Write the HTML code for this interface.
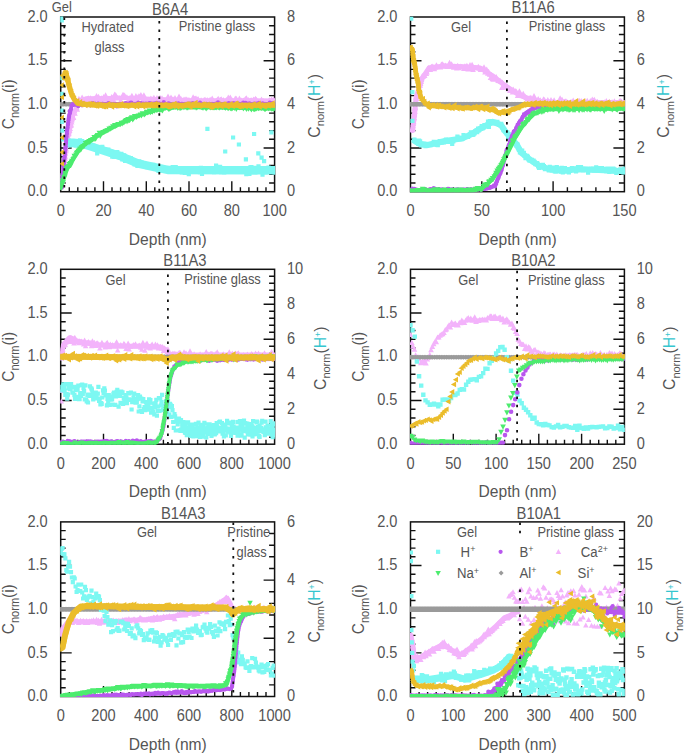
<!DOCTYPE html><html><head><meta charset="utf-8"><style>html,body{margin:0;padding:0;background:#fff;}svg{display:block;}</style></head><body>
<svg width="685" height="755" viewBox="0 0 685 755" font-family='"Liberation Sans", sans-serif'>
<rect width="685" height="755" fill="#fff"/>
<path d="M60.7 183h5M60.7 174.2h5M60.7 165.5h5M60.7 156.8h5M60.7 148h11M60.7 139.3h5M60.7 130.6h5M60.7 121.8h5M60.7 113.1h5M60.7 104.3h11M60.7 95.6h5M60.7 86.9h5M60.7 78.1h5M60.7 69.4h5M60.7 60.7h11M60.7 51.9h5M60.7 43.2h5M60.7 34.5h5M60.7 25.7h5M274.6 183h-5.5M274.6 174.2h-5.5M274.6 165.5h-5.5M274.6 156.8h-5.5M274.6 148h-11M274.6 139.3h-5.5M274.6 130.6h-5.5M274.6 121.8h-5.5M274.6 113.1h-5.5M274.6 104.3h-11M274.6 95.6h-5.5M274.6 86.9h-5.5M274.6 78.1h-5.5M274.6 69.4h-5.5M274.6 60.7h-11M274.6 51.9h-5.5M274.6 43.2h-5.5M274.6 34.5h-5.5M274.6 25.7h-5.5M69.3 191.7v-4.5M77.8 191.7v-4.5M86.4 191.7v-4.5M94.9 191.7v-4.5M103.5 191.7v-10.5M112 191.7v-4.5M120.6 191.7v-4.5M129.1 191.7v-4.5M137.7 191.7v-4.5M146.3 191.7v-10.5M154.8 191.7v-4.5M163.4 191.7v-4.5M171.9 191.7v-4.5M180.5 191.7v-4.5M189 191.7v-10.5M197.6 191.7v-4.5M206.2 191.7v-4.5M214.7 191.7v-4.5M223.3 191.7v-4.5M231.8 191.7v-10.5M240.4 191.7v-4.5M248.9 191.7v-4.5M257.5 191.7v-4.5M266 191.7v-4.5" stroke="#111" stroke-width="1.4" fill="none"/>
<rect x="60.7" y="17" width="213.9" height="174.7" fill="none" stroke="#111" stroke-width="1.5"/>
<clipPath id="c1"><rect x="60.2" y="16.5" width="214.9" height="175.7"/></clipPath><g clip-path="url(#c1)">
<polyline fill="none" stroke="#f3b3fb" stroke-width="4" stroke-linejoin="round" stroke-linecap="round" points="61.8,183 63.9,165.5 66,148 69.3,130.6 72.5,117.5 75.7,108.7 80,100.9 86.4,98.2 124.9,97.8 157,99.1 189,100 274.6,100.4"/>
<path fill="#f3b3fb" d="M61.8 179.8l2.8 5h-5.5zM61.9 178.8l2.8 5h-5.5zM62 176.7l2.8 5h-5.5zM62.1 178.9l2.8 5h-5.5zM62.3 177.7l2.8 5h-5.5zM62.4 175.7l2.8 5h-5.5zM62.5 171.4l2.8 5h-5.5zM62.7 173.8l2.8 5h-5.5zM62.8 169.3l2.8 5h-5.5zM62.9 169.6l2.8 5h-5.5zM63 170.4l2.8 5h-5.5zM63.2 169.7l2.8 5h-5.5zM63.3 168.4l2.8 5h-5.5zM63.4 165.8l2.8 5h-5.5zM63.5 166.7l2.8 5h-5.5zM63.7 163.8l2.8 5h-5.5zM63.8 163.2l2.8 5h-5.5zM63.9 163.7l2.8 5h-5.5zM64 161l2.8 5h-5.5zM64.2 159.9l2.8 5h-5.5zM64.3 158.4l2.8 5h-5.5zM64.4 159.3l2.8 5h-5.5zM64.5 157.7l2.8 5h-5.5zM64.7 153.4l2.8 5h-5.5zM64.8 155.4l2.8 5h-5.5zM64.9 155.3l2.8 5h-5.5zM65 151.2l2.8 5h-5.5zM65.2 153.5l2.8 5h-5.5zM65.3 153.7l2.8 5h-5.5zM65.4 150.6l2.8 5h-5.5zM65.5 150.4l2.8 5h-5.5zM65.7 147.6l2.8 5h-5.5zM65.8 145.8l2.8 5h-5.5zM65.9 148.3l2.8 5h-5.5zM66 143l2.8 5h-5.5zM66.2 146.5l2.8 5h-5.5zM66.4 140.2l2.8 5h-5.5zM66.6 142.8l2.8 5h-5.5zM66.8 139.4l2.8 5h-5.5zM67 141.9l2.8 5h-5.5zM67.2 139.5l2.8 5h-5.5zM67.4 140.6l2.8 5h-5.5zM67.6 137.9l2.8 5h-5.5zM67.7 133.6l2.8 5h-5.5zM67.9 136.5l2.8 5h-5.5zM68.1 130.9l2.8 5h-5.5zM68.3 134.3l2.8 5h-5.5zM68.5 131.6l2.8 5h-5.5zM68.7 128.8l2.8 5h-5.5zM68.9 130.7l2.8 5h-5.5zM69.1 129.3l2.8 5h-5.5zM69.3 128l2.8 5h-5.5zM69.5 125.8l2.8 5h-5.5zM69.7 127.4l2.8 5h-5.5zM70 123.4l2.8 5h-5.5zM70.2 126.1l2.8 5h-5.5zM70.5 120.6l2.8 5h-5.5zM70.7 121.5l2.8 5h-5.5zM71 123l2.8 5h-5.5zM71.2 121.7l2.8 5h-5.5zM71.5 117.5l2.8 5h-5.5zM71.7 119.5l2.8 5h-5.5zM72 117.3l2.8 5h-5.5zM72.2 116l2.8 5h-5.5zM72.5 114.4l2.8 5h-5.5zM72.8 114.6l2.8 5h-5.5zM73.2 114l2.8 5h-5.5zM73.5 115l2.8 5h-5.5zM73.9 110.1l2.8 5h-5.5zM74.2 109.8l2.8 5h-5.5zM74.6 108.3l2.8 5h-5.5zM75 110.8l2.8 5h-5.5zM75.3 105.2l2.8 5h-5.5zM75.7 106.6l2.8 5h-5.5zM76.2 104.3l2.8 5h-5.5zM76.7 104.4l2.8 5h-5.5zM77.3 106.8l2.8 5h-5.5zM77.8 101.2l2.8 5h-5.5zM78.3 100.7l2.8 5h-5.5zM78.9 95.8l2.8 5h-5.5zM79.4 100.7l2.8 5h-5.5zM80 98l2.8 5h-5.5zM81 99l2.8 5h-5.5zM82.1 94.6l2.8 5h-5.5zM83.2 96.3l2.8 5h-5.5zM84.2 98.1l2.8 5h-5.5zM85.3 97.6l2.8 5h-5.5zM86.4 96.6l2.8 5h-5.5zM87.4 95.8l2.8 5h-5.5zM88.4 95.2l2.8 5h-5.5zM89.4 96.7l2.8 5h-5.5zM90.4 95.3l2.8 5h-5.5zM91.4 97.1l2.8 5h-5.5zM92.4 99.7l2.8 5h-5.5zM93.5 96.8l2.8 5h-5.5zM94.5 95.6l2.8 5h-5.5zM95.5 95.7l2.8 5h-5.5zM96.5 93l2.8 5h-5.5zM97.5 96.3l2.8 5h-5.5zM98.5 93.7l2.8 5h-5.5zM99.5 97.3l2.8 5h-5.5zM100.6 97.6l2.8 5h-5.5zM101.6 95.3l2.8 5h-5.5zM102.6 96.5l2.8 5h-5.5zM103.6 93.9l2.8 5h-5.5zM104.6 96.8l2.8 5h-5.5zM105.6 92.2l2.8 5h-5.5zM106.6 95.1l2.8 5h-5.5zM107.6 95.9l2.8 5h-5.5zM108.7 97.6l2.8 5h-5.5zM109.7 97l2.8 5h-5.5zM110.7 97.5l2.8 5h-5.5zM111.7 94l2.8 5h-5.5zM112.7 95.4l2.8 5h-5.5zM113.7 97.4l2.8 5h-5.5zM114.7 91.6l2.8 5h-5.5zM115.8 92.2l2.8 5h-5.5zM116.8 95.6l2.8 5h-5.5zM117.8 95.1l2.8 5h-5.5zM118.8 95.2l2.8 5h-5.5zM119.8 95l2.8 5h-5.5zM120.8 97.4l2.8 5h-5.5zM121.8 94l2.8 5h-5.5zM122.8 92.1l2.8 5h-5.5zM123.9 92l2.8 5h-5.5zM124.9 93.1l2.8 5h-5.5zM125.9 94.8l2.8 5h-5.5zM126.9 94.2l2.8 5h-5.5zM127.9 98l2.8 5h-5.5zM128.9 96l2.8 5h-5.5zM129.9 94.9l2.8 5h-5.5zM130.9 94.4l2.8 5h-5.5zM131.9 92.7l2.8 5h-5.5zM132.9 97l2.8 5h-5.5zM133.9 95.4l2.8 5h-5.5zM134.9 95.7l2.8 5h-5.5zM135.9 93l2.8 5h-5.5zM136.9 97l2.8 5h-5.5zM137.9 94.2l2.8 5h-5.5zM138.9 93.2l2.8 5h-5.5zM139.9 93.8l2.8 5h-5.5zM140.9 92l2.8 5h-5.5zM141.9 94.7l2.8 5h-5.5zM142.9 96.9l2.8 5h-5.5zM143.9 92.3l2.8 5h-5.5zM144.9 96.3l2.8 5h-5.5zM145.9 97.1l2.8 5h-5.5zM146.9 97l2.8 5h-5.5zM147.9 98.1l2.8 5h-5.5zM148.9 96.7l2.8 5h-5.5zM149.9 97.5l2.8 5h-5.5zM150.9 95.6l2.8 5h-5.5zM151.9 99.2l2.8 5h-5.5zM152.9 96.9l2.8 5h-5.5zM153.9 94.8l2.8 5h-5.5zM154.9 99.2l2.8 5h-5.5zM156 97.2l2.8 5h-5.5zM157 94.9l2.8 5h-5.5zM158 96.8l2.8 5h-5.5zM159 96.4l2.8 5h-5.5zM160 94.8l2.8 5h-5.5zM161 97.9l2.8 5h-5.5zM162 95.2l2.8 5h-5.5zM163 100.7l2.8 5h-5.5zM164 97.6l2.8 5h-5.5zM165 97.6l2.8 5h-5.5zM166 99.3l2.8 5h-5.5zM167 96.5l2.8 5h-5.5zM168 93.6l2.8 5h-5.5zM169 97.2l2.8 5h-5.5zM170 98.8l2.8 5h-5.5zM171 94.5l2.8 5h-5.5zM172 97.2l2.8 5h-5.5zM173 96.2l2.8 5h-5.5zM174 100.2l2.8 5h-5.5zM175 95l2.8 5h-5.5zM176 99.6l2.8 5h-5.5zM177 99.8l2.8 5h-5.5zM178 95.6l2.8 5h-5.5zM179 93.6l2.8 5h-5.5zM180 96.9l2.8 5h-5.5zM181 95.9l2.8 5h-5.5zM182 97.8l2.8 5h-5.5zM183 98.1l2.8 5h-5.5zM184 96.6l2.8 5h-5.5zM185 97.2l2.8 5h-5.5zM186 96.2l2.8 5h-5.5zM187 97l2.8 5h-5.5zM188 97.2l2.8 5h-5.5zM189 97l2.8 5h-5.5zM190 97.9l2.8 5h-5.5zM191.1 97.9l2.8 5h-5.5zM192.1 97.9l2.8 5h-5.5zM193.1 94.3l2.8 5h-5.5zM194.1 95.8l2.8 5h-5.5zM195.1 95.6l2.8 5h-5.5zM196.1 95.6l2.8 5h-5.5zM197.1 96.7l2.8 5h-5.5zM198.1 96.1l2.8 5h-5.5zM199.1 98.1l2.8 5h-5.5zM200.1 99.6l2.8 5h-5.5zM201.1 97.3l2.8 5h-5.5zM202.1 99.9l2.8 5h-5.5zM203.1 98.9l2.8 5h-5.5zM204.1 97.1l2.8 5h-5.5zM205.1 96.8l2.8 5h-5.5zM206.2 98.3l2.8 5h-5.5zM207.2 97l2.8 5h-5.5zM208.2 99.3l2.8 5h-5.5zM209.2 97.5l2.8 5h-5.5zM210.2 96.8l2.8 5h-5.5zM211.2 98.9l2.8 5h-5.5zM212.2 95.5l2.8 5h-5.5zM213.2 97.9l2.8 5h-5.5zM214.2 98.6l2.8 5h-5.5zM215.2 98.7l2.8 5h-5.5zM216.2 97.7l2.8 5h-5.5zM217.2 97l2.8 5h-5.5zM218.2 95.7l2.8 5h-5.5zM219.2 97.4l2.8 5h-5.5zM220.2 96.7l2.8 5h-5.5zM221.3 96.3l2.8 5h-5.5zM222.3 98.3l2.8 5h-5.5zM223.3 97l2.8 5h-5.5zM224.3 100.3l2.8 5h-5.5zM225.3 99.1l2.8 5h-5.5zM226.3 97.1l2.8 5h-5.5zM227.3 98.7l2.8 5h-5.5zM228.3 94.4l2.8 5h-5.5zM229.3 98.4l2.8 5h-5.5zM230.3 94.6l2.8 5h-5.5zM231.3 96.5l2.8 5h-5.5zM232.3 97.5l2.8 5h-5.5zM233.3 98.5l2.8 5h-5.5zM234.3 99.8l2.8 5h-5.5zM235.3 95.4l2.8 5h-5.5zM236.3 95.8l2.8 5h-5.5zM237.4 97.4l2.8 5h-5.5zM238.4 98.3l2.8 5h-5.5zM239.4 95.5l2.8 5h-5.5zM240.4 97.2l2.8 5h-5.5zM241.4 97.4l2.8 5h-5.5zM242.4 98.6l2.8 5h-5.5zM243.4 97.4l2.8 5h-5.5zM244.4 97.2l2.8 5h-5.5zM245.4 96l2.8 5h-5.5zM246.4 95.2l2.8 5h-5.5zM247.4 97.8l2.8 5h-5.5zM248.4 97.1l2.8 5h-5.5zM249.4 98.3l2.8 5h-5.5zM250.4 97.5l2.8 5h-5.5zM251.4 97.3l2.8 5h-5.5zM252.5 98.7l2.8 5h-5.5zM253.5 96.4l2.8 5h-5.5zM254.5 97l2.8 5h-5.5zM255.5 95.8l2.8 5h-5.5zM256.5 96.8l2.8 5h-5.5zM257.5 98.4l2.8 5h-5.5zM258.5 101.2l2.8 5h-5.5zM259.5 99.3l2.8 5h-5.5zM260.5 99.4l2.8 5h-5.5zM261.5 96.4l2.8 5h-5.5zM262.5 98.6l2.8 5h-5.5zM263.5 98.1l2.8 5h-5.5zM264.5 98.8l2.8 5h-5.5zM265.5 98.4l2.8 5h-5.5zM266.5 98.4l2.8 5h-5.5zM267.6 99.5l2.8 5h-5.5zM268.6 98l2.8 5h-5.5zM269.6 97.3l2.8 5h-5.5zM270.6 99.5l2.8 5h-5.5zM271.6 96.4l2.8 5h-5.5zM272.6 98.6l2.8 5h-5.5zM273.6 96.4l2.8 5h-5.5zM274.6 100.3l2.8 5h-5.5z"/>
<polyline fill="none" stroke="#7cf8f2" stroke-width="8.5" stroke-linejoin="round" stroke-linecap="round" points="68.4,142.8 73.5,142.8 82.1,143.7 90.2,146.3 106.3,151.5 122.3,156.8 138.3,163.7 154.4,167.2 167.7,169.9 274.6,170.3"/>
<path fill="#7cf8f2" d="M66.3 141.2h4.2v4.2h-4.2zM67.3 143.2h4.2v4.2h-4.2zM68.4 141.9h4.2v4.2h-4.2zM69.4 139.5h4.2v4.2h-4.2zM70.4 143h4.2v4.2h-4.2zM71.4 139.5h4.2v4.2h-4.2zM72.5 140.7h4.2v4.2h-4.2zM73.6 143.6h4.2v4.2h-4.2zM74.6 140.1h4.2v4.2h-4.2zM75.7 141.1h4.2v4.2h-4.2zM76.8 140.1h4.2v4.2h-4.2zM77.9 138.3h4.2v4.2h-4.2zM78.9 143.8h4.2v4.2h-4.2zM80 138.9h4.2v4.2h-4.2zM81 143.9h4.2v4.2h-4.2zM82 142.1h4.2v4.2h-4.2zM83 142.3h4.2v4.2h-4.2zM84.1 142.9h4.2v4.2h-4.2zM85.1 143.1h4.2v4.2h-4.2zM86.1 144.3h4.2v4.2h-4.2zM87.1 142.3h4.2v4.2h-4.2zM88.1 143.3h4.2v4.2h-4.2zM89.1 145.8h4.2v4.2h-4.2zM90.1 144h4.2v4.2h-4.2zM91.1 143.5h4.2v4.2h-4.2zM92.1 146h4.2v4.2h-4.2zM93.1 146.8h4.2v4.2h-4.2zM94.1 144.9h4.2v4.2h-4.2zM95.1 151.4h4.2v4.2h-4.2zM96.1 145.9h4.2v4.2h-4.2zM97.1 147.4h4.2v4.2h-4.2zM98.1 147h4.2v4.2h-4.2zM99.1 147.9h4.2v4.2h-4.2zM100.2 144.8h4.2v4.2h-4.2zM101.2 148.4h4.2v4.2h-4.2zM102.2 146.9h4.2v4.2h-4.2zM103.2 148h4.2v4.2h-4.2zM104.2 150.7h4.2v4.2h-4.2zM105.2 150.6h4.2v4.2h-4.2zM106.2 147.6h4.2v4.2h-4.2zM107.2 151.2h4.2v4.2h-4.2zM108.2 150.6h4.2v4.2h-4.2zM109.2 149.5h4.2v4.2h-4.2zM110.2 154.6h4.2v4.2h-4.2zM111.2 152h4.2v4.2h-4.2zM112.2 154.7h4.2v4.2h-4.2zM113.2 153.9h4.2v4.2h-4.2zM114.2 152.7h4.2v4.2h-4.2zM115.2 149.9h4.2v4.2h-4.2zM116.2 154.9h4.2v4.2h-4.2zM117.2 155h4.2v4.2h-4.2zM118.2 154.8h4.2v4.2h-4.2zM119.2 151.7h4.2v4.2h-4.2zM120.2 157.3h4.2v4.2h-4.2zM121.1 153.3h4.2v4.2h-4.2zM122.1 153.3h4.2v4.2h-4.2zM123 158.9h4.2v4.2h-4.2zM124 156.7h4.2v4.2h-4.2zM124.9 155.8h4.2v4.2h-4.2zM125.9 158h4.2v4.2h-4.2zM126.8 155.8h4.2v4.2h-4.2zM127.8 158.5h4.2v4.2h-4.2zM128.7 156.1h4.2v4.2h-4.2zM129.6 157.8h4.2v4.2h-4.2zM130.6 159h4.2v4.2h-4.2zM131.5 159h4.2v4.2h-4.2zM132.5 162.4h4.2v4.2h-4.2zM133.4 161.9h4.2v4.2h-4.2zM134.4 161h4.2v4.2h-4.2zM135.3 163.9h4.2v4.2h-4.2zM136.2 161.5h4.2v4.2h-4.2zM137.2 159.2h4.2v4.2h-4.2zM138.3 160.9h4.2v4.2h-4.2zM139.3 160.3h4.2v4.2h-4.2zM140.3 162.6h4.2v4.2h-4.2zM141.3 161.8h4.2v4.2h-4.2zM142.3 162.5h4.2v4.2h-4.2zM143.3 164h4.2v4.2h-4.2zM144.3 162.2h4.2v4.2h-4.2zM145.3 165.1h4.2v4.2h-4.2zM146.3 164.4h4.2v4.2h-4.2zM147.3 164.6h4.2v4.2h-4.2zM148.3 163.1h4.2v4.2h-4.2zM149.3 163.4h4.2v4.2h-4.2zM150.3 165h4.2v4.2h-4.2zM151.3 162.8h4.2v4.2h-4.2zM152.3 166.2h4.2v4.2h-4.2zM153.3 166.4h4.2v4.2h-4.2zM154.3 165.9h4.2v4.2h-4.2zM155.3 167.4h4.2v4.2h-4.2zM156.4 168.9h4.2v4.2h-4.2zM157.4 165.5h4.2v4.2h-4.2zM158.4 167.8h4.2v4.2h-4.2zM159.4 168.2h4.2v4.2h-4.2zM160.4 166.7h4.2v4.2h-4.2zM161.5 166.1h4.2v4.2h-4.2zM162.5 166.1h4.2v4.2h-4.2zM163.5 167.4h4.2v4.2h-4.2zM164.5 167.3h4.2v4.2h-4.2zM165.6 168.6h4.2v4.2h-4.2zM166.6 168.9h4.2v4.2h-4.2zM167.6 165.8h4.2v4.2h-4.2zM168.6 168.6h4.2v4.2h-4.2zM169.6 169.7h4.2v4.2h-4.2zM170.6 165.1h4.2v4.2h-4.2zM171.6 168.4h4.2v4.2h-4.2zM172.6 168.1h4.2v4.2h-4.2zM173.6 165.1h4.2v4.2h-4.2zM174.6 167.9h4.2v4.2h-4.2zM175.6 168.4h4.2v4.2h-4.2zM176.6 169h4.2v4.2h-4.2zM177.7 167.7h4.2v4.2h-4.2zM178.7 167.1h4.2v4.2h-4.2zM179.7 170.2h4.2v4.2h-4.2zM180.7 167.6h4.2v4.2h-4.2zM181.7 167.3h4.2v4.2h-4.2zM182.7 170.8h4.2v4.2h-4.2zM183.7 170h4.2v4.2h-4.2zM184.7 168.2h4.2v4.2h-4.2zM185.7 168h4.2v4.2h-4.2zM186.7 172h4.2v4.2h-4.2zM187.7 166.8h4.2v4.2h-4.2zM188.8 166h4.2v4.2h-4.2zM189.8 168.9h4.2v4.2h-4.2zM190.8 168.8h4.2v4.2h-4.2zM191.8 169.2h4.2v4.2h-4.2zM192.8 166.7h4.2v4.2h-4.2zM193.8 167.2h4.2v4.2h-4.2zM194.8 168h4.2v4.2h-4.2zM195.8 168.8h4.2v4.2h-4.2zM196.8 167.9h4.2v4.2h-4.2zM197.8 170.1h4.2v4.2h-4.2zM198.8 165.7h4.2v4.2h-4.2zM199.9 171.8h4.2v4.2h-4.2zM200.9 167.8h4.2v4.2h-4.2zM201.9 169.6h4.2v4.2h-4.2zM202.9 167.4h4.2v4.2h-4.2zM203.9 168.1h4.2v4.2h-4.2zM204.9 166h4.2v4.2h-4.2zM205.9 167.9h4.2v4.2h-4.2zM206.9 167.5h4.2v4.2h-4.2zM207.9 168.7h4.2v4.2h-4.2zM208.9 166.4h4.2v4.2h-4.2zM209.9 167.9h4.2v4.2h-4.2zM211 168h4.2v4.2h-4.2zM212 170h4.2v4.2h-4.2zM213 166.6h4.2v4.2h-4.2zM214 163.6h4.2v4.2h-4.2zM215 166.7h4.2v4.2h-4.2zM216 168.9h4.2v4.2h-4.2zM217 168.8h4.2v4.2h-4.2zM218 164.8h4.2v4.2h-4.2zM219 170.1h4.2v4.2h-4.2zM220 169.4h4.2v4.2h-4.2zM221 168.8h4.2v4.2h-4.2zM222.1 170.3h4.2v4.2h-4.2zM223.1 169.5h4.2v4.2h-4.2zM224.1 169.3h4.2v4.2h-4.2zM225.1 167.8h4.2v4.2h-4.2zM226.1 168.8h4.2v4.2h-4.2zM227.1 166h4.2v4.2h-4.2zM228.1 168.4h4.2v4.2h-4.2zM229.1 168.8h4.2v4.2h-4.2zM230.1 168h4.2v4.2h-4.2zM231.1 167.3h4.2v4.2h-4.2zM232.1 169.6h4.2v4.2h-4.2zM233.2 167.6h4.2v4.2h-4.2zM234.2 167.6h4.2v4.2h-4.2zM235.2 168.7h4.2v4.2h-4.2zM236.2 168.8h4.2v4.2h-4.2zM237.2 166.3h4.2v4.2h-4.2zM238.2 167.6h4.2v4.2h-4.2zM239.2 169.5h4.2v4.2h-4.2zM240.2 166.9h4.2v4.2h-4.2zM241.2 166.5h4.2v4.2h-4.2zM242.2 167.2h4.2v4.2h-4.2zM243.2 166.9h4.2v4.2h-4.2zM244.2 172h4.2v4.2h-4.2zM245.3 167.3h4.2v4.2h-4.2zM246.3 167.9h4.2v4.2h-4.2zM247.3 171.9h4.2v4.2h-4.2zM248.3 165.2h4.2v4.2h-4.2zM249.3 165.1h4.2v4.2h-4.2zM250.3 167.1h4.2v4.2h-4.2zM251.3 170.3h4.2v4.2h-4.2zM252.3 165.7h4.2v4.2h-4.2zM253.3 170.2h4.2v4.2h-4.2zM254.3 166.7h4.2v4.2h-4.2zM255.3 169h4.2v4.2h-4.2zM256.4 164.2h4.2v4.2h-4.2zM257.4 169.7h4.2v4.2h-4.2zM258.4 169.7h4.2v4.2h-4.2zM259.4 168.4h4.2v4.2h-4.2zM260.4 172.6h4.2v4.2h-4.2zM261.4 167.6h4.2v4.2h-4.2zM262.4 169.7h4.2v4.2h-4.2zM263.4 170.2h4.2v4.2h-4.2zM264.4 168.6h4.2v4.2h-4.2zM265.4 168.4h4.2v4.2h-4.2zM266.4 165.4h4.2v4.2h-4.2zM267.5 168.7h4.2v4.2h-4.2zM268.5 168.5h4.2v4.2h-4.2zM269.5 166.5h4.2v4.2h-4.2zM270.5 169.1h4.2v4.2h-4.2zM271.5 167.6h4.2v4.2h-4.2zM272.5 170.4h4.2v4.2h-4.2zM59 15.8h4.2v4.2h-4.2zM59.7 18.4h4.2v4.2h-4.2zM59.5 76h4.2v4.2h-4.2zM59.7 91.8h4.2v4.2h-4.2zM59.9 108.4h4.2v4.2h-4.2zM59.7 119.7h4.2v4.2h-4.2zM60.1 128.5h4.2v4.2h-4.2zM61.2 137.2h4.2v4.2h-4.2zM205.3 126.7h4.2v4.2h-4.2zM231 135.4h4.2v4.2h-4.2zM236.8 142.4h4.2v4.2h-4.2zM223.1 149.4h4.2v4.2h-4.2zM252 131.9h4.2v4.2h-4.2zM269.3 130.2h4.2v4.2h-4.2zM243.8 157.3h4.2v4.2h-4.2zM256.2 151.2h4.2v4.2h-4.2zM259.5 155.5h4.2v4.2h-4.2zM262 159h4.2v4.2h-4.2z"/>
<polyline fill="none" stroke="#9a9a9a" stroke-width="3.5" stroke-linejoin="round" stroke-linecap="round" points="60.7,104.3 274.6,104.3"/>
<path fill="#9a9a9a" d="M60.7 101.8l2.5 2.5 -2.5 2.5 -2.5 -2.5zM62.2 101.8l2.5 2.5 -2.5 2.5 -2.5 -2.5zM63.7 101.8l2.5 2.5 -2.5 2.5 -2.5 -2.5zM65.2 101.8l2.5 2.5 -2.5 2.5 -2.5 -2.5zM66.7 101.8l2.5 2.5 -2.5 2.5 -2.5 -2.5zM68.2 101.8l2.5 2.5 -2.5 2.5 -2.5 -2.5zM69.7 101.8l2.5 2.5 -2.5 2.5 -2.5 -2.5zM71.2 101.8l2.5 2.5 -2.5 2.5 -2.5 -2.5zM72.8 101.8l2.5 2.5 -2.5 2.5 -2.5 -2.5zM74.3 101.8l2.5 2.5 -2.5 2.5 -2.5 -2.5zM75.8 101.8l2.5 2.5 -2.5 2.5 -2.5 -2.5zM77.3 101.8l2.5 2.5 -2.5 2.5 -2.5 -2.5zM78.8 101.8l2.5 2.5 -2.5 2.5 -2.5 -2.5zM80.3 101.8l2.5 2.5 -2.5 2.5 -2.5 -2.5zM81.8 101.8l2.5 2.5 -2.5 2.5 -2.5 -2.5zM83.3 101.8l2.5 2.5 -2.5 2.5 -2.5 -2.5zM84.8 101.8l2.5 2.5 -2.5 2.5 -2.5 -2.5zM86.3 101.8l2.5 2.5 -2.5 2.5 -2.5 -2.5zM87.8 101.8l2.5 2.5 -2.5 2.5 -2.5 -2.5zM89.3 101.8l2.5 2.5 -2.5 2.5 -2.5 -2.5zM90.8 101.8l2.5 2.5 -2.5 2.5 -2.5 -2.5zM92.3 101.8l2.5 2.5 -2.5 2.5 -2.5 -2.5zM93.8 101.8l2.5 2.5 -2.5 2.5 -2.5 -2.5zM95.3 101.8l2.5 2.5 -2.5 2.5 -2.5 -2.5zM96.9 101.8l2.5 2.5 -2.5 2.5 -2.5 -2.5zM98.4 101.8l2.5 2.5 -2.5 2.5 -2.5 -2.5zM99.9 101.8l2.5 2.5 -2.5 2.5 -2.5 -2.5zM101.4 101.8l2.5 2.5 -2.5 2.5 -2.5 -2.5zM102.9 101.8l2.5 2.5 -2.5 2.5 -2.5 -2.5zM104.4 101.8l2.5 2.5 -2.5 2.5 -2.5 -2.5zM105.9 101.8l2.5 2.5 -2.5 2.5 -2.5 -2.5zM107.4 101.8l2.5 2.5 -2.5 2.5 -2.5 -2.5zM108.9 101.8l2.5 2.5 -2.5 2.5 -2.5 -2.5zM110.4 101.8l2.5 2.5 -2.5 2.5 -2.5 -2.5zM111.9 101.8l2.5 2.5 -2.5 2.5 -2.5 -2.5zM113.4 101.8l2.5 2.5 -2.5 2.5 -2.5 -2.5zM114.9 101.8l2.5 2.5 -2.5 2.5 -2.5 -2.5zM116.4 101.8l2.5 2.5 -2.5 2.5 -2.5 -2.5zM117.9 101.8l2.5 2.5 -2.5 2.5 -2.5 -2.5zM119.4 101.8l2.5 2.5 -2.5 2.5 -2.5 -2.5zM121 101.8l2.5 2.5 -2.5 2.5 -2.5 -2.5zM122.5 101.8l2.5 2.5 -2.5 2.5 -2.5 -2.5zM124 101.8l2.5 2.5 -2.5 2.5 -2.5 -2.5zM125.5 101.8l2.5 2.5 -2.5 2.5 -2.5 -2.5zM127 101.8l2.5 2.5 -2.5 2.5 -2.5 -2.5zM128.5 101.8l2.5 2.5 -2.5 2.5 -2.5 -2.5zM130 101.8l2.5 2.5 -2.5 2.5 -2.5 -2.5zM131.5 101.8l2.5 2.5 -2.5 2.5 -2.5 -2.5zM133 101.8l2.5 2.5 -2.5 2.5 -2.5 -2.5zM134.5 101.8l2.5 2.5 -2.5 2.5 -2.5 -2.5zM136 101.8l2.5 2.5 -2.5 2.5 -2.5 -2.5zM137.5 101.8l2.5 2.5 -2.5 2.5 -2.5 -2.5zM139 101.8l2.5 2.5 -2.5 2.5 -2.5 -2.5zM140.5 101.8l2.5 2.5 -2.5 2.5 -2.5 -2.5zM142 101.8l2.5 2.5 -2.5 2.5 -2.5 -2.5zM143.5 101.8l2.5 2.5 -2.5 2.5 -2.5 -2.5zM145.1 101.8l2.5 2.5 -2.5 2.5 -2.5 -2.5zM146.6 101.8l2.5 2.5 -2.5 2.5 -2.5 -2.5zM148.1 101.8l2.5 2.5 -2.5 2.5 -2.5 -2.5zM149.6 101.8l2.5 2.5 -2.5 2.5 -2.5 -2.5zM151.1 101.8l2.5 2.5 -2.5 2.5 -2.5 -2.5zM152.6 101.8l2.5 2.5 -2.5 2.5 -2.5 -2.5zM154.1 101.8l2.5 2.5 -2.5 2.5 -2.5 -2.5zM155.6 101.8l2.5 2.5 -2.5 2.5 -2.5 -2.5zM157.1 101.8l2.5 2.5 -2.5 2.5 -2.5 -2.5zM158.6 101.8l2.5 2.5 -2.5 2.5 -2.5 -2.5zM160.1 101.8l2.5 2.5 -2.5 2.5 -2.5 -2.5zM161.6 101.8l2.5 2.5 -2.5 2.5 -2.5 -2.5zM163.1 101.8l2.5 2.5 -2.5 2.5 -2.5 -2.5zM164.6 101.8l2.5 2.5 -2.5 2.5 -2.5 -2.5zM166.1 101.8l2.5 2.5 -2.5 2.5 -2.5 -2.5zM167.7 101.8l2.5 2.5 -2.5 2.5 -2.5 -2.5zM169.2 101.8l2.5 2.5 -2.5 2.5 -2.5 -2.5zM170.7 101.8l2.5 2.5 -2.5 2.5 -2.5 -2.5zM172.2 101.8l2.5 2.5 -2.5 2.5 -2.5 -2.5zM173.7 101.8l2.5 2.5 -2.5 2.5 -2.5 -2.5zM175.2 101.8l2.5 2.5 -2.5 2.5 -2.5 -2.5zM176.7 101.8l2.5 2.5 -2.5 2.5 -2.5 -2.5zM178.2 101.8l2.5 2.5 -2.5 2.5 -2.5 -2.5zM179.7 101.8l2.5 2.5 -2.5 2.5 -2.5 -2.5zM181.2 101.8l2.5 2.5 -2.5 2.5 -2.5 -2.5zM182.7 101.8l2.5 2.5 -2.5 2.5 -2.5 -2.5zM184.2 101.8l2.5 2.5 -2.5 2.5 -2.5 -2.5zM185.7 101.8l2.5 2.5 -2.5 2.5 -2.5 -2.5zM187.2 101.8l2.5 2.5 -2.5 2.5 -2.5 -2.5zM188.7 101.8l2.5 2.5 -2.5 2.5 -2.5 -2.5zM190.2 101.8l2.5 2.5 -2.5 2.5 -2.5 -2.5zM191.8 101.8l2.5 2.5 -2.5 2.5 -2.5 -2.5zM193.3 101.8l2.5 2.5 -2.5 2.5 -2.5 -2.5zM194.8 101.8l2.5 2.5 -2.5 2.5 -2.5 -2.5zM196.3 101.8l2.5 2.5 -2.5 2.5 -2.5 -2.5zM197.8 101.8l2.5 2.5 -2.5 2.5 -2.5 -2.5zM199.3 101.8l2.5 2.5 -2.5 2.5 -2.5 -2.5zM200.8 101.8l2.5 2.5 -2.5 2.5 -2.5 -2.5zM202.3 101.8l2.5 2.5 -2.5 2.5 -2.5 -2.5zM203.8 101.8l2.5 2.5 -2.5 2.5 -2.5 -2.5zM205.3 101.8l2.5 2.5 -2.5 2.5 -2.5 -2.5zM206.8 101.8l2.5 2.5 -2.5 2.5 -2.5 -2.5zM208.3 101.8l2.5 2.5 -2.5 2.5 -2.5 -2.5zM209.8 101.8l2.5 2.5 -2.5 2.5 -2.5 -2.5zM211.3 101.8l2.5 2.5 -2.5 2.5 -2.5 -2.5zM212.8 101.8l2.5 2.5 -2.5 2.5 -2.5 -2.5zM214.3 101.8l2.5 2.5 -2.5 2.5 -2.5 -2.5zM215.9 101.8l2.5 2.5 -2.5 2.5 -2.5 -2.5zM217.4 101.8l2.5 2.5 -2.5 2.5 -2.5 -2.5zM218.9 101.8l2.5 2.5 -2.5 2.5 -2.5 -2.5zM220.4 101.8l2.5 2.5 -2.5 2.5 -2.5 -2.5zM221.9 101.8l2.5 2.5 -2.5 2.5 -2.5 -2.5zM223.4 101.8l2.5 2.5 -2.5 2.5 -2.5 -2.5zM224.9 101.8l2.5 2.5 -2.5 2.5 -2.5 -2.5zM226.4 101.8l2.5 2.5 -2.5 2.5 -2.5 -2.5zM227.9 101.8l2.5 2.5 -2.5 2.5 -2.5 -2.5zM229.4 101.8l2.5 2.5 -2.5 2.5 -2.5 -2.5zM230.9 101.8l2.5 2.5 -2.5 2.5 -2.5 -2.5zM232.4 101.8l2.5 2.5 -2.5 2.5 -2.5 -2.5zM233.9 101.8l2.5 2.5 -2.5 2.5 -2.5 -2.5zM235.4 101.8l2.5 2.5 -2.5 2.5 -2.5 -2.5zM236.9 101.8l2.5 2.5 -2.5 2.5 -2.5 -2.5zM238.4 101.8l2.5 2.5 -2.5 2.5 -2.5 -2.5zM240 101.8l2.5 2.5 -2.5 2.5 -2.5 -2.5zM241.5 101.8l2.5 2.5 -2.5 2.5 -2.5 -2.5zM243 101.8l2.5 2.5 -2.5 2.5 -2.5 -2.5zM244.5 101.8l2.5 2.5 -2.5 2.5 -2.5 -2.5zM246 101.8l2.5 2.5 -2.5 2.5 -2.5 -2.5zM247.5 101.8l2.5 2.5 -2.5 2.5 -2.5 -2.5zM249 101.8l2.5 2.5 -2.5 2.5 -2.5 -2.5zM250.5 101.8l2.5 2.5 -2.5 2.5 -2.5 -2.5zM252 101.8l2.5 2.5 -2.5 2.5 -2.5 -2.5zM253.5 101.8l2.5 2.5 -2.5 2.5 -2.5 -2.5zM255 101.8l2.5 2.5 -2.5 2.5 -2.5 -2.5zM256.5 101.8l2.5 2.5 -2.5 2.5 -2.5 -2.5zM258 101.8l2.5 2.5 -2.5 2.5 -2.5 -2.5zM259.5 101.8l2.5 2.5 -2.5 2.5 -2.5 -2.5zM261 101.8l2.5 2.5 -2.5 2.5 -2.5 -2.5zM262.5 101.8l2.5 2.5 -2.5 2.5 -2.5 -2.5zM264.1 101.8l2.5 2.5 -2.5 2.5 -2.5 -2.5zM265.6 101.8l2.5 2.5 -2.5 2.5 -2.5 -2.5zM267.1 101.8l2.5 2.5 -2.5 2.5 -2.5 -2.5zM268.6 101.8l2.5 2.5 -2.5 2.5 -2.5 -2.5zM270.1 101.8l2.5 2.5 -2.5 2.5 -2.5 -2.5zM271.6 101.8l2.5 2.5 -2.5 2.5 -2.5 -2.5zM273.1 101.8l2.5 2.5 -2.5 2.5 -2.5 -2.5zM274.6 101.8l2.5 2.5 -2.5 2.5 -2.5 -2.5z"/>
<polyline fill="none" stroke="#b857ee" stroke-width="3.5" stroke-linejoin="round" stroke-linecap="round" points="61.8,187.3 62.8,174.2 65,152.4 67.1,130.6 69.3,114.8 71.4,107 73.5,104.3 274.6,104.3"/>
<path fill="#b857ee" d="M59.7 187.7a2.1 2.1 0 1 0 4.2 0a2.1 2.1 0 1 0 -4.2 0zM59.8 185.1a2.1 2.1 0 1 0 4.2 0a2.1 2.1 0 1 0 -4.2 0zM59.9 184.6a2.1 2.1 0 1 0 4.2 0a2.1 2.1 0 1 0 -4.2 0zM60 183.3a2.1 2.1 0 1 0 4.2 0a2.1 2.1 0 1 0 -4.2 0zM60.1 181.8a2.1 2.1 0 1 0 4.2 0a2.1 2.1 0 1 0 -4.2 0zM60.2 181.7a2.1 2.1 0 1 0 4.2 0a2.1 2.1 0 1 0 -4.2 0zM60.3 180.8a2.1 2.1 0 1 0 4.2 0a2.1 2.1 0 1 0 -4.2 0zM60.4 177.7a2.1 2.1 0 1 0 4.2 0a2.1 2.1 0 1 0 -4.2 0zM60.5 176.3a2.1 2.1 0 1 0 4.2 0a2.1 2.1 0 1 0 -4.2 0zM60.6 174.8a2.1 2.1 0 1 0 4.2 0a2.1 2.1 0 1 0 -4.2 0zM60.7 174.5a2.1 2.1 0 1 0 4.2 0a2.1 2.1 0 1 0 -4.2 0zM60.9 173.2a2.1 2.1 0 1 0 4.2 0a2.1 2.1 0 1 0 -4.2 0zM61 172a2.1 2.1 0 1 0 4.2 0a2.1 2.1 0 1 0 -4.2 0zM61.1 171.4a2.1 2.1 0 1 0 4.2 0a2.1 2.1 0 1 0 -4.2 0zM61.2 168.1a2.1 2.1 0 1 0 4.2 0a2.1 2.1 0 1 0 -4.2 0zM61.3 168.3a2.1 2.1 0 1 0 4.2 0a2.1 2.1 0 1 0 -4.2 0zM61.5 165.5a2.1 2.1 0 1 0 4.2 0a2.1 2.1 0 1 0 -4.2 0zM61.6 165.8a2.1 2.1 0 1 0 4.2 0a2.1 2.1 0 1 0 -4.2 0zM61.7 164.1a2.1 2.1 0 1 0 4.2 0a2.1 2.1 0 1 0 -4.2 0zM61.8 164.3a2.1 2.1 0 1 0 4.2 0a2.1 2.1 0 1 0 -4.2 0zM61.9 161.3a2.1 2.1 0 1 0 4.2 0a2.1 2.1 0 1 0 -4.2 0zM62 161.3a2.1 2.1 0 1 0 4.2 0a2.1 2.1 0 1 0 -4.2 0zM62.2 159.8a2.1 2.1 0 1 0 4.2 0a2.1 2.1 0 1 0 -4.2 0zM62.3 159.1a2.1 2.1 0 1 0 4.2 0a2.1 2.1 0 1 0 -4.2 0zM62.4 157.7a2.1 2.1 0 1 0 4.2 0a2.1 2.1 0 1 0 -4.2 0zM62.5 156.3a2.1 2.1 0 1 0 4.2 0a2.1 2.1 0 1 0 -4.2 0zM62.6 154.3a2.1 2.1 0 1 0 4.2 0a2.1 2.1 0 1 0 -4.2 0zM62.8 153.9a2.1 2.1 0 1 0 4.2 0a2.1 2.1 0 1 0 -4.2 0zM62.9 152.4a2.1 2.1 0 1 0 4.2 0a2.1 2.1 0 1 0 -4.2 0zM63 150.7a2.1 2.1 0 1 0 4.2 0a2.1 2.1 0 1 0 -4.2 0zM63.1 149.7a2.1 2.1 0 1 0 4.2 0a2.1 2.1 0 1 0 -4.2 0zM63.2 150.1a2.1 2.1 0 1 0 4.2 0a2.1 2.1 0 1 0 -4.2 0zM63.4 149.3a2.1 2.1 0 1 0 4.2 0a2.1 2.1 0 1 0 -4.2 0zM63.5 147a2.1 2.1 0 1 0 4.2 0a2.1 2.1 0 1 0 -4.2 0zM63.6 146.7a2.1 2.1 0 1 0 4.2 0a2.1 2.1 0 1 0 -4.2 0zM63.7 143.8a2.1 2.1 0 1 0 4.2 0a2.1 2.1 0 1 0 -4.2 0zM63.8 143.1a2.1 2.1 0 1 0 4.2 0a2.1 2.1 0 1 0 -4.2 0zM63.9 141.9a2.1 2.1 0 1 0 4.2 0a2.1 2.1 0 1 0 -4.2 0zM64.1 140.1a2.1 2.1 0 1 0 4.2 0a2.1 2.1 0 1 0 -4.2 0zM64.2 137.8a2.1 2.1 0 1 0 4.2 0a2.1 2.1 0 1 0 -4.2 0zM64.3 137.5a2.1 2.1 0 1 0 4.2 0a2.1 2.1 0 1 0 -4.2 0zM64.4 136a2.1 2.1 0 1 0 4.2 0a2.1 2.1 0 1 0 -4.2 0zM64.5 136.2a2.1 2.1 0 1 0 4.2 0a2.1 2.1 0 1 0 -4.2 0zM64.7 133a2.1 2.1 0 1 0 4.2 0a2.1 2.1 0 1 0 -4.2 0zM64.8 133.8a2.1 2.1 0 1 0 4.2 0a2.1 2.1 0 1 0 -4.2 0zM64.9 130.5a2.1 2.1 0 1 0 4.2 0a2.1 2.1 0 1 0 -4.2 0zM65 130a2.1 2.1 0 1 0 4.2 0a2.1 2.1 0 1 0 -4.2 0zM65.2 129a2.1 2.1 0 1 0 4.2 0a2.1 2.1 0 1 0 -4.2 0zM65.3 128.3a2.1 2.1 0 1 0 4.2 0a2.1 2.1 0 1 0 -4.2 0zM65.5 127.7a2.1 2.1 0 1 0 4.2 0a2.1 2.1 0 1 0 -4.2 0zM65.7 125.1a2.1 2.1 0 1 0 4.2 0a2.1 2.1 0 1 0 -4.2 0zM65.8 124a2.1 2.1 0 1 0 4.2 0a2.1 2.1 0 1 0 -4.2 0zM66 124a2.1 2.1 0 1 0 4.2 0a2.1 2.1 0 1 0 -4.2 0zM66.2 122.4a2.1 2.1 0 1 0 4.2 0a2.1 2.1 0 1 0 -4.2 0zM66.3 120.4a2.1 2.1 0 1 0 4.2 0a2.1 2.1 0 1 0 -4.2 0zM66.5 118.8a2.1 2.1 0 1 0 4.2 0a2.1 2.1 0 1 0 -4.2 0zM66.7 117.8a2.1 2.1 0 1 0 4.2 0a2.1 2.1 0 1 0 -4.2 0zM66.8 116.3a2.1 2.1 0 1 0 4.2 0a2.1 2.1 0 1 0 -4.2 0zM67 116.6a2.1 2.1 0 1 0 4.2 0a2.1 2.1 0 1 0 -4.2 0zM67.2 115a2.1 2.1 0 1 0 4.2 0a2.1 2.1 0 1 0 -4.2 0zM67.5 111.2a2.1 2.1 0 1 0 4.2 0a2.1 2.1 0 1 0 -4.2 0zM67.9 113.3a2.1 2.1 0 1 0 4.2 0a2.1 2.1 0 1 0 -4.2 0zM68.2 111.7a2.1 2.1 0 1 0 4.2 0a2.1 2.1 0 1 0 -4.2 0zM68.6 110.6a2.1 2.1 0 1 0 4.2 0a2.1 2.1 0 1 0 -4.2 0zM68.9 109.2a2.1 2.1 0 1 0 4.2 0a2.1 2.1 0 1 0 -4.2 0zM69.3 105.6a2.1 2.1 0 1 0 4.2 0a2.1 2.1 0 1 0 -4.2 0zM70.4 104.4a2.1 2.1 0 1 0 4.2 0a2.1 2.1 0 1 0 -4.2 0zM71.4 104.9a2.1 2.1 0 1 0 4.2 0a2.1 2.1 0 1 0 -4.2 0zM72.6 102.6a2.1 2.1 0 1 0 4.2 0a2.1 2.1 0 1 0 -4.2 0zM73.8 104.7a2.1 2.1 0 1 0 4.2 0a2.1 2.1 0 1 0 -4.2 0zM75 103.2a2.1 2.1 0 1 0 4.2 0a2.1 2.1 0 1 0 -4.2 0zM76.2 106.2a2.1 2.1 0 1 0 4.2 0a2.1 2.1 0 1 0 -4.2 0zM77.5 104.2a2.1 2.1 0 1 0 4.2 0a2.1 2.1 0 1 0 -4.2 0zM78.7 104.2a2.1 2.1 0 1 0 4.2 0a2.1 2.1 0 1 0 -4.2 0zM79.9 105.3a2.1 2.1 0 1 0 4.2 0a2.1 2.1 0 1 0 -4.2 0zM81.1 103.2a2.1 2.1 0 1 0 4.2 0a2.1 2.1 0 1 0 -4.2 0zM82.3 103.9a2.1 2.1 0 1 0 4.2 0a2.1 2.1 0 1 0 -4.2 0zM83.5 104.6a2.1 2.1 0 1 0 4.2 0a2.1 2.1 0 1 0 -4.2 0zM84.7 105.3a2.1 2.1 0 1 0 4.2 0a2.1 2.1 0 1 0 -4.2 0zM85.9 104.7a2.1 2.1 0 1 0 4.2 0a2.1 2.1 0 1 0 -4.2 0zM87.1 103.9a2.1 2.1 0 1 0 4.2 0a2.1 2.1 0 1 0 -4.2 0zM88.3 105.4a2.1 2.1 0 1 0 4.2 0a2.1 2.1 0 1 0 -4.2 0zM89.5 104.8a2.1 2.1 0 1 0 4.2 0a2.1 2.1 0 1 0 -4.2 0zM90.7 103.2a2.1 2.1 0 1 0 4.2 0a2.1 2.1 0 1 0 -4.2 0zM91.9 104.7a2.1 2.1 0 1 0 4.2 0a2.1 2.1 0 1 0 -4.2 0zM93.1 103.6a2.1 2.1 0 1 0 4.2 0a2.1 2.1 0 1 0 -4.2 0zM94.3 105a2.1 2.1 0 1 0 4.2 0a2.1 2.1 0 1 0 -4.2 0zM95.5 103.6a2.1 2.1 0 1 0 4.2 0a2.1 2.1 0 1 0 -4.2 0zM96.7 103.9a2.1 2.1 0 1 0 4.2 0a2.1 2.1 0 1 0 -4.2 0zM97.9 104.8a2.1 2.1 0 1 0 4.2 0a2.1 2.1 0 1 0 -4.2 0zM99.1 104.8a2.1 2.1 0 1 0 4.2 0a2.1 2.1 0 1 0 -4.2 0zM100.3 103.9a2.1 2.1 0 1 0 4.2 0a2.1 2.1 0 1 0 -4.2 0zM101.5 103.8a2.1 2.1 0 1 0 4.2 0a2.1 2.1 0 1 0 -4.2 0zM102.7 105.7a2.1 2.1 0 1 0 4.2 0a2.1 2.1 0 1 0 -4.2 0zM103.9 104.2a2.1 2.1 0 1 0 4.2 0a2.1 2.1 0 1 0 -4.2 0zM105.1 104a2.1 2.1 0 1 0 4.2 0a2.1 2.1 0 1 0 -4.2 0zM106.3 103.2a2.1 2.1 0 1 0 4.2 0a2.1 2.1 0 1 0 -4.2 0zM107.6 103.9a2.1 2.1 0 1 0 4.2 0a2.1 2.1 0 1 0 -4.2 0zM108.8 105.9a2.1 2.1 0 1 0 4.2 0a2.1 2.1 0 1 0 -4.2 0zM110 105.9a2.1 2.1 0 1 0 4.2 0a2.1 2.1 0 1 0 -4.2 0zM111.2 105.6a2.1 2.1 0 1 0 4.2 0a2.1 2.1 0 1 0 -4.2 0zM112.4 105.4a2.1 2.1 0 1 0 4.2 0a2.1 2.1 0 1 0 -4.2 0zM113.6 104.2a2.1 2.1 0 1 0 4.2 0a2.1 2.1 0 1 0 -4.2 0zM114.8 106.5a2.1 2.1 0 1 0 4.2 0a2.1 2.1 0 1 0 -4.2 0zM116 104a2.1 2.1 0 1 0 4.2 0a2.1 2.1 0 1 0 -4.2 0zM117.2 104.7a2.1 2.1 0 1 0 4.2 0a2.1 2.1 0 1 0 -4.2 0zM118.4 104.5a2.1 2.1 0 1 0 4.2 0a2.1 2.1 0 1 0 -4.2 0zM119.6 104.1a2.1 2.1 0 1 0 4.2 0a2.1 2.1 0 1 0 -4.2 0zM120.8 105.6a2.1 2.1 0 1 0 4.2 0a2.1 2.1 0 1 0 -4.2 0zM122 105.3a2.1 2.1 0 1 0 4.2 0a2.1 2.1 0 1 0 -4.2 0zM123.2 103.2a2.1 2.1 0 1 0 4.2 0a2.1 2.1 0 1 0 -4.2 0zM124.4 103.4a2.1 2.1 0 1 0 4.2 0a2.1 2.1 0 1 0 -4.2 0zM125.6 104.7a2.1 2.1 0 1 0 4.2 0a2.1 2.1 0 1 0 -4.2 0zM126.8 104.8a2.1 2.1 0 1 0 4.2 0a2.1 2.1 0 1 0 -4.2 0zM128 102.9a2.1 2.1 0 1 0 4.2 0a2.1 2.1 0 1 0 -4.2 0zM129.2 102.7a2.1 2.1 0 1 0 4.2 0a2.1 2.1 0 1 0 -4.2 0zM130.4 103.7a2.1 2.1 0 1 0 4.2 0a2.1 2.1 0 1 0 -4.2 0zM131.6 104.4a2.1 2.1 0 1 0 4.2 0a2.1 2.1 0 1 0 -4.2 0zM132.8 104a2.1 2.1 0 1 0 4.2 0a2.1 2.1 0 1 0 -4.2 0zM134 103.9a2.1 2.1 0 1 0 4.2 0a2.1 2.1 0 1 0 -4.2 0zM135.2 103.3a2.1 2.1 0 1 0 4.2 0a2.1 2.1 0 1 0 -4.2 0zM136.4 102.7a2.1 2.1 0 1 0 4.2 0a2.1 2.1 0 1 0 -4.2 0zM137.7 106a2.1 2.1 0 1 0 4.2 0a2.1 2.1 0 1 0 -4.2 0zM138.9 103.2a2.1 2.1 0 1 0 4.2 0a2.1 2.1 0 1 0 -4.2 0zM140.1 103.5a2.1 2.1 0 1 0 4.2 0a2.1 2.1 0 1 0 -4.2 0zM141.3 103.7a2.1 2.1 0 1 0 4.2 0a2.1 2.1 0 1 0 -4.2 0zM142.5 104.7a2.1 2.1 0 1 0 4.2 0a2.1 2.1 0 1 0 -4.2 0zM143.7 103.5a2.1 2.1 0 1 0 4.2 0a2.1 2.1 0 1 0 -4.2 0zM144.9 105.5a2.1 2.1 0 1 0 4.2 0a2.1 2.1 0 1 0 -4.2 0zM146.1 103.5a2.1 2.1 0 1 0 4.2 0a2.1 2.1 0 1 0 -4.2 0zM147.3 103.2a2.1 2.1 0 1 0 4.2 0a2.1 2.1 0 1 0 -4.2 0zM148.5 103.3a2.1 2.1 0 1 0 4.2 0a2.1 2.1 0 1 0 -4.2 0zM149.7 104.5a2.1 2.1 0 1 0 4.2 0a2.1 2.1 0 1 0 -4.2 0zM150.9 104.1a2.1 2.1 0 1 0 4.2 0a2.1 2.1 0 1 0 -4.2 0zM152.1 103.4a2.1 2.1 0 1 0 4.2 0a2.1 2.1 0 1 0 -4.2 0zM153.3 103.7a2.1 2.1 0 1 0 4.2 0a2.1 2.1 0 1 0 -4.2 0zM154.5 102.9a2.1 2.1 0 1 0 4.2 0a2.1 2.1 0 1 0 -4.2 0zM155.7 104.6a2.1 2.1 0 1 0 4.2 0a2.1 2.1 0 1 0 -4.2 0zM156.9 103.4a2.1 2.1 0 1 0 4.2 0a2.1 2.1 0 1 0 -4.2 0zM158.1 104.7a2.1 2.1 0 1 0 4.2 0a2.1 2.1 0 1 0 -4.2 0zM159.3 104.8a2.1 2.1 0 1 0 4.2 0a2.1 2.1 0 1 0 -4.2 0zM160.5 103.7a2.1 2.1 0 1 0 4.2 0a2.1 2.1 0 1 0 -4.2 0zM161.7 102a2.1 2.1 0 1 0 4.2 0a2.1 2.1 0 1 0 -4.2 0zM162.9 103.5a2.1 2.1 0 1 0 4.2 0a2.1 2.1 0 1 0 -4.2 0zM164.1 104a2.1 2.1 0 1 0 4.2 0a2.1 2.1 0 1 0 -4.2 0zM165.3 104a2.1 2.1 0 1 0 4.2 0a2.1 2.1 0 1 0 -4.2 0zM166.5 103.3a2.1 2.1 0 1 0 4.2 0a2.1 2.1 0 1 0 -4.2 0zM167.8 105.7a2.1 2.1 0 1 0 4.2 0a2.1 2.1 0 1 0 -4.2 0zM169 105.2a2.1 2.1 0 1 0 4.2 0a2.1 2.1 0 1 0 -4.2 0zM170.2 105.1a2.1 2.1 0 1 0 4.2 0a2.1 2.1 0 1 0 -4.2 0zM171.4 104.9a2.1 2.1 0 1 0 4.2 0a2.1 2.1 0 1 0 -4.2 0zM172.6 105.4a2.1 2.1 0 1 0 4.2 0a2.1 2.1 0 1 0 -4.2 0zM173.8 103.5a2.1 2.1 0 1 0 4.2 0a2.1 2.1 0 1 0 -4.2 0zM175 105.4a2.1 2.1 0 1 0 4.2 0a2.1 2.1 0 1 0 -4.2 0zM176.2 103.4a2.1 2.1 0 1 0 4.2 0a2.1 2.1 0 1 0 -4.2 0zM177.4 104a2.1 2.1 0 1 0 4.2 0a2.1 2.1 0 1 0 -4.2 0zM178.6 104.1a2.1 2.1 0 1 0 4.2 0a2.1 2.1 0 1 0 -4.2 0zM179.8 103.9a2.1 2.1 0 1 0 4.2 0a2.1 2.1 0 1 0 -4.2 0zM181 104.4a2.1 2.1 0 1 0 4.2 0a2.1 2.1 0 1 0 -4.2 0zM182.2 104.5a2.1 2.1 0 1 0 4.2 0a2.1 2.1 0 1 0 -4.2 0zM183.4 104.6a2.1 2.1 0 1 0 4.2 0a2.1 2.1 0 1 0 -4.2 0zM184.6 103.9a2.1 2.1 0 1 0 4.2 0a2.1 2.1 0 1 0 -4.2 0zM185.8 105a2.1 2.1 0 1 0 4.2 0a2.1 2.1 0 1 0 -4.2 0zM187 103.7a2.1 2.1 0 1 0 4.2 0a2.1 2.1 0 1 0 -4.2 0zM188.2 104.1a2.1 2.1 0 1 0 4.2 0a2.1 2.1 0 1 0 -4.2 0zM189.4 104a2.1 2.1 0 1 0 4.2 0a2.1 2.1 0 1 0 -4.2 0zM190.6 103.1a2.1 2.1 0 1 0 4.2 0a2.1 2.1 0 1 0 -4.2 0zM191.8 105.4a2.1 2.1 0 1 0 4.2 0a2.1 2.1 0 1 0 -4.2 0zM193 104.8a2.1 2.1 0 1 0 4.2 0a2.1 2.1 0 1 0 -4.2 0zM194.2 104.8a2.1 2.1 0 1 0 4.2 0a2.1 2.1 0 1 0 -4.2 0zM195.4 105.2a2.1 2.1 0 1 0 4.2 0a2.1 2.1 0 1 0 -4.2 0zM196.6 105.2a2.1 2.1 0 1 0 4.2 0a2.1 2.1 0 1 0 -4.2 0zM197.9 102.6a2.1 2.1 0 1 0 4.2 0a2.1 2.1 0 1 0 -4.2 0zM199.1 105.3a2.1 2.1 0 1 0 4.2 0a2.1 2.1 0 1 0 -4.2 0zM200.3 104a2.1 2.1 0 1 0 4.2 0a2.1 2.1 0 1 0 -4.2 0zM201.5 104a2.1 2.1 0 1 0 4.2 0a2.1 2.1 0 1 0 -4.2 0zM202.7 104.4a2.1 2.1 0 1 0 4.2 0a2.1 2.1 0 1 0 -4.2 0zM203.9 105.7a2.1 2.1 0 1 0 4.2 0a2.1 2.1 0 1 0 -4.2 0zM205.1 106a2.1 2.1 0 1 0 4.2 0a2.1 2.1 0 1 0 -4.2 0zM206.3 105.8a2.1 2.1 0 1 0 4.2 0a2.1 2.1 0 1 0 -4.2 0zM207.5 104.5a2.1 2.1 0 1 0 4.2 0a2.1 2.1 0 1 0 -4.2 0zM208.7 104.2a2.1 2.1 0 1 0 4.2 0a2.1 2.1 0 1 0 -4.2 0zM209.9 104.3a2.1 2.1 0 1 0 4.2 0a2.1 2.1 0 1 0 -4.2 0zM211.1 105.8a2.1 2.1 0 1 0 4.2 0a2.1 2.1 0 1 0 -4.2 0zM212.3 104a2.1 2.1 0 1 0 4.2 0a2.1 2.1 0 1 0 -4.2 0zM213.5 104.3a2.1 2.1 0 1 0 4.2 0a2.1 2.1 0 1 0 -4.2 0zM214.7 103.4a2.1 2.1 0 1 0 4.2 0a2.1 2.1 0 1 0 -4.2 0zM215.9 102.4a2.1 2.1 0 1 0 4.2 0a2.1 2.1 0 1 0 -4.2 0zM217.1 104.3a2.1 2.1 0 1 0 4.2 0a2.1 2.1 0 1 0 -4.2 0zM218.3 104.3a2.1 2.1 0 1 0 4.2 0a2.1 2.1 0 1 0 -4.2 0zM219.5 105.6a2.1 2.1 0 1 0 4.2 0a2.1 2.1 0 1 0 -4.2 0zM220.7 104.5a2.1 2.1 0 1 0 4.2 0a2.1 2.1 0 1 0 -4.2 0zM221.9 103.8a2.1 2.1 0 1 0 4.2 0a2.1 2.1 0 1 0 -4.2 0zM223.1 105.2a2.1 2.1 0 1 0 4.2 0a2.1 2.1 0 1 0 -4.2 0zM224.3 104a2.1 2.1 0 1 0 4.2 0a2.1 2.1 0 1 0 -4.2 0zM225.5 103.6a2.1 2.1 0 1 0 4.2 0a2.1 2.1 0 1 0 -4.2 0zM226.7 103.1a2.1 2.1 0 1 0 4.2 0a2.1 2.1 0 1 0 -4.2 0zM228 105.3a2.1 2.1 0 1 0 4.2 0a2.1 2.1 0 1 0 -4.2 0zM229.2 103.5a2.1 2.1 0 1 0 4.2 0a2.1 2.1 0 1 0 -4.2 0zM230.4 103.7a2.1 2.1 0 1 0 4.2 0a2.1 2.1 0 1 0 -4.2 0zM231.6 103.2a2.1 2.1 0 1 0 4.2 0a2.1 2.1 0 1 0 -4.2 0zM232.8 105.8a2.1 2.1 0 1 0 4.2 0a2.1 2.1 0 1 0 -4.2 0zM234 103.7a2.1 2.1 0 1 0 4.2 0a2.1 2.1 0 1 0 -4.2 0zM235.2 106.5a2.1 2.1 0 1 0 4.2 0a2.1 2.1 0 1 0 -4.2 0zM236.4 103.9a2.1 2.1 0 1 0 4.2 0a2.1 2.1 0 1 0 -4.2 0zM237.6 103.8a2.1 2.1 0 1 0 4.2 0a2.1 2.1 0 1 0 -4.2 0zM238.8 106a2.1 2.1 0 1 0 4.2 0a2.1 2.1 0 1 0 -4.2 0zM240 103.7a2.1 2.1 0 1 0 4.2 0a2.1 2.1 0 1 0 -4.2 0zM241.2 102.7a2.1 2.1 0 1 0 4.2 0a2.1 2.1 0 1 0 -4.2 0zM242.4 103.4a2.1 2.1 0 1 0 4.2 0a2.1 2.1 0 1 0 -4.2 0zM243.6 102.9a2.1 2.1 0 1 0 4.2 0a2.1 2.1 0 1 0 -4.2 0zM244.8 104.6a2.1 2.1 0 1 0 4.2 0a2.1 2.1 0 1 0 -4.2 0zM246 105a2.1 2.1 0 1 0 4.2 0a2.1 2.1 0 1 0 -4.2 0zM247.2 103.3a2.1 2.1 0 1 0 4.2 0a2.1 2.1 0 1 0 -4.2 0zM248.4 105.1a2.1 2.1 0 1 0 4.2 0a2.1 2.1 0 1 0 -4.2 0zM249.6 105.9a2.1 2.1 0 1 0 4.2 0a2.1 2.1 0 1 0 -4.2 0zM250.8 105a2.1 2.1 0 1 0 4.2 0a2.1 2.1 0 1 0 -4.2 0zM252 103.7a2.1 2.1 0 1 0 4.2 0a2.1 2.1 0 1 0 -4.2 0zM253.2 105.3a2.1 2.1 0 1 0 4.2 0a2.1 2.1 0 1 0 -4.2 0zM254.4 103.6a2.1 2.1 0 1 0 4.2 0a2.1 2.1 0 1 0 -4.2 0zM255.6 104.1a2.1 2.1 0 1 0 4.2 0a2.1 2.1 0 1 0 -4.2 0zM256.8 102.9a2.1 2.1 0 1 0 4.2 0a2.1 2.1 0 1 0 -4.2 0zM258.1 104.8a2.1 2.1 0 1 0 4.2 0a2.1 2.1 0 1 0 -4.2 0zM259.3 104.9a2.1 2.1 0 1 0 4.2 0a2.1 2.1 0 1 0 -4.2 0zM260.5 103.3a2.1 2.1 0 1 0 4.2 0a2.1 2.1 0 1 0 -4.2 0zM261.7 103.8a2.1 2.1 0 1 0 4.2 0a2.1 2.1 0 1 0 -4.2 0zM262.9 104.3a2.1 2.1 0 1 0 4.2 0a2.1 2.1 0 1 0 -4.2 0zM264.1 104.6a2.1 2.1 0 1 0 4.2 0a2.1 2.1 0 1 0 -4.2 0zM265.3 105.7a2.1 2.1 0 1 0 4.2 0a2.1 2.1 0 1 0 -4.2 0zM266.5 104.4a2.1 2.1 0 1 0 4.2 0a2.1 2.1 0 1 0 -4.2 0zM267.7 102.7a2.1 2.1 0 1 0 4.2 0a2.1 2.1 0 1 0 -4.2 0zM268.9 105.1a2.1 2.1 0 1 0 4.2 0a2.1 2.1 0 1 0 -4.2 0zM270.1 103.2a2.1 2.1 0 1 0 4.2 0a2.1 2.1 0 1 0 -4.2 0zM271.3 104.6a2.1 2.1 0 1 0 4.2 0a2.1 2.1 0 1 0 -4.2 0zM272.5 104.9a2.1 2.1 0 1 0 4.2 0a2.1 2.1 0 1 0 -4.2 0z"/>
<polyline fill="none" stroke="#4cec6e" stroke-width="4" stroke-linejoin="round" stroke-linecap="round" points="60.7,188.2 62.2,183 66.9,169 77.6,152.4 82.1,146.3 94.9,137.5 106.3,130.6 118.5,124.4 138.3,115.7 154.4,110.5 167.7,107.8 189,107 274.6,108.7"/>
<path fill="#4cec6e" d="M60.7 190.2l2.8 -5h-5.5zM61 189l2.8 -5h-5.5zM61.3 189l2.8 -5h-5.5zM61.6 188.7l2.8 -5h-5.5zM61.9 187.7l2.8 -5h-5.5zM62.2 185.8l2.8 -5h-5.5zM62.5 184.1l2.8 -5h-5.5zM62.9 183.5l2.8 -5h-5.5zM63.2 185.3l2.8 -5h-5.5zM63.5 182.4l2.8 -5h-5.5zM63.9 180.1l2.8 -5h-5.5zM64.2 179.9l2.8 -5h-5.5zM64.6 180.1l2.8 -5h-5.5zM64.9 178.7l2.8 -5h-5.5zM65.2 176.7l2.8 -5h-5.5zM65.6 175.9l2.8 -5h-5.5zM65.9 175l2.8 -5h-5.5zM66.2 172.1l2.8 -5h-5.5zM66.6 170.7l2.8 -5h-5.5zM66.9 172l2.8 -5h-5.5zM67.5 170.1l2.8 -5h-5.5zM68 171.6l2.8 -5h-5.5zM68.6 169.1l2.8 -5h-5.5zM69.2 166.9l2.8 -5h-5.5zM69.7 166.9l2.8 -5h-5.5zM70.3 166l2.8 -5h-5.5zM70.8 168.3l2.8 -5h-5.5zM71.4 164.8l2.8 -5h-5.5zM72 163.8l2.8 -5h-5.5zM72.5 164.6l2.8 -5h-5.5zM73.1 162.3l2.8 -5h-5.5zM73.7 161.6l2.8 -5h-5.5zM74.2 158.8l2.8 -5h-5.5zM74.8 160l2.8 -5h-5.5zM75.3 158.7l2.8 -5h-5.5zM75.9 157.4l2.8 -5h-5.5zM76.5 155.7l2.8 -5h-5.5zM77 156.6l2.8 -5h-5.5zM77.6 155.1l2.8 -5h-5.5zM78.2 153.7l2.8 -5h-5.5zM78.9 153.4l2.8 -5h-5.5zM79.5 152.5l2.8 -5h-5.5zM80.2 151.5l2.8 -5h-5.5zM80.8 152.7l2.8 -5h-5.5zM81.4 150.3l2.8 -5h-5.5zM82.1 150.3l2.8 -5h-5.5zM82.9 149.1l2.8 -5h-5.5zM83.8 149.5l2.8 -5h-5.5zM84.7 148l2.8 -5h-5.5zM85.5 145.9l2.8 -5h-5.5zM86.4 146.6l2.8 -5h-5.5zM87.2 145.2l2.8 -5h-5.5zM88.1 145l2.8 -5h-5.5zM88.9 144.1l2.8 -5h-5.5zM89.8 144.9l2.8 -5h-5.5zM90.6 143.1l2.8 -5h-5.5zM91.5 143l2.8 -5h-5.5zM92.4 142.5l2.8 -5h-5.5zM93.2 142l2.8 -5h-5.5zM94.1 140.1l2.8 -5h-5.5zM94.9 142.1l2.8 -5h-5.5zM95.8 141.5l2.8 -5h-5.5zM96.7 138.9l2.8 -5h-5.5zM97.5 138l2.8 -5h-5.5zM98.4 138.1l2.8 -5h-5.5zM99.3 135.8l2.8 -5h-5.5zM100.2 139.1l2.8 -5h-5.5zM101 137.1l2.8 -5h-5.5zM101.9 136.2l2.8 -5h-5.5zM102.8 135.3l2.8 -5h-5.5zM103.6 135.1l2.8 -5h-5.5zM104.5 134.7l2.8 -5h-5.5zM105.4 133.9l2.8 -5h-5.5zM106.3 133.8l2.8 -5h-5.5zM107.2 133.2l2.8 -5h-5.5zM108.1 132.9l2.8 -5h-5.5zM109.1 131.5l2.8 -5h-5.5zM110 132.1l2.8 -5h-5.5zM111 130.8l2.8 -5h-5.5zM111.9 130.8l2.8 -5h-5.5zM112.8 129.2l2.8 -5h-5.5zM113.8 129.5l2.8 -5h-5.5zM114.7 128l2.8 -5h-5.5zM115.6 129l2.8 -5h-5.5zM116.6 128.2l2.8 -5h-5.5zM117.5 127.6l2.8 -5h-5.5zM118.5 127.1l2.8 -5h-5.5zM119.4 127.1l2.8 -5h-5.5zM120.3 127.3l2.8 -5h-5.5zM121.3 125.8l2.8 -5h-5.5zM122.2 126.4l2.8 -5h-5.5zM123.2 125.6l2.8 -5h-5.5zM124.1 125.3l2.8 -5h-5.5zM125.1 123.9l2.8 -5h-5.5zM126 123.1l2.8 -5h-5.5zM127 124.5l2.8 -5h-5.5zM127.9 122l2.8 -5h-5.5zM128.9 123.6l2.8 -5h-5.5zM129.8 122.9l2.8 -5h-5.5zM130.8 121.2l2.8 -5h-5.5zM131.7 120.3l2.8 -5h-5.5zM132.7 122.6l2.8 -5h-5.5zM133.6 121.5l2.8 -5h-5.5zM134.6 119l2.8 -5h-5.5zM135.5 119.5l2.8 -5h-5.5zM136.5 119.9l2.8 -5h-5.5zM137.4 119l2.8 -5h-5.5zM138.3 118.5l2.8 -5h-5.5zM139.3 118.5l2.8 -5h-5.5zM140.4 117.6l2.8 -5h-5.5zM141.4 118.6l2.8 -5h-5.5zM142.4 116.2l2.8 -5h-5.5zM143.4 116.7l2.8 -5h-5.5zM144.4 117.4l2.8 -5h-5.5zM145.4 116.6l2.8 -5h-5.5zM146.4 114.8l2.8 -5h-5.5zM147.4 115.4l2.8 -5h-5.5zM148.4 114.8l2.8 -5h-5.5zM149.4 113.4l2.8 -5h-5.5zM150.4 115.2l2.8 -5h-5.5zM151.4 114.2l2.8 -5h-5.5zM152.4 114.8l2.8 -5h-5.5zM153.4 112.8l2.8 -5h-5.5zM154.4 113.8l2.8 -5h-5.5zM155.4 111.4l2.8 -5h-5.5zM156.4 112.9l2.8 -5h-5.5zM157.4 112.7l2.8 -5h-5.5zM158.5 110.1l2.8 -5h-5.5zM159.5 112.9l2.8 -5h-5.5zM160.5 112.7l2.8 -5h-5.5zM161.5 112.8l2.8 -5h-5.5zM162.5 113.6l2.8 -5h-5.5zM163.6 111.4l2.8 -5h-5.5zM164.6 110.6l2.8 -5h-5.5zM165.6 110.7l2.8 -5h-5.5zM166.6 109.9l2.8 -5h-5.5zM167.7 111.1l2.8 -5h-5.5zM168.7 112l2.8 -5h-5.5zM169.7 111.7l2.8 -5h-5.5zM170.7 111.1l2.8 -5h-5.5zM171.7 110.6l2.8 -5h-5.5zM172.7 110l2.8 -5h-5.5zM173.8 110l2.8 -5h-5.5zM174.8 108.4l2.8 -5h-5.5zM175.8 109.8l2.8 -5h-5.5zM176.8 109.3l2.8 -5h-5.5zM177.8 110.9l2.8 -5h-5.5zM178.9 109.7l2.8 -5h-5.5zM179.9 110.9l2.8 -5h-5.5zM180.9 111.1l2.8 -5h-5.5zM181.9 109.9l2.8 -5h-5.5zM182.9 109.5l2.8 -5h-5.5zM183.9 110.3l2.8 -5h-5.5zM185 109.6l2.8 -5h-5.5zM186 109.7l2.8 -5h-5.5zM187 110.7l2.8 -5h-5.5zM188 110.4l2.8 -5h-5.5zM189 108.6l2.8 -5h-5.5zM190 110.2l2.8 -5h-5.5zM191.1 108.7l2.8 -5h-5.5zM192.1 109l2.8 -5h-5.5zM193.1 109.6l2.8 -5h-5.5zM194.1 110l2.8 -5h-5.5zM195.1 109l2.8 -5h-5.5zM196.1 110.7l2.8 -5h-5.5zM197.1 110.3l2.8 -5h-5.5zM198.1 109l2.8 -5h-5.5zM199.1 109.4l2.8 -5h-5.5zM200.1 109.5l2.8 -5h-5.5zM201.1 110.1l2.8 -5h-5.5zM202.1 110.6l2.8 -5h-5.5zM203.1 110.8l2.8 -5h-5.5zM204.1 108.7l2.8 -5h-5.5zM205.1 110.5l2.8 -5h-5.5zM206.2 111.5l2.8 -5h-5.5zM207.2 110.5l2.8 -5h-5.5zM208.2 109.3l2.8 -5h-5.5zM209.2 108.9l2.8 -5h-5.5zM210.2 110.6l2.8 -5h-5.5zM211.2 110.1l2.8 -5h-5.5zM212.2 110.3l2.8 -5h-5.5zM213.2 110.5l2.8 -5h-5.5zM214.2 110.6l2.8 -5h-5.5zM215.2 110.3l2.8 -5h-5.5zM216.2 110.4l2.8 -5h-5.5zM217.2 108.1l2.8 -5h-5.5zM218.2 109.5l2.8 -5h-5.5zM219.2 110.7l2.8 -5h-5.5zM220.2 109.7l2.8 -5h-5.5zM221.3 109.5l2.8 -5h-5.5zM222.3 110.3l2.8 -5h-5.5zM223.3 109.6l2.8 -5h-5.5zM224.3 109.9l2.8 -5h-5.5zM225.3 110.9l2.8 -5h-5.5zM226.3 109.5l2.8 -5h-5.5zM227.3 110.8l2.8 -5h-5.5zM228.3 111.2l2.8 -5h-5.5zM229.3 110.2l2.8 -5h-5.5zM230.3 111.2l2.8 -5h-5.5zM231.3 111.5l2.8 -5h-5.5zM232.3 111.2l2.8 -5h-5.5zM233.3 108.9l2.8 -5h-5.5zM234.3 110.9l2.8 -5h-5.5zM235.3 109.7l2.8 -5h-5.5zM236.3 112l2.8 -5h-5.5zM237.4 107.7l2.8 -5h-5.5zM238.4 109.7l2.8 -5h-5.5zM239.4 110.4l2.8 -5h-5.5zM240.4 110l2.8 -5h-5.5zM241.4 109.5l2.8 -5h-5.5zM242.4 110.3l2.8 -5h-5.5zM243.4 111.5l2.8 -5h-5.5zM244.4 109.9l2.8 -5h-5.5zM245.4 109.3l2.8 -5h-5.5zM246.4 111.9l2.8 -5h-5.5zM247.4 109.8l2.8 -5h-5.5zM248.4 111.7l2.8 -5h-5.5zM249.4 109.4l2.8 -5h-5.5zM250.4 111.3l2.8 -5h-5.5zM251.4 112.6l2.8 -5h-5.5zM252.5 110.6l2.8 -5h-5.5zM253.5 112.1l2.8 -5h-5.5zM254.5 112.2l2.8 -5h-5.5zM255.5 111.8l2.8 -5h-5.5zM256.5 111.5l2.8 -5h-5.5zM257.5 110.1l2.8 -5h-5.5zM258.5 111.3l2.8 -5h-5.5zM259.5 110.3l2.8 -5h-5.5zM260.5 109.5l2.8 -5h-5.5zM261.5 111l2.8 -5h-5.5zM262.5 109.9l2.8 -5h-5.5zM263.5 110.8l2.8 -5h-5.5zM264.5 112l2.8 -5h-5.5zM265.5 111.9l2.8 -5h-5.5zM266.5 111l2.8 -5h-5.5zM267.6 110.2l2.8 -5h-5.5zM268.6 111.2l2.8 -5h-5.5zM269.6 108.4l2.8 -5h-5.5zM270.6 110.6l2.8 -5h-5.5zM271.6 111.8l2.8 -5h-5.5zM272.6 111.5l2.8 -5h-5.5zM273.6 111.9l2.8 -5h-5.5zM274.6 109.9l2.8 -5h-5.5z"/>
<polyline fill="none" stroke="#ebbd2b" stroke-width="5" stroke-linejoin="round" stroke-linecap="round" points="64.1,78.1 65,72.5 67.1,78.1 69.3,86.9 71.4,93.9 74,99.1 77.8,103.5 83.2,104.3 94.9,105.2 274.6,105.2"/>
<path fill="#ebbd2b" d="M61.4 76.7l5 -2.8v5.5zM61.5 77.2l5 -2.8v5.5zM61.7 76l5 -2.8v5.5zM61.9 74.5l5 -2.8v5.5zM62.1 74l5 -2.8v5.5zM62.2 74.3l5 -2.8v5.5zM62.6 72.6l5 -2.8v5.5zM62.9 73.4l5 -2.8v5.5zM63.3 77.4l5 -2.8v5.5zM63.7 73.9l5 -2.8v5.5zM64 75.8l5 -2.8v5.5zM64.4 78.1l5 -2.8v5.5zM64.6 81.1l5 -2.8v5.5zM64.9 79.4l5 -2.8v5.5zM65.2 81.8l5 -2.8v5.5zM65.4 80.4l5 -2.8v5.5zM65.7 81l5 -2.8v5.5zM66 84.7l5 -2.8v5.5zM66.2 85.6l5 -2.8v5.5zM66.5 86.1l5 -2.8v5.5zM66.8 86l5 -2.8v5.5zM67.1 88.9l5 -2.8v5.5zM67.4 89.5l5 -2.8v5.5zM67.7 91.7l5 -2.8v5.5zM68 91.4l5 -2.8v5.5zM68.3 91.9l5 -2.8v5.5zM68.6 93.6l5 -2.8v5.5zM69.2 96.3l5 -2.8v5.5zM69.7 95.5l5 -2.8v5.5zM70.2 97.3l5 -2.8v5.5zM70.7 98.1l5 -2.8v5.5zM71.2 98.6l5 -2.8v5.5zM72 100.9l5 -2.8v5.5zM72.8 101.6l5 -2.8v5.5zM73.5 102l5 -2.8v5.5zM74.3 100.7l5 -2.8v5.5zM75.1 103.7l5 -2.8v5.5zM76.1 102.6l5 -2.8v5.5zM77.2 101.9l5 -2.8v5.5zM78.3 104.7l5 -2.8v5.5zM79.3 103.4l5 -2.8v5.5zM80.4 103.8l5 -2.8v5.5zM81.5 104.2l5 -2.8v5.5zM82.5 105.6l5 -2.8v5.5zM83.6 104.1l5 -2.8v5.5zM84.7 104.1l5 -2.8v5.5zM85.8 105.1l5 -2.8v5.5zM86.8 103.5l5 -2.8v5.5zM87.9 104.7l5 -2.8v5.5zM89 103.8l5 -2.8v5.5zM90 104.2l5 -2.8v5.5zM91.1 104.8l5 -2.8v5.5zM92.2 106.1l5 -2.8v5.5zM93.2 104.6l5 -2.8v5.5zM94.2 106.3l5 -2.8v5.5zM95.2 104.4l5 -2.8v5.5zM96.2 105.1l5 -2.8v5.5zM97.2 104.9l5 -2.8v5.5zM98.2 106.4l5 -2.8v5.5zM99.2 105l5 -2.8v5.5zM100.2 106.7l5 -2.8v5.5zM101.2 106.8l5 -2.8v5.5zM102.2 105.8l5 -2.8v5.5zM103.2 106.8l5 -2.8v5.5zM104.2 104.7l5 -2.8v5.5zM105.2 103.9l5 -2.8v5.5zM106.2 105l5 -2.8v5.5zM107.2 105.8l5 -2.8v5.5zM108.2 104.8l5 -2.8v5.5zM109.2 107l5 -2.8v5.5zM110.2 105.1l5 -2.8v5.5zM111.2 105.5l5 -2.8v5.5zM112.2 105.6l5 -2.8v5.5zM113.3 104.9l5 -2.8v5.5zM114.3 106.1l5 -2.8v5.5zM115.3 104.8l5 -2.8v5.5zM116.3 105.9l5 -2.8v5.5zM117.3 105.1l5 -2.8v5.5zM118.3 103.8l5 -2.8v5.5zM119.3 105.2l5 -2.8v5.5zM120.3 106.1l5 -2.8v5.5zM121.3 105.2l5 -2.8v5.5zM122.3 106.1l5 -2.8v5.5zM123.3 106l5 -2.8v5.5zM124.3 106.6l5 -2.8v5.5zM125.3 105.8l5 -2.8v5.5zM126.3 105.2l5 -2.8v5.5zM127.3 104.9l5 -2.8v5.5zM128.3 105.2l5 -2.8v5.5zM129.3 105.1l5 -2.8v5.5zM130.3 106.3l5 -2.8v5.5zM131.3 106.7l5 -2.8v5.5zM132.3 105.1l5 -2.8v5.5zM133.3 104.4l5 -2.8v5.5zM134.3 106.8l5 -2.8v5.5zM135.3 104.1l5 -2.8v5.5zM136.3 105.7l5 -2.8v5.5zM137.3 105.2l5 -2.8v5.5zM138.3 104.7l5 -2.8v5.5zM139.4 105.1l5 -2.8v5.5zM140.4 106.7l5 -2.8v5.5zM141.4 104.5l5 -2.8v5.5zM142.4 106.1l5 -2.8v5.5zM143.4 104.6l5 -2.8v5.5zM144.4 105l5 -2.8v5.5zM145.4 104.8l5 -2.8v5.5zM146.4 105.3l5 -2.8v5.5zM147.4 104.1l5 -2.8v5.5zM148.4 106.1l5 -2.8v5.5zM149.4 104.6l5 -2.8v5.5zM150.4 106.1l5 -2.8v5.5zM151.4 104.3l5 -2.8v5.5zM152.4 103.5l5 -2.8v5.5zM153.4 106l5 -2.8v5.5zM154.4 104.3l5 -2.8v5.5zM155.4 105.4l5 -2.8v5.5zM156.4 105.9l5 -2.8v5.5zM157.4 104.8l5 -2.8v5.5zM158.4 106l5 -2.8v5.5zM159.4 105.8l5 -2.8v5.5zM160.4 104.7l5 -2.8v5.5zM161.4 104.7l5 -2.8v5.5zM162.4 104.8l5 -2.8v5.5zM163.4 105.4l5 -2.8v5.5zM164.4 107l5 -2.8v5.5zM165.4 106.7l5 -2.8v5.5zM166.5 106.6l5 -2.8v5.5zM167.5 106.2l5 -2.8v5.5zM168.5 104.6l5 -2.8v5.5zM169.5 105.1l5 -2.8v5.5zM170.5 106.5l5 -2.8v5.5zM171.5 103.5l5 -2.8v5.5zM172.5 104.8l5 -2.8v5.5zM173.5 105.2l5 -2.8v5.5zM174.5 107l5 -2.8v5.5zM175.5 105.7l5 -2.8v5.5zM176.5 105.8l5 -2.8v5.5zM177.5 106.6l5 -2.8v5.5zM178.5 106.1l5 -2.8v5.5zM179.5 106.1l5 -2.8v5.5zM180.5 104.9l5 -2.8v5.5zM181.5 105.6l5 -2.8v5.5zM182.5 104.3l5 -2.8v5.5zM183.5 103.9l5 -2.8v5.5zM184.5 105.2l5 -2.8v5.5zM185.5 103.9l5 -2.8v5.5zM186.5 105.9l5 -2.8v5.5zM187.5 107.3l5 -2.8v5.5zM188.5 104l5 -2.8v5.5zM189.5 105.7l5 -2.8v5.5zM190.5 104.8l5 -2.8v5.5zM191.5 105l5 -2.8v5.5zM192.6 102.6l5 -2.8v5.5zM193.6 105.5l5 -2.8v5.5zM194.6 104.6l5 -2.8v5.5zM195.6 105.2l5 -2.8v5.5zM196.6 106.3l5 -2.8v5.5zM197.6 105.5l5 -2.8v5.5zM198.6 104.9l5 -2.8v5.5zM199.6 104.1l5 -2.8v5.5zM200.6 104.6l5 -2.8v5.5zM201.6 104.2l5 -2.8v5.5zM202.6 105.7l5 -2.8v5.5zM203.6 104.9l5 -2.8v5.5zM204.6 104.3l5 -2.8v5.5zM205.6 105.4l5 -2.8v5.5zM206.6 104.7l5 -2.8v5.5zM207.6 107.5l5 -2.8v5.5zM208.6 107.1l5 -2.8v5.5zM209.6 106.6l5 -2.8v5.5zM210.6 105.4l5 -2.8v5.5zM211.6 104.6l5 -2.8v5.5zM212.6 104.8l5 -2.8v5.5zM213.6 106.4l5 -2.8v5.5zM214.6 104.7l5 -2.8v5.5zM215.6 104l5 -2.8v5.5zM216.6 105.9l5 -2.8v5.5zM217.6 104.7l5 -2.8v5.5zM218.6 106.5l5 -2.8v5.5zM219.7 104.3l5 -2.8v5.5zM220.7 104.1l5 -2.8v5.5zM221.7 104.3l5 -2.8v5.5zM222.7 105.7l5 -2.8v5.5zM223.7 106.2l5 -2.8v5.5zM224.7 106.8l5 -2.8v5.5zM225.7 105.2l5 -2.8v5.5zM226.7 104.4l5 -2.8v5.5zM227.7 103.9l5 -2.8v5.5zM228.7 105.4l5 -2.8v5.5zM229.7 106.2l5 -2.8v5.5zM230.7 104.9l5 -2.8v5.5zM231.7 104.9l5 -2.8v5.5zM232.7 103.3l5 -2.8v5.5zM233.7 103.6l5 -2.8v5.5zM234.7 105.2l5 -2.8v5.5zM235.7 106.9l5 -2.8v5.5zM236.7 106.8l5 -2.8v5.5zM237.7 104.7l5 -2.8v5.5zM238.7 106.5l5 -2.8v5.5zM239.7 105.3l5 -2.8v5.5zM240.7 105.3l5 -2.8v5.5zM241.7 105.3l5 -2.8v5.5zM242.7 106.6l5 -2.8v5.5zM243.7 105.4l5 -2.8v5.5zM244.7 104.9l5 -2.8v5.5zM245.8 106.3l5 -2.8v5.5zM246.8 106.2l5 -2.8v5.5zM247.8 107.1l5 -2.8v5.5zM248.8 106.1l5 -2.8v5.5zM249.8 104.3l5 -2.8v5.5zM250.8 104.4l5 -2.8v5.5zM251.8 105.9l5 -2.8v5.5zM252.8 105l5 -2.8v5.5zM253.8 105.2l5 -2.8v5.5zM254.8 104.8l5 -2.8v5.5zM255.8 103.4l5 -2.8v5.5zM256.8 107l5 -2.8v5.5zM257.8 104.9l5 -2.8v5.5zM258.8 105.6l5 -2.8v5.5zM259.8 106l5 -2.8v5.5zM260.8 105.4l5 -2.8v5.5zM261.8 106.7l5 -2.8v5.5zM262.8 105.8l5 -2.8v5.5zM263.8 104.8l5 -2.8v5.5zM264.8 104.8l5 -2.8v5.5zM265.8 106.1l5 -2.8v5.5zM266.8 104.5l5 -2.8v5.5zM267.8 105.4l5 -2.8v5.5zM268.8 104.9l5 -2.8v5.5zM269.8 103.1l5 -2.8v5.5zM270.8 105.3l5 -2.8v5.5zM271.9 106l5 -2.8v5.5zM59 75.5l5 -2.8v5.5zM59 85.1l5 -2.8v5.5zM59 97.4l5 -2.8v5.5zM59 117.5l5 -2.8v5.5zM59 137.5l5 -2.8v5.5zM59 152.4l5 -2.8v5.5zM59 163.7l5 -2.8v5.5z"/>
</g>
<path fill="#111" d="M63.4 17.4h1.8v2.5h-1.8zM63.4 25.7h1.8v2.5h-1.8zM63.4 34.1h1.8v2.5h-1.8zM63.4 42.5h1.8v2.5h-1.8zM63.4 50.9h1.8v2.5h-1.8zM63.4 59.3h1.8v2.5h-1.8zM63.4 67.6h1.8v2.5h-1.8zM63.4 76h1.8v2.5h-1.8zM63.4 84.4h1.8v2.5h-1.8zM63.4 92.8h1.8v2.5h-1.8zM63.4 101.1h1.8v2.5h-1.8zM63.4 109.5h1.8v2.5h-1.8zM63.4 117.9h1.8v2.5h-1.8zM63.4 126.3h1.8v2.5h-1.8zM63.4 134.7h1.8v2.5h-1.8zM63.4 143h1.8v2.5h-1.8zM63.4 151.4h1.8v2.5h-1.8zM63.4 159.8h1.8v2.5h-1.8zM63.4 168.2h1.8v2.5h-1.8zM63.4 176.6h1.8v2.5h-1.8zM63.4 184.9h1.8v2.5h-1.8z"/>
<path fill="#111" d="M158.4 21.1h1.8v2.5h-1.8zM158.4 29.5h1.8v2.5h-1.8zM158.4 37.9h1.8v2.5h-1.8zM158.4 46.3h1.8v2.5h-1.8zM158.4 54.7h1.8v2.5h-1.8zM158.4 63.1h1.8v2.5h-1.8zM158.4 71.4h1.8v2.5h-1.8zM158.4 79.8h1.8v2.5h-1.8zM158.4 88.2h1.8v2.5h-1.8zM158.4 96.6h1.8v2.5h-1.8zM158.4 104.9h1.8v2.5h-1.8zM158.4 113.3h1.8v2.5h-1.8zM158.4 121.7h1.8v2.5h-1.8zM158.4 130.1h1.8v2.5h-1.8zM158.4 138.5h1.8v2.5h-1.8zM158.4 146.8h1.8v2.5h-1.8zM158.4 155.2h1.8v2.5h-1.8zM158.4 163.6h1.8v2.5h-1.8zM158.4 172h1.8v2.5h-1.8zM158.4 180.4h1.8v2.5h-1.8zM158.4 188.7h1.8v2.5h-1.8z"/>
<text transform="translate(47.7,196.3) scale(1,1.08)" font-size="14.6" text-anchor="end" fill="#555">0.0</text>
<text transform="translate(47.7,152.6) scale(1,1.08)" font-size="14.6" text-anchor="end" fill="#555">0.5</text>
<text transform="translate(47.7,108.9) scale(1,1.08)" font-size="14.6" text-anchor="end" fill="#555">1.0</text>
<text transform="translate(47.7,65.3) scale(1,1.08)" font-size="14.6" text-anchor="end" fill="#555">1.5</text>
<text transform="translate(47.7,21.6) scale(1,1.08)" font-size="14.6" text-anchor="end" fill="#555">2.0</text>
<text transform="translate(286.9,196.3) scale(1,1.08)" font-size="14.6" text-anchor="start" fill="#555">0</text>
<text transform="translate(286.9,152.6) scale(1,1.08)" font-size="14.6" text-anchor="start" fill="#555">2</text>
<text transform="translate(286.9,108.9) scale(1,1.08)" font-size="14.6" text-anchor="start" fill="#555">4</text>
<text transform="translate(286.9,65.3) scale(1,1.08)" font-size="14.6" text-anchor="start" fill="#555">6</text>
<text transform="translate(286.9,21.6) scale(1,1.08)" font-size="14.6" text-anchor="start" fill="#555">8</text>
<text transform="translate(60.7,216.3) scale(1,1.08)" font-size="14.6" text-anchor="middle" fill="#555">0</text>
<text transform="translate(103.5,216.3) scale(1,1.08)" font-size="14.6" text-anchor="middle" fill="#555">20</text>
<text transform="translate(146.3,216.3) scale(1,1.08)" font-size="14.6" text-anchor="middle" fill="#555">40</text>
<text transform="translate(189,216.3) scale(1,1.08)" font-size="14.6" text-anchor="middle" fill="#555">60</text>
<text transform="translate(231.8,216.3) scale(1,1.08)" font-size="14.6" text-anchor="middle" fill="#555">80</text>
<text transform="translate(274.6,216.3) scale(1,1.08)" font-size="14.6" text-anchor="middle" fill="#555">100</text>
<text transform="translate(167.8,244.7) scale(1,1.04)" font-size="15.6" text-anchor="middle" fill="#555">Depth (nm)</text>
<text transform="translate(152,14.5) scale(1,1.07)" font-size="14.8" text-anchor="start" fill="#555">B6A4</text>
<text transform="translate(14.1,104.3) rotate(-90) scale(1,1.12)" font-size="15.5" text-anchor="middle" fill="#555">C<tspan font-size="11" dy="4.6">norm</tspan><tspan dy="-4.6">(i)</tspan></text>
<text transform="translate(319.6,105.8) rotate(-90) scale(1,1.04)" font-size="15.8" text-anchor="middle" fill="#555">C<tspan font-size="11" dy="4.6">norm</tspan><tspan dy="-4.6">(</tspan><tspan fill="#35c6cf">H</tspan><tspan fill="#35c6cf" font-size="9" dy="-4.5">+</tspan><tspan dy="4.5">)</tspan></text>
<text transform="translate(51.7,11.7) scale(1,1.08)" font-size="12.9" text-anchor="start" fill="#555">Gel</text>
<text transform="translate(107.7,32.1) scale(1,1.08)" font-size="12.9" text-anchor="middle" fill="#555">Hydrated</text>
<text transform="translate(109.5,52) scale(1,1.08)" font-size="12.9" text-anchor="middle" fill="#555">glass</text>
<text transform="translate(178.7,30.6) scale(1,1.08)" font-size="12.9" text-anchor="start" fill="#555">Pristine glass</text>
<path d="M410.5 183h5M410.5 174.2h5M410.5 165.5h5M410.5 156.8h5M410.5 148h11M410.5 139.3h5M410.5 130.6h5M410.5 121.8h5M410.5 113.1h5M410.5 104.3h11M410.5 95.6h5M410.5 86.9h5M410.5 78.1h5M410.5 69.4h5M410.5 60.7h11M410.5 51.9h5M410.5 43.2h5M410.5 34.5h5M410.5 25.7h5M624.4 183h-5.5M624.4 174.2h-5.5M624.4 165.5h-5.5M624.4 156.8h-5.5M624.4 148h-11M624.4 139.3h-5.5M624.4 130.6h-5.5M624.4 121.8h-5.5M624.4 113.1h-5.5M624.4 104.3h-11M624.4 95.6h-5.5M624.4 86.9h-5.5M624.4 78.1h-5.5M624.4 69.4h-5.5M624.4 60.7h-11M624.4 51.9h-5.5M624.4 43.2h-5.5M624.4 34.5h-5.5M624.4 25.7h-5.5M424.8 191.7v-4.5M439 191.7v-4.5M453.3 191.7v-4.5M467.5 191.7v-4.5M481.8 191.7v-10.5M496.1 191.7v-4.5M510.3 191.7v-4.5M524.6 191.7v-4.5M538.8 191.7v-4.5M553.1 191.7v-10.5M567.4 191.7v-4.5M581.6 191.7v-4.5M595.9 191.7v-4.5M610.1 191.7v-4.5" stroke="#111" stroke-width="1.4" fill="none"/>
<rect x="410.5" y="17" width="213.9" height="174.7" fill="none" stroke="#111" stroke-width="1.5"/>
<clipPath id="c2"><rect x="410" y="16.5" width="214.9" height="175.7"/></clipPath><g clip-path="url(#c2)">
<polyline fill="none" stroke="#f3b3fb" stroke-width="5" stroke-linejoin="round" stroke-linecap="round" points="412.4,130.6 414.4,115.7 416.1,97.4 421.8,79 429.3,67.7 445.4,65.9 463.8,66.8 480.4,68.1 492.2,75.5 505.6,86 517.5,93.9 528.9,98.7 540.3,101.3 553.1,102.2 624.4,102.6"/>
<path fill="#f3b3fb" d="M412.4 127.1l2.8 5h-5.5zM412.5 125.8l2.8 5h-5.5zM412.6 126.6l2.8 5h-5.5zM412.8 126.1l2.8 5h-5.5zM412.9 124.8l2.8 5h-5.5zM413.1 123.2l2.8 5h-5.5zM413.2 121l2.8 5h-5.5zM413.4 121.1l2.8 5h-5.5zM413.5 117.3l2.8 5h-5.5zM413.6 117.1l2.8 5h-5.5zM413.8 119.3l2.8 5h-5.5zM413.9 116l2.8 5h-5.5zM414.1 110.6l2.8 5h-5.5zM414.2 114.9l2.8 5h-5.5zM414.4 112.4l2.8 5h-5.5zM414.4 111.7l2.8 5h-5.5zM414.5 110.8l2.8 5h-5.5zM414.6 106l2.8 5h-5.5zM414.7 109.3l2.8 5h-5.5zM414.8 105.4l2.8 5h-5.5zM414.9 108.7l2.8 5h-5.5zM415 104.3l2.8 5h-5.5zM415.1 104l2.8 5h-5.5zM415.2 104.7l2.8 5h-5.5zM415.3 105l2.8 5h-5.5zM415.4 100.9l2.8 5h-5.5zM415.5 100.6l2.8 5h-5.5zM415.6 98.7l2.8 5h-5.5zM415.7 97.2l2.8 5h-5.5zM415.8 99l2.8 5h-5.5zM415.9 94.6l2.8 5h-5.5zM416 94.1l2.8 5h-5.5zM416.1 94.7l2.8 5h-5.5zM416.4 93.2l2.8 5h-5.5zM416.7 95.9l2.8 5h-5.5zM417 90.1l2.8 5h-5.5zM417.3 89.5l2.8 5h-5.5zM417.6 90.1l2.8 5h-5.5zM417.9 88.4l2.8 5h-5.5zM418.2 87.6l2.8 5h-5.5zM418.5 88.2l2.8 5h-5.5zM418.8 87.8l2.8 5h-5.5zM419.1 85.8l2.8 5h-5.5zM419.4 79.9l2.8 5h-5.5zM419.7 81.3l2.8 5h-5.5zM420 79.2l2.8 5h-5.5zM420.3 82.7l2.8 5h-5.5zM420.6 81.1l2.8 5h-5.5zM420.9 79.1l2.8 5h-5.5zM421.2 78.8l2.8 5h-5.5zM421.5 76.9l2.8 5h-5.5zM421.8 75.4l2.8 5h-5.5zM422.3 72.9l2.8 5h-5.5zM422.9 73.9l2.8 5h-5.5zM423.5 73.2l2.8 5h-5.5zM424.1 72.3l2.8 5h-5.5zM424.7 73.1l2.8 5h-5.5zM425.3 70.6l2.8 5h-5.5zM425.8 70.9l2.8 5h-5.5zM426.4 70.9l2.8 5h-5.5zM427 69.4l2.8 5h-5.5zM427.6 66.3l2.8 5h-5.5zM428.2 65.7l2.8 5h-5.5zM428.7 65.2l2.8 5h-5.5zM429.3 66.4l2.8 5h-5.5zM430.3 66.9l2.8 5h-5.5zM431.3 63.8l2.8 5h-5.5zM432.3 63.6l2.8 5h-5.5zM433.4 64.2l2.8 5h-5.5zM434.4 66.2l2.8 5h-5.5zM435.4 64.8l2.8 5h-5.5zM436.4 62.2l2.8 5h-5.5zM437.4 63.7l2.8 5h-5.5zM438.4 64.4l2.8 5h-5.5zM439.4 63.9l2.8 5h-5.5zM440.4 64.4l2.8 5h-5.5zM441.4 61.6l2.8 5h-5.5zM442.4 61.3l2.8 5h-5.5zM443.4 62.3l2.8 5h-5.5zM444.4 63.2l2.8 5h-5.5zM445.4 62.5l2.8 5h-5.5zM446.5 63.4l2.8 5h-5.5zM447.5 63.9l2.8 5h-5.5zM448.5 62.1l2.8 5h-5.5zM449.5 59.7l2.8 5h-5.5zM450.5 63.6l2.8 5h-5.5zM451.6 61.2l2.8 5h-5.5zM452.6 63.7l2.8 5h-5.5zM453.6 64.7l2.8 5h-5.5zM454.6 63.6l2.8 5h-5.5zM455.7 64.5l2.8 5h-5.5zM456.7 65.4l2.8 5h-5.5zM457.7 62.8l2.8 5h-5.5zM458.7 65.2l2.8 5h-5.5zM459.7 64.4l2.8 5h-5.5zM460.8 63.6l2.8 5h-5.5zM461.8 64.1l2.8 5h-5.5zM462.8 64.2l2.8 5h-5.5zM463.8 65.9l2.8 5h-5.5zM464.9 63.2l2.8 5h-5.5zM465.9 64.7l2.8 5h-5.5zM466.9 62.8l2.8 5h-5.5zM468 66.4l2.8 5h-5.5zM469 66.5l2.8 5h-5.5zM470 62l2.8 5h-5.5zM471.1 66.5l2.8 5h-5.5zM472.1 61.7l2.8 5h-5.5zM473.1 66.9l2.8 5h-5.5zM474.2 65.1l2.8 5h-5.5zM475.2 64.8l2.8 5h-5.5zM476.2 65.1l2.8 5h-5.5zM477.3 65.2l2.8 5h-5.5zM478.3 63.7l2.8 5h-5.5zM479.3 65.7l2.8 5h-5.5zM480.4 67.1l2.8 5h-5.5zM481.3 66.8l2.8 5h-5.5zM482.2 66.5l2.8 5h-5.5zM483.1 66.8l2.8 5h-5.5zM484 64.3l2.8 5h-5.5zM484.9 69.5l2.8 5h-5.5zM485.8 67.4l2.8 5h-5.5zM486.7 66.5l2.8 5h-5.5zM487.7 70.7l2.8 5h-5.5zM488.6 68.7l2.8 5h-5.5zM489.5 71.7l2.8 5h-5.5zM490.4 75l2.8 5h-5.5zM491.3 72.1l2.8 5h-5.5zM492.2 76l2.8 5h-5.5zM493 76.8l2.8 5h-5.5zM493.8 75.5l2.8 5h-5.5zM494.6 75.4l2.8 5h-5.5zM495.4 75l2.8 5h-5.5zM496.2 74l2.8 5h-5.5zM496.9 75.8l2.8 5h-5.5zM497.7 77.5l2.8 5h-5.5zM498.5 78l2.8 5h-5.5zM499.3 78.2l2.8 5h-5.5zM500.1 77.8l2.8 5h-5.5zM500.9 78.9l2.8 5h-5.5zM501.7 84.9l2.8 5h-5.5zM502.5 79.5l2.8 5h-5.5zM503.2 82.7l2.8 5h-5.5zM504 83.1l2.8 5h-5.5zM504.8 83.7l2.8 5h-5.5zM505.6 84.8l2.8 5h-5.5zM506.5 83.1l2.8 5h-5.5zM507.3 83.3l2.8 5h-5.5zM508.2 86.2l2.8 5h-5.5zM509 86.4l2.8 5h-5.5zM509.8 88l2.8 5h-5.5zM510.7 86.5l2.8 5h-5.5zM511.5 87.1l2.8 5h-5.5zM512.4 89.6l2.8 5h-5.5zM513.2 86.6l2.8 5h-5.5zM514.1 88.7l2.8 5h-5.5zM514.9 88.6l2.8 5h-5.5zM515.8 88.1l2.8 5h-5.5zM516.6 88.9l2.8 5h-5.5zM517.5 92.9l2.8 5h-5.5zM518.4 90.4l2.8 5h-5.5zM519.4 88.2l2.8 5h-5.5zM520.3 91.1l2.8 5h-5.5zM521.3 92l2.8 5h-5.5zM522.2 93.3l2.8 5h-5.5zM523.2 90.7l2.8 5h-5.5zM524.1 93.9l2.8 5h-5.5zM525.1 93.5l2.8 5h-5.5zM526 95l2.8 5h-5.5zM527 96.6l2.8 5h-5.5zM527.9 95.9l2.8 5h-5.5zM528.9 95.4l2.8 5h-5.5zM529.9 95l2.8 5h-5.5zM530.9 94.7l2.8 5h-5.5zM532 99.2l2.8 5h-5.5zM533 98l2.8 5h-5.5zM534 92.9l2.8 5h-5.5zM535.1 97.6l2.8 5h-5.5zM536.1 97.5l2.8 5h-5.5zM537.2 97.5l2.8 5h-5.5zM538.2 95.9l2.8 5h-5.5zM539.2 97.7l2.8 5h-5.5zM540.3 97.2l2.8 5h-5.5zM541.3 99l2.8 5h-5.5zM542.4 98.4l2.8 5h-5.5zM543.5 96.3l2.8 5h-5.5zM544.5 97.1l2.8 5h-5.5zM545.6 99.1l2.8 5h-5.5zM546.7 100.7l2.8 5h-5.5zM547.8 97.1l2.8 5h-5.5zM548.8 99.6l2.8 5h-5.5zM549.9 100.6l2.8 5h-5.5zM551 97.1l2.8 5h-5.5zM552 100.9l2.8 5h-5.5zM553.1 99.7l2.8 5h-5.5zM554.1 97.2l2.8 5h-5.5zM555.1 99.8l2.8 5h-5.5zM556.1 100.1l2.8 5h-5.5zM557.1 100.6l2.8 5h-5.5zM558.1 100.1l2.8 5h-5.5zM559.1 98.8l2.8 5h-5.5zM560.1 95.2l2.8 5h-5.5zM561.1 98.9l2.8 5h-5.5zM562.1 96.7l2.8 5h-5.5zM563.1 99.5l2.8 5h-5.5zM564.1 98.8l2.8 5h-5.5zM565.2 98.3l2.8 5h-5.5zM566.2 98.5l2.8 5h-5.5zM567.2 99.3l2.8 5h-5.5zM568.2 100.1l2.8 5h-5.5zM569.2 100.4l2.8 5h-5.5zM570.2 99.3l2.8 5h-5.5zM571.2 99l2.8 5h-5.5zM572.2 99.9l2.8 5h-5.5zM573.2 97.5l2.8 5h-5.5zM574.2 100l2.8 5h-5.5zM575.2 100.1l2.8 5h-5.5zM576.2 99.2l2.8 5h-5.5zM577.2 98.2l2.8 5h-5.5zM578.2 99.3l2.8 5h-5.5zM579.2 97.7l2.8 5h-5.5zM580.2 100.1l2.8 5h-5.5zM581.2 98l2.8 5h-5.5zM582.2 100.5l2.8 5h-5.5zM583.2 102l2.8 5h-5.5zM584.2 98l2.8 5h-5.5zM585.2 99.3l2.8 5h-5.5zM586.2 99.7l2.8 5h-5.5zM587.2 97.8l2.8 5h-5.5zM588.2 101.8l2.8 5h-5.5zM589.3 101.7l2.8 5h-5.5zM590.3 97.9l2.8 5h-5.5zM591.3 100.5l2.8 5h-5.5zM592.3 96.4l2.8 5h-5.5zM593.3 98l2.8 5h-5.5zM594.3 96.7l2.8 5h-5.5zM595.3 98.4l2.8 5h-5.5zM596.3 99.3l2.8 5h-5.5zM597.3 98.8l2.8 5h-5.5zM598.3 100l2.8 5h-5.5zM599.3 100.5l2.8 5h-5.5zM600.3 102.3l2.8 5h-5.5zM601.3 100.3l2.8 5h-5.5zM602.3 99.8l2.8 5h-5.5zM603.3 102l2.8 5h-5.5zM604.3 99.3l2.8 5h-5.5zM605.3 102l2.8 5h-5.5zM606.3 97.9l2.8 5h-5.5zM607.3 102.6l2.8 5h-5.5zM608.3 100.4l2.8 5h-5.5zM609.3 98.8l2.8 5h-5.5zM610.3 104.5l2.8 5h-5.5zM611.3 99.6l2.8 5h-5.5zM612.3 99.3l2.8 5h-5.5zM613.4 101.1l2.8 5h-5.5zM614.4 98.2l2.8 5h-5.5zM615.4 101.1l2.8 5h-5.5zM616.4 101.7l2.8 5h-5.5zM617.4 100.6l2.8 5h-5.5zM618.4 100l2.8 5h-5.5zM619.4 98.3l2.8 5h-5.5zM620.4 98.1l2.8 5h-5.5zM621.4 98.5l2.8 5h-5.5zM622.4 100.2l2.8 5h-5.5zM623.4 101.6l2.8 5h-5.5zM624.4 101.1l2.8 5h-5.5z"/>
<polyline fill="none" stroke="#7cf8f2" stroke-width="6" stroke-linejoin="round" stroke-linecap="round" points="414.4,141 419.1,143.7 427.6,145 445,141 462.5,138.4 471.8,134 479.9,128.8 492.5,121.8 501.3,125.3 505.2,131.4 510.3,137.5 516.5,144 521.4,152.8 532.7,161.6 539,165.5 548.8,169 558.8,170.4 583,169.2 624.4,171.2"/>
<path fill="#7cf8f2" d="M412.3 137.6h4.2v4.2h-4.2zM413.2 138.4h4.2v4.2h-4.2zM414.1 139.6h4.2v4.2h-4.2zM415.1 140h4.2v4.2h-4.2zM416 141.6h4.2v4.2h-4.2zM417 138.6h4.2v4.2h-4.2zM418 139.2h4.2v4.2h-4.2zM419.1 143.2h4.2v4.2h-4.2zM420.2 141.8h4.2v4.2h-4.2zM421.2 142.5h4.2v4.2h-4.2zM422.3 141.7h4.2v4.2h-4.2zM423.4 144h4.2v4.2h-4.2zM424.4 143.2h4.2v4.2h-4.2zM425.5 142h4.2v4.2h-4.2zM426.5 142.4h4.2v4.2h-4.2zM427.6 142.8h4.2v4.2h-4.2zM428.6 143h4.2v4.2h-4.2zM429.6 142.4h4.2v4.2h-4.2zM430.6 142.4h4.2v4.2h-4.2zM431.7 139.8h4.2v4.2h-4.2zM432.7 141.1h4.2v4.2h-4.2zM433.7 140.7h4.2v4.2h-4.2zM434.7 142.7h4.2v4.2h-4.2zM435.7 143h4.2v4.2h-4.2zM436.8 140.1h4.2v4.2h-4.2zM437.8 139.1h4.2v4.2h-4.2zM438.8 139.2h4.2v4.2h-4.2zM439.8 140.6h4.2v4.2h-4.2zM440.9 139.8h4.2v4.2h-4.2zM441.9 140.3h4.2v4.2h-4.2zM442.9 138.7h4.2v4.2h-4.2zM443.9 137.4h4.2v4.2h-4.2zM445 138.9h4.2v4.2h-4.2zM446 139.7h4.2v4.2h-4.2zM447 138.1h4.2v4.2h-4.2zM448.1 137.9h4.2v4.2h-4.2zM449.1 138.3h4.2v4.2h-4.2zM450.1 141.7h4.2v4.2h-4.2zM451.2 139.2h4.2v4.2h-4.2zM452.2 137.2h4.2v4.2h-4.2zM453.2 137.4h4.2v4.2h-4.2zM454.3 137.8h4.2v4.2h-4.2zM455.3 134.5h4.2v4.2h-4.2zM456.3 135.6h4.2v4.2h-4.2zM457.4 137.4h4.2v4.2h-4.2zM458.4 136.3h4.2v4.2h-4.2zM459.4 137h4.2v4.2h-4.2zM460.4 136.6h4.2v4.2h-4.2zM461.4 133.1h4.2v4.2h-4.2zM462.3 133.7h4.2v4.2h-4.2zM463.2 134.8h4.2v4.2h-4.2zM464.2 133.9h4.2v4.2h-4.2zM465.1 134.2h4.2v4.2h-4.2zM466 134.7h4.2v4.2h-4.2zM466.9 133.1h4.2v4.2h-4.2zM467.9 132.3h4.2v4.2h-4.2zM468.8 130.2h4.2v4.2h-4.2zM469.7 130.7h4.2v4.2h-4.2zM470.6 132.9h4.2v4.2h-4.2zM471.5 132.3h4.2v4.2h-4.2zM472.4 131.4h4.2v4.2h-4.2zM473.3 128.9h4.2v4.2h-4.2zM474.2 128.6h4.2v4.2h-4.2zM475.1 130h4.2v4.2h-4.2zM476 126.6h4.2v4.2h-4.2zM476.9 128.3h4.2v4.2h-4.2zM477.8 127.1h4.2v4.2h-4.2zM478.7 126.7h4.2v4.2h-4.2zM479.6 124.1h4.2v4.2h-4.2zM480.5 126.3h4.2v4.2h-4.2zM481.4 125.5h4.2v4.2h-4.2zM482.3 123h4.2v4.2h-4.2zM483.2 124.1h4.2v4.2h-4.2zM484.1 123.4h4.2v4.2h-4.2zM485 122.9h4.2v4.2h-4.2zM485.9 119.5h4.2v4.2h-4.2zM486.8 124.8h4.2v4.2h-4.2zM487.7 118.9h4.2v4.2h-4.2zM488.6 118.9h4.2v4.2h-4.2zM489.5 120.5h4.2v4.2h-4.2zM490.4 120.3h4.2v4.2h-4.2zM491.4 121.4h4.2v4.2h-4.2zM492.4 119.4h4.2v4.2h-4.2zM493.3 121.3h4.2v4.2h-4.2zM494.3 120.4h4.2v4.2h-4.2zM495.3 119.8h4.2v4.2h-4.2zM496.3 121.9h4.2v4.2h-4.2zM497.3 122.5h4.2v4.2h-4.2zM498.3 123.2h4.2v4.2h-4.2zM499.2 121.7h4.2v4.2h-4.2zM499.8 124.6h4.2v4.2h-4.2zM500.3 125.5h4.2v4.2h-4.2zM500.9 126h4.2v4.2h-4.2zM501.4 128h4.2v4.2h-4.2zM502 127.1h4.2v4.2h-4.2zM502.5 128.5h4.2v4.2h-4.2zM503.1 129h4.2v4.2h-4.2zM503.8 129.8h4.2v4.2h-4.2zM504.6 131.4h4.2v4.2h-4.2zM505.3 130.2h4.2v4.2h-4.2zM506 135.1h4.2v4.2h-4.2zM506.8 132.2h4.2v4.2h-4.2zM507.5 135.1h4.2v4.2h-4.2zM508.2 135.5h4.2v4.2h-4.2zM509 136.8h4.2v4.2h-4.2zM509.8 138.4h4.2v4.2h-4.2zM510.5 139.6h4.2v4.2h-4.2zM511.3 138.2h4.2v4.2h-4.2zM512.1 141.4h4.2v4.2h-4.2zM512.8 140.3h4.2v4.2h-4.2zM513.6 142.6h4.2v4.2h-4.2zM514.4 143.7h4.2v4.2h-4.2zM514.9 144h4.2v4.2h-4.2zM515.4 142.5h4.2v4.2h-4.2zM515.8 145.6h4.2v4.2h-4.2zM516.3 146.2h4.2v4.2h-4.2zM516.8 147.9h4.2v4.2h-4.2zM517.3 147.8h4.2v4.2h-4.2zM517.8 150.3h4.2v4.2h-4.2zM518.3 148.9h4.2v4.2h-4.2zM518.8 149.9h4.2v4.2h-4.2zM519.3 149.8h4.2v4.2h-4.2zM520.1 148.5h4.2v4.2h-4.2zM521 151.2h4.2v4.2h-4.2zM521.8 150.8h4.2v4.2h-4.2zM522.6 153.8h4.2v4.2h-4.2zM523.4 156.1h4.2v4.2h-4.2zM524.2 154h4.2v4.2h-4.2zM525 153.7h4.2v4.2h-4.2zM525.8 154.8h4.2v4.2h-4.2zM526.6 157.5h4.2v4.2h-4.2zM527.4 158.5h4.2v4.2h-4.2zM528.2 158.2h4.2v4.2h-4.2zM529 158.7h4.2v4.2h-4.2zM529.8 157.7h4.2v4.2h-4.2zM530.6 159h4.2v4.2h-4.2zM531.5 158.5h4.2v4.2h-4.2zM532.4 159.8h4.2v4.2h-4.2zM533.3 162h4.2v4.2h-4.2zM534.2 161.3h4.2v4.2h-4.2zM535.1 161h4.2v4.2h-4.2zM536 164.3h4.2v4.2h-4.2zM536.9 165.8h4.2v4.2h-4.2zM537.9 164.2h4.2v4.2h-4.2zM538.9 165.3h4.2v4.2h-4.2zM539.8 164.9h4.2v4.2h-4.2zM540.8 162.7h4.2v4.2h-4.2zM541.8 163.9h4.2v4.2h-4.2zM542.8 167h4.2v4.2h-4.2zM543.8 166.7h4.2v4.2h-4.2zM544.8 166.6h4.2v4.2h-4.2zM545.7 166.5h4.2v4.2h-4.2zM546.7 168.3h4.2v4.2h-4.2zM547.7 164.7h4.2v4.2h-4.2zM548.7 167.2h4.2v4.2h-4.2zM549.7 168.6h4.2v4.2h-4.2zM550.7 168.5h4.2v4.2h-4.2zM551.7 165.4h4.2v4.2h-4.2zM552.7 169.3h4.2v4.2h-4.2zM553.7 169.5h4.2v4.2h-4.2zM554.7 164.9h4.2v4.2h-4.2zM555.7 166.9h4.2v4.2h-4.2zM556.7 167.4h4.2v4.2h-4.2zM557.7 166.3h4.2v4.2h-4.2zM558.7 169.5h4.2v4.2h-4.2zM559.7 165.8h4.2v4.2h-4.2zM560.7 170.4h4.2v4.2h-4.2zM561.8 167.4h4.2v4.2h-4.2zM562.8 165.9h4.2v4.2h-4.2zM563.8 169.6h4.2v4.2h-4.2zM564.8 167.9h4.2v4.2h-4.2zM565.8 167.5h4.2v4.2h-4.2zM566.8 170.4h4.2v4.2h-4.2zM567.8 168.8h4.2v4.2h-4.2zM568.8 167.3h4.2v4.2h-4.2zM569.8 165.9h4.2v4.2h-4.2zM570.8 166.9h4.2v4.2h-4.2zM571.9 167.6h4.2v4.2h-4.2zM572.9 166.2h4.2v4.2h-4.2zM573.9 169.3h4.2v4.2h-4.2zM574.9 168h4.2v4.2h-4.2zM575.9 164.9h4.2v4.2h-4.2zM576.9 166.8h4.2v4.2h-4.2zM577.9 167.1h4.2v4.2h-4.2zM578.9 165h4.2v4.2h-4.2zM579.9 167.4h4.2v4.2h-4.2zM580.9 168.1h4.2v4.2h-4.2zM582 167.7h4.2v4.2h-4.2zM583 167.1h4.2v4.2h-4.2zM584 167h4.2v4.2h-4.2zM585 166.9h4.2v4.2h-4.2zM586 170.6h4.2v4.2h-4.2zM587 167.8h4.2v4.2h-4.2zM588 168.2h4.2v4.2h-4.2zM589 166.8h4.2v4.2h-4.2zM590 168.3h4.2v4.2h-4.2zM591 166.5h4.2v4.2h-4.2zM592 168.6h4.2v4.2h-4.2zM593 168.5h4.2v4.2h-4.2zM594.1 165.3h4.2v4.2h-4.2zM595.1 166.3h4.2v4.2h-4.2zM596.1 167.5h4.2v4.2h-4.2zM597.1 167.9h4.2v4.2h-4.2zM598.1 166.1h4.2v4.2h-4.2zM599.1 168h4.2v4.2h-4.2zM600.1 166.1h4.2v4.2h-4.2zM601.1 167h4.2v4.2h-4.2zM602.1 167.4h4.2v4.2h-4.2zM603.1 168.2h4.2v4.2h-4.2zM604.1 169h4.2v4.2h-4.2zM605.2 166.4h4.2v4.2h-4.2zM606.2 168.2h4.2v4.2h-4.2zM607.2 169.8h4.2v4.2h-4.2zM608.2 168.4h4.2v4.2h-4.2zM609.2 166.4h4.2v4.2h-4.2zM610.2 169.3h4.2v4.2h-4.2zM611.2 166.4h4.2v4.2h-4.2zM612.2 167.2h4.2v4.2h-4.2zM613.2 168.8h4.2v4.2h-4.2zM614.2 170.7h4.2v4.2h-4.2zM615.2 168h4.2v4.2h-4.2zM616.2 169.2h4.2v4.2h-4.2zM617.3 169.9h4.2v4.2h-4.2zM618.3 167.3h4.2v4.2h-4.2zM619.3 167.6h4.2v4.2h-4.2zM620.3 169.8h4.2v4.2h-4.2zM621.3 170.3h4.2v4.2h-4.2zM622.3 166.5h4.2v4.2h-4.2zM410.3 90h4.2v4.2h-4.2zM410.3 118.8h4.2v4.2h-4.2zM409.1 16.6h4.2v4.2h-4.2z"/>
<polyline fill="none" stroke="#9a9a9a" stroke-width="4" stroke-linejoin="round" stroke-linecap="round" points="410.5,104.3 624.4,104.3"/>
<path fill="#9a9a9a" d="M410.5 101.8l2.5 2.5 -2.5 2.5 -2.5 -2.5zM412 101.8l2.5 2.5 -2.5 2.5 -2.5 -2.5zM413.5 101.8l2.5 2.5 -2.5 2.5 -2.5 -2.5zM415 101.8l2.5 2.5 -2.5 2.5 -2.5 -2.5zM416.5 101.8l2.5 2.5 -2.5 2.5 -2.5 -2.5zM418 101.8l2.5 2.5 -2.5 2.5 -2.5 -2.5zM419.5 101.8l2.5 2.5 -2.5 2.5 -2.5 -2.5zM421 101.8l2.5 2.5 -2.5 2.5 -2.5 -2.5zM422.6 101.8l2.5 2.5 -2.5 2.5 -2.5 -2.5zM424.1 101.8l2.5 2.5 -2.5 2.5 -2.5 -2.5zM425.6 101.8l2.5 2.5 -2.5 2.5 -2.5 -2.5zM427.1 101.8l2.5 2.5 -2.5 2.5 -2.5 -2.5zM428.6 101.8l2.5 2.5 -2.5 2.5 -2.5 -2.5zM430.1 101.8l2.5 2.5 -2.5 2.5 -2.5 -2.5zM431.6 101.8l2.5 2.5 -2.5 2.5 -2.5 -2.5zM433.1 101.8l2.5 2.5 -2.5 2.5 -2.5 -2.5zM434.6 101.8l2.5 2.5 -2.5 2.5 -2.5 -2.5zM436.1 101.8l2.5 2.5 -2.5 2.5 -2.5 -2.5zM437.6 101.8l2.5 2.5 -2.5 2.5 -2.5 -2.5zM439.1 101.8l2.5 2.5 -2.5 2.5 -2.5 -2.5zM440.6 101.8l2.5 2.5 -2.5 2.5 -2.5 -2.5zM442.1 101.8l2.5 2.5 -2.5 2.5 -2.5 -2.5zM443.6 101.8l2.5 2.5 -2.5 2.5 -2.5 -2.5zM445.1 101.8l2.5 2.5 -2.5 2.5 -2.5 -2.5zM446.7 101.8l2.5 2.5 -2.5 2.5 -2.5 -2.5zM448.2 101.8l2.5 2.5 -2.5 2.5 -2.5 -2.5zM449.7 101.8l2.5 2.5 -2.5 2.5 -2.5 -2.5zM451.2 101.8l2.5 2.5 -2.5 2.5 -2.5 -2.5zM452.7 101.8l2.5 2.5 -2.5 2.5 -2.5 -2.5zM454.2 101.8l2.5 2.5 -2.5 2.5 -2.5 -2.5zM455.7 101.8l2.5 2.5 -2.5 2.5 -2.5 -2.5zM457.2 101.8l2.5 2.5 -2.5 2.5 -2.5 -2.5zM458.7 101.8l2.5 2.5 -2.5 2.5 -2.5 -2.5zM460.2 101.8l2.5 2.5 -2.5 2.5 -2.5 -2.5zM461.7 101.8l2.5 2.5 -2.5 2.5 -2.5 -2.5zM463.2 101.8l2.5 2.5 -2.5 2.5 -2.5 -2.5zM464.7 101.8l2.5 2.5 -2.5 2.5 -2.5 -2.5zM466.2 101.8l2.5 2.5 -2.5 2.5 -2.5 -2.5zM467.7 101.8l2.5 2.5 -2.5 2.5 -2.5 -2.5zM469.2 101.8l2.5 2.5 -2.5 2.5 -2.5 -2.5zM470.8 101.8l2.5 2.5 -2.5 2.5 -2.5 -2.5zM472.3 101.8l2.5 2.5 -2.5 2.5 -2.5 -2.5zM473.8 101.8l2.5 2.5 -2.5 2.5 -2.5 -2.5zM475.3 101.8l2.5 2.5 -2.5 2.5 -2.5 -2.5zM476.8 101.8l2.5 2.5 -2.5 2.5 -2.5 -2.5zM478.3 101.8l2.5 2.5 -2.5 2.5 -2.5 -2.5zM479.8 101.8l2.5 2.5 -2.5 2.5 -2.5 -2.5zM481.3 101.8l2.5 2.5 -2.5 2.5 -2.5 -2.5zM482.8 101.8l2.5 2.5 -2.5 2.5 -2.5 -2.5zM484.3 101.8l2.5 2.5 -2.5 2.5 -2.5 -2.5zM485.8 101.8l2.5 2.5 -2.5 2.5 -2.5 -2.5zM487.3 101.8l2.5 2.5 -2.5 2.5 -2.5 -2.5zM488.8 101.8l2.5 2.5 -2.5 2.5 -2.5 -2.5zM490.3 101.8l2.5 2.5 -2.5 2.5 -2.5 -2.5zM491.8 101.8l2.5 2.5 -2.5 2.5 -2.5 -2.5zM493.3 101.8l2.5 2.5 -2.5 2.5 -2.5 -2.5zM494.9 101.8l2.5 2.5 -2.5 2.5 -2.5 -2.5zM496.4 101.8l2.5 2.5 -2.5 2.5 -2.5 -2.5zM497.9 101.8l2.5 2.5 -2.5 2.5 -2.5 -2.5zM499.4 101.8l2.5 2.5 -2.5 2.5 -2.5 -2.5zM500.9 101.8l2.5 2.5 -2.5 2.5 -2.5 -2.5zM502.4 101.8l2.5 2.5 -2.5 2.5 -2.5 -2.5zM503.9 101.8l2.5 2.5 -2.5 2.5 -2.5 -2.5zM505.4 101.8l2.5 2.5 -2.5 2.5 -2.5 -2.5zM506.9 101.8l2.5 2.5 -2.5 2.5 -2.5 -2.5zM508.4 101.8l2.5 2.5 -2.5 2.5 -2.5 -2.5zM509.9 101.8l2.5 2.5 -2.5 2.5 -2.5 -2.5zM511.4 101.8l2.5 2.5 -2.5 2.5 -2.5 -2.5zM512.9 101.8l2.5 2.5 -2.5 2.5 -2.5 -2.5zM514.4 101.8l2.5 2.5 -2.5 2.5 -2.5 -2.5zM515.9 101.8l2.5 2.5 -2.5 2.5 -2.5 -2.5zM517.5 101.8l2.5 2.5 -2.5 2.5 -2.5 -2.5zM519 101.8l2.5 2.5 -2.5 2.5 -2.5 -2.5zM520.5 101.8l2.5 2.5 -2.5 2.5 -2.5 -2.5zM522 101.8l2.5 2.5 -2.5 2.5 -2.5 -2.5zM523.5 101.8l2.5 2.5 -2.5 2.5 -2.5 -2.5zM525 101.8l2.5 2.5 -2.5 2.5 -2.5 -2.5zM526.5 101.8l2.5 2.5 -2.5 2.5 -2.5 -2.5zM528 101.8l2.5 2.5 -2.5 2.5 -2.5 -2.5zM529.5 101.8l2.5 2.5 -2.5 2.5 -2.5 -2.5zM531 101.8l2.5 2.5 -2.5 2.5 -2.5 -2.5zM532.5 101.8l2.5 2.5 -2.5 2.5 -2.5 -2.5zM534 101.8l2.5 2.5 -2.5 2.5 -2.5 -2.5zM535.5 101.8l2.5 2.5 -2.5 2.5 -2.5 -2.5zM537 101.8l2.5 2.5 -2.5 2.5 -2.5 -2.5zM538.5 101.8l2.5 2.5 -2.5 2.5 -2.5 -2.5zM540 101.8l2.5 2.5 -2.5 2.5 -2.5 -2.5zM541.6 101.8l2.5 2.5 -2.5 2.5 -2.5 -2.5zM543.1 101.8l2.5 2.5 -2.5 2.5 -2.5 -2.5zM544.6 101.8l2.5 2.5 -2.5 2.5 -2.5 -2.5zM546.1 101.8l2.5 2.5 -2.5 2.5 -2.5 -2.5zM547.6 101.8l2.5 2.5 -2.5 2.5 -2.5 -2.5zM549.1 101.8l2.5 2.5 -2.5 2.5 -2.5 -2.5zM550.6 101.8l2.5 2.5 -2.5 2.5 -2.5 -2.5zM552.1 101.8l2.5 2.5 -2.5 2.5 -2.5 -2.5zM553.6 101.8l2.5 2.5 -2.5 2.5 -2.5 -2.5zM555.1 101.8l2.5 2.5 -2.5 2.5 -2.5 -2.5zM556.6 101.8l2.5 2.5 -2.5 2.5 -2.5 -2.5zM558.1 101.8l2.5 2.5 -2.5 2.5 -2.5 -2.5zM559.6 101.8l2.5 2.5 -2.5 2.5 -2.5 -2.5zM561.1 101.8l2.5 2.5 -2.5 2.5 -2.5 -2.5zM562.6 101.8l2.5 2.5 -2.5 2.5 -2.5 -2.5zM564.1 101.8l2.5 2.5 -2.5 2.5 -2.5 -2.5zM565.7 101.8l2.5 2.5 -2.5 2.5 -2.5 -2.5zM567.2 101.8l2.5 2.5 -2.5 2.5 -2.5 -2.5zM568.7 101.8l2.5 2.5 -2.5 2.5 -2.5 -2.5zM570.2 101.8l2.5 2.5 -2.5 2.5 -2.5 -2.5zM571.7 101.8l2.5 2.5 -2.5 2.5 -2.5 -2.5zM573.2 101.8l2.5 2.5 -2.5 2.5 -2.5 -2.5zM574.7 101.8l2.5 2.5 -2.5 2.5 -2.5 -2.5zM576.2 101.8l2.5 2.5 -2.5 2.5 -2.5 -2.5zM577.7 101.8l2.5 2.5 -2.5 2.5 -2.5 -2.5zM579.2 101.8l2.5 2.5 -2.5 2.5 -2.5 -2.5zM580.7 101.8l2.5 2.5 -2.5 2.5 -2.5 -2.5zM582.2 101.8l2.5 2.5 -2.5 2.5 -2.5 -2.5zM583.7 101.8l2.5 2.5 -2.5 2.5 -2.5 -2.5zM585.2 101.8l2.5 2.5 -2.5 2.5 -2.5 -2.5zM586.7 101.8l2.5 2.5 -2.5 2.5 -2.5 -2.5zM588.2 101.8l2.5 2.5 -2.5 2.5 -2.5 -2.5zM589.8 101.8l2.5 2.5 -2.5 2.5 -2.5 -2.5zM591.3 101.8l2.5 2.5 -2.5 2.5 -2.5 -2.5zM592.8 101.8l2.5 2.5 -2.5 2.5 -2.5 -2.5zM594.3 101.8l2.5 2.5 -2.5 2.5 -2.5 -2.5zM595.8 101.8l2.5 2.5 -2.5 2.5 -2.5 -2.5zM597.3 101.8l2.5 2.5 -2.5 2.5 -2.5 -2.5zM598.8 101.8l2.5 2.5 -2.5 2.5 -2.5 -2.5zM600.3 101.8l2.5 2.5 -2.5 2.5 -2.5 -2.5zM601.8 101.8l2.5 2.5 -2.5 2.5 -2.5 -2.5zM603.3 101.8l2.5 2.5 -2.5 2.5 -2.5 -2.5zM604.8 101.8l2.5 2.5 -2.5 2.5 -2.5 -2.5zM606.3 101.8l2.5 2.5 -2.5 2.5 -2.5 -2.5zM607.8 101.8l2.5 2.5 -2.5 2.5 -2.5 -2.5zM609.3 101.8l2.5 2.5 -2.5 2.5 -2.5 -2.5zM610.8 101.8l2.5 2.5 -2.5 2.5 -2.5 -2.5zM612.3 101.8l2.5 2.5 -2.5 2.5 -2.5 -2.5zM613.9 101.8l2.5 2.5 -2.5 2.5 -2.5 -2.5zM615.4 101.8l2.5 2.5 -2.5 2.5 -2.5 -2.5zM616.9 101.8l2.5 2.5 -2.5 2.5 -2.5 -2.5zM618.4 101.8l2.5 2.5 -2.5 2.5 -2.5 -2.5zM619.9 101.8l2.5 2.5 -2.5 2.5 -2.5 -2.5zM621.4 101.8l2.5 2.5 -2.5 2.5 -2.5 -2.5zM622.9 101.8l2.5 2.5 -2.5 2.5 -2.5 -2.5zM624.4 101.8l2.5 2.5 -2.5 2.5 -2.5 -2.5z"/>
<polyline fill="none" stroke="#b857ee" stroke-width="3.5" stroke-linejoin="round" stroke-linecap="round" points="410.5,190 478.9,189.5 488.9,188.2 495.1,185.5 501.3,170.4 506.3,152.8 511.3,137.7 517.6,125.2 524,115.1 530.3,110.1 536.6,107.5 546,106.5 624.4,106.5"/>
<path fill="#b857ee" d="M408.4 189.9a2.1 2.1 0 1 0 4.2 0a2.1 2.1 0 1 0 -4.2 0zM409.4 189.4a2.1 2.1 0 1 0 4.2 0a2.1 2.1 0 1 0 -4.2 0zM410.4 188.6a2.1 2.1 0 1 0 4.2 0a2.1 2.1 0 1 0 -4.2 0zM411.4 190.6a2.1 2.1 0 1 0 4.2 0a2.1 2.1 0 1 0 -4.2 0zM412.4 188.9a2.1 2.1 0 1 0 4.2 0a2.1 2.1 0 1 0 -4.2 0zM413.4 189.9a2.1 2.1 0 1 0 4.2 0a2.1 2.1 0 1 0 -4.2 0zM414.4 189.6a2.1 2.1 0 1 0 4.2 0a2.1 2.1 0 1 0 -4.2 0zM415.4 190.5a2.1 2.1 0 1 0 4.2 0a2.1 2.1 0 1 0 -4.2 0zM416.5 190.9a2.1 2.1 0 1 0 4.2 0a2.1 2.1 0 1 0 -4.2 0zM417.5 191a2.1 2.1 0 1 0 4.2 0a2.1 2.1 0 1 0 -4.2 0zM418.5 191.1a2.1 2.1 0 1 0 4.2 0a2.1 2.1 0 1 0 -4.2 0zM419.5 189.9a2.1 2.1 0 1 0 4.2 0a2.1 2.1 0 1 0 -4.2 0zM420.5 189.9a2.1 2.1 0 1 0 4.2 0a2.1 2.1 0 1 0 -4.2 0zM421.5 190.4a2.1 2.1 0 1 0 4.2 0a2.1 2.1 0 1 0 -4.2 0zM422.5 191.1a2.1 2.1 0 1 0 4.2 0a2.1 2.1 0 1 0 -4.2 0zM423.5 189.3a2.1 2.1 0 1 0 4.2 0a2.1 2.1 0 1 0 -4.2 0zM424.5 190.1a2.1 2.1 0 1 0 4.2 0a2.1 2.1 0 1 0 -4.2 0zM425.5 190.1a2.1 2.1 0 1 0 4.2 0a2.1 2.1 0 1 0 -4.2 0zM426.5 190.9a2.1 2.1 0 1 0 4.2 0a2.1 2.1 0 1 0 -4.2 0zM427.5 189.4a2.1 2.1 0 1 0 4.2 0a2.1 2.1 0 1 0 -4.2 0zM428.5 189.2a2.1 2.1 0 1 0 4.2 0a2.1 2.1 0 1 0 -4.2 0zM429.5 190.2a2.1 2.1 0 1 0 4.2 0a2.1 2.1 0 1 0 -4.2 0zM430.5 188.8a2.1 2.1 0 1 0 4.2 0a2.1 2.1 0 1 0 -4.2 0zM431.6 188.2a2.1 2.1 0 1 0 4.2 0a2.1 2.1 0 1 0 -4.2 0zM432.6 188.5a2.1 2.1 0 1 0 4.2 0a2.1 2.1 0 1 0 -4.2 0zM433.6 189.1a2.1 2.1 0 1 0 4.2 0a2.1 2.1 0 1 0 -4.2 0zM434.6 190.2a2.1 2.1 0 1 0 4.2 0a2.1 2.1 0 1 0 -4.2 0zM435.6 189.4a2.1 2.1 0 1 0 4.2 0a2.1 2.1 0 1 0 -4.2 0zM436.6 190.3a2.1 2.1 0 1 0 4.2 0a2.1 2.1 0 1 0 -4.2 0zM437.6 189.3a2.1 2.1 0 1 0 4.2 0a2.1 2.1 0 1 0 -4.2 0zM438.6 190.1a2.1 2.1 0 1 0 4.2 0a2.1 2.1 0 1 0 -4.2 0zM439.6 189.3a2.1 2.1 0 1 0 4.2 0a2.1 2.1 0 1 0 -4.2 0zM440.6 189.7a2.1 2.1 0 1 0 4.2 0a2.1 2.1 0 1 0 -4.2 0zM441.6 189.7a2.1 2.1 0 1 0 4.2 0a2.1 2.1 0 1 0 -4.2 0zM442.6 190.8a2.1 2.1 0 1 0 4.2 0a2.1 2.1 0 1 0 -4.2 0zM443.6 189.9a2.1 2.1 0 1 0 4.2 0a2.1 2.1 0 1 0 -4.2 0zM444.6 190.7a2.1 2.1 0 1 0 4.2 0a2.1 2.1 0 1 0 -4.2 0zM445.6 188.9a2.1 2.1 0 1 0 4.2 0a2.1 2.1 0 1 0 -4.2 0zM446.7 188.8a2.1 2.1 0 1 0 4.2 0a2.1 2.1 0 1 0 -4.2 0zM447.7 189.6a2.1 2.1 0 1 0 4.2 0a2.1 2.1 0 1 0 -4.2 0zM448.7 189.8a2.1 2.1 0 1 0 4.2 0a2.1 2.1 0 1 0 -4.2 0zM449.7 189.4a2.1 2.1 0 1 0 4.2 0a2.1 2.1 0 1 0 -4.2 0zM450.7 190.3a2.1 2.1 0 1 0 4.2 0a2.1 2.1 0 1 0 -4.2 0zM451.7 190.7a2.1 2.1 0 1 0 4.2 0a2.1 2.1 0 1 0 -4.2 0zM452.7 189.5a2.1 2.1 0 1 0 4.2 0a2.1 2.1 0 1 0 -4.2 0zM453.7 189.8a2.1 2.1 0 1 0 4.2 0a2.1 2.1 0 1 0 -4.2 0zM454.7 189.4a2.1 2.1 0 1 0 4.2 0a2.1 2.1 0 1 0 -4.2 0zM455.7 189.4a2.1 2.1 0 1 0 4.2 0a2.1 2.1 0 1 0 -4.2 0zM456.7 189.6a2.1 2.1 0 1 0 4.2 0a2.1 2.1 0 1 0 -4.2 0zM457.7 190.2a2.1 2.1 0 1 0 4.2 0a2.1 2.1 0 1 0 -4.2 0zM458.7 189.7a2.1 2.1 0 1 0 4.2 0a2.1 2.1 0 1 0 -4.2 0zM459.7 189.9a2.1 2.1 0 1 0 4.2 0a2.1 2.1 0 1 0 -4.2 0zM460.7 190.4a2.1 2.1 0 1 0 4.2 0a2.1 2.1 0 1 0 -4.2 0zM461.7 189.3a2.1 2.1 0 1 0 4.2 0a2.1 2.1 0 1 0 -4.2 0zM462.8 190.1a2.1 2.1 0 1 0 4.2 0a2.1 2.1 0 1 0 -4.2 0zM463.8 189.9a2.1 2.1 0 1 0 4.2 0a2.1 2.1 0 1 0 -4.2 0zM464.8 189.1a2.1 2.1 0 1 0 4.2 0a2.1 2.1 0 1 0 -4.2 0zM465.8 189.4a2.1 2.1 0 1 0 4.2 0a2.1 2.1 0 1 0 -4.2 0zM466.8 189.8a2.1 2.1 0 1 0 4.2 0a2.1 2.1 0 1 0 -4.2 0zM467.8 190.3a2.1 2.1 0 1 0 4.2 0a2.1 2.1 0 1 0 -4.2 0zM468.8 189a2.1 2.1 0 1 0 4.2 0a2.1 2.1 0 1 0 -4.2 0zM469.8 189.6a2.1 2.1 0 1 0 4.2 0a2.1 2.1 0 1 0 -4.2 0zM470.8 190.9a2.1 2.1 0 1 0 4.2 0a2.1 2.1 0 1 0 -4.2 0zM471.8 190.8a2.1 2.1 0 1 0 4.2 0a2.1 2.1 0 1 0 -4.2 0zM472.8 188.8a2.1 2.1 0 1 0 4.2 0a2.1 2.1 0 1 0 -4.2 0zM473.8 190.3a2.1 2.1 0 1 0 4.2 0a2.1 2.1 0 1 0 -4.2 0zM474.8 189.5a2.1 2.1 0 1 0 4.2 0a2.1 2.1 0 1 0 -4.2 0zM475.8 189.2a2.1 2.1 0 1 0 4.2 0a2.1 2.1 0 1 0 -4.2 0zM476.8 189.5a2.1 2.1 0 1 0 4.2 0a2.1 2.1 0 1 0 -4.2 0zM477.8 189.2a2.1 2.1 0 1 0 4.2 0a2.1 2.1 0 1 0 -4.2 0zM478.8 189.3a2.1 2.1 0 1 0 4.2 0a2.1 2.1 0 1 0 -4.2 0zM479.8 189.3a2.1 2.1 0 1 0 4.2 0a2.1 2.1 0 1 0 -4.2 0zM480.8 188.5a2.1 2.1 0 1 0 4.2 0a2.1 2.1 0 1 0 -4.2 0zM481.8 188.4a2.1 2.1 0 1 0 4.2 0a2.1 2.1 0 1 0 -4.2 0zM482.8 188.9a2.1 2.1 0 1 0 4.2 0a2.1 2.1 0 1 0 -4.2 0zM483.8 187.9a2.1 2.1 0 1 0 4.2 0a2.1 2.1 0 1 0 -4.2 0zM484.8 188.5a2.1 2.1 0 1 0 4.2 0a2.1 2.1 0 1 0 -4.2 0zM485.8 188a2.1 2.1 0 1 0 4.2 0a2.1 2.1 0 1 0 -4.2 0zM486.8 187.1a2.1 2.1 0 1 0 4.2 0a2.1 2.1 0 1 0 -4.2 0zM487.9 188a2.1 2.1 0 1 0 4.2 0a2.1 2.1 0 1 0 -4.2 0zM488.9 186.9a2.1 2.1 0 1 0 4.2 0a2.1 2.1 0 1 0 -4.2 0zM489.9 186.9a2.1 2.1 0 1 0 4.2 0a2.1 2.1 0 1 0 -4.2 0zM490.9 186.6a2.1 2.1 0 1 0 4.2 0a2.1 2.1 0 1 0 -4.2 0zM491.9 185.4a2.1 2.1 0 1 0 4.2 0a2.1 2.1 0 1 0 -4.2 0zM493 186.3a2.1 2.1 0 1 0 4.2 0a2.1 2.1 0 1 0 -4.2 0zM493.4 185a2.1 2.1 0 1 0 4.2 0a2.1 2.1 0 1 0 -4.2 0zM493.7 183.6a2.1 2.1 0 1 0 4.2 0a2.1 2.1 0 1 0 -4.2 0zM494.1 183.9a2.1 2.1 0 1 0 4.2 0a2.1 2.1 0 1 0 -4.2 0zM494.5 181.9a2.1 2.1 0 1 0 4.2 0a2.1 2.1 0 1 0 -4.2 0zM494.9 181.6a2.1 2.1 0 1 0 4.2 0a2.1 2.1 0 1 0 -4.2 0zM495.3 179.9a2.1 2.1 0 1 0 4.2 0a2.1 2.1 0 1 0 -4.2 0zM495.7 179.2a2.1 2.1 0 1 0 4.2 0a2.1 2.1 0 1 0 -4.2 0zM496.1 178.4a2.1 2.1 0 1 0 4.2 0a2.1 2.1 0 1 0 -4.2 0zM496.5 177.7a2.1 2.1 0 1 0 4.2 0a2.1 2.1 0 1 0 -4.2 0zM496.9 176a2.1 2.1 0 1 0 4.2 0a2.1 2.1 0 1 0 -4.2 0zM497.3 174.5a2.1 2.1 0 1 0 4.2 0a2.1 2.1 0 1 0 -4.2 0zM497.7 174.4a2.1 2.1 0 1 0 4.2 0a2.1 2.1 0 1 0 -4.2 0zM498.1 173a2.1 2.1 0 1 0 4.2 0a2.1 2.1 0 1 0 -4.2 0zM498.5 173.1a2.1 2.1 0 1 0 4.2 0a2.1 2.1 0 1 0 -4.2 0zM498.8 171.4a2.1 2.1 0 1 0 4.2 0a2.1 2.1 0 1 0 -4.2 0zM499.2 169.9a2.1 2.1 0 1 0 4.2 0a2.1 2.1 0 1 0 -4.2 0zM499.5 170.2a2.1 2.1 0 1 0 4.2 0a2.1 2.1 0 1 0 -4.2 0zM499.8 168.4a2.1 2.1 0 1 0 4.2 0a2.1 2.1 0 1 0 -4.2 0zM500.1 167.5a2.1 2.1 0 1 0 4.2 0a2.1 2.1 0 1 0 -4.2 0zM500.3 165.7a2.1 2.1 0 1 0 4.2 0a2.1 2.1 0 1 0 -4.2 0zM500.6 166.3a2.1 2.1 0 1 0 4.2 0a2.1 2.1 0 1 0 -4.2 0zM500.9 165.6a2.1 2.1 0 1 0 4.2 0a2.1 2.1 0 1 0 -4.2 0zM501.2 164a2.1 2.1 0 1 0 4.2 0a2.1 2.1 0 1 0 -4.2 0zM501.5 162.9a2.1 2.1 0 1 0 4.2 0a2.1 2.1 0 1 0 -4.2 0zM501.7 161.7a2.1 2.1 0 1 0 4.2 0a2.1 2.1 0 1 0 -4.2 0zM502 160.9a2.1 2.1 0 1 0 4.2 0a2.1 2.1 0 1 0 -4.2 0zM502.3 159.7a2.1 2.1 0 1 0 4.2 0a2.1 2.1 0 1 0 -4.2 0zM502.6 158.3a2.1 2.1 0 1 0 4.2 0a2.1 2.1 0 1 0 -4.2 0zM502.8 158.1a2.1 2.1 0 1 0 4.2 0a2.1 2.1 0 1 0 -4.2 0zM503.1 155.3a2.1 2.1 0 1 0 4.2 0a2.1 2.1 0 1 0 -4.2 0zM503.4 154.9a2.1 2.1 0 1 0 4.2 0a2.1 2.1 0 1 0 -4.2 0zM503.7 156.5a2.1 2.1 0 1 0 4.2 0a2.1 2.1 0 1 0 -4.2 0zM503.9 153.9a2.1 2.1 0 1 0 4.2 0a2.1 2.1 0 1 0 -4.2 0zM504.2 151.1a2.1 2.1 0 1 0 4.2 0a2.1 2.1 0 1 0 -4.2 0zM504.6 149.7a2.1 2.1 0 1 0 4.2 0a2.1 2.1 0 1 0 -4.2 0zM504.9 150.5a2.1 2.1 0 1 0 4.2 0a2.1 2.1 0 1 0 -4.2 0zM505.2 150a2.1 2.1 0 1 0 4.2 0a2.1 2.1 0 1 0 -4.2 0zM505.6 149.6a2.1 2.1 0 1 0 4.2 0a2.1 2.1 0 1 0 -4.2 0zM505.9 148.1a2.1 2.1 0 1 0 4.2 0a2.1 2.1 0 1 0 -4.2 0zM506.2 146.5a2.1 2.1 0 1 0 4.2 0a2.1 2.1 0 1 0 -4.2 0zM506.6 145.2a2.1 2.1 0 1 0 4.2 0a2.1 2.1 0 1 0 -4.2 0zM506.9 145.4a2.1 2.1 0 1 0 4.2 0a2.1 2.1 0 1 0 -4.2 0zM507.2 144.5a2.1 2.1 0 1 0 4.2 0a2.1 2.1 0 1 0 -4.2 0zM507.6 143.7a2.1 2.1 0 1 0 4.2 0a2.1 2.1 0 1 0 -4.2 0zM507.9 141.7a2.1 2.1 0 1 0 4.2 0a2.1 2.1 0 1 0 -4.2 0zM508.2 139.7a2.1 2.1 0 1 0 4.2 0a2.1 2.1 0 1 0 -4.2 0zM508.6 140.1a2.1 2.1 0 1 0 4.2 0a2.1 2.1 0 1 0 -4.2 0zM508.9 140a2.1 2.1 0 1 0 4.2 0a2.1 2.1 0 1 0 -4.2 0zM509.2 137.9a2.1 2.1 0 1 0 4.2 0a2.1 2.1 0 1 0 -4.2 0zM509.7 135.8a2.1 2.1 0 1 0 4.2 0a2.1 2.1 0 1 0 -4.2 0zM510.2 136a2.1 2.1 0 1 0 4.2 0a2.1 2.1 0 1 0 -4.2 0zM510.7 134.9a2.1 2.1 0 1 0 4.2 0a2.1 2.1 0 1 0 -4.2 0zM511.1 133.2a2.1 2.1 0 1 0 4.2 0a2.1 2.1 0 1 0 -4.2 0zM511.6 131.7a2.1 2.1 0 1 0 4.2 0a2.1 2.1 0 1 0 -4.2 0zM512.1 131.2a2.1 2.1 0 1 0 4.2 0a2.1 2.1 0 1 0 -4.2 0zM512.6 131.5a2.1 2.1 0 1 0 4.2 0a2.1 2.1 0 1 0 -4.2 0zM513.1 130.7a2.1 2.1 0 1 0 4.2 0a2.1 2.1 0 1 0 -4.2 0zM513.6 130.5a2.1 2.1 0 1 0 4.2 0a2.1 2.1 0 1 0 -4.2 0zM514 128.2a2.1 2.1 0 1 0 4.2 0a2.1 2.1 0 1 0 -4.2 0zM514.5 127a2.1 2.1 0 1 0 4.2 0a2.1 2.1 0 1 0 -4.2 0zM515 127.6a2.1 2.1 0 1 0 4.2 0a2.1 2.1 0 1 0 -4.2 0zM515.5 124.5a2.1 2.1 0 1 0 4.2 0a2.1 2.1 0 1 0 -4.2 0zM516.1 125a2.1 2.1 0 1 0 4.2 0a2.1 2.1 0 1 0 -4.2 0zM516.7 122.9a2.1 2.1 0 1 0 4.2 0a2.1 2.1 0 1 0 -4.2 0zM517.2 122.9a2.1 2.1 0 1 0 4.2 0a2.1 2.1 0 1 0 -4.2 0zM517.8 121a2.1 2.1 0 1 0 4.2 0a2.1 2.1 0 1 0 -4.2 0zM518.4 121.1a2.1 2.1 0 1 0 4.2 0a2.1 2.1 0 1 0 -4.2 0zM519 120.1a2.1 2.1 0 1 0 4.2 0a2.1 2.1 0 1 0 -4.2 0zM519.6 120.1a2.1 2.1 0 1 0 4.2 0a2.1 2.1 0 1 0 -4.2 0zM520.2 117.5a2.1 2.1 0 1 0 4.2 0a2.1 2.1 0 1 0 -4.2 0zM520.7 116.7a2.1 2.1 0 1 0 4.2 0a2.1 2.1 0 1 0 -4.2 0zM521.3 116.1a2.1 2.1 0 1 0 4.2 0a2.1 2.1 0 1 0 -4.2 0zM521.9 114.1a2.1 2.1 0 1 0 4.2 0a2.1 2.1 0 1 0 -4.2 0zM522.7 115.5a2.1 2.1 0 1 0 4.2 0a2.1 2.1 0 1 0 -4.2 0zM523.5 113.3a2.1 2.1 0 1 0 4.2 0a2.1 2.1 0 1 0 -4.2 0zM524.3 112.6a2.1 2.1 0 1 0 4.2 0a2.1 2.1 0 1 0 -4.2 0zM525 113.4a2.1 2.1 0 1 0 4.2 0a2.1 2.1 0 1 0 -4.2 0zM525.8 111.5a2.1 2.1 0 1 0 4.2 0a2.1 2.1 0 1 0 -4.2 0zM526.6 111.1a2.1 2.1 0 1 0 4.2 0a2.1 2.1 0 1 0 -4.2 0zM527.4 111.9a2.1 2.1 0 1 0 4.2 0a2.1 2.1 0 1 0 -4.2 0zM528.2 110.2a2.1 2.1 0 1 0 4.2 0a2.1 2.1 0 1 0 -4.2 0zM529.2 110.1a2.1 2.1 0 1 0 4.2 0a2.1 2.1 0 1 0 -4.2 0zM530.3 107.7a2.1 2.1 0 1 0 4.2 0a2.1 2.1 0 1 0 -4.2 0zM531.3 109.2a2.1 2.1 0 1 0 4.2 0a2.1 2.1 0 1 0 -4.2 0zM532.4 108.3a2.1 2.1 0 1 0 4.2 0a2.1 2.1 0 1 0 -4.2 0zM533.4 107.3a2.1 2.1 0 1 0 4.2 0a2.1 2.1 0 1 0 -4.2 0zM534.5 107.8a2.1 2.1 0 1 0 4.2 0a2.1 2.1 0 1 0 -4.2 0zM535.5 107.5a2.1 2.1 0 1 0 4.2 0a2.1 2.1 0 1 0 -4.2 0zM536.5 107.6a2.1 2.1 0 1 0 4.2 0a2.1 2.1 0 1 0 -4.2 0zM537.6 106.6a2.1 2.1 0 1 0 4.2 0a2.1 2.1 0 1 0 -4.2 0zM538.6 107.9a2.1 2.1 0 1 0 4.2 0a2.1 2.1 0 1 0 -4.2 0zM539.7 107.8a2.1 2.1 0 1 0 4.2 0a2.1 2.1 0 1 0 -4.2 0zM540.7 106.2a2.1 2.1 0 1 0 4.2 0a2.1 2.1 0 1 0 -4.2 0zM541.8 106.3a2.1 2.1 0 1 0 4.2 0a2.1 2.1 0 1 0 -4.2 0zM542.8 106.5a2.1 2.1 0 1 0 4.2 0a2.1 2.1 0 1 0 -4.2 0zM543.9 106.3a2.1 2.1 0 1 0 4.2 0a2.1 2.1 0 1 0 -4.2 0zM544.9 105.3a2.1 2.1 0 1 0 4.2 0a2.1 2.1 0 1 0 -4.2 0zM545.9 106.7a2.1 2.1 0 1 0 4.2 0a2.1 2.1 0 1 0 -4.2 0zM546.9 105.9a2.1 2.1 0 1 0 4.2 0a2.1 2.1 0 1 0 -4.2 0zM547.9 106a2.1 2.1 0 1 0 4.2 0a2.1 2.1 0 1 0 -4.2 0zM548.9 106.9a2.1 2.1 0 1 0 4.2 0a2.1 2.1 0 1 0 -4.2 0zM549.9 106.4a2.1 2.1 0 1 0 4.2 0a2.1 2.1 0 1 0 -4.2 0zM550.9 106.9a2.1 2.1 0 1 0 4.2 0a2.1 2.1 0 1 0 -4.2 0zM551.9 107.4a2.1 2.1 0 1 0 4.2 0a2.1 2.1 0 1 0 -4.2 0zM552.9 106.1a2.1 2.1 0 1 0 4.2 0a2.1 2.1 0 1 0 -4.2 0zM553.9 107.4a2.1 2.1 0 1 0 4.2 0a2.1 2.1 0 1 0 -4.2 0zM554.9 106.4a2.1 2.1 0 1 0 4.2 0a2.1 2.1 0 1 0 -4.2 0zM555.9 106.6a2.1 2.1 0 1 0 4.2 0a2.1 2.1 0 1 0 -4.2 0zM556.9 107a2.1 2.1 0 1 0 4.2 0a2.1 2.1 0 1 0 -4.2 0zM557.9 107a2.1 2.1 0 1 0 4.2 0a2.1 2.1 0 1 0 -4.2 0zM559 106.4a2.1 2.1 0 1 0 4.2 0a2.1 2.1 0 1 0 -4.2 0zM560 106.7a2.1 2.1 0 1 0 4.2 0a2.1 2.1 0 1 0 -4.2 0zM561 107.8a2.1 2.1 0 1 0 4.2 0a2.1 2.1 0 1 0 -4.2 0zM562 106.9a2.1 2.1 0 1 0 4.2 0a2.1 2.1 0 1 0 -4.2 0zM563 106.1a2.1 2.1 0 1 0 4.2 0a2.1 2.1 0 1 0 -4.2 0zM564 106.2a2.1 2.1 0 1 0 4.2 0a2.1 2.1 0 1 0 -4.2 0zM565 106a2.1 2.1 0 1 0 4.2 0a2.1 2.1 0 1 0 -4.2 0zM566 106.8a2.1 2.1 0 1 0 4.2 0a2.1 2.1 0 1 0 -4.2 0zM567 106.7a2.1 2.1 0 1 0 4.2 0a2.1 2.1 0 1 0 -4.2 0zM568 105.8a2.1 2.1 0 1 0 4.2 0a2.1 2.1 0 1 0 -4.2 0zM569 106.4a2.1 2.1 0 1 0 4.2 0a2.1 2.1 0 1 0 -4.2 0zM570 106.4a2.1 2.1 0 1 0 4.2 0a2.1 2.1 0 1 0 -4.2 0zM571 106.1a2.1 2.1 0 1 0 4.2 0a2.1 2.1 0 1 0 -4.2 0zM572 107.3a2.1 2.1 0 1 0 4.2 0a2.1 2.1 0 1 0 -4.2 0zM573 106.9a2.1 2.1 0 1 0 4.2 0a2.1 2.1 0 1 0 -4.2 0zM574 106.3a2.1 2.1 0 1 0 4.2 0a2.1 2.1 0 1 0 -4.2 0zM575 106.4a2.1 2.1 0 1 0 4.2 0a2.1 2.1 0 1 0 -4.2 0zM576 106.9a2.1 2.1 0 1 0 4.2 0a2.1 2.1 0 1 0 -4.2 0zM577.1 107.3a2.1 2.1 0 1 0 4.2 0a2.1 2.1 0 1 0 -4.2 0zM578.1 106.9a2.1 2.1 0 1 0 4.2 0a2.1 2.1 0 1 0 -4.2 0zM579.1 106.9a2.1 2.1 0 1 0 4.2 0a2.1 2.1 0 1 0 -4.2 0zM580.1 106.6a2.1 2.1 0 1 0 4.2 0a2.1 2.1 0 1 0 -4.2 0zM581.1 106.1a2.1 2.1 0 1 0 4.2 0a2.1 2.1 0 1 0 -4.2 0zM582.1 106.8a2.1 2.1 0 1 0 4.2 0a2.1 2.1 0 1 0 -4.2 0zM583.1 106.2a2.1 2.1 0 1 0 4.2 0a2.1 2.1 0 1 0 -4.2 0zM584.1 106.2a2.1 2.1 0 1 0 4.2 0a2.1 2.1 0 1 0 -4.2 0zM585.1 106.5a2.1 2.1 0 1 0 4.2 0a2.1 2.1 0 1 0 -4.2 0zM586.1 105.4a2.1 2.1 0 1 0 4.2 0a2.1 2.1 0 1 0 -4.2 0zM587.1 107.6a2.1 2.1 0 1 0 4.2 0a2.1 2.1 0 1 0 -4.2 0zM588.1 106.6a2.1 2.1 0 1 0 4.2 0a2.1 2.1 0 1 0 -4.2 0zM589.1 105.8a2.1 2.1 0 1 0 4.2 0a2.1 2.1 0 1 0 -4.2 0zM590.1 105.4a2.1 2.1 0 1 0 4.2 0a2.1 2.1 0 1 0 -4.2 0zM591.1 106.7a2.1 2.1 0 1 0 4.2 0a2.1 2.1 0 1 0 -4.2 0zM592.1 106.2a2.1 2.1 0 1 0 4.2 0a2.1 2.1 0 1 0 -4.2 0zM593.1 106.8a2.1 2.1 0 1 0 4.2 0a2.1 2.1 0 1 0 -4.2 0zM594.1 106.7a2.1 2.1 0 1 0 4.2 0a2.1 2.1 0 1 0 -4.2 0zM595.2 106.2a2.1 2.1 0 1 0 4.2 0a2.1 2.1 0 1 0 -4.2 0zM596.2 106.7a2.1 2.1 0 1 0 4.2 0a2.1 2.1 0 1 0 -4.2 0zM597.2 106.1a2.1 2.1 0 1 0 4.2 0a2.1 2.1 0 1 0 -4.2 0zM598.2 107.4a2.1 2.1 0 1 0 4.2 0a2.1 2.1 0 1 0 -4.2 0zM599.2 106.7a2.1 2.1 0 1 0 4.2 0a2.1 2.1 0 1 0 -4.2 0zM600.2 106.1a2.1 2.1 0 1 0 4.2 0a2.1 2.1 0 1 0 -4.2 0zM601.2 107.8a2.1 2.1 0 1 0 4.2 0a2.1 2.1 0 1 0 -4.2 0zM602.2 106.1a2.1 2.1 0 1 0 4.2 0a2.1 2.1 0 1 0 -4.2 0zM603.2 107.1a2.1 2.1 0 1 0 4.2 0a2.1 2.1 0 1 0 -4.2 0zM604.2 105.9a2.1 2.1 0 1 0 4.2 0a2.1 2.1 0 1 0 -4.2 0zM605.2 106.4a2.1 2.1 0 1 0 4.2 0a2.1 2.1 0 1 0 -4.2 0zM606.2 106.6a2.1 2.1 0 1 0 4.2 0a2.1 2.1 0 1 0 -4.2 0zM607.2 107.2a2.1 2.1 0 1 0 4.2 0a2.1 2.1 0 1 0 -4.2 0zM608.2 106a2.1 2.1 0 1 0 4.2 0a2.1 2.1 0 1 0 -4.2 0zM609.2 106.3a2.1 2.1 0 1 0 4.2 0a2.1 2.1 0 1 0 -4.2 0zM610.2 106.2a2.1 2.1 0 1 0 4.2 0a2.1 2.1 0 1 0 -4.2 0zM611.2 106.3a2.1 2.1 0 1 0 4.2 0a2.1 2.1 0 1 0 -4.2 0zM612.2 106a2.1 2.1 0 1 0 4.2 0a2.1 2.1 0 1 0 -4.2 0zM613.3 108a2.1 2.1 0 1 0 4.2 0a2.1 2.1 0 1 0 -4.2 0zM614.3 106.3a2.1 2.1 0 1 0 4.2 0a2.1 2.1 0 1 0 -4.2 0zM615.3 105.6a2.1 2.1 0 1 0 4.2 0a2.1 2.1 0 1 0 -4.2 0zM616.3 106.5a2.1 2.1 0 1 0 4.2 0a2.1 2.1 0 1 0 -4.2 0zM617.3 108.1a2.1 2.1 0 1 0 4.2 0a2.1 2.1 0 1 0 -4.2 0zM618.3 107.1a2.1 2.1 0 1 0 4.2 0a2.1 2.1 0 1 0 -4.2 0zM619.3 106.1a2.1 2.1 0 1 0 4.2 0a2.1 2.1 0 1 0 -4.2 0zM620.3 107.6a2.1 2.1 0 1 0 4.2 0a2.1 2.1 0 1 0 -4.2 0zM621.3 106.6a2.1 2.1 0 1 0 4.2 0a2.1 2.1 0 1 0 -4.2 0zM622.3 107.1a2.1 2.1 0 1 0 4.2 0a2.1 2.1 0 1 0 -4.2 0z"/>
<polyline fill="none" stroke="#4cec6e" stroke-width="4" stroke-linejoin="round" stroke-linecap="round" points="410.5,190.8 474.7,190.4 482.5,188 492.5,179.2 500.1,167.9 505.2,157.9 510.2,147.8 515.2,137.7 521.4,127.7 527.7,120.1 534,114 539,111.3 548.8,109.2 624.4,108.7"/>
<path fill="#4cec6e" d="M410.5 194.4l2.8 -5h-5.5zM411.5 194.1l2.8 -5h-5.5zM412.5 193.6l2.8 -5h-5.5zM413.5 193.8l2.8 -5h-5.5zM414.5 194l2.8 -5h-5.5zM415.5 193.8l2.8 -5h-5.5zM416.5 194.1l2.8 -5h-5.5zM417.5 193l2.8 -5h-5.5zM418.5 193.9l2.8 -5h-5.5zM419.5 193.9l2.8 -5h-5.5zM420.5 193.4l2.8 -5h-5.5zM421.5 194.4l2.8 -5h-5.5zM422.5 191.8l2.8 -5h-5.5zM423.5 193l2.8 -5h-5.5zM424.5 192.4l2.8 -5h-5.5zM425.5 193.4l2.8 -5h-5.5zM426.5 194.1l2.8 -5h-5.5zM427.5 194.4l2.8 -5h-5.5zM428.5 193.2l2.8 -5h-5.5zM429.6 193.4l2.8 -5h-5.5zM430.6 193.8l2.8 -5h-5.5zM431.6 193.8l2.8 -5h-5.5zM432.6 194l2.8 -5h-5.5zM433.6 193.2l2.8 -5h-5.5zM434.6 192.3l2.8 -5h-5.5zM435.6 194l2.8 -5h-5.5zM436.6 194.4l2.8 -5h-5.5zM437.6 192.2l2.8 -5h-5.5zM438.6 194l2.8 -5h-5.5zM439.6 194.1l2.8 -5h-5.5zM440.6 193.3l2.8 -5h-5.5zM441.6 192.9l2.8 -5h-5.5zM442.6 193.1l2.8 -5h-5.5zM443.6 193.6l2.8 -5h-5.5zM444.6 192.5l2.8 -5h-5.5zM445.6 194.2l2.8 -5h-5.5zM446.6 193.4l2.8 -5h-5.5zM447.6 194l2.8 -5h-5.5zM448.6 193.2l2.8 -5h-5.5zM449.6 193.5l2.8 -5h-5.5zM450.6 192.9l2.8 -5h-5.5zM451.6 193.5l2.8 -5h-5.5zM452.6 192.7l2.8 -5h-5.5zM453.6 193.6l2.8 -5h-5.5zM454.6 194l2.8 -5h-5.5zM455.6 193.5l2.8 -5h-5.5zM456.6 194.3l2.8 -5h-5.5zM457.6 192.8l2.8 -5h-5.5zM458.6 194.4l2.8 -5h-5.5zM459.6 192.5l2.8 -5h-5.5zM460.6 192.6l2.8 -5h-5.5zM461.6 193.5l2.8 -5h-5.5zM462.6 193.4l2.8 -5h-5.5zM463.6 193.2l2.8 -5h-5.5zM464.6 193.1l2.8 -5h-5.5zM465.6 193.3l2.8 -5h-5.5zM466.6 193.4l2.8 -5h-5.5zM467.7 193.2l2.8 -5h-5.5zM468.7 192.5l2.8 -5h-5.5zM469.7 193.7l2.8 -5h-5.5zM470.7 192.8l2.8 -5h-5.5zM471.7 193.8l2.8 -5h-5.5zM472.7 194.1l2.8 -5h-5.5zM473.7 192.6l2.8 -5h-5.5zM474.7 192.8l2.8 -5h-5.5zM475.7 191.7l2.8 -5h-5.5zM476.6 191.8l2.8 -5h-5.5zM477.6 191l2.8 -5h-5.5zM478.6 191.7l2.8 -5h-5.5zM479.6 191.2l2.8 -5h-5.5zM480.6 192.4l2.8 -5h-5.5zM481.5 192.2l2.8 -5h-5.5zM482.5 191.7l2.8 -5h-5.5zM483.3 189.1l2.8 -5h-5.5zM484 189.1l2.8 -5h-5.5zM484.8 187.5l2.8 -5h-5.5zM485.6 188.2l2.8 -5h-5.5zM486.4 187.6l2.8 -5h-5.5zM487.1 186.9l2.8 -5h-5.5zM487.9 187.7l2.8 -5h-5.5zM488.7 184.7l2.8 -5h-5.5zM489.4 184.3l2.8 -5h-5.5zM490.2 184.2l2.8 -5h-5.5zM491 182.8l2.8 -5h-5.5zM491.7 183l2.8 -5h-5.5zM492.5 180.9l2.8 -5h-5.5zM493.1 182.2l2.8 -5h-5.5zM493.7 181.1l2.8 -5h-5.5zM494.2 179.5l2.8 -5h-5.5zM494.8 179.2l2.8 -5h-5.5zM495.4 177.7l2.8 -5h-5.5zM496 175.7l2.8 -5h-5.5zM496.6 175.9l2.8 -5h-5.5zM497.1 173.5l2.8 -5h-5.5zM497.7 175.6l2.8 -5h-5.5zM498.3 171.7l2.8 -5h-5.5zM498.9 172.1l2.8 -5h-5.5zM499.5 170.7l2.8 -5h-5.5zM500.1 169.8l2.8 -5h-5.5zM500.5 169.7l2.8 -5h-5.5zM501 168.1l2.8 -5h-5.5zM501.5 167.6l2.8 -5h-5.5zM501.9 167.7l2.8 -5h-5.5zM502.4 165.9l2.8 -5h-5.5zM502.9 165.3l2.8 -5h-5.5zM503.3 163.9l2.8 -5h-5.5zM503.8 162.2l2.8 -5h-5.5zM504.3 162.7l2.8 -5h-5.5zM504.7 161.3l2.8 -5h-5.5zM505.2 160.4l2.8 -5h-5.5zM505.6 159.5l2.8 -5h-5.5zM506.1 159l2.8 -5h-5.5zM506.5 158.6l2.8 -5h-5.5zM507 157.2l2.8 -5h-5.5zM507.5 156.3l2.8 -5h-5.5zM507.9 155.6l2.8 -5h-5.5zM508.4 152.6l2.8 -5h-5.5zM508.8 152.7l2.8 -5h-5.5zM509.3 152.4l2.8 -5h-5.5zM509.7 151.8l2.8 -5h-5.5zM510.2 150.1l2.8 -5h-5.5zM510.6 149.9l2.8 -5h-5.5zM511.1 149.1l2.8 -5h-5.5zM511.5 147.4l2.8 -5h-5.5zM512 147.2l2.8 -5h-5.5zM512.4 144.2l2.8 -5h-5.5zM512.9 143.4l2.8 -5h-5.5zM513.4 143.7l2.8 -5h-5.5zM513.8 142.9l2.8 -5h-5.5zM514.3 142.4l2.8 -5h-5.5zM514.7 140.8l2.8 -5h-5.5zM515.2 139.9l2.8 -5h-5.5zM515.7 139l2.8 -5h-5.5zM516.3 138.4l2.8 -5h-5.5zM516.9 138.5l2.8 -5h-5.5zM517.5 136.7l2.8 -5h-5.5zM518 136.6l2.8 -5h-5.5zM518.6 134.4l2.8 -5h-5.5zM519.2 134.7l2.8 -5h-5.5zM519.7 132.6l2.8 -5h-5.5zM520.3 131.3l2.8 -5h-5.5zM520.9 131.2l2.8 -5h-5.5zM521.4 130.8l2.8 -5h-5.5zM522.1 130.3l2.8 -5h-5.5zM522.8 127.8l2.8 -5h-5.5zM523.5 127l2.8 -5h-5.5zM524.2 126.4l2.8 -5h-5.5zM524.9 126.3l2.8 -5h-5.5zM525.6 126.4l2.8 -5h-5.5zM526.3 125.1l2.8 -5h-5.5zM527 122.9l2.8 -5h-5.5zM527.7 121.9l2.8 -5h-5.5zM528.5 121.6l2.8 -5h-5.5zM529.3 122.2l2.8 -5h-5.5zM530.1 119.9l2.8 -5h-5.5zM530.9 119l2.8 -5h-5.5zM531.6 119.1l2.8 -5h-5.5zM532.4 117.8l2.8 -5h-5.5zM533.2 116.5l2.8 -5h-5.5zM534 116.2l2.8 -5h-5.5zM535 115.5l2.8 -5h-5.5zM536 116.2l2.8 -5h-5.5zM537 115.6l2.8 -5h-5.5zM538 115.8l2.8 -5h-5.5zM539 114.4l2.8 -5h-5.5zM540 114.4l2.8 -5h-5.5zM541 113.5l2.8 -5h-5.5zM541.9 114.9l2.8 -5h-5.5zM542.9 111.7l2.8 -5h-5.5zM543.9 114.3l2.8 -5h-5.5zM544.9 112.4l2.8 -5h-5.5zM545.9 112.5l2.8 -5h-5.5zM546.9 112.1l2.8 -5h-5.5zM547.8 112.9l2.8 -5h-5.5zM548.8 110.3l2.8 -5h-5.5zM549.8 112.1l2.8 -5h-5.5zM550.8 112l2.8 -5h-5.5zM551.8 111.6l2.8 -5h-5.5zM552.9 112.2l2.8 -5h-5.5zM553.9 112.3l2.8 -5h-5.5zM554.9 111l2.8 -5h-5.5zM555.9 110.6l2.8 -5h-5.5zM556.9 111.2l2.8 -5h-5.5zM557.9 111.8l2.8 -5h-5.5zM558.9 114.1l2.8 -5h-5.5zM559.9 111.7l2.8 -5h-5.5zM560.9 112l2.8 -5h-5.5zM561.9 111.2l2.8 -5h-5.5zM562.9 112.6l2.8 -5h-5.5zM563.9 111.7l2.8 -5h-5.5zM564.9 110.7l2.8 -5h-5.5zM566 111.1l2.8 -5h-5.5zM567 112.5l2.8 -5h-5.5zM568 111.4l2.8 -5h-5.5zM569 113.1l2.8 -5h-5.5zM570 112.6l2.8 -5h-5.5zM571 112l2.8 -5h-5.5zM572 111l2.8 -5h-5.5zM573 113l2.8 -5h-5.5zM574 111.9l2.8 -5h-5.5zM575 113l2.8 -5h-5.5zM576 110.9l2.8 -5h-5.5zM577 110.7l2.8 -5h-5.5zM578 110.2l2.8 -5h-5.5zM579.1 113.3l2.8 -5h-5.5zM580.1 111.3l2.8 -5h-5.5zM581.1 111.3l2.8 -5h-5.5zM582.1 112.7l2.8 -5h-5.5zM583.1 112l2.8 -5h-5.5zM584.1 112.8l2.8 -5h-5.5zM585.1 111.2l2.8 -5h-5.5zM586.1 111.6l2.8 -5h-5.5zM587.1 112.4l2.8 -5h-5.5zM588.1 111.1l2.8 -5h-5.5zM589.1 111.9l2.8 -5h-5.5zM590.1 112.7l2.8 -5h-5.5zM591.1 112.4l2.8 -5h-5.5zM592.2 110.3l2.8 -5h-5.5zM593.2 111l2.8 -5h-5.5zM594.2 111.9l2.8 -5h-5.5zM595.2 111.7l2.8 -5h-5.5zM596.2 111.6l2.8 -5h-5.5zM597.2 112.1l2.8 -5h-5.5zM598.2 111.5l2.8 -5h-5.5zM599.2 111.5l2.8 -5h-5.5zM600.2 112.3l2.8 -5h-5.5zM601.2 111.5l2.8 -5h-5.5zM602.2 111.3l2.8 -5h-5.5zM603.2 110.5l2.8 -5h-5.5zM604.2 113.9l2.8 -5h-5.5zM605.3 110.8l2.8 -5h-5.5zM606.3 112l2.8 -5h-5.5zM607.3 110.2l2.8 -5h-5.5zM608.3 110.2l2.8 -5h-5.5zM609.3 111.2l2.8 -5h-5.5zM610.3 111.5l2.8 -5h-5.5zM611.3 111.4l2.8 -5h-5.5zM612.3 112.4l2.8 -5h-5.5zM613.3 111.5l2.8 -5h-5.5zM614.3 111.1l2.8 -5h-5.5zM615.3 111.5l2.8 -5h-5.5zM616.3 112.3l2.8 -5h-5.5zM617.3 112.7l2.8 -5h-5.5zM618.4 111.6l2.8 -5h-5.5zM619.4 110.7l2.8 -5h-5.5zM620.4 111.3l2.8 -5h-5.5zM621.4 110.6l2.8 -5h-5.5zM622.4 111.6l2.8 -5h-5.5zM623.4 111.6l2.8 -5h-5.5zM624.4 111.8l2.8 -5h-5.5z"/>
<polyline fill="none" stroke="#ebbd2b" stroke-width="4.5" stroke-linejoin="round" stroke-linecap="round" points="410.5,47.6 412.5,50.2 413.4,59.8 415.2,67.7 416.1,75.5 418.1,83.4 418.9,91.2 420.8,97.4 425.5,103.5 432.9,106.1 446.1,107 471.8,108.3 479.9,107 492.5,110 498.9,112.6 505.2,112 515.2,108.7 524,105 536.6,103.7 624.4,104.3"/>
<path fill="#ebbd2b" d="M407.8 47.2l5 -2.8v5.5zM408.4 49.5l5 -2.8v5.5zM409.1 49.5l5 -2.8v5.5zM409.7 50.8l5 -2.8v5.5zM409.8 52.5l5 -2.8v5.5zM409.9 54.1l5 -2.8v5.5zM410 52.5l5 -2.8v5.5zM410.1 55.2l5 -2.8v5.5zM410.2 57.4l5 -2.8v5.5zM410.3 57.1l5 -2.8v5.5zM410.4 57.6l5 -2.8v5.5zM410.5 56.8l5 -2.8v5.5zM410.6 62.1l5 -2.8v5.5zM410.8 61.6l5 -2.8v5.5zM411.1 60.8l5 -2.8v5.5zM411.3 63l5 -2.8v5.5zM411.5 62.5l5 -2.8v5.5zM411.8 64.6l5 -2.8v5.5zM412 64l5 -2.8v5.5zM412.2 66.2l5 -2.8v5.5zM412.5 68.4l5 -2.8v5.5zM412.6 71.7l5 -2.8v5.5zM412.7 70.8l5 -2.8v5.5zM412.8 72l5 -2.8v5.5zM412.9 71.3l5 -2.8v5.5zM413.1 74l5 -2.8v5.5zM413.2 75l5 -2.8v5.5zM413.3 74.6l5 -2.8v5.5zM413.6 78l5 -2.8v5.5zM413.8 75.8l5 -2.8v5.5zM414.1 77.6l5 -2.8v5.5zM414.3 80.5l5 -2.8v5.5zM414.6 79.5l5 -2.8v5.5zM414.8 80.6l5 -2.8v5.5zM415.1 82.5l5 -2.8v5.5zM415.3 83.5l5 -2.8v5.5zM415.4 83.8l5 -2.8v5.5zM415.6 85.1l5 -2.8v5.5zM415.7 87.6l5 -2.8v5.5zM415.8 86.9l5 -2.8v5.5zM415.9 90.6l5 -2.8v5.5zM416 90.1l5 -2.8v5.5zM416.2 92.3l5 -2.8v5.5zM416.5 93.2l5 -2.8v5.5zM416.8 93.2l5 -2.8v5.5zM417.1 92.4l5 -2.8v5.5zM417.4 93.7l5 -2.8v5.5zM417.7 97l5 -2.8v5.5zM418 98.2l5 -2.8v5.5zM418.7 100.2l5 -2.8v5.5zM419.4 98.9l5 -2.8v5.5zM420 99.1l5 -2.8v5.5zM420.7 101.9l5 -2.8v5.5zM421.4 101.6l5 -2.8v5.5zM422.1 104l5 -2.8v5.5zM422.7 104.8l5 -2.8v5.5zM423.8 103.8l5 -2.8v5.5zM424.8 103.2l5 -2.8v5.5zM425.9 107.8l5 -2.8v5.5zM427 106.4l5 -2.8v5.5zM428 105l5 -2.8v5.5zM429.1 105.5l5 -2.8v5.5zM430.1 104.7l5 -2.8v5.5zM431.2 106.1l5 -2.8v5.5zM432.2 106.6l5 -2.8v5.5zM433.2 104.7l5 -2.8v5.5zM434.2 107l5 -2.8v5.5zM435.2 105.2l5 -2.8v5.5zM436.3 105.4l5 -2.8v5.5zM437.3 106.9l5 -2.8v5.5zM438.3 106l5 -2.8v5.5zM439.3 106.7l5 -2.8v5.5zM440.3 107.1l5 -2.8v5.5zM441.4 107.8l5 -2.8v5.5zM442.4 106.2l5 -2.8v5.5zM443.4 107l5 -2.8v5.5zM444.4 106.1l5 -2.8v5.5zM445.5 105.9l5 -2.8v5.5zM446.5 108.4l5 -2.8v5.5zM447.5 107.3l5 -2.8v5.5zM448.5 108.1l5 -2.8v5.5zM449.6 108.6l5 -2.8v5.5zM450.6 106.5l5 -2.8v5.5zM451.6 104.9l5 -2.8v5.5zM452.6 107.5l5 -2.8v5.5zM453.7 107.2l5 -2.8v5.5zM454.7 108.9l5 -2.8v5.5zM455.7 107l5 -2.8v5.5zM456.7 108.2l5 -2.8v5.5zM457.8 108.6l5 -2.8v5.5zM458.8 108.6l5 -2.8v5.5zM459.8 109l5 -2.8v5.5zM460.9 107.6l5 -2.8v5.5zM461.9 107.8l5 -2.8v5.5zM462.9 107.3l5 -2.8v5.5zM463.9 107.5l5 -2.8v5.5zM465 107.8l5 -2.8v5.5zM466 108.2l5 -2.8v5.5zM467 108.4l5 -2.8v5.5zM468 108.4l5 -2.8v5.5zM469.1 107l5 -2.8v5.5zM470.1 107.7l5 -2.8v5.5zM471.1 107.6l5 -2.8v5.5zM472.1 106.5l5 -2.8v5.5zM473.1 107.1l5 -2.8v5.5zM474.1 108.6l5 -2.8v5.5zM475.2 109.6l5 -2.8v5.5zM476.2 108.1l5 -2.8v5.5zM477.2 106.3l5 -2.8v5.5zM478.2 106.6l5 -2.8v5.5zM479.3 107.8l5 -2.8v5.5zM480.3 109.5l5 -2.8v5.5zM481.4 107.4l5 -2.8v5.5zM482.4 107.7l5 -2.8v5.5zM483.5 107.9l5 -2.8v5.5zM484.5 106.2l5 -2.8v5.5zM485.6 110.6l5 -2.8v5.5zM486.6 109.4l5 -2.8v5.5zM487.7 109.4l5 -2.8v5.5zM488.7 108.3l5 -2.8v5.5zM489.7 109.1l5 -2.8v5.5zM490.8 109.4l5 -2.8v5.5zM491.9 110.4l5 -2.8v5.5zM493 111.3l5 -2.8v5.5zM494 113.2l5 -2.8v5.5zM495.1 113.2l5 -2.8v5.5zM496.2 113.8l5 -2.8v5.5zM497.2 112.4l5 -2.8v5.5zM498.3 111.3l5 -2.8v5.5zM499.3 112.7l5 -2.8v5.5zM500.3 110.9l5 -2.8v5.5zM501.4 113.1l5 -2.8v5.5zM502.4 113.6l5 -2.8v5.5zM503.4 112.6l5 -2.8v5.5zM504.4 112.9l5 -2.8v5.5zM505.4 112.3l5 -2.8v5.5zM506.4 111.1l5 -2.8v5.5zM507.4 109.4l5 -2.8v5.5zM508.4 109.2l5 -2.8v5.5zM509.4 109.1l5 -2.8v5.5zM510.4 109.2l5 -2.8v5.5zM511.4 108l5 -2.8v5.5zM512.4 108.4l5 -2.8v5.5zM513.4 107.5l5 -2.8v5.5zM514.4 108.1l5 -2.8v5.5zM515.4 107.7l5 -2.8v5.5zM516.3 107.1l5 -2.8v5.5zM517.3 105.6l5 -2.8v5.5zM518.3 105.9l5 -2.8v5.5zM519.3 105.3l5 -2.8v5.5zM520.3 103.7l5 -2.8v5.5zM521.3 105.2l5 -2.8v5.5zM522.3 104.3l5 -2.8v5.5zM523.4 103.6l5 -2.8v5.5zM524.4 104.6l5 -2.8v5.5zM525.4 104.7l5 -2.8v5.5zM526.5 103.6l5 -2.8v5.5zM527.5 103.3l5 -2.8v5.5zM528.6 104.2l5 -2.8v5.5zM529.6 104l5 -2.8v5.5zM530.7 105.3l5 -2.8v5.5zM531.7 102.6l5 -2.8v5.5zM532.8 104.1l5 -2.8v5.5zM533.8 103.5l5 -2.8v5.5zM534.8 104.2l5 -2.8v5.5zM535.8 102.7l5 -2.8v5.5zM536.8 103.6l5 -2.8v5.5zM537.8 103.2l5 -2.8v5.5zM538.9 105l5 -2.8v5.5zM539.9 102.8l5 -2.8v5.5zM540.9 102.7l5 -2.8v5.5zM541.9 104l5 -2.8v5.5zM542.9 103.3l5 -2.8v5.5zM543.9 104.4l5 -2.8v5.5zM544.9 105.1l5 -2.8v5.5zM545.9 103.2l5 -2.8v5.5zM546.9 104l5 -2.8v5.5zM547.9 105.5l5 -2.8v5.5zM549 102.9l5 -2.8v5.5zM550 103.2l5 -2.8v5.5zM551 104.9l5 -2.8v5.5zM552 103.8l5 -2.8v5.5zM553 102.6l5 -2.8v5.5zM554 103.1l5 -2.8v5.5zM555 103.4l5 -2.8v5.5zM556 105.5l5 -2.8v5.5zM557 103.2l5 -2.8v5.5zM558 104.5l5 -2.8v5.5zM559.1 104.6l5 -2.8v5.5zM560.1 102.7l5 -2.8v5.5zM561.1 103.8l5 -2.8v5.5zM562.1 103.2l5 -2.8v5.5zM563.1 102.9l5 -2.8v5.5zM564.1 104.5l5 -2.8v5.5zM565.1 103.5l5 -2.8v5.5zM566.1 102.5l5 -2.8v5.5zM567.1 106.3l5 -2.8v5.5zM568.1 104.1l5 -2.8v5.5zM569.1 104l5 -2.8v5.5zM570.2 103.8l5 -2.8v5.5zM571.2 104.5l5 -2.8v5.5zM572.2 103.8l5 -2.8v5.5zM573.2 100.9l5 -2.8v5.5zM574.2 105l5 -2.8v5.5zM575.2 104.2l5 -2.8v5.5zM576.2 104.4l5 -2.8v5.5zM577.2 103.1l5 -2.8v5.5zM578.2 104.2l5 -2.8v5.5zM579.2 103.9l5 -2.8v5.5zM580.3 101l5 -2.8v5.5zM581.3 105.1l5 -2.8v5.5zM582.3 104.1l5 -2.8v5.5zM583.3 104.5l5 -2.8v5.5zM584.3 103.3l5 -2.8v5.5zM585.3 103.2l5 -2.8v5.5zM586.3 103.7l5 -2.8v5.5zM587.3 104.7l5 -2.8v5.5zM588.3 102.9l5 -2.8v5.5zM589.3 102.7l5 -2.8v5.5zM590.4 104.7l5 -2.8v5.5zM591.4 103.5l5 -2.8v5.5zM592.4 103.1l5 -2.8v5.5zM593.4 104.1l5 -2.8v5.5zM594.4 105.1l5 -2.8v5.5zM595.4 105.3l5 -2.8v5.5zM596.4 103.3l5 -2.8v5.5zM597.4 103.2l5 -2.8v5.5zM598.4 103.6l5 -2.8v5.5zM599.4 105.2l5 -2.8v5.5zM600.4 103.7l5 -2.8v5.5zM601.5 103.4l5 -2.8v5.5zM602.5 103.2l5 -2.8v5.5zM603.5 104.4l5 -2.8v5.5zM604.5 102.3l5 -2.8v5.5zM605.5 103l5 -2.8v5.5zM606.5 105l5 -2.8v5.5zM607.5 105.8l5 -2.8v5.5zM608.5 103.7l5 -2.8v5.5zM609.5 103.6l5 -2.8v5.5zM610.5 105l5 -2.8v5.5zM611.6 104l5 -2.8v5.5zM612.6 103.9l5 -2.8v5.5zM613.6 103.8l5 -2.8v5.5zM614.6 103.4l5 -2.8v5.5zM615.6 103.8l5 -2.8v5.5zM616.6 102.9l5 -2.8v5.5zM617.6 104.9l5 -2.8v5.5zM618.6 103.8l5 -2.8v5.5zM619.6 103l5 -2.8v5.5zM620.6 103.7l5 -2.8v5.5zM621.6 102.5l5 -2.8v5.5z"/>
</g>
<path fill="#111" d="M506 21.4h1.8v2.5h-1.8zM506 29.7h1.8v2.5h-1.8zM506 38.1h1.8v2.5h-1.8zM506 46.5h1.8v2.5h-1.8zM506 54.9h1.8v2.5h-1.8zM506 63.3h1.8v2.5h-1.8zM506 71.6h1.8v2.5h-1.8zM506 80h1.8v2.5h-1.8zM506 88.4h1.8v2.5h-1.8zM506 96.8h1.8v2.5h-1.8zM506 105.1h1.8v2.5h-1.8zM506 113.5h1.8v2.5h-1.8zM506 121.9h1.8v2.5h-1.8zM506 130.3h1.8v2.5h-1.8zM506 138.7h1.8v2.5h-1.8zM506 147h1.8v2.5h-1.8zM506 155.4h1.8v2.5h-1.8zM506 163.8h1.8v2.5h-1.8zM506 172.2h1.8v2.5h-1.8zM506 180.6h1.8v2.5h-1.8zM506 188.9h1.8v2.5h-1.8z"/>
<text transform="translate(397.5,196.3) scale(1,1.08)" font-size="14.6" text-anchor="end" fill="#555">0.0</text>
<text transform="translate(397.5,152.6) scale(1,1.08)" font-size="14.6" text-anchor="end" fill="#555">0.5</text>
<text transform="translate(397.5,108.9) scale(1,1.08)" font-size="14.6" text-anchor="end" fill="#555">1.0</text>
<text transform="translate(397.5,65.3) scale(1,1.08)" font-size="14.6" text-anchor="end" fill="#555">1.5</text>
<text transform="translate(397.5,21.6) scale(1,1.08)" font-size="14.6" text-anchor="end" fill="#555">2.0</text>
<text transform="translate(636.7,196.3) scale(1,1.08)" font-size="14.6" text-anchor="start" fill="#555">0</text>
<text transform="translate(636.7,152.6) scale(1,1.08)" font-size="14.6" text-anchor="start" fill="#555">2</text>
<text transform="translate(636.7,108.9) scale(1,1.08)" font-size="14.6" text-anchor="start" fill="#555">4</text>
<text transform="translate(636.7,65.3) scale(1,1.08)" font-size="14.6" text-anchor="start" fill="#555">6</text>
<text transform="translate(636.7,21.6) scale(1,1.08)" font-size="14.6" text-anchor="start" fill="#555">8</text>
<text transform="translate(410.5,216.3) scale(1,1.08)" font-size="14.6" text-anchor="middle" fill="#555">0</text>
<text transform="translate(481.8,216.3) scale(1,1.08)" font-size="14.6" text-anchor="middle" fill="#555">50</text>
<text transform="translate(553.1,216.3) scale(1,1.08)" font-size="14.6" text-anchor="middle" fill="#555">100</text>
<text transform="translate(624.4,216.3) scale(1,1.08)" font-size="14.6" text-anchor="middle" fill="#555">150</text>
<text transform="translate(517.6,244.7) scale(1,1.04)" font-size="15.6" text-anchor="middle" fill="#555">Depth (nm)</text>
<text transform="translate(511.5,13.4) scale(1,1.07)" font-size="14.8" text-anchor="start" fill="#555">B11A6</text>
<text transform="translate(363.9,104.3) rotate(-90) scale(1,1.12)" font-size="15.5" text-anchor="middle" fill="#555">C<tspan font-size="11" dy="4.6">norm</tspan><tspan dy="-4.6">(i)</tspan></text>
<text transform="translate(669.4,105.8) rotate(-90) scale(1,1.04)" font-size="15.8" text-anchor="middle" fill="#555">C<tspan font-size="11" dy="4.6">norm</tspan><tspan dy="-4.6">(</tspan><tspan fill="#35c6cf">H</tspan><tspan fill="#35c6cf" font-size="9" dy="-4.5">+</tspan><tspan dy="4.5">)</tspan></text>
<text transform="translate(451,32.3) scale(1,1.08)" font-size="12.9" text-anchor="start" fill="#555">Gel</text>
<text transform="translate(528.7,30.8) scale(1,1.08)" font-size="12.9" text-anchor="start" fill="#555">Pristine glass</text>
<path d="M60.7 435.5h5M60.7 426.7h5M60.7 418h5M60.7 409.2h5M60.7 400.5h11M60.7 391.7h5M60.7 383h5M60.7 374.2h5M60.7 365.5h5M60.7 356.8h11M60.7 348h5M60.7 339.3h5M60.7 330.5h5M60.7 321.8h5M60.7 313h11M60.7 304.3h5M60.7 295.5h5M60.7 286.8h5M60.7 278h5M274.6 437.2h-5.5M274.6 430.2h-5.5M274.6 423.2h-5.5M274.6 416.2h-5.5M274.6 409.2h-11M274.6 402.2h-5.5M274.6 395.2h-5.5M274.6 388.2h-5.5M274.6 381.2h-5.5M274.6 374.2h-11M274.6 367.2h-5.5M274.6 360.2h-5.5M274.6 353.3h-5.5M274.6 346.3h-5.5M274.6 339.3h-11M274.6 332.3h-5.5M274.6 325.3h-5.5M274.6 318.3h-5.5M274.6 311.3h-5.5M274.6 304.3h-11M274.6 297.3h-5.5M274.6 290.3h-5.5M274.6 283.3h-5.5M274.6 276.3h-5.5M69.3 444.2v-4.5M77.8 444.2v-4.5M86.4 444.2v-4.5M94.9 444.2v-4.5M103.5 444.2v-10.5M112 444.2v-4.5M120.6 444.2v-4.5M129.1 444.2v-4.5M137.7 444.2v-4.5M146.3 444.2v-10.5M154.8 444.2v-4.5M163.4 444.2v-4.5M171.9 444.2v-4.5M180.5 444.2v-4.5M189 444.2v-10.5M197.6 444.2v-4.5M206.2 444.2v-4.5M214.7 444.2v-4.5M223.3 444.2v-4.5M231.8 444.2v-10.5M240.4 444.2v-4.5M248.9 444.2v-4.5M257.5 444.2v-4.5M266 444.2v-4.5" stroke="#111" stroke-width="1.4" fill="none"/>
<rect x="60.7" y="269.3" width="213.9" height="174.9" fill="none" stroke="#111" stroke-width="1.5"/>
<clipPath id="c3"><rect x="60.2" y="268.8" width="214.9" height="175.9"/></clipPath><g clip-path="url(#c3)">
<polyline fill="none" stroke="#f3b3fb" stroke-width="5" stroke-linejoin="round" stroke-linecap="round" points="61.3,356.8 62.4,349.8 63.9,344.5 67.1,340.1 70.1,337.5 76.7,341 93.4,344.5 110.3,345.4 127,346.3 143.9,346.3 160.6,347.1 165.5,349.8 168.7,353.3 171.9,355 274.6,355"/>
<path fill="#f3b3fb" d="M61.3 351.1l2.8 5h-5.5zM61.5 351.6l2.8 5h-5.5zM61.6 355.5l2.8 5h-5.5zM61.8 350.5l2.8 5h-5.5zM62 349.6l2.8 5h-5.5zM62.1 353.7l2.8 5h-5.5zM62.3 347.8l2.8 5h-5.5zM62.4 347.7l2.8 5h-5.5zM62.7 347.1l2.8 5h-5.5zM63 348.9l2.8 5h-5.5zM63.3 340.5l2.8 5h-5.5zM63.6 341.9l2.8 5h-5.5zM63.9 342.6l2.8 5h-5.5zM64.6 342.3l2.8 5h-5.5zM65.2 341.7l2.8 5h-5.5zM65.8 339.8l2.8 5h-5.5zM66.5 337.6l2.8 5h-5.5zM67.1 338.2l2.8 5h-5.5zM68.1 335.7l2.8 5h-5.5zM69.1 338.9l2.8 5h-5.5zM70.1 336.8l2.8 5h-5.5zM71.1 335.7l2.8 5h-5.5zM72 338.9l2.8 5h-5.5zM73 336.1l2.8 5h-5.5zM73.9 340.4l2.8 5h-5.5zM74.8 334.8l2.8 5h-5.5zM75.8 338.5l2.8 5h-5.5zM76.7 337.6l2.8 5h-5.5zM77.7 338.9l2.8 5h-5.5zM78.7 340.3l2.8 5h-5.5zM79.7 338.3l2.8 5h-5.5zM80.7 339.8l2.8 5h-5.5zM81.6 338.6l2.8 5h-5.5zM82.6 339.7l2.8 5h-5.5zM83.6 341.5l2.8 5h-5.5zM84.6 337.6l2.8 5h-5.5zM85.6 343.3l2.8 5h-5.5zM86.6 340.2l2.8 5h-5.5zM87.5 339.7l2.8 5h-5.5zM88.5 338.9l2.8 5h-5.5zM89.5 339.9l2.8 5h-5.5zM90.5 340l2.8 5h-5.5zM91.5 343.2l2.8 5h-5.5zM92.4 338.2l2.8 5h-5.5zM93.4 342.7l2.8 5h-5.5zM94.5 339.7l2.8 5h-5.5zM95.5 343.1l2.8 5h-5.5zM96.6 340.5l2.8 5h-5.5zM97.7 340.2l2.8 5h-5.5zM98.7 342.4l2.8 5h-5.5zM99.8 345.5l2.8 5h-5.5zM100.8 342.1l2.8 5h-5.5zM101.9 339.7l2.8 5h-5.5zM102.9 341.5l2.8 5h-5.5zM104 342.6l2.8 5h-5.5zM105 344.6l2.8 5h-5.5zM106.1 340.9l2.8 5h-5.5zM107.2 339.8l2.8 5h-5.5zM108.2 343.7l2.8 5h-5.5zM109.3 344.2l2.8 5h-5.5zM110.3 341.5l2.8 5h-5.5zM111.4 343.4l2.8 5h-5.5zM112.4 341.9l2.8 5h-5.5zM113.5 343.8l2.8 5h-5.5zM114.5 343.7l2.8 5h-5.5zM115.5 340.9l2.8 5h-5.5zM116.6 339.3l2.8 5h-5.5zM117.6 347.4l2.8 5h-5.5zM118.7 343.2l2.8 5h-5.5zM119.7 343.4l2.8 5h-5.5zM120.8 341.9l2.8 5h-5.5zM121.8 343.6l2.8 5h-5.5zM122.8 343.1l2.8 5h-5.5zM123.9 340.8l2.8 5h-5.5zM124.9 341.9l2.8 5h-5.5zM126 346l2.8 5h-5.5zM127 343.1l2.8 5h-5.5zM128.1 340.5l2.8 5h-5.5zM129.1 346.5l2.8 5h-5.5zM130.2 343.9l2.8 5h-5.5zM131.2 343.5l2.8 5h-5.5zM132.3 343.5l2.8 5h-5.5zM133.3 342l2.8 5h-5.5zM134.4 342.8l2.8 5h-5.5zM135.5 341.2l2.8 5h-5.5zM136.5 343.3l2.8 5h-5.5zM137.6 343.5l2.8 5h-5.5zM138.6 343.1l2.8 5h-5.5zM139.7 342.4l2.8 5h-5.5zM140.7 344.8l2.8 5h-5.5zM141.8 346.7l2.8 5h-5.5zM142.9 339.7l2.8 5h-5.5zM143.9 342.2l2.8 5h-5.5zM144.9 347.8l2.8 5h-5.5zM146 341.5l2.8 5h-5.5zM147 340.6l2.8 5h-5.5zM148.1 344.8l2.8 5h-5.5zM149.1 344.6l2.8 5h-5.5zM150.2 345.4l2.8 5h-5.5zM151.2 342.6l2.8 5h-5.5zM152.2 341.5l2.8 5h-5.5zM153.3 344.1l2.8 5h-5.5zM154.3 344.6l2.8 5h-5.5zM155.4 341.4l2.8 5h-5.5zM156.4 344.5l2.8 5h-5.5zM157.5 342.3l2.8 5h-5.5zM158.5 345.5l2.8 5h-5.5zM159.5 345.4l2.8 5h-5.5zM160.6 343.7l2.8 5h-5.5zM161.6 345.7l2.8 5h-5.5zM162.6 343.9l2.8 5h-5.5zM163.5 348l2.8 5h-5.5zM164.5 345.3l2.8 5h-5.5zM165.5 346.5l2.8 5h-5.5zM166.3 347.1l2.8 5h-5.5zM167.1 349.2l2.8 5h-5.5zM167.9 346.3l2.8 5h-5.5zM168.7 352.8l2.8 5h-5.5zM169.8 355.2l2.8 5h-5.5zM170.9 354.7l2.8 5h-5.5zM171.9 351.4l2.8 5h-5.5zM172.9 350.5l2.8 5h-5.5zM173.9 351.4l2.8 5h-5.5zM174.9 350.6l2.8 5h-5.5zM176 354.1l2.8 5h-5.5zM177 351l2.8 5h-5.5zM178 353.9l2.8 5h-5.5zM179 350l2.8 5h-5.5zM180 349.7l2.8 5h-5.5zM181 352.1l2.8 5h-5.5zM182 354.3l2.8 5h-5.5zM183 353.2l2.8 5h-5.5zM184 349.2l2.8 5h-5.5zM185 352.1l2.8 5h-5.5zM186 350.2l2.8 5h-5.5zM187 356.1l2.8 5h-5.5zM188 352.4l2.8 5h-5.5zM189 351.8l2.8 5h-5.5zM190 348.2l2.8 5h-5.5zM191.1 351.4l2.8 5h-5.5zM192.1 352.1l2.8 5h-5.5zM193.1 353.1l2.8 5h-5.5zM194.1 351.3l2.8 5h-5.5zM195.1 354.1l2.8 5h-5.5zM196.1 353.8l2.8 5h-5.5zM197.1 353.3l2.8 5h-5.5zM198.1 352.4l2.8 5h-5.5zM199.1 353.3l2.8 5h-5.5zM200.1 351.2l2.8 5h-5.5zM201.1 353.1l2.8 5h-5.5zM202.1 352.2l2.8 5h-5.5zM203.1 352.6l2.8 5h-5.5zM204.1 352.2l2.8 5h-5.5zM205.1 354.1l2.8 5h-5.5zM206.2 349.1l2.8 5h-5.5zM207.2 352.8l2.8 5h-5.5zM208.2 351.4l2.8 5h-5.5zM209.2 352l2.8 5h-5.5zM210.2 351l2.8 5h-5.5zM211.2 350.8l2.8 5h-5.5zM212.2 350.9l2.8 5h-5.5zM213.2 351.8l2.8 5h-5.5zM214.2 355.2l2.8 5h-5.5zM215.2 350.9l2.8 5h-5.5zM216.2 354l2.8 5h-5.5zM217.2 349.2l2.8 5h-5.5zM218.2 350.9l2.8 5h-5.5zM219.2 353.5l2.8 5h-5.5zM220.2 356.3l2.8 5h-5.5zM221.3 356.9l2.8 5h-5.5zM222.3 352.1l2.8 5h-5.5zM223.3 351.3l2.8 5h-5.5zM224.3 355l2.8 5h-5.5zM225.3 353.2l2.8 5h-5.5zM226.3 355.6l2.8 5h-5.5zM227.3 352.9l2.8 5h-5.5zM228.3 351.3l2.8 5h-5.5zM229.3 349.3l2.8 5h-5.5zM230.3 354.6l2.8 5h-5.5zM231.3 354l2.8 5h-5.5zM232.3 350.5l2.8 5h-5.5zM233.3 353.5l2.8 5h-5.5zM234.3 354.1l2.8 5h-5.5zM235.3 350.6l2.8 5h-5.5zM236.3 351.2l2.8 5h-5.5zM237.4 351.1l2.8 5h-5.5zM238.4 350.2l2.8 5h-5.5zM239.4 354l2.8 5h-5.5zM240.4 355.5l2.8 5h-5.5zM241.4 354.4l2.8 5h-5.5zM242.4 353l2.8 5h-5.5zM243.4 352.1l2.8 5h-5.5zM244.4 355.6l2.8 5h-5.5zM245.4 353.4l2.8 5h-5.5zM246.4 352.8l2.8 5h-5.5zM247.4 351.5l2.8 5h-5.5zM248.4 353.4l2.8 5h-5.5zM249.4 353.9l2.8 5h-5.5zM250.4 352.8l2.8 5h-5.5zM251.4 351l2.8 5h-5.5zM252.5 351.8l2.8 5h-5.5zM253.5 354l2.8 5h-5.5zM254.5 352.9l2.8 5h-5.5zM255.5 350.5l2.8 5h-5.5zM256.5 351.8l2.8 5h-5.5zM257.5 352l2.8 5h-5.5zM258.5 350.5l2.8 5h-5.5zM259.5 356.1l2.8 5h-5.5zM260.5 352.2l2.8 5h-5.5zM261.5 353.6l2.8 5h-5.5zM262.5 352.2l2.8 5h-5.5zM263.5 354.7l2.8 5h-5.5zM264.5 350.3l2.8 5h-5.5zM265.5 352.3l2.8 5h-5.5zM266.5 354.1l2.8 5h-5.5zM267.6 356.3l2.8 5h-5.5zM268.6 354.9l2.8 5h-5.5zM269.6 355.3l2.8 5h-5.5zM270.6 353.3l2.8 5h-5.5zM271.6 348.9l2.8 5h-5.5zM272.6 353.6l2.8 5h-5.5zM273.6 352.1l2.8 5h-5.5zM274.6 353.3l2.8 5h-5.5zM61.3 388.1l2.8 5h-5.5zM61.3 398.6l2.8 5h-5.5z"/>
<path fill="#7cf8f2" d="M58.6 388.4h4.2v4.2h-4.2zM59.3 384.7h4.2v4.2h-4.2zM59.9 387.4h4.2v4.2h-4.2zM60.6 387.9h4.2v4.2h-4.2zM61.2 382.3h4.2v4.2h-4.2zM61.9 384.2h4.2v4.2h-4.2zM62.5 388.5h4.2v4.2h-4.2zM63.2 392.7h4.2v4.2h-4.2zM63.8 382.1h4.2v4.2h-4.2zM64.5 391.9h4.2v4.2h-4.2zM65.1 396.6h4.2v4.2h-4.2zM65.8 392.5h4.2v4.2h-4.2zM66.4 386h4.2v4.2h-4.2zM67.1 382.1h4.2v4.2h-4.2zM67.7 387.1h4.2v4.2h-4.2zM68.4 386.8h4.2v4.2h-4.2zM69 382h4.2v4.2h-4.2zM69.7 384.8h4.2v4.2h-4.2zM70.3 390.6h4.2v4.2h-4.2zM71 390.4h4.2v4.2h-4.2zM71.6 385.3h4.2v4.2h-4.2zM72.3 393.1h4.2v4.2h-4.2zM72.9 396.8h4.2v4.2h-4.2zM73.6 388h4.2v4.2h-4.2zM74.2 384.8h4.2v4.2h-4.2zM74.9 394.7h4.2v4.2h-4.2zM75.5 387.2h4.2v4.2h-4.2zM76.2 383.6h4.2v4.2h-4.2zM76.8 397.1h4.2v4.2h-4.2zM77.5 397.1h4.2v4.2h-4.2zM78.1 390.9h4.2v4.2h-4.2zM78.8 393.8h4.2v4.2h-4.2zM79.4 383.1h4.2v4.2h-4.2zM80.1 382.4h4.2v4.2h-4.2zM80.7 392.1h4.2v4.2h-4.2zM81.4 386.1h4.2v4.2h-4.2zM82 389.1h4.2v4.2h-4.2zM82.7 397.2h4.2v4.2h-4.2zM83.3 383.3h4.2v4.2h-4.2zM84 397.4h4.2v4.2h-4.2zM84.6 399.2h4.2v4.2h-4.2zM85.3 392.7h4.2v4.2h-4.2zM85.9 400.4h4.2v4.2h-4.2zM86.6 392.4h4.2v4.2h-4.2zM87.2 393.7h4.2v4.2h-4.2zM87.9 384.3h4.2v4.2h-4.2zM88.5 393.9h4.2v4.2h-4.2zM89.2 386.3h4.2v4.2h-4.2zM89.8 387.6h4.2v4.2h-4.2zM90.5 391.1h4.2v4.2h-4.2zM91.1 397.3h4.2v4.2h-4.2zM91.8 396.2h4.2v4.2h-4.2zM92.4 393.1h4.2v4.2h-4.2zM93.1 394.9h4.2v4.2h-4.2zM93.7 390.6h4.2v4.2h-4.2zM94.4 393.1h4.2v4.2h-4.2zM95 396.4h4.2v4.2h-4.2zM95.7 391.5h4.2v4.2h-4.2zM96.3 384.8h4.2v4.2h-4.2zM97 398.8h4.2v4.2h-4.2zM97.6 396.6h4.2v4.2h-4.2zM98.3 402.3h4.2v4.2h-4.2zM98.9 401h4.2v4.2h-4.2zM99.6 401.8h4.2v4.2h-4.2zM100.2 395.4h4.2v4.2h-4.2zM100.9 388.3h4.2v4.2h-4.2zM101.5 390.8h4.2v4.2h-4.2zM102.2 386.2h4.2v4.2h-4.2zM102.8 388.6h4.2v4.2h-4.2zM103.5 393.1h4.2v4.2h-4.2zM104.1 393.3h4.2v4.2h-4.2zM104.8 403.3h4.2v4.2h-4.2zM105.4 396.9h4.2v4.2h-4.2zM106.1 399.1h4.2v4.2h-4.2zM106.7 393h4.2v4.2h-4.2zM107.4 402.8h4.2v4.2h-4.2zM108 394.5h4.2v4.2h-4.2zM108.7 397.5h4.2v4.2h-4.2zM109.3 395.6h4.2v4.2h-4.2zM110 397.2h4.2v4.2h-4.2zM110.6 402.6h4.2v4.2h-4.2zM111.3 391.7h4.2v4.2h-4.2zM111.9 390.6h4.2v4.2h-4.2zM112.6 394.2h4.2v4.2h-4.2zM113.2 402.8h4.2v4.2h-4.2zM113.9 394.4h4.2v4.2h-4.2zM114.5 389.8h4.2v4.2h-4.2zM115.2 387.8h4.2v4.2h-4.2zM115.8 391.9h4.2v4.2h-4.2zM116.5 404.5h4.2v4.2h-4.2zM117.1 390h4.2v4.2h-4.2zM117.8 393.9h4.2v4.2h-4.2zM118.4 400.7h4.2v4.2h-4.2zM119.1 389.6h4.2v4.2h-4.2zM119.7 391.3h4.2v4.2h-4.2zM120.4 390.2h4.2v4.2h-4.2zM121 401.7h4.2v4.2h-4.2zM121.7 396h4.2v4.2h-4.2zM122.3 399.5h4.2v4.2h-4.2zM123 401.1h4.2v4.2h-4.2zM123.6 393.1h4.2v4.2h-4.2zM124.3 395.8h4.2v4.2h-4.2zM124.9 401h4.2v4.2h-4.2zM125.6 397.4h4.2v4.2h-4.2zM126.2 390.9h4.2v4.2h-4.2zM126.9 397.3h4.2v4.2h-4.2zM127.5 391.4h4.2v4.2h-4.2zM128.2 397.7h4.2v4.2h-4.2zM128.8 390.4h4.2v4.2h-4.2zM129.5 407.4h4.2v4.2h-4.2zM130.1 400h4.2v4.2h-4.2zM130.8 398.6h4.2v4.2h-4.2zM131.4 395.7h4.2v4.2h-4.2zM132.1 391.6h4.2v4.2h-4.2zM132.7 397.8h4.2v4.2h-4.2zM133.4 400.5h4.2v4.2h-4.2zM134 397.9h4.2v4.2h-4.2zM134.7 399.8h4.2v4.2h-4.2zM135.3 397h4.2v4.2h-4.2zM136 392.9h4.2v4.2h-4.2zM136.6 409.4h4.2v4.2h-4.2zM137.3 404.2h4.2v4.2h-4.2zM137.9 394.6h4.2v4.2h-4.2zM138.6 409.1h4.2v4.2h-4.2zM139.2 396.5h4.2v4.2h-4.2zM139.9 409.9h4.2v4.2h-4.2zM140.5 399.3h4.2v4.2h-4.2zM141.2 396.9h4.2v4.2h-4.2zM141.8 407.1h4.2v4.2h-4.2zM142.5 404.9h4.2v4.2h-4.2zM143.1 408h4.2v4.2h-4.2zM143.8 399.9h4.2v4.2h-4.2zM144.4 403.3h4.2v4.2h-4.2zM145.1 402.3h4.2v4.2h-4.2zM145.7 407.5h4.2v4.2h-4.2zM146.4 403.3h4.2v4.2h-4.2zM147 397.2h4.2v4.2h-4.2zM147.7 400.6h4.2v4.2h-4.2zM148.3 397.9h4.2v4.2h-4.2zM149 410.5h4.2v4.2h-4.2zM149.6 406.1h4.2v4.2h-4.2zM150.3 408.8h4.2v4.2h-4.2zM150.9 409.8h4.2v4.2h-4.2zM151.6 401.5h4.2v4.2h-4.2zM152.2 412.2h4.2v4.2h-4.2zM152.9 405.1h4.2v4.2h-4.2zM153.5 401h4.2v4.2h-4.2zM154.2 397.8h4.2v4.2h-4.2zM154.8 413.5h4.2v4.2h-4.2zM155.5 408.7h4.2v4.2h-4.2zM156.1 404.4h4.2v4.2h-4.2zM156.8 396h4.2v4.2h-4.2zM157.4 408.9h4.2v4.2h-4.2zM158.1 396.3h4.2v4.2h-4.2zM158.7 403.4h4.2v4.2h-4.2zM159.4 400.1h4.2v4.2h-4.2zM160 392.8h4.2v4.2h-4.2zM160.7 408.1h4.2v4.2h-4.2zM161.3 403.8h4.2v4.2h-4.2zM162 407.3h4.2v4.2h-4.2zM162.6 408.1h4.2v4.2h-4.2zM163.3 405.6h4.2v4.2h-4.2zM163.9 399h4.2v4.2h-4.2zM164.6 401.6h4.2v4.2h-4.2zM165.2 410h4.2v4.2h-4.2zM165.9 398.9h4.2v4.2h-4.2zM166.5 405.1h4.2v4.2h-4.2zM167.2 412.5h4.2v4.2h-4.2zM167.8 401.7h4.2v4.2h-4.2zM168.5 402.8h4.2v4.2h-4.2zM169.1 414.8h4.2v4.2h-4.2zM169.8 404h4.2v4.2h-4.2zM170.4 408h4.2v4.2h-4.2zM171.1 419.9h4.2v4.2h-4.2zM171.7 425.7h4.2v4.2h-4.2zM172.4 412.1h4.2v4.2h-4.2zM173 414.2h4.2v4.2h-4.2zM173.7 428.4h4.2v4.2h-4.2zM174.3 418.1h4.2v4.2h-4.2zM175 419.4h4.2v4.2h-4.2zM175.6 422.4h4.2v4.2h-4.2zM176.3 419h4.2v4.2h-4.2zM176.9 416.5h4.2v4.2h-4.2zM177.6 428.2h4.2v4.2h-4.2zM178.2 419.5h4.2v4.2h-4.2zM178.9 418.1h4.2v4.2h-4.2zM179.5 428.8h4.2v4.2h-4.2zM180.2 422.5h4.2v4.2h-4.2zM180.8 422.6h4.2v4.2h-4.2zM181.5 419.9h4.2v4.2h-4.2zM182.1 425h4.2v4.2h-4.2zM182.8 430.2h4.2v4.2h-4.2zM183.4 430.8h4.2v4.2h-4.2zM184.1 425.8h4.2v4.2h-4.2zM184.7 433.1h4.2v4.2h-4.2zM185.4 420.6h4.2v4.2h-4.2zM186 420.2h4.2v4.2h-4.2zM186.7 431.7h4.2v4.2h-4.2zM187.3 423.8h4.2v4.2h-4.2zM188 424.2h4.2v4.2h-4.2zM188.6 433.8h4.2v4.2h-4.2zM189.3 422.4h4.2v4.2h-4.2zM189.9 422.6h4.2v4.2h-4.2zM190.6 430.6h4.2v4.2h-4.2zM191.2 434.3h4.2v4.2h-4.2zM191.9 431h4.2v4.2h-4.2zM192.5 422.5h4.2v4.2h-4.2zM193.2 427.8h4.2v4.2h-4.2zM193.8 421.7h4.2v4.2h-4.2zM194.5 433.2h4.2v4.2h-4.2zM195.1 434.1h4.2v4.2h-4.2zM195.8 429.9h4.2v4.2h-4.2zM196.4 420.6h4.2v4.2h-4.2zM197.1 433.1h4.2v4.2h-4.2zM197.7 434.7h4.2v4.2h-4.2zM198.4 422.8h4.2v4.2h-4.2zM199 434.4h4.2v4.2h-4.2zM199.7 424.3h4.2v4.2h-4.2zM200.3 434.5h4.2v4.2h-4.2zM201 431.7h4.2v4.2h-4.2zM201.6 424.4h4.2v4.2h-4.2zM202.3 420.7h4.2v4.2h-4.2zM202.9 428.8h4.2v4.2h-4.2zM203.6 428.1h4.2v4.2h-4.2zM204.2 435.4h4.2v4.2h-4.2zM204.9 430h4.2v4.2h-4.2zM205.5 431.7h4.2v4.2h-4.2zM206.2 422.2h4.2v4.2h-4.2zM206.8 423.5h4.2v4.2h-4.2zM207.5 422.3h4.2v4.2h-4.2zM208.1 426.7h4.2v4.2h-4.2zM208.8 423.7h4.2v4.2h-4.2zM209.4 433.8h4.2v4.2h-4.2zM210.1 429.2h4.2v4.2h-4.2zM210.7 430.9h4.2v4.2h-4.2zM211.4 431h4.2v4.2h-4.2zM212 423.1h4.2v4.2h-4.2zM212.7 432.2h4.2v4.2h-4.2zM213.3 430.3h4.2v4.2h-4.2zM214 431h4.2v4.2h-4.2zM214.6 420.9h4.2v4.2h-4.2zM215.3 424.8h4.2v4.2h-4.2zM215.9 427.6h4.2v4.2h-4.2zM216.6 429.3h4.2v4.2h-4.2zM217.2 419.9h4.2v4.2h-4.2zM217.9 419.5h4.2v4.2h-4.2zM218.5 428.1h4.2v4.2h-4.2zM219.2 426.1h4.2v4.2h-4.2zM219.8 420.9h4.2v4.2h-4.2zM220.5 431.5h4.2v4.2h-4.2zM221.1 431.5h4.2v4.2h-4.2zM221.8 434.2h4.2v4.2h-4.2zM222.4 427.2h4.2v4.2h-4.2zM223.1 422.5h4.2v4.2h-4.2zM223.7 433.2h4.2v4.2h-4.2zM224.4 428.4h4.2v4.2h-4.2zM225 418.7h4.2v4.2h-4.2zM225.7 427.6h4.2v4.2h-4.2zM226.3 429.3h4.2v4.2h-4.2zM227 421.3h4.2v4.2h-4.2zM227.6 420.4h4.2v4.2h-4.2zM228.3 429.4h4.2v4.2h-4.2zM228.9 433.8h4.2v4.2h-4.2zM229.6 424.8h4.2v4.2h-4.2zM230.2 423h4.2v4.2h-4.2zM230.9 419.8h4.2v4.2h-4.2zM231.5 424.4h4.2v4.2h-4.2zM232.2 430.6h4.2v4.2h-4.2zM232.8 427h4.2v4.2h-4.2zM233.5 430.9h4.2v4.2h-4.2zM234.1 428.2h4.2v4.2h-4.2zM234.8 427.8h4.2v4.2h-4.2zM235.4 420h4.2v4.2h-4.2zM236.1 420.1h4.2v4.2h-4.2zM236.7 419.8h4.2v4.2h-4.2zM237.4 427.6h4.2v4.2h-4.2zM238 419.1h4.2v4.2h-4.2zM238.7 433.5h4.2v4.2h-4.2zM239.3 419.9h4.2v4.2h-4.2zM240 424.8h4.2v4.2h-4.2zM240.6 420.7h4.2v4.2h-4.2zM241.3 428.7h4.2v4.2h-4.2zM241.9 418.6h4.2v4.2h-4.2zM242.6 435.5h4.2v4.2h-4.2zM243.2 421.1h4.2v4.2h-4.2zM243.9 421.6h4.2v4.2h-4.2zM244.5 429.4h4.2v4.2h-4.2zM245.2 421.5h4.2v4.2h-4.2zM245.8 432.2h4.2v4.2h-4.2zM246.5 422.8h4.2v4.2h-4.2zM247.1 427.8h4.2v4.2h-4.2zM247.8 428.8h4.2v4.2h-4.2zM248.4 432.5h4.2v4.2h-4.2zM249.1 422h4.2v4.2h-4.2zM249.7 423.2h4.2v4.2h-4.2zM250.4 434.4h4.2v4.2h-4.2zM251 418.9h4.2v4.2h-4.2zM251.7 432.1h4.2v4.2h-4.2zM252.3 429.4h4.2v4.2h-4.2zM253 428.7h4.2v4.2h-4.2zM253.6 425.9h4.2v4.2h-4.2zM254.3 420.4h4.2v4.2h-4.2zM254.9 419.4h4.2v4.2h-4.2zM255.6 424.9h4.2v4.2h-4.2zM256.2 429.6h4.2v4.2h-4.2zM256.9 434.1h4.2v4.2h-4.2zM257.5 434.8h4.2v4.2h-4.2zM258.2 426.9h4.2v4.2h-4.2zM258.8 425.8h4.2v4.2h-4.2zM259.5 428.2h4.2v4.2h-4.2zM260.1 418.8h4.2v4.2h-4.2zM260.8 428.7h4.2v4.2h-4.2zM261.4 429.8h4.2v4.2h-4.2zM262.1 428.7h4.2v4.2h-4.2zM262.7 433h4.2v4.2h-4.2zM263.4 419.6h4.2v4.2h-4.2zM264 425.6h4.2v4.2h-4.2zM264.7 426.5h4.2v4.2h-4.2zM265.3 428.5h4.2v4.2h-4.2zM266 431.6h4.2v4.2h-4.2zM266.6 430.5h4.2v4.2h-4.2zM267.3 427.3h4.2v4.2h-4.2zM267.9 428.2h4.2v4.2h-4.2zM268.6 418.9h4.2v4.2h-4.2zM269.2 426.1h4.2v4.2h-4.2zM269.9 432.4h4.2v4.2h-4.2zM270.5 435h4.2v4.2h-4.2zM271.2 433.2h4.2v4.2h-4.2zM271.8 429.9h4.2v4.2h-4.2zM272.5 422.3h4.2v4.2h-4.2z"/>
<polyline fill="none" stroke="#7cf8f2" stroke-width="4" stroke-linejoin="round" stroke-linecap="round" points="180.5,429.3 274.6,429.3"/>
<path fill="#7cf8f2" d="M178.4 428.7h4.2v4.2h-4.2zM179.4 427.8h4.2v4.2h-4.2zM180.4 424.1h4.2v4.2h-4.2zM181.4 428.2h4.2v4.2h-4.2zM182.4 425.2h4.2v4.2h-4.2zM183.4 422.9h4.2v4.2h-4.2zM184.4 428.2h4.2v4.2h-4.2zM185.4 430.3h4.2v4.2h-4.2zM186.4 426.2h4.2v4.2h-4.2zM187.4 430.2h4.2v4.2h-4.2zM188.4 431.4h4.2v4.2h-4.2zM189.4 425.7h4.2v4.2h-4.2zM190.4 425.4h4.2v4.2h-4.2zM191.4 427.9h4.2v4.2h-4.2zM192.4 428.4h4.2v4.2h-4.2zM193.4 426.7h4.2v4.2h-4.2zM194.4 428.5h4.2v4.2h-4.2zM195.4 425.7h4.2v4.2h-4.2zM196.4 425.7h4.2v4.2h-4.2zM197.4 431.1h4.2v4.2h-4.2zM198.4 423.6h4.2v4.2h-4.2zM199.4 429.1h4.2v4.2h-4.2zM200.4 427.8h4.2v4.2h-4.2zM201.4 430.1h4.2v4.2h-4.2zM202.4 430.3h4.2v4.2h-4.2zM203.4 426.8h4.2v4.2h-4.2zM204.4 427.7h4.2v4.2h-4.2zM205.4 426h4.2v4.2h-4.2zM206.4 424.6h4.2v4.2h-4.2zM207.4 422.9h4.2v4.2h-4.2zM208.4 429.8h4.2v4.2h-4.2zM209.4 427.6h4.2v4.2h-4.2zM210.4 427.7h4.2v4.2h-4.2zM211.4 424.7h4.2v4.2h-4.2zM212.4 427.5h4.2v4.2h-4.2zM213.4 428.4h4.2v4.2h-4.2zM214.4 423h4.2v4.2h-4.2zM215.4 426.5h4.2v4.2h-4.2zM216.4 427.5h4.2v4.2h-4.2zM217.4 427.1h4.2v4.2h-4.2zM218.4 427h4.2v4.2h-4.2zM219.4 427.6h4.2v4.2h-4.2zM220.4 423.2h4.2v4.2h-4.2zM221.4 426.4h4.2v4.2h-4.2zM222.4 423.8h4.2v4.2h-4.2zM223.4 427h4.2v4.2h-4.2zM224.4 426.3h4.2v4.2h-4.2zM225.4 429.2h4.2v4.2h-4.2zM226.4 426.8h4.2v4.2h-4.2zM227.4 429.2h4.2v4.2h-4.2zM228.4 430.5h4.2v4.2h-4.2zM229.4 427.9h4.2v4.2h-4.2zM230.4 427.2h4.2v4.2h-4.2zM231.4 426.5h4.2v4.2h-4.2zM232.5 429.2h4.2v4.2h-4.2zM233.5 427.2h4.2v4.2h-4.2zM234.5 425.4h4.2v4.2h-4.2zM235.5 433.5h4.2v4.2h-4.2zM236.5 429.6h4.2v4.2h-4.2zM237.5 426.5h4.2v4.2h-4.2zM238.5 422.2h4.2v4.2h-4.2zM239.5 432.2h4.2v4.2h-4.2zM240.5 427.1h4.2v4.2h-4.2zM241.5 428.9h4.2v4.2h-4.2zM242.5 427.5h4.2v4.2h-4.2zM243.5 426.3h4.2v4.2h-4.2zM244.5 428.1h4.2v4.2h-4.2zM245.5 424.7h4.2v4.2h-4.2zM246.5 426.1h4.2v4.2h-4.2zM247.5 427.9h4.2v4.2h-4.2zM248.5 424h4.2v4.2h-4.2zM249.5 428.1h4.2v4.2h-4.2zM250.5 424.9h4.2v4.2h-4.2zM251.5 430.9h4.2v4.2h-4.2zM252.5 426.3h4.2v4.2h-4.2zM253.5 432.1h4.2v4.2h-4.2zM254.5 431.2h4.2v4.2h-4.2zM255.5 427.5h4.2v4.2h-4.2zM256.5 428.5h4.2v4.2h-4.2zM257.5 423.4h4.2v4.2h-4.2zM258.5 428.5h4.2v4.2h-4.2zM259.5 420.6h4.2v4.2h-4.2zM260.5 428.8h4.2v4.2h-4.2zM261.5 429.3h4.2v4.2h-4.2zM262.5 428.3h4.2v4.2h-4.2zM263.5 425.6h4.2v4.2h-4.2zM264.5 427.6h4.2v4.2h-4.2zM265.5 423.5h4.2v4.2h-4.2zM266.5 428.5h4.2v4.2h-4.2zM267.5 427.5h4.2v4.2h-4.2zM268.5 429.4h4.2v4.2h-4.2zM269.5 421.9h4.2v4.2h-4.2zM270.5 423.4h4.2v4.2h-4.2zM271.5 428.6h4.2v4.2h-4.2zM272.5 421.2h4.2v4.2h-4.2z"/>
<polyline fill="none" stroke="#9a9a9a" stroke-width="3" stroke-linejoin="round" stroke-linecap="round" points="60.7,356.8 274.6,356.8"/>
<path fill="#9a9a9a" d="M60.7 354.2l2.5 2.5 -2.5 2.5 -2.5 -2.5zM62.2 354.2l2.5 2.5 -2.5 2.5 -2.5 -2.5zM63.7 354.2l2.5 2.5 -2.5 2.5 -2.5 -2.5zM65.2 354.2l2.5 2.5 -2.5 2.5 -2.5 -2.5zM66.7 354.2l2.5 2.5 -2.5 2.5 -2.5 -2.5zM68.2 354.2l2.5 2.5 -2.5 2.5 -2.5 -2.5zM69.7 354.2l2.5 2.5 -2.5 2.5 -2.5 -2.5zM71.2 354.2l2.5 2.5 -2.5 2.5 -2.5 -2.5zM72.8 354.2l2.5 2.5 -2.5 2.5 -2.5 -2.5zM74.3 354.2l2.5 2.5 -2.5 2.5 -2.5 -2.5zM75.8 354.2l2.5 2.5 -2.5 2.5 -2.5 -2.5zM77.3 354.2l2.5 2.5 -2.5 2.5 -2.5 -2.5zM78.8 354.2l2.5 2.5 -2.5 2.5 -2.5 -2.5zM80.3 354.2l2.5 2.5 -2.5 2.5 -2.5 -2.5zM81.8 354.2l2.5 2.5 -2.5 2.5 -2.5 -2.5zM83.3 354.2l2.5 2.5 -2.5 2.5 -2.5 -2.5zM84.8 354.2l2.5 2.5 -2.5 2.5 -2.5 -2.5zM86.3 354.2l2.5 2.5 -2.5 2.5 -2.5 -2.5zM87.8 354.2l2.5 2.5 -2.5 2.5 -2.5 -2.5zM89.3 354.2l2.5 2.5 -2.5 2.5 -2.5 -2.5zM90.8 354.2l2.5 2.5 -2.5 2.5 -2.5 -2.5zM92.3 354.2l2.5 2.5 -2.5 2.5 -2.5 -2.5zM93.8 354.2l2.5 2.5 -2.5 2.5 -2.5 -2.5zM95.3 354.2l2.5 2.5 -2.5 2.5 -2.5 -2.5zM96.9 354.2l2.5 2.5 -2.5 2.5 -2.5 -2.5zM98.4 354.2l2.5 2.5 -2.5 2.5 -2.5 -2.5zM99.9 354.2l2.5 2.5 -2.5 2.5 -2.5 -2.5zM101.4 354.2l2.5 2.5 -2.5 2.5 -2.5 -2.5zM102.9 354.2l2.5 2.5 -2.5 2.5 -2.5 -2.5zM104.4 354.2l2.5 2.5 -2.5 2.5 -2.5 -2.5zM105.9 354.2l2.5 2.5 -2.5 2.5 -2.5 -2.5zM107.4 354.2l2.5 2.5 -2.5 2.5 -2.5 -2.5zM108.9 354.2l2.5 2.5 -2.5 2.5 -2.5 -2.5zM110.4 354.2l2.5 2.5 -2.5 2.5 -2.5 -2.5zM111.9 354.2l2.5 2.5 -2.5 2.5 -2.5 -2.5zM113.4 354.2l2.5 2.5 -2.5 2.5 -2.5 -2.5zM114.9 354.2l2.5 2.5 -2.5 2.5 -2.5 -2.5zM116.4 354.2l2.5 2.5 -2.5 2.5 -2.5 -2.5zM117.9 354.2l2.5 2.5 -2.5 2.5 -2.5 -2.5zM119.4 354.2l2.5 2.5 -2.5 2.5 -2.5 -2.5zM121 354.2l2.5 2.5 -2.5 2.5 -2.5 -2.5zM122.5 354.2l2.5 2.5 -2.5 2.5 -2.5 -2.5zM124 354.2l2.5 2.5 -2.5 2.5 -2.5 -2.5zM125.5 354.2l2.5 2.5 -2.5 2.5 -2.5 -2.5zM127 354.2l2.5 2.5 -2.5 2.5 -2.5 -2.5zM128.5 354.2l2.5 2.5 -2.5 2.5 -2.5 -2.5zM130 354.2l2.5 2.5 -2.5 2.5 -2.5 -2.5zM131.5 354.2l2.5 2.5 -2.5 2.5 -2.5 -2.5zM133 354.2l2.5 2.5 -2.5 2.5 -2.5 -2.5zM134.5 354.2l2.5 2.5 -2.5 2.5 -2.5 -2.5zM136 354.2l2.5 2.5 -2.5 2.5 -2.5 -2.5zM137.5 354.2l2.5 2.5 -2.5 2.5 -2.5 -2.5zM139 354.2l2.5 2.5 -2.5 2.5 -2.5 -2.5zM140.5 354.2l2.5 2.5 -2.5 2.5 -2.5 -2.5zM142 354.2l2.5 2.5 -2.5 2.5 -2.5 -2.5zM143.5 354.2l2.5 2.5 -2.5 2.5 -2.5 -2.5zM145.1 354.2l2.5 2.5 -2.5 2.5 -2.5 -2.5zM146.6 354.2l2.5 2.5 -2.5 2.5 -2.5 -2.5zM148.1 354.2l2.5 2.5 -2.5 2.5 -2.5 -2.5zM149.6 354.2l2.5 2.5 -2.5 2.5 -2.5 -2.5zM151.1 354.2l2.5 2.5 -2.5 2.5 -2.5 -2.5zM152.6 354.2l2.5 2.5 -2.5 2.5 -2.5 -2.5zM154.1 354.2l2.5 2.5 -2.5 2.5 -2.5 -2.5zM155.6 354.2l2.5 2.5 -2.5 2.5 -2.5 -2.5zM157.1 354.2l2.5 2.5 -2.5 2.5 -2.5 -2.5zM158.6 354.2l2.5 2.5 -2.5 2.5 -2.5 -2.5zM160.1 354.2l2.5 2.5 -2.5 2.5 -2.5 -2.5zM161.6 354.2l2.5 2.5 -2.5 2.5 -2.5 -2.5zM163.1 354.2l2.5 2.5 -2.5 2.5 -2.5 -2.5zM164.6 354.2l2.5 2.5 -2.5 2.5 -2.5 -2.5zM166.1 354.2l2.5 2.5 -2.5 2.5 -2.5 -2.5zM167.7 354.2l2.5 2.5 -2.5 2.5 -2.5 -2.5zM169.2 354.2l2.5 2.5 -2.5 2.5 -2.5 -2.5zM170.7 354.2l2.5 2.5 -2.5 2.5 -2.5 -2.5zM172.2 354.2l2.5 2.5 -2.5 2.5 -2.5 -2.5zM173.7 354.2l2.5 2.5 -2.5 2.5 -2.5 -2.5zM175.2 354.2l2.5 2.5 -2.5 2.5 -2.5 -2.5zM176.7 354.2l2.5 2.5 -2.5 2.5 -2.5 -2.5zM178.2 354.2l2.5 2.5 -2.5 2.5 -2.5 -2.5zM179.7 354.2l2.5 2.5 -2.5 2.5 -2.5 -2.5zM181.2 354.2l2.5 2.5 -2.5 2.5 -2.5 -2.5zM182.7 354.2l2.5 2.5 -2.5 2.5 -2.5 -2.5zM184.2 354.2l2.5 2.5 -2.5 2.5 -2.5 -2.5zM185.7 354.2l2.5 2.5 -2.5 2.5 -2.5 -2.5zM187.2 354.2l2.5 2.5 -2.5 2.5 -2.5 -2.5zM188.7 354.2l2.5 2.5 -2.5 2.5 -2.5 -2.5zM190.2 354.2l2.5 2.5 -2.5 2.5 -2.5 -2.5zM191.8 354.2l2.5 2.5 -2.5 2.5 -2.5 -2.5zM193.3 354.2l2.5 2.5 -2.5 2.5 -2.5 -2.5zM194.8 354.2l2.5 2.5 -2.5 2.5 -2.5 -2.5zM196.3 354.2l2.5 2.5 -2.5 2.5 -2.5 -2.5zM197.8 354.2l2.5 2.5 -2.5 2.5 -2.5 -2.5zM199.3 354.2l2.5 2.5 -2.5 2.5 -2.5 -2.5zM200.8 354.2l2.5 2.5 -2.5 2.5 -2.5 -2.5zM202.3 354.2l2.5 2.5 -2.5 2.5 -2.5 -2.5zM203.8 354.2l2.5 2.5 -2.5 2.5 -2.5 -2.5zM205.3 354.2l2.5 2.5 -2.5 2.5 -2.5 -2.5zM206.8 354.2l2.5 2.5 -2.5 2.5 -2.5 -2.5zM208.3 354.2l2.5 2.5 -2.5 2.5 -2.5 -2.5zM209.8 354.2l2.5 2.5 -2.5 2.5 -2.5 -2.5zM211.3 354.2l2.5 2.5 -2.5 2.5 -2.5 -2.5zM212.8 354.2l2.5 2.5 -2.5 2.5 -2.5 -2.5zM214.3 354.2l2.5 2.5 -2.5 2.5 -2.5 -2.5zM215.9 354.2l2.5 2.5 -2.5 2.5 -2.5 -2.5zM217.4 354.2l2.5 2.5 -2.5 2.5 -2.5 -2.5zM218.9 354.2l2.5 2.5 -2.5 2.5 -2.5 -2.5zM220.4 354.2l2.5 2.5 -2.5 2.5 -2.5 -2.5zM221.9 354.2l2.5 2.5 -2.5 2.5 -2.5 -2.5zM223.4 354.2l2.5 2.5 -2.5 2.5 -2.5 -2.5zM224.9 354.2l2.5 2.5 -2.5 2.5 -2.5 -2.5zM226.4 354.2l2.5 2.5 -2.5 2.5 -2.5 -2.5zM227.9 354.2l2.5 2.5 -2.5 2.5 -2.5 -2.5zM229.4 354.2l2.5 2.5 -2.5 2.5 -2.5 -2.5zM230.9 354.2l2.5 2.5 -2.5 2.5 -2.5 -2.5zM232.4 354.2l2.5 2.5 -2.5 2.5 -2.5 -2.5zM233.9 354.2l2.5 2.5 -2.5 2.5 -2.5 -2.5zM235.4 354.2l2.5 2.5 -2.5 2.5 -2.5 -2.5zM236.9 354.2l2.5 2.5 -2.5 2.5 -2.5 -2.5zM238.4 354.2l2.5 2.5 -2.5 2.5 -2.5 -2.5zM240 354.2l2.5 2.5 -2.5 2.5 -2.5 -2.5zM241.5 354.2l2.5 2.5 -2.5 2.5 -2.5 -2.5zM243 354.2l2.5 2.5 -2.5 2.5 -2.5 -2.5zM244.5 354.2l2.5 2.5 -2.5 2.5 -2.5 -2.5zM246 354.2l2.5 2.5 -2.5 2.5 -2.5 -2.5zM247.5 354.2l2.5 2.5 -2.5 2.5 -2.5 -2.5zM249 354.2l2.5 2.5 -2.5 2.5 -2.5 -2.5zM250.5 354.2l2.5 2.5 -2.5 2.5 -2.5 -2.5zM252 354.2l2.5 2.5 -2.5 2.5 -2.5 -2.5zM253.5 354.2l2.5 2.5 -2.5 2.5 -2.5 -2.5zM255 354.2l2.5 2.5 -2.5 2.5 -2.5 -2.5zM256.5 354.2l2.5 2.5 -2.5 2.5 -2.5 -2.5zM258 354.2l2.5 2.5 -2.5 2.5 -2.5 -2.5zM259.5 354.2l2.5 2.5 -2.5 2.5 -2.5 -2.5zM261 354.2l2.5 2.5 -2.5 2.5 -2.5 -2.5zM262.5 354.2l2.5 2.5 -2.5 2.5 -2.5 -2.5zM264.1 354.2l2.5 2.5 -2.5 2.5 -2.5 -2.5zM265.6 354.2l2.5 2.5 -2.5 2.5 -2.5 -2.5zM267.1 354.2l2.5 2.5 -2.5 2.5 -2.5 -2.5zM268.6 354.2l2.5 2.5 -2.5 2.5 -2.5 -2.5zM270.1 354.2l2.5 2.5 -2.5 2.5 -2.5 -2.5zM271.6 354.2l2.5 2.5 -2.5 2.5 -2.5 -2.5zM273.1 354.2l2.5 2.5 -2.5 2.5 -2.5 -2.5zM274.6 354.2l2.5 2.5 -2.5 2.5 -2.5 -2.5z"/>
<polyline fill="none" stroke="#b857ee" stroke-width="2.5" stroke-linejoin="round" stroke-linecap="round" points="60.7,442 154.8,441.6 160.2,439 163.4,426.7 165.9,409.2 168.1,391.7 170.2,378.6 173,369 178.3,362.9 189,360.2 274.6,358.5"/>
<path fill="#b857ee" d="M58.6 442.3a2.1 2.1 0 1 0 4.2 0a2.1 2.1 0 1 0 -4.2 0zM59.6 442.5a2.1 2.1 0 1 0 4.2 0a2.1 2.1 0 1 0 -4.2 0zM60.6 441.5a2.1 2.1 0 1 0 4.2 0a2.1 2.1 0 1 0 -4.2 0zM61.6 441.9a2.1 2.1 0 1 0 4.2 0a2.1 2.1 0 1 0 -4.2 0zM62.6 443.3a2.1 2.1 0 1 0 4.2 0a2.1 2.1 0 1 0 -4.2 0zM63.6 442.7a2.1 2.1 0 1 0 4.2 0a2.1 2.1 0 1 0 -4.2 0zM64.6 441.8a2.1 2.1 0 1 0 4.2 0a2.1 2.1 0 1 0 -4.2 0zM65.6 440.9a2.1 2.1 0 1 0 4.2 0a2.1 2.1 0 1 0 -4.2 0zM66.6 442a2.1 2.1 0 1 0 4.2 0a2.1 2.1 0 1 0 -4.2 0zM67.6 441.4a2.1 2.1 0 1 0 4.2 0a2.1 2.1 0 1 0 -4.2 0zM68.6 441.6a2.1 2.1 0 1 0 4.2 0a2.1 2.1 0 1 0 -4.2 0zM69.6 442.1a2.1 2.1 0 1 0 4.2 0a2.1 2.1 0 1 0 -4.2 0zM70.6 442.1a2.1 2.1 0 1 0 4.2 0a2.1 2.1 0 1 0 -4.2 0zM71.6 441.4a2.1 2.1 0 1 0 4.2 0a2.1 2.1 0 1 0 -4.2 0zM72.6 441.2a2.1 2.1 0 1 0 4.2 0a2.1 2.1 0 1 0 -4.2 0zM73.6 442.4a2.1 2.1 0 1 0 4.2 0a2.1 2.1 0 1 0 -4.2 0zM74.6 442.9a2.1 2.1 0 1 0 4.2 0a2.1 2.1 0 1 0 -4.2 0zM75.6 442.4a2.1 2.1 0 1 0 4.2 0a2.1 2.1 0 1 0 -4.2 0zM76.6 442.4a2.1 2.1 0 1 0 4.2 0a2.1 2.1 0 1 0 -4.2 0zM77.6 442a2.1 2.1 0 1 0 4.2 0a2.1 2.1 0 1 0 -4.2 0zM78.6 441.6a2.1 2.1 0 1 0 4.2 0a2.1 2.1 0 1 0 -4.2 0zM79.6 441.8a2.1 2.1 0 1 0 4.2 0a2.1 2.1 0 1 0 -4.2 0zM80.6 441.5a2.1 2.1 0 1 0 4.2 0a2.1 2.1 0 1 0 -4.2 0zM81.6 441.7a2.1 2.1 0 1 0 4.2 0a2.1 2.1 0 1 0 -4.2 0zM82.6 441.7a2.1 2.1 0 1 0 4.2 0a2.1 2.1 0 1 0 -4.2 0zM83.6 442.1a2.1 2.1 0 1 0 4.2 0a2.1 2.1 0 1 0 -4.2 0zM84.6 441.7a2.1 2.1 0 1 0 4.2 0a2.1 2.1 0 1 0 -4.2 0zM85.6 441.4a2.1 2.1 0 1 0 4.2 0a2.1 2.1 0 1 0 -4.2 0zM86.6 441.4a2.1 2.1 0 1 0 4.2 0a2.1 2.1 0 1 0 -4.2 0zM87.6 441.9a2.1 2.1 0 1 0 4.2 0a2.1 2.1 0 1 0 -4.2 0zM88.6 441.3a2.1 2.1 0 1 0 4.2 0a2.1 2.1 0 1 0 -4.2 0zM89.6 442.6a2.1 2.1 0 1 0 4.2 0a2.1 2.1 0 1 0 -4.2 0zM90.6 441.9a2.1 2.1 0 1 0 4.2 0a2.1 2.1 0 1 0 -4.2 0zM91.6 442a2.1 2.1 0 1 0 4.2 0a2.1 2.1 0 1 0 -4.2 0zM92.6 442.2a2.1 2.1 0 1 0 4.2 0a2.1 2.1 0 1 0 -4.2 0zM93.6 442.7a2.1 2.1 0 1 0 4.2 0a2.1 2.1 0 1 0 -4.2 0zM94.6 441.6a2.1 2.1 0 1 0 4.2 0a2.1 2.1 0 1 0 -4.2 0zM95.6 441.6a2.1 2.1 0 1 0 4.2 0a2.1 2.1 0 1 0 -4.2 0zM96.6 441.6a2.1 2.1 0 1 0 4.2 0a2.1 2.1 0 1 0 -4.2 0zM97.6 442.1a2.1 2.1 0 1 0 4.2 0a2.1 2.1 0 1 0 -4.2 0zM98.6 441.7a2.1 2.1 0 1 0 4.2 0a2.1 2.1 0 1 0 -4.2 0zM99.7 441.9a2.1 2.1 0 1 0 4.2 0a2.1 2.1 0 1 0 -4.2 0zM100.7 441.5a2.1 2.1 0 1 0 4.2 0a2.1 2.1 0 1 0 -4.2 0zM101.7 442.4a2.1 2.1 0 1 0 4.2 0a2.1 2.1 0 1 0 -4.2 0zM102.7 440.9a2.1 2.1 0 1 0 4.2 0a2.1 2.1 0 1 0 -4.2 0zM103.7 441.6a2.1 2.1 0 1 0 4.2 0a2.1 2.1 0 1 0 -4.2 0zM104.7 440.9a2.1 2.1 0 1 0 4.2 0a2.1 2.1 0 1 0 -4.2 0zM105.7 442.2a2.1 2.1 0 1 0 4.2 0a2.1 2.1 0 1 0 -4.2 0zM106.7 441.6a2.1 2.1 0 1 0 4.2 0a2.1 2.1 0 1 0 -4.2 0zM107.7 442.4a2.1 2.1 0 1 0 4.2 0a2.1 2.1 0 1 0 -4.2 0zM108.7 441.3a2.1 2.1 0 1 0 4.2 0a2.1 2.1 0 1 0 -4.2 0zM109.7 441.6a2.1 2.1 0 1 0 4.2 0a2.1 2.1 0 1 0 -4.2 0zM110.7 441.9a2.1 2.1 0 1 0 4.2 0a2.1 2.1 0 1 0 -4.2 0zM111.7 442.1a2.1 2.1 0 1 0 4.2 0a2.1 2.1 0 1 0 -4.2 0zM112.7 441.9a2.1 2.1 0 1 0 4.2 0a2.1 2.1 0 1 0 -4.2 0zM113.7 442a2.1 2.1 0 1 0 4.2 0a2.1 2.1 0 1 0 -4.2 0zM114.7 441.1a2.1 2.1 0 1 0 4.2 0a2.1 2.1 0 1 0 -4.2 0zM115.7 441.2a2.1 2.1 0 1 0 4.2 0a2.1 2.1 0 1 0 -4.2 0zM116.7 442.7a2.1 2.1 0 1 0 4.2 0a2.1 2.1 0 1 0 -4.2 0zM117.7 442a2.1 2.1 0 1 0 4.2 0a2.1 2.1 0 1 0 -4.2 0zM118.7 441.4a2.1 2.1 0 1 0 4.2 0a2.1 2.1 0 1 0 -4.2 0zM119.7 442a2.1 2.1 0 1 0 4.2 0a2.1 2.1 0 1 0 -4.2 0zM120.7 441.9a2.1 2.1 0 1 0 4.2 0a2.1 2.1 0 1 0 -4.2 0zM121.7 442.1a2.1 2.1 0 1 0 4.2 0a2.1 2.1 0 1 0 -4.2 0zM122.7 441.8a2.1 2.1 0 1 0 4.2 0a2.1 2.1 0 1 0 -4.2 0zM123.7 440.8a2.1 2.1 0 1 0 4.2 0a2.1 2.1 0 1 0 -4.2 0zM124.7 442.1a2.1 2.1 0 1 0 4.2 0a2.1 2.1 0 1 0 -4.2 0zM125.7 442.4a2.1 2.1 0 1 0 4.2 0a2.1 2.1 0 1 0 -4.2 0zM126.7 441.2a2.1 2.1 0 1 0 4.2 0a2.1 2.1 0 1 0 -4.2 0zM127.7 441.5a2.1 2.1 0 1 0 4.2 0a2.1 2.1 0 1 0 -4.2 0zM128.7 441.8a2.1 2.1 0 1 0 4.2 0a2.1 2.1 0 1 0 -4.2 0zM129.7 441.4a2.1 2.1 0 1 0 4.2 0a2.1 2.1 0 1 0 -4.2 0zM130.7 440.7a2.1 2.1 0 1 0 4.2 0a2.1 2.1 0 1 0 -4.2 0zM131.7 441a2.1 2.1 0 1 0 4.2 0a2.1 2.1 0 1 0 -4.2 0zM132.7 441.4a2.1 2.1 0 1 0 4.2 0a2.1 2.1 0 1 0 -4.2 0zM133.7 440.8a2.1 2.1 0 1 0 4.2 0a2.1 2.1 0 1 0 -4.2 0zM134.7 440.3a2.1 2.1 0 1 0 4.2 0a2.1 2.1 0 1 0 -4.2 0zM135.7 442.8a2.1 2.1 0 1 0 4.2 0a2.1 2.1 0 1 0 -4.2 0zM136.7 441.5a2.1 2.1 0 1 0 4.2 0a2.1 2.1 0 1 0 -4.2 0zM137.7 441.8a2.1 2.1 0 1 0 4.2 0a2.1 2.1 0 1 0 -4.2 0zM138.7 441.2a2.1 2.1 0 1 0 4.2 0a2.1 2.1 0 1 0 -4.2 0zM139.7 441.9a2.1 2.1 0 1 0 4.2 0a2.1 2.1 0 1 0 -4.2 0zM140.7 442.4a2.1 2.1 0 1 0 4.2 0a2.1 2.1 0 1 0 -4.2 0zM141.7 441.9a2.1 2.1 0 1 0 4.2 0a2.1 2.1 0 1 0 -4.2 0zM142.7 442.2a2.1 2.1 0 1 0 4.2 0a2.1 2.1 0 1 0 -4.2 0zM143.7 441.4a2.1 2.1 0 1 0 4.2 0a2.1 2.1 0 1 0 -4.2 0zM144.7 441.4a2.1 2.1 0 1 0 4.2 0a2.1 2.1 0 1 0 -4.2 0zM145.7 442.5a2.1 2.1 0 1 0 4.2 0a2.1 2.1 0 1 0 -4.2 0zM146.7 441.1a2.1 2.1 0 1 0 4.2 0a2.1 2.1 0 1 0 -4.2 0zM147.7 441.3a2.1 2.1 0 1 0 4.2 0a2.1 2.1 0 1 0 -4.2 0zM148.7 440.8a2.1 2.1 0 1 0 4.2 0a2.1 2.1 0 1 0 -4.2 0zM149.7 442.4a2.1 2.1 0 1 0 4.2 0a2.1 2.1 0 1 0 -4.2 0zM150.7 441.7a2.1 2.1 0 1 0 4.2 0a2.1 2.1 0 1 0 -4.2 0zM151.7 441.9a2.1 2.1 0 1 0 4.2 0a2.1 2.1 0 1 0 -4.2 0zM152.7 442a2.1 2.1 0 1 0 4.2 0a2.1 2.1 0 1 0 -4.2 0zM153.8 442a2.1 2.1 0 1 0 4.2 0a2.1 2.1 0 1 0 -4.2 0zM154.9 440.9a2.1 2.1 0 1 0 4.2 0a2.1 2.1 0 1 0 -4.2 0zM155.9 440a2.1 2.1 0 1 0 4.2 0a2.1 2.1 0 1 0 -4.2 0zM157 439.5a2.1 2.1 0 1 0 4.2 0a2.1 2.1 0 1 0 -4.2 0zM158.1 438.5a2.1 2.1 0 1 0 4.2 0a2.1 2.1 0 1 0 -4.2 0zM158.3 437.6a2.1 2.1 0 1 0 4.2 0a2.1 2.1 0 1 0 -4.2 0zM158.6 436.5a2.1 2.1 0 1 0 4.2 0a2.1 2.1 0 1 0 -4.2 0zM158.9 435.8a2.1 2.1 0 1 0 4.2 0a2.1 2.1 0 1 0 -4.2 0zM159.1 434.7a2.1 2.1 0 1 0 4.2 0a2.1 2.1 0 1 0 -4.2 0zM159.4 433.4a2.1 2.1 0 1 0 4.2 0a2.1 2.1 0 1 0 -4.2 0zM159.7 433.4a2.1 2.1 0 1 0 4.2 0a2.1 2.1 0 1 0 -4.2 0zM159.9 431.6a2.1 2.1 0 1 0 4.2 0a2.1 2.1 0 1 0 -4.2 0zM160.2 431.5a2.1 2.1 0 1 0 4.2 0a2.1 2.1 0 1 0 -4.2 0zM160.5 430.4a2.1 2.1 0 1 0 4.2 0a2.1 2.1 0 1 0 -4.2 0zM160.7 428.4a2.1 2.1 0 1 0 4.2 0a2.1 2.1 0 1 0 -4.2 0zM161 427.6a2.1 2.1 0 1 0 4.2 0a2.1 2.1 0 1 0 -4.2 0zM161.3 427a2.1 2.1 0 1 0 4.2 0a2.1 2.1 0 1 0 -4.2 0zM161.4 426.2a2.1 2.1 0 1 0 4.2 0a2.1 2.1 0 1 0 -4.2 0zM161.6 424.2a2.1 2.1 0 1 0 4.2 0a2.1 2.1 0 1 0 -4.2 0zM161.7 424.4a2.1 2.1 0 1 0 4.2 0a2.1 2.1 0 1 0 -4.2 0zM161.9 422a2.1 2.1 0 1 0 4.2 0a2.1 2.1 0 1 0 -4.2 0zM162 421.4a2.1 2.1 0 1 0 4.2 0a2.1 2.1 0 1 0 -4.2 0zM162.2 421.1a2.1 2.1 0 1 0 4.2 0a2.1 2.1 0 1 0 -4.2 0zM162.3 418.7a2.1 2.1 0 1 0 4.2 0a2.1 2.1 0 1 0 -4.2 0zM162.5 419.1a2.1 2.1 0 1 0 4.2 0a2.1 2.1 0 1 0 -4.2 0zM162.6 417.3a2.1 2.1 0 1 0 4.2 0a2.1 2.1 0 1 0 -4.2 0zM162.8 416.6a2.1 2.1 0 1 0 4.2 0a2.1 2.1 0 1 0 -4.2 0zM162.9 414.1a2.1 2.1 0 1 0 4.2 0a2.1 2.1 0 1 0 -4.2 0zM163.1 413.1a2.1 2.1 0 1 0 4.2 0a2.1 2.1 0 1 0 -4.2 0zM163.2 413.3a2.1 2.1 0 1 0 4.2 0a2.1 2.1 0 1 0 -4.2 0zM163.4 412.7a2.1 2.1 0 1 0 4.2 0a2.1 2.1 0 1 0 -4.2 0zM163.5 410.8a2.1 2.1 0 1 0 4.2 0a2.1 2.1 0 1 0 -4.2 0zM163.7 409.2a2.1 2.1 0 1 0 4.2 0a2.1 2.1 0 1 0 -4.2 0zM163.8 410.2a2.1 2.1 0 1 0 4.2 0a2.1 2.1 0 1 0 -4.2 0zM164 408.1a2.1 2.1 0 1 0 4.2 0a2.1 2.1 0 1 0 -4.2 0zM164.1 407.7a2.1 2.1 0 1 0 4.2 0a2.1 2.1 0 1 0 -4.2 0zM164.2 406.5a2.1 2.1 0 1 0 4.2 0a2.1 2.1 0 1 0 -4.2 0zM164.3 404.6a2.1 2.1 0 1 0 4.2 0a2.1 2.1 0 1 0 -4.2 0zM164.5 404.1a2.1 2.1 0 1 0 4.2 0a2.1 2.1 0 1 0 -4.2 0zM164.6 402.9a2.1 2.1 0 1 0 4.2 0a2.1 2.1 0 1 0 -4.2 0zM164.7 402.2a2.1 2.1 0 1 0 4.2 0a2.1 2.1 0 1 0 -4.2 0zM164.8 400.8a2.1 2.1 0 1 0 4.2 0a2.1 2.1 0 1 0 -4.2 0zM165 400.1a2.1 2.1 0 1 0 4.2 0a2.1 2.1 0 1 0 -4.2 0zM165.1 399.9a2.1 2.1 0 1 0 4.2 0a2.1 2.1 0 1 0 -4.2 0zM165.2 397a2.1 2.1 0 1 0 4.2 0a2.1 2.1 0 1 0 -4.2 0zM165.3 398.1a2.1 2.1 0 1 0 4.2 0a2.1 2.1 0 1 0 -4.2 0zM165.5 395.4a2.1 2.1 0 1 0 4.2 0a2.1 2.1 0 1 0 -4.2 0zM165.6 393.3a2.1 2.1 0 1 0 4.2 0a2.1 2.1 0 1 0 -4.2 0zM165.7 393.7a2.1 2.1 0 1 0 4.2 0a2.1 2.1 0 1 0 -4.2 0zM165.9 393.1a2.1 2.1 0 1 0 4.2 0a2.1 2.1 0 1 0 -4.2 0zM166 390.8a2.1 2.1 0 1 0 4.2 0a2.1 2.1 0 1 0 -4.2 0zM166.1 391a2.1 2.1 0 1 0 4.2 0a2.1 2.1 0 1 0 -4.2 0zM166.3 390.4a2.1 2.1 0 1 0 4.2 0a2.1 2.1 0 1 0 -4.2 0zM166.5 388.4a2.1 2.1 0 1 0 4.2 0a2.1 2.1 0 1 0 -4.2 0zM166.6 388.2a2.1 2.1 0 1 0 4.2 0a2.1 2.1 0 1 0 -4.2 0zM166.8 386.9a2.1 2.1 0 1 0 4.2 0a2.1 2.1 0 1 0 -4.2 0zM167 385.2a2.1 2.1 0 1 0 4.2 0a2.1 2.1 0 1 0 -4.2 0zM167.1 384.9a2.1 2.1 0 1 0 4.2 0a2.1 2.1 0 1 0 -4.2 0zM167.3 383.6a2.1 2.1 0 1 0 4.2 0a2.1 2.1 0 1 0 -4.2 0zM167.5 382.6a2.1 2.1 0 1 0 4.2 0a2.1 2.1 0 1 0 -4.2 0zM167.6 382.3a2.1 2.1 0 1 0 4.2 0a2.1 2.1 0 1 0 -4.2 0zM167.8 380.7a2.1 2.1 0 1 0 4.2 0a2.1 2.1 0 1 0 -4.2 0zM168 379.6a2.1 2.1 0 1 0 4.2 0a2.1 2.1 0 1 0 -4.2 0zM168.1 378.5a2.1 2.1 0 1 0 4.2 0a2.1 2.1 0 1 0 -4.2 0zM168.4 377.3a2.1 2.1 0 1 0 4.2 0a2.1 2.1 0 1 0 -4.2 0zM168.7 375.4a2.1 2.1 0 1 0 4.2 0a2.1 2.1 0 1 0 -4.2 0zM169 375.8a2.1 2.1 0 1 0 4.2 0a2.1 2.1 0 1 0 -4.2 0zM169.2 374.7a2.1 2.1 0 1 0 4.2 0a2.1 2.1 0 1 0 -4.2 0zM169.5 373.9a2.1 2.1 0 1 0 4.2 0a2.1 2.1 0 1 0 -4.2 0zM169.8 373.3a2.1 2.1 0 1 0 4.2 0a2.1 2.1 0 1 0 -4.2 0zM170.1 371.6a2.1 2.1 0 1 0 4.2 0a2.1 2.1 0 1 0 -4.2 0zM170.3 371.2a2.1 2.1 0 1 0 4.2 0a2.1 2.1 0 1 0 -4.2 0zM170.6 369.8a2.1 2.1 0 1 0 4.2 0a2.1 2.1 0 1 0 -4.2 0zM170.9 369.1a2.1 2.1 0 1 0 4.2 0a2.1 2.1 0 1 0 -4.2 0zM171.6 368.8a2.1 2.1 0 1 0 4.2 0a2.1 2.1 0 1 0 -4.2 0zM172.2 366.3a2.1 2.1 0 1 0 4.2 0a2.1 2.1 0 1 0 -4.2 0zM172.9 367.4a2.1 2.1 0 1 0 4.2 0a2.1 2.1 0 1 0 -4.2 0zM173.6 365.7a2.1 2.1 0 1 0 4.2 0a2.1 2.1 0 1 0 -4.2 0zM174.2 365.7a2.1 2.1 0 1 0 4.2 0a2.1 2.1 0 1 0 -4.2 0zM174.9 364.4a2.1 2.1 0 1 0 4.2 0a2.1 2.1 0 1 0 -4.2 0zM175.6 362.9a2.1 2.1 0 1 0 4.2 0a2.1 2.1 0 1 0 -4.2 0zM176.2 362.4a2.1 2.1 0 1 0 4.2 0a2.1 2.1 0 1 0 -4.2 0zM177.2 362.9a2.1 2.1 0 1 0 4.2 0a2.1 2.1 0 1 0 -4.2 0zM178.2 361.3a2.1 2.1 0 1 0 4.2 0a2.1 2.1 0 1 0 -4.2 0zM179.2 362.8a2.1 2.1 0 1 0 4.2 0a2.1 2.1 0 1 0 -4.2 0zM180.1 361.7a2.1 2.1 0 1 0 4.2 0a2.1 2.1 0 1 0 -4.2 0zM181.1 361.1a2.1 2.1 0 1 0 4.2 0a2.1 2.1 0 1 0 -4.2 0zM182.1 361.5a2.1 2.1 0 1 0 4.2 0a2.1 2.1 0 1 0 -4.2 0zM183.1 361.7a2.1 2.1 0 1 0 4.2 0a2.1 2.1 0 1 0 -4.2 0zM184 361.5a2.1 2.1 0 1 0 4.2 0a2.1 2.1 0 1 0 -4.2 0zM185 360.1a2.1 2.1 0 1 0 4.2 0a2.1 2.1 0 1 0 -4.2 0zM186 360.6a2.1 2.1 0 1 0 4.2 0a2.1 2.1 0 1 0 -4.2 0zM186.9 360.4a2.1 2.1 0 1 0 4.2 0a2.1 2.1 0 1 0 -4.2 0zM187.9 360a2.1 2.1 0 1 0 4.2 0a2.1 2.1 0 1 0 -4.2 0zM189 360.2a2.1 2.1 0 1 0 4.2 0a2.1 2.1 0 1 0 -4.2 0zM190 360.9a2.1 2.1 0 1 0 4.2 0a2.1 2.1 0 1 0 -4.2 0zM191 360.4a2.1 2.1 0 1 0 4.2 0a2.1 2.1 0 1 0 -4.2 0zM192 360.7a2.1 2.1 0 1 0 4.2 0a2.1 2.1 0 1 0 -4.2 0zM193 360.8a2.1 2.1 0 1 0 4.2 0a2.1 2.1 0 1 0 -4.2 0zM194 359.9a2.1 2.1 0 1 0 4.2 0a2.1 2.1 0 1 0 -4.2 0zM195 360.4a2.1 2.1 0 1 0 4.2 0a2.1 2.1 0 1 0 -4.2 0zM196 360.5a2.1 2.1 0 1 0 4.2 0a2.1 2.1 0 1 0 -4.2 0zM197 359.6a2.1 2.1 0 1 0 4.2 0a2.1 2.1 0 1 0 -4.2 0zM198 359.9a2.1 2.1 0 1 0 4.2 0a2.1 2.1 0 1 0 -4.2 0zM199 360.4a2.1 2.1 0 1 0 4.2 0a2.1 2.1 0 1 0 -4.2 0zM200 359.5a2.1 2.1 0 1 0 4.2 0a2.1 2.1 0 1 0 -4.2 0zM201 359.8a2.1 2.1 0 1 0 4.2 0a2.1 2.1 0 1 0 -4.2 0zM202 359.7a2.1 2.1 0 1 0 4.2 0a2.1 2.1 0 1 0 -4.2 0zM203 360a2.1 2.1 0 1 0 4.2 0a2.1 2.1 0 1 0 -4.2 0zM204.1 360a2.1 2.1 0 1 0 4.2 0a2.1 2.1 0 1 0 -4.2 0zM205.1 359.3a2.1 2.1 0 1 0 4.2 0a2.1 2.1 0 1 0 -4.2 0zM206.1 358.4a2.1 2.1 0 1 0 4.2 0a2.1 2.1 0 1 0 -4.2 0zM207.1 360.9a2.1 2.1 0 1 0 4.2 0a2.1 2.1 0 1 0 -4.2 0zM208.1 359.7a2.1 2.1 0 1 0 4.2 0a2.1 2.1 0 1 0 -4.2 0zM209.1 359.9a2.1 2.1 0 1 0 4.2 0a2.1 2.1 0 1 0 -4.2 0zM210.1 360.2a2.1 2.1 0 1 0 4.2 0a2.1 2.1 0 1 0 -4.2 0zM211.1 359.4a2.1 2.1 0 1 0 4.2 0a2.1 2.1 0 1 0 -4.2 0zM212.1 359.6a2.1 2.1 0 1 0 4.2 0a2.1 2.1 0 1 0 -4.2 0zM213.1 359.6a2.1 2.1 0 1 0 4.2 0a2.1 2.1 0 1 0 -4.2 0zM214.1 359.4a2.1 2.1 0 1 0 4.2 0a2.1 2.1 0 1 0 -4.2 0zM215.1 361a2.1 2.1 0 1 0 4.2 0a2.1 2.1 0 1 0 -4.2 0zM216.1 360.4a2.1 2.1 0 1 0 4.2 0a2.1 2.1 0 1 0 -4.2 0zM217.1 360.2a2.1 2.1 0 1 0 4.2 0a2.1 2.1 0 1 0 -4.2 0zM218.1 360.3a2.1 2.1 0 1 0 4.2 0a2.1 2.1 0 1 0 -4.2 0zM219.2 359.9a2.1 2.1 0 1 0 4.2 0a2.1 2.1 0 1 0 -4.2 0zM220.2 359.6a2.1 2.1 0 1 0 4.2 0a2.1 2.1 0 1 0 -4.2 0zM221.2 359.8a2.1 2.1 0 1 0 4.2 0a2.1 2.1 0 1 0 -4.2 0zM222.2 360.1a2.1 2.1 0 1 0 4.2 0a2.1 2.1 0 1 0 -4.2 0zM223.2 359.1a2.1 2.1 0 1 0 4.2 0a2.1 2.1 0 1 0 -4.2 0zM224.2 359.7a2.1 2.1 0 1 0 4.2 0a2.1 2.1 0 1 0 -4.2 0zM225.2 359.5a2.1 2.1 0 1 0 4.2 0a2.1 2.1 0 1 0 -4.2 0zM226.2 360a2.1 2.1 0 1 0 4.2 0a2.1 2.1 0 1 0 -4.2 0zM227.2 359.5a2.1 2.1 0 1 0 4.2 0a2.1 2.1 0 1 0 -4.2 0zM228.2 358.1a2.1 2.1 0 1 0 4.2 0a2.1 2.1 0 1 0 -4.2 0zM229.2 359.6a2.1 2.1 0 1 0 4.2 0a2.1 2.1 0 1 0 -4.2 0zM230.2 359.6a2.1 2.1 0 1 0 4.2 0a2.1 2.1 0 1 0 -4.2 0zM231.2 359.3a2.1 2.1 0 1 0 4.2 0a2.1 2.1 0 1 0 -4.2 0zM232.2 359.1a2.1 2.1 0 1 0 4.2 0a2.1 2.1 0 1 0 -4.2 0zM233.2 359.5a2.1 2.1 0 1 0 4.2 0a2.1 2.1 0 1 0 -4.2 0zM234.2 359a2.1 2.1 0 1 0 4.2 0a2.1 2.1 0 1 0 -4.2 0zM235.3 359.9a2.1 2.1 0 1 0 4.2 0a2.1 2.1 0 1 0 -4.2 0zM236.3 359.1a2.1 2.1 0 1 0 4.2 0a2.1 2.1 0 1 0 -4.2 0zM237.3 359.3a2.1 2.1 0 1 0 4.2 0a2.1 2.1 0 1 0 -4.2 0zM238.3 358.5a2.1 2.1 0 1 0 4.2 0a2.1 2.1 0 1 0 -4.2 0zM239.3 358.9a2.1 2.1 0 1 0 4.2 0a2.1 2.1 0 1 0 -4.2 0zM240.3 358.8a2.1 2.1 0 1 0 4.2 0a2.1 2.1 0 1 0 -4.2 0zM241.3 359.1a2.1 2.1 0 1 0 4.2 0a2.1 2.1 0 1 0 -4.2 0zM242.3 358.5a2.1 2.1 0 1 0 4.2 0a2.1 2.1 0 1 0 -4.2 0zM243.3 359.3a2.1 2.1 0 1 0 4.2 0a2.1 2.1 0 1 0 -4.2 0zM244.3 359a2.1 2.1 0 1 0 4.2 0a2.1 2.1 0 1 0 -4.2 0zM245.3 359.8a2.1 2.1 0 1 0 4.2 0a2.1 2.1 0 1 0 -4.2 0zM246.3 358.9a2.1 2.1 0 1 0 4.2 0a2.1 2.1 0 1 0 -4.2 0zM247.3 359.2a2.1 2.1 0 1 0 4.2 0a2.1 2.1 0 1 0 -4.2 0zM248.3 359.3a2.1 2.1 0 1 0 4.2 0a2.1 2.1 0 1 0 -4.2 0zM249.3 359.1a2.1 2.1 0 1 0 4.2 0a2.1 2.1 0 1 0 -4.2 0zM250.4 358.6a2.1 2.1 0 1 0 4.2 0a2.1 2.1 0 1 0 -4.2 0zM251.4 359.6a2.1 2.1 0 1 0 4.2 0a2.1 2.1 0 1 0 -4.2 0zM252.4 358.1a2.1 2.1 0 1 0 4.2 0a2.1 2.1 0 1 0 -4.2 0zM253.4 359.1a2.1 2.1 0 1 0 4.2 0a2.1 2.1 0 1 0 -4.2 0zM254.4 358.7a2.1 2.1 0 1 0 4.2 0a2.1 2.1 0 1 0 -4.2 0zM255.4 358.6a2.1 2.1 0 1 0 4.2 0a2.1 2.1 0 1 0 -4.2 0zM256.4 357.7a2.1 2.1 0 1 0 4.2 0a2.1 2.1 0 1 0 -4.2 0zM257.4 358.1a2.1 2.1 0 1 0 4.2 0a2.1 2.1 0 1 0 -4.2 0zM258.4 358a2.1 2.1 0 1 0 4.2 0a2.1 2.1 0 1 0 -4.2 0zM259.4 358.8a2.1 2.1 0 1 0 4.2 0a2.1 2.1 0 1 0 -4.2 0zM260.4 359.7a2.1 2.1 0 1 0 4.2 0a2.1 2.1 0 1 0 -4.2 0zM261.4 358.9a2.1 2.1 0 1 0 4.2 0a2.1 2.1 0 1 0 -4.2 0zM262.4 358.8a2.1 2.1 0 1 0 4.2 0a2.1 2.1 0 1 0 -4.2 0zM263.4 358.8a2.1 2.1 0 1 0 4.2 0a2.1 2.1 0 1 0 -4.2 0zM264.4 358.6a2.1 2.1 0 1 0 4.2 0a2.1 2.1 0 1 0 -4.2 0zM265.5 358.6a2.1 2.1 0 1 0 4.2 0a2.1 2.1 0 1 0 -4.2 0zM266.5 358.6a2.1 2.1 0 1 0 4.2 0a2.1 2.1 0 1 0 -4.2 0zM267.5 358.6a2.1 2.1 0 1 0 4.2 0a2.1 2.1 0 1 0 -4.2 0zM268.5 358.3a2.1 2.1 0 1 0 4.2 0a2.1 2.1 0 1 0 -4.2 0zM269.5 358.3a2.1 2.1 0 1 0 4.2 0a2.1 2.1 0 1 0 -4.2 0zM270.5 359.5a2.1 2.1 0 1 0 4.2 0a2.1 2.1 0 1 0 -4.2 0zM271.5 358.5a2.1 2.1 0 1 0 4.2 0a2.1 2.1 0 1 0 -4.2 0zM272.5 358.9a2.1 2.1 0 1 0 4.2 0a2.1 2.1 0 1 0 -4.2 0z"/>
<polyline fill="none" stroke="#4cec6e" stroke-width="3" stroke-linejoin="round" stroke-linecap="round" points="60.7,443.5 154.8,443.2 157.4,441.6 161.7,434.6 165.1,415.3 167.7,396.1 169.4,382.1 171.9,371.6 177.3,365.5 185.8,362 203.4,360.2 229.7,358.5 274.6,356.8"/>
<path fill="#4cec6e" d="M60.7 446.4l2.4 -4.4h-4.8zM61.7 446.2l2.4 -4.4h-4.8zM62.7 446.1l2.4 -4.4h-4.8zM63.7 445.2l2.4 -4.4h-4.8zM64.7 446.2l2.4 -4.4h-4.8zM65.7 445.3l2.4 -4.4h-4.8zM66.7 445.4l2.4 -4.4h-4.8zM67.7 445.8l2.4 -4.4h-4.8zM68.7 446.6l2.4 -4.4h-4.8zM69.7 446.6l2.4 -4.4h-4.8zM70.7 446.6l2.4 -4.4h-4.8zM71.7 446.1l2.4 -4.4h-4.8zM72.7 446.2l2.4 -4.4h-4.8zM73.7 446.3l2.4 -4.4h-4.8zM74.7 445l2.4 -4.4h-4.8zM75.7 445.8l2.4 -4.4h-4.8zM76.7 445.7l2.4 -4.4h-4.8zM77.7 445.7l2.4 -4.4h-4.8zM78.7 446l2.4 -4.4h-4.8zM79.7 446.1l2.4 -4.4h-4.8zM80.7 445.4l2.4 -4.4h-4.8zM81.7 444.8l2.4 -4.4h-4.8zM82.7 445.8l2.4 -4.4h-4.8zM83.7 445.5l2.4 -4.4h-4.8zM84.7 445.8l2.4 -4.4h-4.8zM85.7 446.3l2.4 -4.4h-4.8zM86.7 446.4l2.4 -4.4h-4.8zM87.7 446.1l2.4 -4.4h-4.8zM88.7 445.3l2.4 -4.4h-4.8zM89.7 446l2.4 -4.4h-4.8zM90.7 445.2l2.4 -4.4h-4.8zM91.7 446.6l2.4 -4.4h-4.8zM92.7 445.8l2.4 -4.4h-4.8zM93.7 445.3l2.4 -4.4h-4.8zM94.7 446.3l2.4 -4.4h-4.8zM95.7 445.2l2.4 -4.4h-4.8zM96.7 446.6l2.4 -4.4h-4.8zM97.7 445.9l2.4 -4.4h-4.8zM98.7 445.6l2.4 -4.4h-4.8zM99.7 446.6l2.4 -4.4h-4.8zM100.7 445.8l2.4 -4.4h-4.8zM101.8 445.3l2.4 -4.4h-4.8zM102.8 445.9l2.4 -4.4h-4.8zM103.8 445.9l2.4 -4.4h-4.8zM104.8 445.2l2.4 -4.4h-4.8zM105.8 445.5l2.4 -4.4h-4.8zM106.8 446.6l2.4 -4.4h-4.8zM107.8 445.9l2.4 -4.4h-4.8zM108.8 445.4l2.4 -4.4h-4.8zM109.8 446.3l2.4 -4.4h-4.8zM110.8 445.7l2.4 -4.4h-4.8zM111.8 445.1l2.4 -4.4h-4.8zM112.8 445.6l2.4 -4.4h-4.8zM113.8 445.5l2.4 -4.4h-4.8zM114.8 446l2.4 -4.4h-4.8zM115.8 445.4l2.4 -4.4h-4.8zM116.8 445.2l2.4 -4.4h-4.8zM117.8 445.8l2.4 -4.4h-4.8zM118.8 444.4l2.4 -4.4h-4.8zM119.8 445.6l2.4 -4.4h-4.8zM120.8 445.3l2.4 -4.4h-4.8zM121.8 444.8l2.4 -4.4h-4.8zM122.8 446l2.4 -4.4h-4.8zM123.8 445.8l2.4 -4.4h-4.8zM124.8 445.3l2.4 -4.4h-4.8zM125.8 446.2l2.4 -4.4h-4.8zM126.8 444.5l2.4 -4.4h-4.8zM127.8 445.2l2.4 -4.4h-4.8zM128.8 445.9l2.4 -4.4h-4.8zM129.8 446.6l2.4 -4.4h-4.8zM130.8 445l2.4 -4.4h-4.8zM131.8 446.4l2.4 -4.4h-4.8zM132.8 445.1l2.4 -4.4h-4.8zM133.8 445.4l2.4 -4.4h-4.8zM134.8 445.4l2.4 -4.4h-4.8zM135.8 445.9l2.4 -4.4h-4.8zM136.8 445.6l2.4 -4.4h-4.8zM137.8 445.9l2.4 -4.4h-4.8zM138.8 445.9l2.4 -4.4h-4.8zM139.8 446.1l2.4 -4.4h-4.8zM140.8 445.8l2.4 -4.4h-4.8zM141.8 445.7l2.4 -4.4h-4.8zM142.8 446l2.4 -4.4h-4.8zM143.8 445.8l2.4 -4.4h-4.8zM144.8 446.1l2.4 -4.4h-4.8zM145.8 445.6l2.4 -4.4h-4.8zM146.8 445.4l2.4 -4.4h-4.8zM147.8 446.1l2.4 -4.4h-4.8zM148.8 444.7l2.4 -4.4h-4.8zM149.8 445.9l2.4 -4.4h-4.8zM150.8 445.3l2.4 -4.4h-4.8zM151.8 445.5l2.4 -4.4h-4.8zM152.8 445.5l2.4 -4.4h-4.8zM153.8 444.8l2.4 -4.4h-4.8zM154.8 446.2l2.4 -4.4h-4.8zM155.7 446.1l2.4 -4.4h-4.8zM156.5 444.7l2.4 -4.4h-4.8zM157.4 444.4l2.4 -4.4h-4.8zM157.9 442.6l2.4 -4.4h-4.8zM158.5 442l2.4 -4.4h-4.8zM159 441.2l2.4 -4.4h-4.8zM159.5 440.1l2.4 -4.4h-4.8zM160.1 440.7l2.4 -4.4h-4.8zM160.6 438.9l2.4 -4.4h-4.8zM161.1 437.4l2.4 -4.4h-4.8zM161.7 437l2.4 -4.4h-4.8zM161.8 436.2l2.4 -4.4h-4.8zM162 433.6l2.4 -4.4h-4.8zM162.2 434.4l2.4 -4.4h-4.8zM162.4 433.4l2.4 -4.4h-4.8zM162.6 431l2.4 -4.4h-4.8zM162.7 431.1l2.4 -4.4h-4.8zM162.9 430l2.4 -4.4h-4.8zM163.1 428.7l2.4 -4.4h-4.8zM163.3 427.9l2.4 -4.4h-4.8zM163.5 427.2l2.4 -4.4h-4.8zM163.6 426.1l2.4 -4.4h-4.8zM163.8 425.1l2.4 -4.4h-4.8zM164 424.3l2.4 -4.4h-4.8zM164.2 423.3l2.4 -4.4h-4.8zM164.4 421.8l2.4 -4.4h-4.8zM164.5 420.1l2.4 -4.4h-4.8zM164.7 420.4l2.4 -4.4h-4.8zM164.9 418.3l2.4 -4.4h-4.8zM165.1 418.2l2.4 -4.4h-4.8zM165.2 416.9l2.4 -4.4h-4.8zM165.4 416.1l2.4 -4.4h-4.8zM165.5 413.8l2.4 -4.4h-4.8zM165.6 414.7l2.4 -4.4h-4.8zM165.8 413.4l2.4 -4.4h-4.8zM165.9 411.7l2.4 -4.4h-4.8zM166 411.4l2.4 -4.4h-4.8zM166.2 409.9l2.4 -4.4h-4.8zM166.3 409.1l2.4 -4.4h-4.8zM166.4 406.9l2.4 -4.4h-4.8zM166.6 406.7l2.4 -4.4h-4.8zM166.7 406l2.4 -4.4h-4.8zM166.8 404.5l2.4 -4.4h-4.8zM167 404.3l2.4 -4.4h-4.8zM167.1 403.1l2.4 -4.4h-4.8zM167.2 401.5l2.4 -4.4h-4.8zM167.4 400l2.4 -4.4h-4.8zM167.5 399.6l2.4 -4.4h-4.8zM167.7 398.8l2.4 -4.4h-4.8zM167.8 397.4l2.4 -4.4h-4.8zM167.9 396.8l2.4 -4.4h-4.8zM168 395.7l2.4 -4.4h-4.8zM168.1 393.7l2.4 -4.4h-4.8zM168.3 393.2l2.4 -4.4h-4.8zM168.4 391.6l2.4 -4.4h-4.8zM168.5 391.1l2.4 -4.4h-4.8zM168.6 389.2l2.4 -4.4h-4.8zM168.8 389.3l2.4 -4.4h-4.8zM168.9 388.1l2.4 -4.4h-4.8zM169 386.7l2.4 -4.4h-4.8zM169.1 387.1l2.4 -4.4h-4.8zM169.2 385.3l2.4 -4.4h-4.8zM169.4 384.8l2.4 -4.4h-4.8zM169.6 383.2l2.4 -4.4h-4.8zM169.9 382.4l2.4 -4.4h-4.8zM170.1 381l2.4 -4.4h-4.8zM170.4 380.4l2.4 -4.4h-4.8zM170.6 379l2.4 -4.4h-4.8zM170.9 378.8l2.4 -4.4h-4.8zM171.2 377.6l2.4 -4.4h-4.8zM171.4 376.8l2.4 -4.4h-4.8zM171.7 376.1l2.4 -4.4h-4.8zM171.9 373.8l2.4 -4.4h-4.8zM172.6 372.5l2.4 -4.4h-4.8zM173.3 372.8l2.4 -4.4h-4.8zM173.9 371.9l2.4 -4.4h-4.8zM174.6 370.8l2.4 -4.4h-4.8zM175.3 370.3l2.4 -4.4h-4.8zM175.9 370.2l2.4 -4.4h-4.8zM176.6 367.6l2.4 -4.4h-4.8zM177.3 366.8l2.4 -4.4h-4.8zM178.2 366.9l2.4 -4.4h-4.8zM179.2 367l2.4 -4.4h-4.8zM180.1 367.3l2.4 -4.4h-4.8zM181.1 366.9l2.4 -4.4h-4.8zM182 366.2l2.4 -4.4h-4.8zM183 365l2.4 -4.4h-4.8zM183.9 366l2.4 -4.4h-4.8zM184.9 364.9l2.4 -4.4h-4.8zM185.8 364.2l2.4 -4.4h-4.8zM186.9 364l2.4 -4.4h-4.8zM187.9 364.8l2.4 -4.4h-4.8zM188.9 364.5l2.4 -4.4h-4.8zM190 364.3l2.4 -4.4h-4.8zM191 364.4l2.4 -4.4h-4.8zM192 364.2l2.4 -4.4h-4.8zM193.1 364.6l2.4 -4.4h-4.8zM194.1 363l2.4 -4.4h-4.8zM195.1 364l2.4 -4.4h-4.8zM196.1 363.6l2.4 -4.4h-4.8zM197.2 363.9l2.4 -4.4h-4.8zM198.2 363.2l2.4 -4.4h-4.8zM199.2 363.7l2.4 -4.4h-4.8zM200.3 363.7l2.4 -4.4h-4.8zM201.3 363l2.4 -4.4h-4.8zM202.3 362.5l2.4 -4.4h-4.8zM203.4 362.5l2.4 -4.4h-4.8zM204.4 362.4l2.4 -4.4h-4.8zM205.4 362.1l2.4 -4.4h-4.8zM206.4 363.2l2.4 -4.4h-4.8zM207.4 363.3l2.4 -4.4h-4.8zM208.4 361.1l2.4 -4.4h-4.8zM209.4 362l2.4 -4.4h-4.8zM210.5 362.1l2.4 -4.4h-4.8zM211.5 362.8l2.4 -4.4h-4.8zM212.5 362.6l2.4 -4.4h-4.8zM213.5 361.6l2.4 -4.4h-4.8zM214.5 361.8l2.4 -4.4h-4.8zM215.5 361.8l2.4 -4.4h-4.8zM216.5 361.7l2.4 -4.4h-4.8zM217.5 362.1l2.4 -4.4h-4.8zM218.5 361.6l2.4 -4.4h-4.8zM219.6 361.4l2.4 -4.4h-4.8zM220.6 361.4l2.4 -4.4h-4.8zM221.6 361.4l2.4 -4.4h-4.8zM222.6 360.3l2.4 -4.4h-4.8zM223.6 361.4l2.4 -4.4h-4.8zM224.6 361l2.4 -4.4h-4.8zM225.6 360.4l2.4 -4.4h-4.8zM226.6 360.8l2.4 -4.4h-4.8zM227.7 361l2.4 -4.4h-4.8zM228.7 360.6l2.4 -4.4h-4.8zM229.7 360.3l2.4 -4.4h-4.8zM230.7 360.7l2.4 -4.4h-4.8zM231.7 360.3l2.4 -4.4h-4.8zM232.7 361.3l2.4 -4.4h-4.8zM233.8 362.4l2.4 -4.4h-4.8zM234.8 361.4l2.4 -4.4h-4.8zM235.8 361.2l2.4 -4.4h-4.8zM236.8 360.4l2.4 -4.4h-4.8zM237.8 360.2l2.4 -4.4h-4.8zM238.9 360.5l2.4 -4.4h-4.8zM239.9 360.9l2.4 -4.4h-4.8zM240.9 360.5l2.4 -4.4h-4.8zM241.9 360.4l2.4 -4.4h-4.8zM243 360.3l2.4 -4.4h-4.8zM244 360.9l2.4 -4.4h-4.8zM245 359.7l2.4 -4.4h-4.8zM246 360.4l2.4 -4.4h-4.8zM247 359.7l2.4 -4.4h-4.8zM248.1 359.6l2.4 -4.4h-4.8zM249.1 360.1l2.4 -4.4h-4.8zM250.1 359.9l2.4 -4.4h-4.8zM251.1 361.1l2.4 -4.4h-4.8zM252.1 360.5l2.4 -4.4h-4.8zM253.2 359.8l2.4 -4.4h-4.8zM254.2 359.8l2.4 -4.4h-4.8zM255.2 358.6l2.4 -4.4h-4.8zM256.2 359.9l2.4 -4.4h-4.8zM257.2 359.6l2.4 -4.4h-4.8zM258.3 360.8l2.4 -4.4h-4.8zM259.3 359.9l2.4 -4.4h-4.8zM260.3 360.4l2.4 -4.4h-4.8zM261.3 359.3l2.4 -4.4h-4.8zM262.3 359.1l2.4 -4.4h-4.8zM263.4 360.4l2.4 -4.4h-4.8zM264.4 359.5l2.4 -4.4h-4.8zM265.4 359.7l2.4 -4.4h-4.8zM266.4 359.4l2.4 -4.4h-4.8zM267.5 360.4l2.4 -4.4h-4.8zM268.5 359l2.4 -4.4h-4.8zM269.5 359.7l2.4 -4.4h-4.8zM270.5 359.2l2.4 -4.4h-4.8zM271.5 358.5l2.4 -4.4h-4.8zM272.6 359.7l2.4 -4.4h-4.8zM273.6 360.2l2.4 -4.4h-4.8zM274.6 359.5l2.4 -4.4h-4.8z"/>
<polyline fill="none" stroke="#ebbd2b" stroke-width="6" stroke-linejoin="round" stroke-linecap="round" points="60.7,356.8 161.2,357.6 167.7,360.2 171.9,357.6 274.6,357.6"/>
<path fill="#ebbd2b" d="M58 356.4l5 -2.8v5.5zM59 357.9l5 -2.8v5.5zM60 355.3l5 -2.8v5.5zM61 357.3l5 -2.8v5.5zM62 355.5l5 -2.8v5.5zM63 357l5 -2.8v5.5zM64 357.3l5 -2.8v5.5zM65 358l5 -2.8v5.5zM66 359.8l5 -2.8v5.5zM67 356l5 -2.8v5.5zM68 357.9l5 -2.8v5.5zM69 355.8l5 -2.8v5.5zM70 353.5l5 -2.8v5.5zM71 356.6l5 -2.8v5.5zM72 356.1l5 -2.8v5.5zM73 357.9l5 -2.8v5.5zM74 357.3l5 -2.8v5.5zM75 359.9l5 -2.8v5.5zM76 358.8l5 -2.8v5.5zM77.1 358.9l5 -2.8v5.5zM78.1 357.6l5 -2.8v5.5zM79.1 354.9l5 -2.8v5.5zM80.1 355.6l5 -2.8v5.5zM81.1 355.6l5 -2.8v5.5zM82.1 356.3l5 -2.8v5.5zM83.1 357.2l5 -2.8v5.5zM84.1 355.7l5 -2.8v5.5zM85.1 356.9l5 -2.8v5.5zM86.1 356.4l5 -2.8v5.5zM87.1 358.1l5 -2.8v5.5zM88.1 355.9l5 -2.8v5.5zM89.1 355.9l5 -2.8v5.5zM90.1 356.3l5 -2.8v5.5zM91.1 356.7l5 -2.8v5.5zM92.1 355.3l5 -2.8v5.5zM93.1 356.7l5 -2.8v5.5zM94.1 356.5l5 -2.8v5.5zM95.1 357.7l5 -2.8v5.5zM96.2 357.4l5 -2.8v5.5zM97.2 356.4l5 -2.8v5.5zM98.2 358l5 -2.8v5.5zM99.2 357.1l5 -2.8v5.5zM100.2 358.4l5 -2.8v5.5zM101.2 356.2l5 -2.8v5.5zM102.2 357.9l5 -2.8v5.5zM103.2 355.4l5 -2.8v5.5zM104.2 356.3l5 -2.8v5.5zM105.2 358.3l5 -2.8v5.5zM106.2 358.4l5 -2.8v5.5zM107.2 356.8l5 -2.8v5.5zM108.2 357.6l5 -2.8v5.5zM109.2 356.3l5 -2.8v5.5zM110.2 356.1l5 -2.8v5.5zM111.2 357.4l5 -2.8v5.5zM112.2 356.6l5 -2.8v5.5zM113.2 360.7l5 -2.8v5.5zM114.2 359.6l5 -2.8v5.5zM115.3 357.4l5 -2.8v5.5zM116.3 359.9l5 -2.8v5.5zM117.3 358.6l5 -2.8v5.5zM118.3 356.2l5 -2.8v5.5zM119.3 356.6l5 -2.8v5.5zM120.3 356.2l5 -2.8v5.5zM121.3 359.3l5 -2.8v5.5zM122.3 354.8l5 -2.8v5.5zM123.3 356.8l5 -2.8v5.5zM124.3 356.9l5 -2.8v5.5zM125.3 357.9l5 -2.8v5.5zM126.3 356.2l5 -2.8v5.5zM127.3 358.8l5 -2.8v5.5zM128.3 354.8l5 -2.8v5.5zM129.3 357.6l5 -2.8v5.5zM130.3 356.5l5 -2.8v5.5zM131.3 357.6l5 -2.8v5.5zM132.3 358l5 -2.8v5.5zM133.3 357l5 -2.8v5.5zM134.4 358.6l5 -2.8v5.5zM135.4 358.7l5 -2.8v5.5zM136.4 356.1l5 -2.8v5.5zM137.4 357l5 -2.8v5.5zM138.4 358.8l5 -2.8v5.5zM139.4 356.8l5 -2.8v5.5zM140.4 358.7l5 -2.8v5.5zM141.4 358.2l5 -2.8v5.5zM142.4 356.1l5 -2.8v5.5zM143.4 357.6l5 -2.8v5.5zM144.4 357.4l5 -2.8v5.5zM145.4 357.3l5 -2.8v5.5zM146.4 358.3l5 -2.8v5.5zM147.4 356.4l5 -2.8v5.5zM148.4 359.6l5 -2.8v5.5zM149.4 357.3l5 -2.8v5.5zM150.4 359.1l5 -2.8v5.5zM151.4 357.8l5 -2.8v5.5zM152.5 358.4l5 -2.8v5.5zM153.5 357.9l5 -2.8v5.5zM154.5 359.2l5 -2.8v5.5zM155.5 358l5 -2.8v5.5zM156.5 358.6l5 -2.8v5.5zM157.5 356l5 -2.8v5.5zM158.5 358.7l5 -2.8v5.5zM159.6 357.5l5 -2.8v5.5zM160.6 360.6l5 -2.8v5.5zM161.7 359.1l5 -2.8v5.5zM162.8 359.2l5 -2.8v5.5zM163.8 363.2l5 -2.8v5.5zM164.9 358.9l5 -2.8v5.5zM165.8 358.6l5 -2.8v5.5zM166.6 359.7l5 -2.8v5.5zM167.5 356.7l5 -2.8v5.5zM168.3 357.2l5 -2.8v5.5zM169.2 357.9l5 -2.8v5.5zM170.2 359.2l5 -2.8v5.5zM171.2 359.8l5 -2.8v5.5zM172.2 360.1l5 -2.8v5.5zM173.2 357.7l5 -2.8v5.5zM174.2 357.7l5 -2.8v5.5zM175.2 356l5 -2.8v5.5zM176.2 354.4l5 -2.8v5.5zM177.2 355.9l5 -2.8v5.5zM178.2 356.2l5 -2.8v5.5zM179.2 357.4l5 -2.8v5.5zM180.3 356.5l5 -2.8v5.5zM181.3 357.7l5 -2.8v5.5zM182.3 357.2l5 -2.8v5.5zM183.3 359.1l5 -2.8v5.5zM184.3 359.7l5 -2.8v5.5zM185.3 358.6l5 -2.8v5.5zM186.3 358.2l5 -2.8v5.5zM187.3 358.2l5 -2.8v5.5zM188.3 356.8l5 -2.8v5.5zM189.3 357.4l5 -2.8v5.5zM190.3 356.7l5 -2.8v5.5zM191.3 356.5l5 -2.8v5.5zM192.3 357.9l5 -2.8v5.5zM193.3 357.3l5 -2.8v5.5zM194.3 356.8l5 -2.8v5.5zM195.3 361.2l5 -2.8v5.5zM196.4 357.2l5 -2.8v5.5zM197.4 358.5l5 -2.8v5.5zM198.4 358.5l5 -2.8v5.5zM199.4 359.2l5 -2.8v5.5zM200.4 357.2l5 -2.8v5.5zM201.4 357.4l5 -2.8v5.5zM202.4 358.2l5 -2.8v5.5zM203.4 358.9l5 -2.8v5.5zM204.4 357.8l5 -2.8v5.5zM205.4 358.9l5 -2.8v5.5zM206.4 357.3l5 -2.8v5.5zM207.4 356.5l5 -2.8v5.5zM208.4 357.6l5 -2.8v5.5zM209.4 359.2l5 -2.8v5.5zM210.4 358l5 -2.8v5.5zM211.5 356.9l5 -2.8v5.5zM212.5 359l5 -2.8v5.5zM213.5 357.3l5 -2.8v5.5zM214.5 358.9l5 -2.8v5.5zM215.5 357.5l5 -2.8v5.5zM216.5 357.3l5 -2.8v5.5zM217.5 356.5l5 -2.8v5.5zM218.5 355.6l5 -2.8v5.5zM219.5 358.9l5 -2.8v5.5zM220.5 358.3l5 -2.8v5.5zM221.5 360l5 -2.8v5.5zM222.5 355.3l5 -2.8v5.5zM223.5 361l5 -2.8v5.5zM224.5 357.7l5 -2.8v5.5zM225.5 357.7l5 -2.8v5.5zM226.6 357.6l5 -2.8v5.5zM227.6 358.6l5 -2.8v5.5zM228.6 359l5 -2.8v5.5zM229.6 356.3l5 -2.8v5.5zM230.6 354l5 -2.8v5.5zM231.6 358.1l5 -2.8v5.5zM232.6 360.2l5 -2.8v5.5zM233.6 356.1l5 -2.8v5.5zM234.6 358.2l5 -2.8v5.5zM235.6 357.8l5 -2.8v5.5zM236.6 356.7l5 -2.8v5.5zM237.6 357.8l5 -2.8v5.5zM238.6 357.9l5 -2.8v5.5zM239.6 358.6l5 -2.8v5.5zM240.6 356.9l5 -2.8v5.5zM241.7 357.1l5 -2.8v5.5zM242.7 357.3l5 -2.8v5.5zM243.7 358.4l5 -2.8v5.5zM244.7 357.6l5 -2.8v5.5zM245.7 356.4l5 -2.8v5.5zM246.7 357.3l5 -2.8v5.5zM247.7 356l5 -2.8v5.5zM248.7 357.6l5 -2.8v5.5zM249.7 356.5l5 -2.8v5.5zM250.7 356.7l5 -2.8v5.5zM251.7 357.9l5 -2.8v5.5zM252.7 358.7l5 -2.8v5.5zM253.7 359.3l5 -2.8v5.5zM254.7 357.4l5 -2.8v5.5zM255.7 360.9l5 -2.8v5.5zM256.8 357.2l5 -2.8v5.5zM257.8 356l5 -2.8v5.5zM258.8 357.1l5 -2.8v5.5zM259.8 359.3l5 -2.8v5.5zM260.8 359.9l5 -2.8v5.5zM261.8 358.5l5 -2.8v5.5zM262.8 357l5 -2.8v5.5zM263.8 358l5 -2.8v5.5zM264.8 358.2l5 -2.8v5.5zM265.8 358.3l5 -2.8v5.5zM266.8 354.7l5 -2.8v5.5zM267.8 359.1l5 -2.8v5.5zM268.8 359.4l5 -2.8v5.5zM269.8 357.4l5 -2.8v5.5zM270.8 356.3l5 -2.8v5.5zM271.9 356.7l5 -2.8v5.5z"/>
</g>
<path fill="#111" d="M167 274.4h1.8v2.5h-1.8zM167 282.7h1.8v2.5h-1.8zM167 291.1h1.8v2.5h-1.8zM167 299.5h1.8v2.5h-1.8zM167 307.9h1.8v2.5h-1.8zM167 316.2h1.8v2.5h-1.8zM167 324.6h1.8v2.5h-1.8zM167 333h1.8v2.5h-1.8zM167 341.4h1.8v2.5h-1.8zM167 349.8h1.8v2.5h-1.8zM167 358.1h1.8v2.5h-1.8zM167 366.5h1.8v2.5h-1.8zM167 374.9h1.8v2.5h-1.8zM167 383.3h1.8v2.5h-1.8zM167 391.7h1.8v2.5h-1.8zM167 400h1.8v2.5h-1.8zM167 408.4h1.8v2.5h-1.8zM167 416.8h1.8v2.5h-1.8zM167 425.2h1.8v2.5h-1.8zM167 433.6h1.8v2.5h-1.8zM167 441.9h1.8v2.5h-1.8z"/>
<text transform="translate(47.7,448.8) scale(1,1.08)" font-size="14.6" text-anchor="end" fill="#555">0.0</text>
<text transform="translate(47.7,405.1) scale(1,1.08)" font-size="14.6" text-anchor="end" fill="#555">0.5</text>
<text transform="translate(47.7,361.4) scale(1,1.08)" font-size="14.6" text-anchor="end" fill="#555">1.0</text>
<text transform="translate(47.7,317.6) scale(1,1.08)" font-size="14.6" text-anchor="end" fill="#555">1.5</text>
<text transform="translate(47.7,273.9) scale(1,1.08)" font-size="14.6" text-anchor="end" fill="#555">2.0</text>
<text transform="translate(286.9,448.8) scale(1,1.08)" font-size="14.6" text-anchor="start" fill="#555">0</text>
<text transform="translate(286.9,413.8) scale(1,1.08)" font-size="14.6" text-anchor="start" fill="#555">2</text>
<text transform="translate(286.9,378.8) scale(1,1.08)" font-size="14.6" text-anchor="start" fill="#555">4</text>
<text transform="translate(286.9,343.9) scale(1,1.08)" font-size="14.6" text-anchor="start" fill="#555">6</text>
<text transform="translate(286.9,308.9) scale(1,1.08)" font-size="14.6" text-anchor="start" fill="#555">8</text>
<text transform="translate(286.9,273.9) scale(1,1.08)" font-size="14.6" text-anchor="start" fill="#555">10</text>
<text transform="translate(60.7,468.8) scale(1,1.08)" font-size="14.6" text-anchor="middle" fill="#555">0</text>
<text transform="translate(103.5,468.8) scale(1,1.08)" font-size="14.6" text-anchor="middle" fill="#555">200</text>
<text transform="translate(146.3,468.8) scale(1,1.08)" font-size="14.6" text-anchor="middle" fill="#555">400</text>
<text transform="translate(189,468.8) scale(1,1.08)" font-size="14.6" text-anchor="middle" fill="#555">600</text>
<text transform="translate(231.8,468.8) scale(1,1.08)" font-size="14.6" text-anchor="middle" fill="#555">800</text>
<text transform="translate(274.6,468.8) scale(1,1.08)" font-size="14.6" text-anchor="middle" fill="#555">1000</text>
<text transform="translate(167.8,497.2) scale(1,1.04)" font-size="15.6" text-anchor="middle" fill="#555">Depth (nm)</text>
<text transform="translate(163.3,266.4) scale(1,1.07)" font-size="14.8" text-anchor="start" fill="#555">B11A3</text>
<text transform="translate(14.1,356.8) rotate(-90) scale(1,1.12)" font-size="15.5" text-anchor="middle" fill="#555">C<tspan font-size="11" dy="4.6">norm</tspan><tspan dy="-4.6">(i)</tspan></text>
<text transform="translate(325.6,358.2) rotate(-90) scale(1,1.04)" font-size="15.8" text-anchor="middle" fill="#555">C<tspan font-size="11" dy="4.6">norm</tspan><tspan dy="-4.6">(</tspan><tspan fill="#35c6cf">H</tspan><tspan fill="#35c6cf" font-size="9" dy="-4.5">+</tspan><tspan dy="4.5">)</tspan></text>
<text transform="translate(105.5,284.8) scale(1,1.08)" font-size="12.9" text-anchor="start" fill="#555">Gel</text>
<text transform="translate(184.2,284.1) scale(1,1.08)" font-size="12.9" text-anchor="start" fill="#555">Pristine glass</text>
<path d="M410.5 435.5h5M410.5 426.7h5M410.5 418h5M410.5 409.2h5M410.5 400.5h11M410.5 391.7h5M410.5 383h5M410.5 374.2h5M410.5 365.5h5M410.5 356.8h11M410.5 348h5M410.5 339.3h5M410.5 330.5h5M410.5 321.8h5M410.5 313h11M410.5 304.3h5M410.5 295.5h5M410.5 286.8h5M410.5 278h5M624.4 437.2h-5.5M624.4 430.2h-5.5M624.4 423.2h-5.5M624.4 416.2h-5.5M624.4 409.2h-11M624.4 402.2h-5.5M624.4 395.2h-5.5M624.4 388.2h-5.5M624.4 381.2h-5.5M624.4 374.2h-11M624.4 367.2h-5.5M624.4 360.2h-5.5M624.4 353.3h-5.5M624.4 346.3h-5.5M624.4 339.3h-11M624.4 332.3h-5.5M624.4 325.3h-5.5M624.4 318.3h-5.5M624.4 311.3h-5.5M624.4 304.3h-11M624.4 297.3h-5.5M624.4 290.3h-5.5M624.4 283.3h-5.5M624.4 276.3h-5.5M419.1 444.2v-4.5M427.6 444.2v-4.5M436.2 444.2v-4.5M444.7 444.2v-4.5M453.3 444.2v-10.5M461.8 444.2v-4.5M470.4 444.2v-4.5M478.9 444.2v-4.5M487.5 444.2v-4.5M496.1 444.2v-10.5M504.6 444.2v-4.5M513.2 444.2v-4.5M521.7 444.2v-4.5M530.3 444.2v-4.5M538.8 444.2v-10.5M547.4 444.2v-4.5M556 444.2v-4.5M564.5 444.2v-4.5M573.1 444.2v-4.5M581.6 444.2v-10.5M590.2 444.2v-4.5M598.7 444.2v-4.5M607.3 444.2v-4.5M615.8 444.2v-4.5" stroke="#111" stroke-width="1.4" fill="none"/>
<rect x="410.5" y="269.3" width="213.9" height="174.9" fill="none" stroke="#111" stroke-width="1.5"/>
<clipPath id="c4"><rect x="410" y="268.8" width="214.9" height="175.9"/></clipPath><g clip-path="url(#c4)">
<path fill="#f3b3fb" d="M410.5 331.9l2.9 5.2h-5.7zM411.8 339.7l2.9 5.2h-5.7zM413.1 343.5l2.9 5.2h-5.7zM414.4 346.5l2.9 5.2h-5.7zM415.6 352.3l2.9 5.2h-5.7zM416.9 354.2l2.9 5.2h-5.7zM418.2 354.3l2.9 5.2h-5.7zM419.5 356.2l2.9 5.2h-5.7zM420.8 360.1l2.9 5.2h-5.7zM422.1 359.5l2.9 5.2h-5.7zM423.3 358.6l2.9 5.2h-5.7zM424.6 357.7l2.9 5.2h-5.7zM425.9 360.3l2.9 5.2h-5.7zM427.2 356.2l2.9 5.2h-5.7zM428.5 354.3l2.9 5.2h-5.7zM429.8 351.9l2.9 5.2h-5.7zM431 347l2.9 5.2h-5.7zM432.3 343.8l2.9 5.2h-5.7zM433.6 341.1l2.9 5.2h-5.7zM434.9 338.9l2.9 5.2h-5.7zM436.2 339l2.9 5.2h-5.7zM437.5 334.5l2.9 5.2h-5.7zM438.7 334.4l2.9 5.2h-5.7zM440 332.5l2.9 5.2h-5.7zM441.3 331.5l2.9 5.2h-5.7zM442.6 331l2.9 5.2h-5.7zM443.9 329.9l2.9 5.2h-5.7zM445.2 327l2.9 5.2h-5.7zM446.4 326.4l2.9 5.2h-5.7zM447.7 324.1l2.9 5.2h-5.7zM449 322.3l2.9 5.2h-5.7zM450.3 324.4l2.9 5.2h-5.7zM451.6 319.6l2.9 5.2h-5.7zM452.9 321.7l2.9 5.2h-5.7zM454.1 321.1l2.9 5.2h-5.7zM455.4 320.5l2.9 5.2h-5.7zM456.7 322.4l2.9 5.2h-5.7zM458 322.2l2.9 5.2h-5.7zM459.3 319.8l2.9 5.2h-5.7zM460.6 320.1l2.9 5.2h-5.7zM461.8 317.4l2.9 5.2h-5.7zM463.1 319.1l2.9 5.2h-5.7zM464.4 319.7l2.9 5.2h-5.7zM465.7 317.6l2.9 5.2h-5.7zM467 316.1l2.9 5.2h-5.7zM468.3 315.1l2.9 5.2h-5.7zM469.5 317.1l2.9 5.2h-5.7zM470.8 315.6l2.9 5.2h-5.7zM472.1 317.5l2.9 5.2h-5.7zM473.4 316.4l2.9 5.2h-5.7zM474.7 314.2l2.9 5.2h-5.7zM476 318.7l2.9 5.2h-5.7zM477.2 317.7l2.9 5.2h-5.7zM478.5 317.7l2.9 5.2h-5.7zM479.8 316.8l2.9 5.2h-5.7zM481.1 317.3l2.9 5.2h-5.7zM482.4 316.5l2.9 5.2h-5.7zM483.7 317.2l2.9 5.2h-5.7zM484.9 316.4l2.9 5.2h-5.7zM486.2 317.2l2.9 5.2h-5.7zM487.5 315.1l2.9 5.2h-5.7zM488.8 315.2l2.9 5.2h-5.7zM490.1 313.2l2.9 5.2h-5.7zM491.4 313.6l2.9 5.2h-5.7zM492.6 315.9l2.9 5.2h-5.7zM493.9 313.7l2.9 5.2h-5.7zM495.2 313.6l2.9 5.2h-5.7zM496.5 315.6l2.9 5.2h-5.7zM497.8 315.7l2.9 5.2h-5.7zM499.1 314.5l2.9 5.2h-5.7zM500.3 314.5l2.9 5.2h-5.7zM501.6 317.1l2.9 5.2h-5.7zM502.9 315.6l2.9 5.2h-5.7zM504.2 319.2l2.9 5.2h-5.7zM505.5 317.4l2.9 5.2h-5.7zM506.8 316.3l2.9 5.2h-5.7zM508 318.1l2.9 5.2h-5.7zM509.3 319.4l2.9 5.2h-5.7zM510.6 321.5l2.9 5.2h-5.7zM511.9 320.6l2.9 5.2h-5.7zM513.2 324.8l2.9 5.2h-5.7zM514.5 325.5l2.9 5.2h-5.7zM515.7 328.8l2.9 5.2h-5.7zM517 330.9l2.9 5.2h-5.7zM518.3 336.7l2.9 5.2h-5.7zM519.6 338.3l2.9 5.2h-5.7zM520.9 340.9l2.9 5.2h-5.7zM522.2 341.4l2.9 5.2h-5.7zM523.4 341.7l2.9 5.2h-5.7zM524.7 345.9l2.9 5.2h-5.7zM526 343.3l2.9 5.2h-5.7zM527.3 346.4l2.9 5.2h-5.7zM528.6 344.1l2.9 5.2h-5.7zM529.9 345l2.9 5.2h-5.7zM531.1 347.8l2.9 5.2h-5.7zM532.4 349.4l2.9 5.2h-5.7zM533.7 347.4l2.9 5.2h-5.7zM535 346.7l2.9 5.2h-5.7zM536.3 351.4l2.9 5.2h-5.7zM537.6 349.5l2.9 5.2h-5.7zM538.8 349.6l2.9 5.2h-5.7zM540.1 350.4l2.9 5.2h-5.7zM541.4 351l2.9 5.2h-5.7zM542.7 351.9l2.9 5.2h-5.7zM544 350.1l2.9 5.2h-5.7zM545.3 350.7l2.9 5.2h-5.7zM546.5 354l2.9 5.2h-5.7zM547.8 351.8l2.9 5.2h-5.7zM549.1 351.4l2.9 5.2h-5.7zM550.4 351.5l2.9 5.2h-5.7zM551.7 353.6l2.9 5.2h-5.7zM553 351.4l2.9 5.2h-5.7zM554.2 351.5l2.9 5.2h-5.7zM555.5 352.5l2.9 5.2h-5.7zM556.8 351.4l2.9 5.2h-5.7zM558.1 354l2.9 5.2h-5.7zM559.4 352.7l2.9 5.2h-5.7zM560.7 352.3l2.9 5.2h-5.7zM561.9 353.5l2.9 5.2h-5.7zM563.2 352.6l2.9 5.2h-5.7zM564.5 353.3l2.9 5.2h-5.7zM565.8 352.2l2.9 5.2h-5.7zM567.1 352.7l2.9 5.2h-5.7zM568.4 352.8l2.9 5.2h-5.7zM569.6 352.2l2.9 5.2h-5.7zM570.9 352.4l2.9 5.2h-5.7zM572.2 352.3l2.9 5.2h-5.7zM573.5 352.6l2.9 5.2h-5.7zM574.8 351.8l2.9 5.2h-5.7zM576.1 352.1l2.9 5.2h-5.7zM577.3 351.9l2.9 5.2h-5.7zM578.6 353.3l2.9 5.2h-5.7zM579.9 353.3l2.9 5.2h-5.7zM581.2 353.5l2.9 5.2h-5.7zM582.5 352l2.9 5.2h-5.7zM583.8 351.7l2.9 5.2h-5.7zM585 352.3l2.9 5.2h-5.7zM586.3 350.9l2.9 5.2h-5.7zM587.6 354.7l2.9 5.2h-5.7zM588.9 353.2l2.9 5.2h-5.7zM590.2 350.3l2.9 5.2h-5.7zM591.5 353.9l2.9 5.2h-5.7zM592.7 350l2.9 5.2h-5.7zM594 351.9l2.9 5.2h-5.7zM595.3 351l2.9 5.2h-5.7zM596.6 351.6l2.9 5.2h-5.7zM597.9 352.5l2.9 5.2h-5.7zM599.2 352.2l2.9 5.2h-5.7zM600.4 349.9l2.9 5.2h-5.7zM601.7 353.4l2.9 5.2h-5.7zM603 352.3l2.9 5.2h-5.7zM604.3 351.7l2.9 5.2h-5.7zM605.6 354.1l2.9 5.2h-5.7zM606.9 351.7l2.9 5.2h-5.7zM608.1 353.7l2.9 5.2h-5.7zM609.4 350.1l2.9 5.2h-5.7zM610.7 351.3l2.9 5.2h-5.7zM612 350.5l2.9 5.2h-5.7zM613.3 355.4l2.9 5.2h-5.7zM614.6 350.9l2.9 5.2h-5.7zM615.8 352.7l2.9 5.2h-5.7zM617.1 351.9l2.9 5.2h-5.7zM618.4 352l2.9 5.2h-5.7zM619.7 350.3l2.9 5.2h-5.7zM621 350.7l2.9 5.2h-5.7zM622.3 354.5l2.9 5.2h-5.7zM623.5 354.4l2.9 5.2h-5.7z"/>
<polyline fill="none" stroke="#9a9a9a" stroke-width="3" stroke-linejoin="round" stroke-linecap="round" points="410.5,357.3 624.4,357.3"/>
<path fill="#9a9a9a" d="M410.5 354.7l2.5 2.5 -2.5 2.5 -2.5 -2.5zM412.2 354.7l2.5 2.5 -2.5 2.5 -2.5 -2.5zM413.9 354.7l2.5 2.5 -2.5 2.5 -2.5 -2.5zM415.6 354.7l2.5 2.5 -2.5 2.5 -2.5 -2.5zM417.3 354.7l2.5 2.5 -2.5 2.5 -2.5 -2.5zM419.1 354.7l2.5 2.5 -2.5 2.5 -2.5 -2.5zM420.8 354.7l2.5 2.5 -2.5 2.5 -2.5 -2.5zM422.5 354.7l2.5 2.5 -2.5 2.5 -2.5 -2.5zM424.2 354.7l2.5 2.5 -2.5 2.5 -2.5 -2.5zM425.9 354.7l2.5 2.5 -2.5 2.5 -2.5 -2.5zM427.6 354.7l2.5 2.5 -2.5 2.5 -2.5 -2.5zM429.3 354.7l2.5 2.5 -2.5 2.5 -2.5 -2.5zM431 354.7l2.5 2.5 -2.5 2.5 -2.5 -2.5zM432.7 354.7l2.5 2.5 -2.5 2.5 -2.5 -2.5zM434.5 354.7l2.5 2.5 -2.5 2.5 -2.5 -2.5zM436.2 354.7l2.5 2.5 -2.5 2.5 -2.5 -2.5zM437.9 354.7l2.5 2.5 -2.5 2.5 -2.5 -2.5zM439.6 354.7l2.5 2.5 -2.5 2.5 -2.5 -2.5zM441.3 354.7l2.5 2.5 -2.5 2.5 -2.5 -2.5zM443 354.7l2.5 2.5 -2.5 2.5 -2.5 -2.5zM444.7 354.7l2.5 2.5 -2.5 2.5 -2.5 -2.5zM446.4 354.7l2.5 2.5 -2.5 2.5 -2.5 -2.5zM448.1 354.7l2.5 2.5 -2.5 2.5 -2.5 -2.5zM449.9 354.7l2.5 2.5 -2.5 2.5 -2.5 -2.5zM451.6 354.7l2.5 2.5 -2.5 2.5 -2.5 -2.5zM453.3 354.7l2.5 2.5 -2.5 2.5 -2.5 -2.5zM455 354.7l2.5 2.5 -2.5 2.5 -2.5 -2.5zM456.7 354.7l2.5 2.5 -2.5 2.5 -2.5 -2.5zM458.4 354.7l2.5 2.5 -2.5 2.5 -2.5 -2.5zM460.1 354.7l2.5 2.5 -2.5 2.5 -2.5 -2.5zM461.8 354.7l2.5 2.5 -2.5 2.5 -2.5 -2.5zM463.5 354.7l2.5 2.5 -2.5 2.5 -2.5 -2.5zM465.3 354.7l2.5 2.5 -2.5 2.5 -2.5 -2.5zM467 354.7l2.5 2.5 -2.5 2.5 -2.5 -2.5zM468.7 354.7l2.5 2.5 -2.5 2.5 -2.5 -2.5zM470.4 354.7l2.5 2.5 -2.5 2.5 -2.5 -2.5zM472.1 354.7l2.5 2.5 -2.5 2.5 -2.5 -2.5zM473.8 354.7l2.5 2.5 -2.5 2.5 -2.5 -2.5zM475.5 354.7l2.5 2.5 -2.5 2.5 -2.5 -2.5zM477.2 354.7l2.5 2.5 -2.5 2.5 -2.5 -2.5zM478.9 354.7l2.5 2.5 -2.5 2.5 -2.5 -2.5zM480.7 354.7l2.5 2.5 -2.5 2.5 -2.5 -2.5zM482.4 354.7l2.5 2.5 -2.5 2.5 -2.5 -2.5zM484.1 354.7l2.5 2.5 -2.5 2.5 -2.5 -2.5zM485.8 354.7l2.5 2.5 -2.5 2.5 -2.5 -2.5zM487.5 354.7l2.5 2.5 -2.5 2.5 -2.5 -2.5zM489.2 354.7l2.5 2.5 -2.5 2.5 -2.5 -2.5zM490.9 354.7l2.5 2.5 -2.5 2.5 -2.5 -2.5zM492.6 354.7l2.5 2.5 -2.5 2.5 -2.5 -2.5zM494.3 354.7l2.5 2.5 -2.5 2.5 -2.5 -2.5zM496.1 354.7l2.5 2.5 -2.5 2.5 -2.5 -2.5zM497.8 354.7l2.5 2.5 -2.5 2.5 -2.5 -2.5zM499.5 354.7l2.5 2.5 -2.5 2.5 -2.5 -2.5zM501.2 354.7l2.5 2.5 -2.5 2.5 -2.5 -2.5zM502.9 354.7l2.5 2.5 -2.5 2.5 -2.5 -2.5zM504.6 354.7l2.5 2.5 -2.5 2.5 -2.5 -2.5zM506.3 354.7l2.5 2.5 -2.5 2.5 -2.5 -2.5zM508 354.7l2.5 2.5 -2.5 2.5 -2.5 -2.5zM509.7 354.7l2.5 2.5 -2.5 2.5 -2.5 -2.5zM511.5 354.7l2.5 2.5 -2.5 2.5 -2.5 -2.5zM513.2 354.7l2.5 2.5 -2.5 2.5 -2.5 -2.5zM514.9 354.7l2.5 2.5 -2.5 2.5 -2.5 -2.5zM516.6 354.7l2.5 2.5 -2.5 2.5 -2.5 -2.5zM518.3 354.7l2.5 2.5 -2.5 2.5 -2.5 -2.5zM520 354.7l2.5 2.5 -2.5 2.5 -2.5 -2.5zM521.7 354.7l2.5 2.5 -2.5 2.5 -2.5 -2.5zM523.4 354.7l2.5 2.5 -2.5 2.5 -2.5 -2.5zM525.2 354.7l2.5 2.5 -2.5 2.5 -2.5 -2.5zM526.9 354.7l2.5 2.5 -2.5 2.5 -2.5 -2.5zM528.6 354.7l2.5 2.5 -2.5 2.5 -2.5 -2.5zM530.3 354.7l2.5 2.5 -2.5 2.5 -2.5 -2.5zM532 354.7l2.5 2.5 -2.5 2.5 -2.5 -2.5zM533.7 354.7l2.5 2.5 -2.5 2.5 -2.5 -2.5zM535.4 354.7l2.5 2.5 -2.5 2.5 -2.5 -2.5zM537.1 354.7l2.5 2.5 -2.5 2.5 -2.5 -2.5zM538.8 354.7l2.5 2.5 -2.5 2.5 -2.5 -2.5zM540.6 354.7l2.5 2.5 -2.5 2.5 -2.5 -2.5zM542.3 354.7l2.5 2.5 -2.5 2.5 -2.5 -2.5zM544 354.7l2.5 2.5 -2.5 2.5 -2.5 -2.5zM545.7 354.7l2.5 2.5 -2.5 2.5 -2.5 -2.5zM547.4 354.7l2.5 2.5 -2.5 2.5 -2.5 -2.5zM549.1 354.7l2.5 2.5 -2.5 2.5 -2.5 -2.5zM550.8 354.7l2.5 2.5 -2.5 2.5 -2.5 -2.5zM552.5 354.7l2.5 2.5 -2.5 2.5 -2.5 -2.5zM554.2 354.7l2.5 2.5 -2.5 2.5 -2.5 -2.5zM556 354.7l2.5 2.5 -2.5 2.5 -2.5 -2.5zM557.7 354.7l2.5 2.5 -2.5 2.5 -2.5 -2.5zM559.4 354.7l2.5 2.5 -2.5 2.5 -2.5 -2.5zM561.1 354.7l2.5 2.5 -2.5 2.5 -2.5 -2.5zM562.8 354.7l2.5 2.5 -2.5 2.5 -2.5 -2.5zM564.5 354.7l2.5 2.5 -2.5 2.5 -2.5 -2.5zM566.2 354.7l2.5 2.5 -2.5 2.5 -2.5 -2.5zM567.9 354.7l2.5 2.5 -2.5 2.5 -2.5 -2.5zM569.6 354.7l2.5 2.5 -2.5 2.5 -2.5 -2.5zM571.4 354.7l2.5 2.5 -2.5 2.5 -2.5 -2.5zM573.1 354.7l2.5 2.5 -2.5 2.5 -2.5 -2.5zM574.8 354.7l2.5 2.5 -2.5 2.5 -2.5 -2.5zM576.5 354.7l2.5 2.5 -2.5 2.5 -2.5 -2.5zM578.2 354.7l2.5 2.5 -2.5 2.5 -2.5 -2.5zM579.9 354.7l2.5 2.5 -2.5 2.5 -2.5 -2.5zM581.6 354.7l2.5 2.5 -2.5 2.5 -2.5 -2.5zM583.3 354.7l2.5 2.5 -2.5 2.5 -2.5 -2.5zM585 354.7l2.5 2.5 -2.5 2.5 -2.5 -2.5zM586.8 354.7l2.5 2.5 -2.5 2.5 -2.5 -2.5zM588.5 354.7l2.5 2.5 -2.5 2.5 -2.5 -2.5zM590.2 354.7l2.5 2.5 -2.5 2.5 -2.5 -2.5zM591.9 354.7l2.5 2.5 -2.5 2.5 -2.5 -2.5zM593.6 354.7l2.5 2.5 -2.5 2.5 -2.5 -2.5zM595.3 354.7l2.5 2.5 -2.5 2.5 -2.5 -2.5zM597 354.7l2.5 2.5 -2.5 2.5 -2.5 -2.5zM598.7 354.7l2.5 2.5 -2.5 2.5 -2.5 -2.5zM600.4 354.7l2.5 2.5 -2.5 2.5 -2.5 -2.5zM602.2 354.7l2.5 2.5 -2.5 2.5 -2.5 -2.5zM603.9 354.7l2.5 2.5 -2.5 2.5 -2.5 -2.5zM605.6 354.7l2.5 2.5 -2.5 2.5 -2.5 -2.5zM607.3 354.7l2.5 2.5 -2.5 2.5 -2.5 -2.5zM609 354.7l2.5 2.5 -2.5 2.5 -2.5 -2.5zM610.7 354.7l2.5 2.5 -2.5 2.5 -2.5 -2.5zM612.4 354.7l2.5 2.5 -2.5 2.5 -2.5 -2.5zM614.1 354.7l2.5 2.5 -2.5 2.5 -2.5 -2.5zM615.8 354.7l2.5 2.5 -2.5 2.5 -2.5 -2.5zM617.6 354.7l2.5 2.5 -2.5 2.5 -2.5 -2.5zM619.3 354.7l2.5 2.5 -2.5 2.5 -2.5 -2.5zM621 354.7l2.5 2.5 -2.5 2.5 -2.5 -2.5zM622.7 354.7l2.5 2.5 -2.5 2.5 -2.5 -2.5zM624.4 354.7l2.5 2.5 -2.5 2.5 -2.5 -2.5z"/>
<path fill="#7cf8f2" d="M408.3 323h4.4v4.4h-4.4zM410.4 328.1h4.4v4.4h-4.4zM412.6 334.4h4.4v4.4h-4.4zM414.7 359.3h4.4v4.4h-4.4zM416.9 374h4.4v4.4h-4.4zM419 383.4h4.4v4.4h-4.4zM421.1 392.6h4.4v4.4h-4.4zM423.3 398.2h4.4v4.4h-4.4zM425.4 400.2h4.4v4.4h-4.4zM427.6 402.5h4.4v4.4h-4.4zM429.7 402.3h4.4v4.4h-4.4zM431.8 401.4h4.4v4.4h-4.4zM434 402.3h4.4v4.4h-4.4zM436.1 404h4.4v4.4h-4.4zM438.2 402.3h4.4v4.4h-4.4zM440.4 397.5h4.4v4.4h-4.4zM442.5 397.3h4.4v4.4h-4.4zM444.7 397.3h4.4v4.4h-4.4zM446.8 398.5h4.4v4.4h-4.4zM448.9 395.8h4.4v4.4h-4.4zM451.1 392.8h4.4v4.4h-4.4zM453.2 392.8h4.4v4.4h-4.4zM455.4 391.3h4.4v4.4h-4.4zM457.5 387.7h4.4v4.4h-4.4zM459.6 386.9h4.4v4.4h-4.4zM461.8 387.3h4.4v4.4h-4.4zM463.9 382.5h4.4v4.4h-4.4zM466.1 379.5h4.4v4.4h-4.4zM468.2 377.5h4.4v4.4h-4.4zM470.3 377.2h4.4v4.4h-4.4zM472.5 376.9h4.4v4.4h-4.4zM474.6 378.2h4.4v4.4h-4.4zM476.7 374.7h4.4v4.4h-4.4zM478.9 374.1h4.4v4.4h-4.4zM481 370.9h4.4v4.4h-4.4zM483.2 366.5h4.4v4.4h-4.4zM485.3 366.7h4.4v4.4h-4.4zM487.4 361.1h4.4v4.4h-4.4zM489.6 358.6h4.4v4.4h-4.4zM491.7 355.7h4.4v4.4h-4.4zM493.9 351.3h4.4v4.4h-4.4zM496 348.7h4.4v4.4h-4.4zM498.1 345.1h4.4v4.4h-4.4zM500.3 344.8h4.4v4.4h-4.4zM502.4 347.5h4.4v4.4h-4.4zM504.6 354.9h4.4v4.4h-4.4zM506.7 358.4h4.4v4.4h-4.4zM508.8 368.5h4.4v4.4h-4.4zM511 378.4h4.4v4.4h-4.4zM513.1 390.7h4.4v4.4h-4.4zM515.2 392.4h4.4v4.4h-4.4zM517.4 398.4h4.4v4.4h-4.4zM519.5 401h4.4v4.4h-4.4zM521.7 405.5h4.4v4.4h-4.4zM523.8 407.6h4.4v4.4h-4.4zM525.9 410.1h4.4v4.4h-4.4zM528.1 413.1h4.4v4.4h-4.4zM530.2 416.5h4.4v4.4h-4.4zM532.4 415.5h4.4v4.4h-4.4zM534.5 420.3h4.4v4.4h-4.4zM536.6 421.9h4.4v4.4h-4.4zM538.8 422.1h4.4v4.4h-4.4zM540.9 423.1h4.4v4.4h-4.4zM543.1 421.8h4.4v4.4h-4.4zM545.2 422.8h4.4v4.4h-4.4zM547.3 423.2h4.4v4.4h-4.4zM549.5 424.9h4.4v4.4h-4.4zM551.6 425.3h4.4v4.4h-4.4zM553.8 424.2h4.4v4.4h-4.4zM555.9 422.8h4.4v4.4h-4.4zM558 425.1h4.4v4.4h-4.4zM560.2 424.7h4.4v4.4h-4.4zM562.3 423.8h4.4v4.4h-4.4zM564.4 423.7h4.4v4.4h-4.4zM566.6 424.9h4.4v4.4h-4.4zM568.7 425.4h4.4v4.4h-4.4zM570.9 425.5h4.4v4.4h-4.4zM573 423.7h4.4v4.4h-4.4zM575.1 427.6h4.4v4.4h-4.4zM577.3 423.5h4.4v4.4h-4.4zM579.4 425.8h4.4v4.4h-4.4zM581.6 426.5h4.4v4.4h-4.4zM583.7 425.3h4.4v4.4h-4.4zM585.8 426.3h4.4v4.4h-4.4zM588 425h4.4v4.4h-4.4zM590.1 424.8h4.4v4.4h-4.4zM592.3 424.9h4.4v4.4h-4.4zM594.4 425h4.4v4.4h-4.4zM596.5 424.7h4.4v4.4h-4.4zM598.7 424.4h4.4v4.4h-4.4zM600.8 424.2h4.4v4.4h-4.4zM602.9 426.1h4.4v4.4h-4.4zM605.1 425.8h4.4v4.4h-4.4zM607.2 424.2h4.4v4.4h-4.4zM609.4 424.6h4.4v4.4h-4.4zM611.5 426.4h4.4v4.4h-4.4zM613.6 425.9h4.4v4.4h-4.4zM615.8 423.6h4.4v4.4h-4.4zM617.9 427.1h4.4v4.4h-4.4zM620.1 424.8h4.4v4.4h-4.4zM622.2 427.7h4.4v4.4h-4.4z"/>
<path fill="#b857ee" d="M408.2 443a2.3 2.3 0 1 0 4.6 0a2.3 2.3 0 1 0 -4.6 0zM410.3 443.7a2.3 2.3 0 1 0 4.6 0a2.3 2.3 0 1 0 -4.6 0zM412.3 443.3a2.3 2.3 0 1 0 4.6 0a2.3 2.3 0 1 0 -4.6 0zM414.4 443.6a2.3 2.3 0 1 0 4.6 0a2.3 2.3 0 1 0 -4.6 0zM416.4 443.3a2.3 2.3 0 1 0 4.6 0a2.3 2.3 0 1 0 -4.6 0zM418.5 442.9a2.3 2.3 0 1 0 4.6 0a2.3 2.3 0 1 0 -4.6 0zM420.5 443a2.3 2.3 0 1 0 4.6 0a2.3 2.3 0 1 0 -4.6 0zM422.6 443.1a2.3 2.3 0 1 0 4.6 0a2.3 2.3 0 1 0 -4.6 0zM424.6 443.5a2.3 2.3 0 1 0 4.6 0a2.3 2.3 0 1 0 -4.6 0zM426.7 442.8a2.3 2.3 0 1 0 4.6 0a2.3 2.3 0 1 0 -4.6 0zM428.7 443.4a2.3 2.3 0 1 0 4.6 0a2.3 2.3 0 1 0 -4.6 0zM430.8 442.8a2.3 2.3 0 1 0 4.6 0a2.3 2.3 0 1 0 -4.6 0zM432.8 443.2a2.3 2.3 0 1 0 4.6 0a2.3 2.3 0 1 0 -4.6 0zM434.9 442.9a2.3 2.3 0 1 0 4.6 0a2.3 2.3 0 1 0 -4.6 0zM436.9 442.8a2.3 2.3 0 1 0 4.6 0a2.3 2.3 0 1 0 -4.6 0zM439 442.6a2.3 2.3 0 1 0 4.6 0a2.3 2.3 0 1 0 -4.6 0zM441.1 443.7a2.3 2.3 0 1 0 4.6 0a2.3 2.3 0 1 0 -4.6 0zM443.1 442.9a2.3 2.3 0 1 0 4.6 0a2.3 2.3 0 1 0 -4.6 0zM445.2 442.7a2.3 2.3 0 1 0 4.6 0a2.3 2.3 0 1 0 -4.6 0zM447.2 443.6a2.3 2.3 0 1 0 4.6 0a2.3 2.3 0 1 0 -4.6 0zM449.3 443.2a2.3 2.3 0 1 0 4.6 0a2.3 2.3 0 1 0 -4.6 0zM451.3 443.5a2.3 2.3 0 1 0 4.6 0a2.3 2.3 0 1 0 -4.6 0zM453.4 443.7a2.3 2.3 0 1 0 4.6 0a2.3 2.3 0 1 0 -4.6 0zM455.4 443a2.3 2.3 0 1 0 4.6 0a2.3 2.3 0 1 0 -4.6 0zM457.5 442.9a2.3 2.3 0 1 0 4.6 0a2.3 2.3 0 1 0 -4.6 0zM459.5 443.5a2.3 2.3 0 1 0 4.6 0a2.3 2.3 0 1 0 -4.6 0zM461.6 443a2.3 2.3 0 1 0 4.6 0a2.3 2.3 0 1 0 -4.6 0zM463.6 442.6a2.3 2.3 0 1 0 4.6 0a2.3 2.3 0 1 0 -4.6 0zM465.7 442.8a2.3 2.3 0 1 0 4.6 0a2.3 2.3 0 1 0 -4.6 0zM467.7 442.1a2.3 2.3 0 1 0 4.6 0a2.3 2.3 0 1 0 -4.6 0zM469.8 442.4a2.3 2.3 0 1 0 4.6 0a2.3 2.3 0 1 0 -4.6 0zM471.9 443.2a2.3 2.3 0 1 0 4.6 0a2.3 2.3 0 1 0 -4.6 0zM473.9 443.1a2.3 2.3 0 1 0 4.6 0a2.3 2.3 0 1 0 -4.6 0zM476 442.6a2.3 2.3 0 1 0 4.6 0a2.3 2.3 0 1 0 -4.6 0zM478 443a2.3 2.3 0 1 0 4.6 0a2.3 2.3 0 1 0 -4.6 0zM480.1 442.8a2.3 2.3 0 1 0 4.6 0a2.3 2.3 0 1 0 -4.6 0zM482.1 443.1a2.3 2.3 0 1 0 4.6 0a2.3 2.3 0 1 0 -4.6 0zM484.2 442.2a2.3 2.3 0 1 0 4.6 0a2.3 2.3 0 1 0 -4.6 0zM486.2 443a2.3 2.3 0 1 0 4.6 0a2.3 2.3 0 1 0 -4.6 0zM488.3 443.3a2.3 2.3 0 1 0 4.6 0a2.3 2.3 0 1 0 -4.6 0zM490.3 442.5a2.3 2.3 0 1 0 4.6 0a2.3 2.3 0 1 0 -4.6 0zM492.4 443.2a2.3 2.3 0 1 0 4.6 0a2.3 2.3 0 1 0 -4.6 0zM494.4 443.3a2.3 2.3 0 1 0 4.6 0a2.3 2.3 0 1 0 -4.6 0zM496.5 442.8a2.3 2.3 0 1 0 4.6 0a2.3 2.3 0 1 0 -4.6 0zM498.6 442.7a2.3 2.3 0 1 0 4.6 0a2.3 2.3 0 1 0 -4.6 0zM500.6 442.7a2.3 2.3 0 1 0 4.6 0a2.3 2.3 0 1 0 -4.6 0zM502.7 435.1a2.3 2.3 0 1 0 4.6 0a2.3 2.3 0 1 0 -4.6 0zM504.7 430.3a2.3 2.3 0 1 0 4.6 0a2.3 2.3 0 1 0 -4.6 0zM506.8 419.3a2.3 2.3 0 1 0 4.6 0a2.3 2.3 0 1 0 -4.6 0zM508.8 411.7a2.3 2.3 0 1 0 4.6 0a2.3 2.3 0 1 0 -4.6 0zM510.9 405.1a2.3 2.3 0 1 0 4.6 0a2.3 2.3 0 1 0 -4.6 0zM512.9 399.2a2.3 2.3 0 1 0 4.6 0a2.3 2.3 0 1 0 -4.6 0zM515 392.4a2.3 2.3 0 1 0 4.6 0a2.3 2.3 0 1 0 -4.6 0zM517 385.1a2.3 2.3 0 1 0 4.6 0a2.3 2.3 0 1 0 -4.6 0zM519.1 378.8a2.3 2.3 0 1 0 4.6 0a2.3 2.3 0 1 0 -4.6 0zM521.1 374.3a2.3 2.3 0 1 0 4.6 0a2.3 2.3 0 1 0 -4.6 0zM523.2 370.5a2.3 2.3 0 1 0 4.6 0a2.3 2.3 0 1 0 -4.6 0zM525.2 367.6a2.3 2.3 0 1 0 4.6 0a2.3 2.3 0 1 0 -4.6 0zM527.3 364.5a2.3 2.3 0 1 0 4.6 0a2.3 2.3 0 1 0 -4.6 0zM529.4 362.7a2.3 2.3 0 1 0 4.6 0a2.3 2.3 0 1 0 -4.6 0zM531.4 361.1a2.3 2.3 0 1 0 4.6 0a2.3 2.3 0 1 0 -4.6 0zM533.5 360.5a2.3 2.3 0 1 0 4.6 0a2.3 2.3 0 1 0 -4.6 0zM535.5 360.7a2.3 2.3 0 1 0 4.6 0a2.3 2.3 0 1 0 -4.6 0zM537.6 359.9a2.3 2.3 0 1 0 4.6 0a2.3 2.3 0 1 0 -4.6 0zM539.6 359.5a2.3 2.3 0 1 0 4.6 0a2.3 2.3 0 1 0 -4.6 0zM541.7 361a2.3 2.3 0 1 0 4.6 0a2.3 2.3 0 1 0 -4.6 0zM543.7 359.7a2.3 2.3 0 1 0 4.6 0a2.3 2.3 0 1 0 -4.6 0zM545.8 360.5a2.3 2.3 0 1 0 4.6 0a2.3 2.3 0 1 0 -4.6 0zM547.8 359.7a2.3 2.3 0 1 0 4.6 0a2.3 2.3 0 1 0 -4.6 0zM549.9 359.3a2.3 2.3 0 1 0 4.6 0a2.3 2.3 0 1 0 -4.6 0zM551.9 358.9a2.3 2.3 0 1 0 4.6 0a2.3 2.3 0 1 0 -4.6 0zM554 359.8a2.3 2.3 0 1 0 4.6 0a2.3 2.3 0 1 0 -4.6 0zM556 359.2a2.3 2.3 0 1 0 4.6 0a2.3 2.3 0 1 0 -4.6 0zM558.1 359.5a2.3 2.3 0 1 0 4.6 0a2.3 2.3 0 1 0 -4.6 0zM560.2 359.2a2.3 2.3 0 1 0 4.6 0a2.3 2.3 0 1 0 -4.6 0zM562.2 359.5a2.3 2.3 0 1 0 4.6 0a2.3 2.3 0 1 0 -4.6 0zM564.3 359.2a2.3 2.3 0 1 0 4.6 0a2.3 2.3 0 1 0 -4.6 0zM566.3 359a2.3 2.3 0 1 0 4.6 0a2.3 2.3 0 1 0 -4.6 0zM568.4 359.1a2.3 2.3 0 1 0 4.6 0a2.3 2.3 0 1 0 -4.6 0zM570.4 359.6a2.3 2.3 0 1 0 4.6 0a2.3 2.3 0 1 0 -4.6 0zM572.5 359.1a2.3 2.3 0 1 0 4.6 0a2.3 2.3 0 1 0 -4.6 0zM574.5 359.6a2.3 2.3 0 1 0 4.6 0a2.3 2.3 0 1 0 -4.6 0zM576.6 359.8a2.3 2.3 0 1 0 4.6 0a2.3 2.3 0 1 0 -4.6 0zM578.6 359a2.3 2.3 0 1 0 4.6 0a2.3 2.3 0 1 0 -4.6 0zM580.7 358.9a2.3 2.3 0 1 0 4.6 0a2.3 2.3 0 1 0 -4.6 0zM582.7 359.3a2.3 2.3 0 1 0 4.6 0a2.3 2.3 0 1 0 -4.6 0zM584.8 359.5a2.3 2.3 0 1 0 4.6 0a2.3 2.3 0 1 0 -4.6 0zM586.8 359a2.3 2.3 0 1 0 4.6 0a2.3 2.3 0 1 0 -4.6 0zM588.9 358.6a2.3 2.3 0 1 0 4.6 0a2.3 2.3 0 1 0 -4.6 0zM591 358.7a2.3 2.3 0 1 0 4.6 0a2.3 2.3 0 1 0 -4.6 0zM593 358.3a2.3 2.3 0 1 0 4.6 0a2.3 2.3 0 1 0 -4.6 0zM595.1 358.7a2.3 2.3 0 1 0 4.6 0a2.3 2.3 0 1 0 -4.6 0zM597.1 358.4a2.3 2.3 0 1 0 4.6 0a2.3 2.3 0 1 0 -4.6 0zM599.2 358.6a2.3 2.3 0 1 0 4.6 0a2.3 2.3 0 1 0 -4.6 0zM601.2 358.6a2.3 2.3 0 1 0 4.6 0a2.3 2.3 0 1 0 -4.6 0zM603.3 358.4a2.3 2.3 0 1 0 4.6 0a2.3 2.3 0 1 0 -4.6 0zM605.3 358.9a2.3 2.3 0 1 0 4.6 0a2.3 2.3 0 1 0 -4.6 0zM607.4 358.6a2.3 2.3 0 1 0 4.6 0a2.3 2.3 0 1 0 -4.6 0zM609.4 358.7a2.3 2.3 0 1 0 4.6 0a2.3 2.3 0 1 0 -4.6 0zM611.5 358.4a2.3 2.3 0 1 0 4.6 0a2.3 2.3 0 1 0 -4.6 0zM613.5 358.3a2.3 2.3 0 1 0 4.6 0a2.3 2.3 0 1 0 -4.6 0zM615.6 358.6a2.3 2.3 0 1 0 4.6 0a2.3 2.3 0 1 0 -4.6 0zM617.7 358.5a2.3 2.3 0 1 0 4.6 0a2.3 2.3 0 1 0 -4.6 0zM619.7 359.1a2.3 2.3 0 1 0 4.6 0a2.3 2.3 0 1 0 -4.6 0zM621.8 358.6a2.3 2.3 0 1 0 4.6 0a2.3 2.3 0 1 0 -4.6 0z"/>
<path fill="#4cec6e" d="M410.5 439l2.9 -5.2h-5.7zM412.5 440.3l2.9 -5.2h-5.7zM414.4 442.8l2.9 -5.2h-5.7zM416.4 443.6l2.9 -5.2h-5.7zM418.4 443.6l2.9 -5.2h-5.7zM420.3 444.5l2.9 -5.2h-5.7zM422.3 443.7l2.9 -5.2h-5.7zM424.3 444.5l2.9 -5.2h-5.7zM426.2 444.9l2.9 -5.2h-5.7zM428.2 445l2.9 -5.2h-5.7zM430.2 445.7l2.9 -5.2h-5.7zM432.1 444.8l2.9 -5.2h-5.7zM434.1 445.5l2.9 -5.2h-5.7zM436.1 445.2l2.9 -5.2h-5.7zM438.1 445.6l2.9 -5.2h-5.7zM440 444.6l2.9 -5.2h-5.7zM442 444.3l2.9 -5.2h-5.7zM444 445.4l2.9 -5.2h-5.7zM445.9 444.7l2.9 -5.2h-5.7zM447.9 444.6l2.9 -5.2h-5.7zM449.9 445l2.9 -5.2h-5.7zM451.8 445.2l2.9 -5.2h-5.7zM453.8 444.8l2.9 -5.2h-5.7zM455.8 445.8l2.9 -5.2h-5.7zM457.7 445l2.9 -5.2h-5.7zM459.7 445.5l2.9 -5.2h-5.7zM461.7 445.2l2.9 -5.2h-5.7zM463.6 444.7l2.9 -5.2h-5.7zM465.6 445.5l2.9 -5.2h-5.7zM467.6 445.5l2.9 -5.2h-5.7zM469.5 445.3l2.9 -5.2h-5.7zM471.5 445.4l2.9 -5.2h-5.7zM473.5 444.9l2.9 -5.2h-5.7zM475.4 445.2l2.9 -5.2h-5.7zM477.4 445l2.9 -5.2h-5.7zM479.4 445.4l2.9 -5.2h-5.7zM481.3 445.5l2.9 -5.2h-5.7zM483.3 445.5l2.9 -5.2h-5.7zM485.3 445.6l2.9 -5.2h-5.7zM487.2 445.5l2.9 -5.2h-5.7zM489.2 446.1l2.9 -5.2h-5.7zM491.2 445.7l2.9 -5.2h-5.7zM493.2 445.3l2.9 -5.2h-5.7zM495.1 445.5l2.9 -5.2h-5.7zM497.1 445.2l2.9 -5.2h-5.7zM499.1 442.4l2.9 -5.2h-5.7zM501 434.9l2.9 -5.2h-5.7zM503 429.8l2.9 -5.2h-5.7zM505 422.9l2.9 -5.2h-5.7zM506.9 415.4l2.9 -5.2h-5.7zM508.9 408.6l2.9 -5.2h-5.7zM510.9 400.7l2.9 -5.2h-5.7zM512.8 396.2l2.9 -5.2h-5.7zM514.8 388.2l2.9 -5.2h-5.7zM516.8 379.7l2.9 -5.2h-5.7zM518.7 373.6l2.9 -5.2h-5.7zM520.7 372.6l2.9 -5.2h-5.7zM522.7 371l2.9 -5.2h-5.7zM524.6 369.9l2.9 -5.2h-5.7zM526.6 368.5l2.9 -5.2h-5.7zM528.6 366.7l2.9 -5.2h-5.7zM530.5 365.9l2.9 -5.2h-5.7zM532.5 366l2.9 -5.2h-5.7zM534.5 364.6l2.9 -5.2h-5.7zM536.4 364.6l2.9 -5.2h-5.7zM538.4 364.3l2.9 -5.2h-5.7zM540.4 364.4l2.9 -5.2h-5.7zM542.3 364.5l2.9 -5.2h-5.7zM544.3 364.5l2.9 -5.2h-5.7zM546.3 362.8l2.9 -5.2h-5.7zM548.3 363.6l2.9 -5.2h-5.7zM550.2 363.6l2.9 -5.2h-5.7zM552.2 362.7l2.9 -5.2h-5.7zM554.2 363.3l2.9 -5.2h-5.7zM556.1 363.6l2.9 -5.2h-5.7zM558.1 362.9l2.9 -5.2h-5.7zM560.1 363.2l2.9 -5.2h-5.7zM562 362.5l2.9 -5.2h-5.7zM564 363.6l2.9 -5.2h-5.7zM566 362.9l2.9 -5.2h-5.7zM567.9 363.2l2.9 -5.2h-5.7zM569.9 362.6l2.9 -5.2h-5.7zM571.9 362.8l2.9 -5.2h-5.7zM573.8 362l2.9 -5.2h-5.7zM575.8 362.6l2.9 -5.2h-5.7zM577.8 362.7l2.9 -5.2h-5.7zM579.7 363.5l2.9 -5.2h-5.7zM581.7 362.8l2.9 -5.2h-5.7zM583.7 363l2.9 -5.2h-5.7zM585.6 362.6l2.9 -5.2h-5.7zM587.6 362.5l2.9 -5.2h-5.7zM589.6 362.2l2.9 -5.2h-5.7zM591.5 363l2.9 -5.2h-5.7zM593.5 362.2l2.9 -5.2h-5.7zM595.5 363.4l2.9 -5.2h-5.7zM597.4 362.5l2.9 -5.2h-5.7zM599.4 362.6l2.9 -5.2h-5.7zM601.4 362.9l2.9 -5.2h-5.7zM603.4 362.7l2.9 -5.2h-5.7zM605.3 362.4l2.9 -5.2h-5.7zM607.3 363.5l2.9 -5.2h-5.7zM609.3 361.9l2.9 -5.2h-5.7zM611.2 362.5l2.9 -5.2h-5.7zM613.2 362.7l2.9 -5.2h-5.7zM615.2 362.3l2.9 -5.2h-5.7zM617.1 361.9l2.9 -5.2h-5.7zM619.1 362.2l2.9 -5.2h-5.7zM621.1 362.1l2.9 -5.2h-5.7zM623 362.1l2.9 -5.2h-5.7z"/>
<path fill="#ebbd2b" d="M407.6 425.9l5.2 -2.9v5.7zM409.5 425.5l5.2 -2.9v5.7zM411.4 423.7l5.2 -2.9v5.7zM413.3 423.9l5.2 -2.9v5.7zM415.2 422l5.2 -2.9v5.7zM417.1 422.5l5.2 -2.9v5.7zM418.9 422l5.2 -2.9v5.7zM420.8 420.8l5.2 -2.9v5.7zM422.7 420.3l5.2 -2.9v5.7zM424.6 419.3l5.2 -2.9v5.7zM426.5 420.1l5.2 -2.9v5.7zM428.3 421.2l5.2 -2.9v5.7zM430.2 419.5l5.2 -2.9v5.7zM432.1 418.9l5.2 -2.9v5.7zM434 419.3l5.2 -2.9v5.7zM435.9 417.2l5.2 -2.9v5.7zM437.8 415.2l5.2 -2.9v5.7zM439.6 413l5.2 -2.9v5.7zM441.5 411l5.2 -2.9v5.7zM443.4 409.3l5.2 -2.9v5.7zM445.3 401.6l5.2 -2.9v5.7zM447.2 396.5l5.2 -2.9v5.7zM449.1 391.9l5.2 -2.9v5.7zM450.9 384.4l5.2 -2.9v5.7zM452.8 379.7l5.2 -2.9v5.7zM454.7 374l5.2 -2.9v5.7zM456.6 372.3l5.2 -2.9v5.7zM458.5 368.2l5.2 -2.9v5.7zM460.3 366.3l5.2 -2.9v5.7zM462.2 364.4l5.2 -2.9v5.7zM464.1 362.7l5.2 -2.9v5.7zM466 360.4l5.2 -2.9v5.7zM467.9 360.2l5.2 -2.9v5.7zM469.8 358.8l5.2 -2.9v5.7zM471.6 357.3l5.2 -2.9v5.7zM473.5 359.2l5.2 -2.9v5.7zM475.4 357.8l5.2 -2.9v5.7zM477.3 358l5.2 -2.9v5.7zM479.2 358.6l5.2 -2.9v5.7zM481.1 357.5l5.2 -2.9v5.7zM482.9 357.7l5.2 -2.9v5.7zM484.8 357.9l5.2 -2.9v5.7zM486.7 358.2l5.2 -2.9v5.7zM488.6 358.6l5.2 -2.9v5.7zM490.5 359.1l5.2 -2.9v5.7zM492.3 359.8l5.2 -2.9v5.7zM494.2 358.6l5.2 -2.9v5.7zM496.1 357.7l5.2 -2.9v5.7zM498 359l5.2 -2.9v5.7zM499.9 359.6l5.2 -2.9v5.7zM501.8 359.3l5.2 -2.9v5.7zM503.6 360.5l5.2 -2.9v5.7zM505.5 361.3l5.2 -2.9v5.7zM507.4 359l5.2 -2.9v5.7zM509.3 358.8l5.2 -2.9v5.7zM511.2 357.5l5.2 -2.9v5.7zM513 357.4l5.2 -2.9v5.7zM514.9 358.1l5.2 -2.9v5.7zM516.8 357.8l5.2 -2.9v5.7zM518.7 356.3l5.2 -2.9v5.7zM520.6 357.8l5.2 -2.9v5.7zM522.5 358.6l5.2 -2.9v5.7zM524.3 355.1l5.2 -2.9v5.7zM526.2 356.8l5.2 -2.9v5.7zM528.1 356.3l5.2 -2.9v5.7zM530 356.9l5.2 -2.9v5.7zM531.9 357.5l5.2 -2.9v5.7zM533.8 356.1l5.2 -2.9v5.7zM535.6 356.2l5.2 -2.9v5.7zM537.5 356.5l5.2 -2.9v5.7zM539.4 356.4l5.2 -2.9v5.7zM541.3 356.8l5.2 -2.9v5.7zM543.2 357.1l5.2 -2.9v5.7zM545 356.9l5.2 -2.9v5.7zM546.9 356.7l5.2 -2.9v5.7zM548.8 355.8l5.2 -2.9v5.7zM550.7 356.7l5.2 -2.9v5.7zM552.6 356.3l5.2 -2.9v5.7zM554.5 356.6l5.2 -2.9v5.7zM556.3 356l5.2 -2.9v5.7zM558.2 356.4l5.2 -2.9v5.7zM560.1 356.1l5.2 -2.9v5.7zM562 356.6l5.2 -2.9v5.7zM563.9 356.6l5.2 -2.9v5.7zM565.8 357.2l5.2 -2.9v5.7zM567.6 356.1l5.2 -2.9v5.7zM569.5 355.9l5.2 -2.9v5.7zM571.4 356.2l5.2 -2.9v5.7zM573.3 356.7l5.2 -2.9v5.7zM575.2 356.8l5.2 -2.9v5.7zM577 355.7l5.2 -2.9v5.7zM578.9 355.7l5.2 -2.9v5.7zM580.8 356.9l5.2 -2.9v5.7zM582.7 356.9l5.2 -2.9v5.7zM584.6 357.2l5.2 -2.9v5.7zM586.5 356.5l5.2 -2.9v5.7zM588.3 356l5.2 -2.9v5.7zM590.2 355l5.2 -2.9v5.7zM592.1 356.8l5.2 -2.9v5.7zM594 355.9l5.2 -2.9v5.7zM595.9 355.2l5.2 -2.9v5.7zM597.8 357.2l5.2 -2.9v5.7zM599.6 355.9l5.2 -2.9v5.7zM601.5 356.3l5.2 -2.9v5.7zM603.4 356.3l5.2 -2.9v5.7zM605.3 356l5.2 -2.9v5.7zM607.2 356.2l5.2 -2.9v5.7zM609 356.6l5.2 -2.9v5.7zM610.9 356.2l5.2 -2.9v5.7zM612.8 356.2l5.2 -2.9v5.7zM614.7 356.5l5.2 -2.9v5.7zM616.6 354.9l5.2 -2.9v5.7zM618.5 356.6l5.2 -2.9v5.7zM620.3 356.4l5.2 -2.9v5.7z"/>
</g>
<path fill="#111" d="M516.2 270.8h1.8v2.5h-1.8zM516.2 279.1h1.8v2.5h-1.8zM516.2 287.5h1.8v2.5h-1.8zM516.2 295.9h1.8v2.5h-1.8zM516.2 304.3h1.8v2.5h-1.8zM516.2 312.6h1.8v2.5h-1.8zM516.2 321h1.8v2.5h-1.8zM516.2 329.4h1.8v2.5h-1.8zM516.2 337.8h1.8v2.5h-1.8zM516.2 346.2h1.8v2.5h-1.8zM516.2 354.5h1.8v2.5h-1.8zM516.2 362.9h1.8v2.5h-1.8zM516.2 371.3h1.8v2.5h-1.8zM516.2 379.7h1.8v2.5h-1.8zM516.2 388.1h1.8v2.5h-1.8zM516.2 396.4h1.8v2.5h-1.8zM516.2 404.8h1.8v2.5h-1.8zM516.2 413.2h1.8v2.5h-1.8zM516.2 421.6h1.8v2.5h-1.8zM516.2 430h1.8v2.5h-1.8zM516.2 438.3h1.8v2.5h-1.8z"/>
<text transform="translate(397.5,448.8) scale(1,1.08)" font-size="14.6" text-anchor="end" fill="#555">0.0</text>
<text transform="translate(397.5,405.1) scale(1,1.08)" font-size="14.6" text-anchor="end" fill="#555">0.5</text>
<text transform="translate(397.5,361.4) scale(1,1.08)" font-size="14.6" text-anchor="end" fill="#555">1.0</text>
<text transform="translate(397.5,317.6) scale(1,1.08)" font-size="14.6" text-anchor="end" fill="#555">1.5</text>
<text transform="translate(397.5,273.9) scale(1,1.08)" font-size="14.6" text-anchor="end" fill="#555">2.0</text>
<text transform="translate(636.7,448.8) scale(1,1.08)" font-size="14.6" text-anchor="start" fill="#555">0</text>
<text transform="translate(636.7,413.8) scale(1,1.08)" font-size="14.6" text-anchor="start" fill="#555">2</text>
<text transform="translate(636.7,378.8) scale(1,1.08)" font-size="14.6" text-anchor="start" fill="#555">4</text>
<text transform="translate(636.7,343.9) scale(1,1.08)" font-size="14.6" text-anchor="start" fill="#555">6</text>
<text transform="translate(636.7,308.9) scale(1,1.08)" font-size="14.6" text-anchor="start" fill="#555">8</text>
<text transform="translate(636.7,273.9) scale(1,1.08)" font-size="14.6" text-anchor="start" fill="#555">10</text>
<text transform="translate(410.5,468.8) scale(1,1.08)" font-size="14.6" text-anchor="middle" fill="#555">0</text>
<text transform="translate(453.3,468.8) scale(1,1.08)" font-size="14.6" text-anchor="middle" fill="#555">50</text>
<text transform="translate(496.1,468.8) scale(1,1.08)" font-size="14.6" text-anchor="middle" fill="#555">100</text>
<text transform="translate(538.8,468.8) scale(1,1.08)" font-size="14.6" text-anchor="middle" fill="#555">150</text>
<text transform="translate(581.6,468.8) scale(1,1.08)" font-size="14.6" text-anchor="middle" fill="#555">200</text>
<text transform="translate(624.4,468.8) scale(1,1.08)" font-size="14.6" text-anchor="middle" fill="#555">250</text>
<text transform="translate(517.6,497.2) scale(1,1.04)" font-size="15.6" text-anchor="middle" fill="#555">Depth (nm)</text>
<text transform="translate(511.2,265.8) scale(1,1.07)" font-size="14.8" text-anchor="start" fill="#555">B10A2</text>
<text transform="translate(363.9,356.8) rotate(-90) scale(1,1.12)" font-size="15.5" text-anchor="middle" fill="#555">C<tspan font-size="11" dy="4.6">norm</tspan><tspan dy="-4.6">(i)</tspan></text>
<text transform="translate(675.4,358.2) rotate(-90) scale(1,1.04)" font-size="15.8" text-anchor="middle" fill="#555">C<tspan font-size="11" dy="4.6">norm</tspan><tspan dy="-4.6">(</tspan><tspan fill="#35c6cf">H</tspan><tspan fill="#35c6cf" font-size="9" dy="-4.5">+</tspan><tspan dy="4.5">)</tspan></text>
<text transform="translate(458.3,284.6) scale(1,1.08)" font-size="12.9" text-anchor="start" fill="#555">Gel</text>
<text transform="translate(528,284.6) scale(1,1.08)" font-size="12.9" text-anchor="start" fill="#555">Pristine glass</text>
<path d="M60.7 687.8h5M60.7 679h5M60.7 670.3h5M60.7 661.6h5M60.7 652.9h11M60.7 644.1h5M60.7 635.4h5M60.7 626.7h5M60.7 617.9h5M60.7 609.2h11M60.7 600.5h5M60.7 591.7h5M60.7 583h5M60.7 574.3h5M60.7 565.5h11M60.7 556.8h5M60.7 548.1h5M60.7 539.4h5M60.7 530.6h5M274.6 684.9h-5.5M274.6 673.2h-5.5M274.6 661.6h-5.5M274.6 649.9h-5.5M274.6 638.3h-11M274.6 626.7h-5.5M274.6 615h-5.5M274.6 603.4h-5.5M274.6 591.7h-5.5M274.6 580.1h-11M274.6 568.5h-5.5M274.6 556.8h-5.5M274.6 545.2h-5.5M274.6 533.5h-5.5M69.3 696.5v-4.5M77.8 696.5v-4.5M86.4 696.5v-4.5M94.9 696.5v-4.5M103.5 696.5v-10.5M112 696.5v-4.5M120.6 696.5v-4.5M129.1 696.5v-4.5M137.7 696.5v-4.5M146.3 696.5v-10.5M154.8 696.5v-4.5M163.4 696.5v-4.5M171.9 696.5v-4.5M180.5 696.5v-4.5M189 696.5v-10.5M197.6 696.5v-4.5M206.2 696.5v-4.5M214.7 696.5v-4.5M223.3 696.5v-4.5M231.8 696.5v-10.5M240.4 696.5v-4.5M248.9 696.5v-4.5M257.5 696.5v-4.5M266 696.5v-4.5" stroke="#111" stroke-width="1.4" fill="none"/>
<rect x="60.7" y="521.9" width="213.9" height="174.6" fill="none" stroke="#111" stroke-width="1.5"/>
<clipPath id="c5"><rect x="60.2" y="521.4" width="214.9" height="175.6"/></clipPath><g clip-path="url(#c5)">
<polyline fill="none" stroke="#f3b3fb" stroke-width="4.5" stroke-linejoin="round" stroke-linecap="round" points="60.7,633.6 62.4,628.4 68.4,621.4 75.5,621.4 110.5,621.4 146.3,619.2 177.7,615.7 194,612.7 212.6,607.5 223.3,600.5 226.5,597.9 229.7,602.2 232.9,609.2 274.6,609.2"/>
<path fill="#f3b3fb" d="M60.7 629.8l2.8 5h-5.5zM61 631.8l2.8 5h-5.5zM61.4 629.6l2.8 5h-5.5zM61.7 627.6l2.8 5h-5.5zM62.1 625.9l2.8 5h-5.5zM62.4 626.4l2.8 5h-5.5zM63.1 624.6l2.8 5h-5.5zM63.7 624.6l2.8 5h-5.5zM64.4 623.5l2.8 5h-5.5zM65.1 621.8l2.8 5h-5.5zM65.7 622.2l2.8 5h-5.5zM66.4 619.7l2.8 5h-5.5zM67.1 620.2l2.8 5h-5.5zM67.7 617.4l2.8 5h-5.5zM68.4 618.9l2.8 5h-5.5zM69.4 619.6l2.8 5h-5.5zM70.4 619.1l2.8 5h-5.5zM71.4 617.5l2.8 5h-5.5zM72.4 620.1l2.8 5h-5.5zM73.4 618.5l2.8 5h-5.5zM74.5 616.9l2.8 5h-5.5zM75.5 618.6l2.8 5h-5.5zM76.5 617.9l2.8 5h-5.5zM77.5 617.9l2.8 5h-5.5zM78.5 620.1l2.8 5h-5.5zM79.5 619.6l2.8 5h-5.5zM80.5 617.7l2.8 5h-5.5zM81.5 619.3l2.8 5h-5.5zM82.5 618.4l2.8 5h-5.5zM83.5 617.9l2.8 5h-5.5zM84.5 619.5l2.8 5h-5.5zM85.5 620l2.8 5h-5.5zM86.5 618l2.8 5h-5.5zM87.5 620.1l2.8 5h-5.5zM88.5 619.3l2.8 5h-5.5zM89.5 618.2l2.8 5h-5.5zM90.5 619.4l2.8 5h-5.5zM91.5 618.1l2.8 5h-5.5zM92.5 618.8l2.8 5h-5.5zM93.5 617.3l2.8 5h-5.5zM94.5 618.9l2.8 5h-5.5zM95.5 619.5l2.8 5h-5.5zM96.5 616.7l2.8 5h-5.5zM97.5 620l2.8 5h-5.5zM98.5 617.5l2.8 5h-5.5zM99.5 620.8l2.8 5h-5.5zM100.5 619.4l2.8 5h-5.5zM101.5 616.8l2.8 5h-5.5zM102.5 619.7l2.8 5h-5.5zM103.5 618.7l2.8 5h-5.5zM104.5 617.8l2.8 5h-5.5zM105.5 619.5l2.8 5h-5.5zM106.5 618.8l2.8 5h-5.5zM107.5 619.3l2.8 5h-5.5zM108.5 618.4l2.8 5h-5.5zM109.5 618.7l2.8 5h-5.5zM110.5 618.9l2.8 5h-5.5zM111.6 618.1l2.8 5h-5.5zM112.6 617.9l2.8 5h-5.5zM113.6 617.6l2.8 5h-5.5zM114.6 618.9l2.8 5h-5.5zM115.6 618.2l2.8 5h-5.5zM116.7 618.1l2.8 5h-5.5zM117.7 620.1l2.8 5h-5.5zM118.7 617.9l2.8 5h-5.5zM119.7 618.8l2.8 5h-5.5zM120.7 619.4l2.8 5h-5.5zM121.8 618.9l2.8 5h-5.5zM122.8 617l2.8 5h-5.5zM123.8 618.4l2.8 5h-5.5zM124.8 617.1l2.8 5h-5.5zM125.8 617.1l2.8 5h-5.5zM126.9 616.7l2.8 5h-5.5zM127.9 617.5l2.8 5h-5.5zM128.9 616.1l2.8 5h-5.5zM129.9 618.3l2.8 5h-5.5zM131 616.9l2.8 5h-5.5zM132 617.3l2.8 5h-5.5zM133 617.1l2.8 5h-5.5zM134 616.2l2.8 5h-5.5zM135 617.1l2.8 5h-5.5zM136.1 618.8l2.8 5h-5.5zM137.1 617.5l2.8 5h-5.5zM138.1 616.8l2.8 5h-5.5zM139.1 616.4l2.8 5h-5.5zM140.1 614.7l2.8 5h-5.5zM141.2 615.7l2.8 5h-5.5zM142.2 616.6l2.8 5h-5.5zM143.2 617.4l2.8 5h-5.5zM144.2 617.1l2.8 5h-5.5zM145.2 617.5l2.8 5h-5.5zM146.3 616.6l2.8 5h-5.5zM147.3 616.9l2.8 5h-5.5zM148.3 616.1l2.8 5h-5.5zM149.3 616.4l2.8 5h-5.5zM150.3 615.7l2.8 5h-5.5zM151.3 615.6l2.8 5h-5.5zM152.3 617.6l2.8 5h-5.5zM153.4 614.6l2.8 5h-5.5zM154.4 614.7l2.8 5h-5.5zM155.4 617l2.8 5h-5.5zM156.4 614.6l2.8 5h-5.5zM157.4 614.1l2.8 5h-5.5zM158.4 616l2.8 5h-5.5zM159.4 616.7l2.8 5h-5.5zM160.5 615.1l2.8 5h-5.5zM161.5 615.9l2.8 5h-5.5zM162.5 615.4l2.8 5h-5.5zM163.5 613.5l2.8 5h-5.5zM164.5 614.6l2.8 5h-5.5zM165.5 615.1l2.8 5h-5.5zM166.5 613.8l2.8 5h-5.5zM167.6 614.3l2.8 5h-5.5zM168.6 613.9l2.8 5h-5.5zM169.6 613.1l2.8 5h-5.5zM170.6 614.9l2.8 5h-5.5zM171.6 614.2l2.8 5h-5.5zM172.6 614.7l2.8 5h-5.5zM173.6 613.4l2.8 5h-5.5zM174.7 616.3l2.8 5h-5.5zM175.7 612.9l2.8 5h-5.5zM176.7 612.8l2.8 5h-5.5zM177.7 611.6l2.8 5h-5.5zM178.7 612.5l2.8 5h-5.5zM179.7 610.5l2.8 5h-5.5zM180.8 612.1l2.8 5h-5.5zM181.8 611.5l2.8 5h-5.5zM182.8 612.5l2.8 5h-5.5zM183.8 609.8l2.8 5h-5.5zM184.8 611.3l2.8 5h-5.5zM185.8 612.4l2.8 5h-5.5zM186.8 609.8l2.8 5h-5.5zM187.9 610.3l2.8 5h-5.5zM188.9 609.2l2.8 5h-5.5zM189.9 609.1l2.8 5h-5.5zM190.9 609.1l2.8 5h-5.5zM191.9 609.9l2.8 5h-5.5zM192.9 609.5l2.8 5h-5.5zM194 611.7l2.8 5h-5.5zM194.9 608.5l2.8 5h-5.5zM195.9 609.3l2.8 5h-5.5zM196.9 610.3l2.8 5h-5.5zM197.9 610.9l2.8 5h-5.5zM198.9 605.8l2.8 5h-5.5zM199.8 609l2.8 5h-5.5zM200.8 607.4l2.8 5h-5.5zM201.8 607.9l2.8 5h-5.5zM202.8 606.9l2.8 5h-5.5zM203.8 607.2l2.8 5h-5.5zM204.7 606.8l2.8 5h-5.5zM205.7 605.7l2.8 5h-5.5zM206.7 609.2l2.8 5h-5.5zM207.7 604.9l2.8 5h-5.5zM208.7 606.9l2.8 5h-5.5zM209.6 606.2l2.8 5h-5.5zM210.6 605.4l2.8 5h-5.5zM211.6 604.8l2.8 5h-5.5zM212.6 603.2l2.8 5h-5.5zM213.5 606.1l2.8 5h-5.5zM214.4 602.8l2.8 5h-5.5zM215.2 602.5l2.8 5h-5.5zM216.1 602.3l2.8 5h-5.5zM217 602.5l2.8 5h-5.5zM217.9 600.5l2.8 5h-5.5zM218.8 600.8l2.8 5h-5.5zM219.7 599.1l2.8 5h-5.5zM220.6 600.3l2.8 5h-5.5zM221.5 598.4l2.8 5h-5.5zM222.4 598l2.8 5h-5.5zM223.3 599l2.8 5h-5.5zM224.1 598.4l2.8 5h-5.5zM224.9 596.8l2.8 5h-5.5zM225.7 595l2.8 5h-5.5zM226.5 594.5l2.8 5h-5.5zM227.1 595.7l2.8 5h-5.5zM227.8 599.1l2.8 5h-5.5zM228.4 595.5l2.8 5h-5.5zM229 599.6l2.8 5h-5.5zM229.7 599.7l2.8 5h-5.5zM230.1 599.9l2.8 5h-5.5zM230.6 601.6l2.8 5h-5.5zM231.1 603.9l2.8 5h-5.5zM231.5 602.1l2.8 5h-5.5zM232 604.4l2.8 5h-5.5zM232.4 605.5l2.8 5h-5.5zM232.9 607.1l2.8 5h-5.5zM233.9 605.8l2.8 5h-5.5zM234.9 605.6l2.8 5h-5.5zM235.9 607.1l2.8 5h-5.5zM237 607.8l2.8 5h-5.5zM238 607.4l2.8 5h-5.5zM239 606.5l2.8 5h-5.5zM240 607.5l2.8 5h-5.5zM241 605.5l2.8 5h-5.5zM242 606.3l2.8 5h-5.5zM243.1 605.6l2.8 5h-5.5zM244.1 607.6l2.8 5h-5.5zM245.1 607.2l2.8 5h-5.5zM246.1 606.5l2.8 5h-5.5zM247.1 605.8l2.8 5h-5.5zM248.1 607.5l2.8 5h-5.5zM249.2 605.5l2.8 5h-5.5zM250.2 605.9l2.8 5h-5.5zM251.2 607.4l2.8 5h-5.5zM252.2 605.9l2.8 5h-5.5zM253.2 606.9l2.8 5h-5.5zM254.3 606.5l2.8 5h-5.5zM255.3 604.8l2.8 5h-5.5zM256.3 608.8l2.8 5h-5.5zM257.3 605.9l2.8 5h-5.5zM258.3 605.5l2.8 5h-5.5zM259.3 607.1l2.8 5h-5.5zM260.4 607l2.8 5h-5.5zM261.4 608.1l2.8 5h-5.5zM262.4 607l2.8 5h-5.5zM263.4 604.7l2.8 5h-5.5zM264.4 606.2l2.8 5h-5.5zM265.4 607.7l2.8 5h-5.5zM266.5 605.8l2.8 5h-5.5zM267.5 606.4l2.8 5h-5.5zM268.5 607.3l2.8 5h-5.5zM269.5 607.2l2.8 5h-5.5zM270.5 607.4l2.8 5h-5.5zM271.5 606.3l2.8 5h-5.5zM272.6 606.1l2.8 5h-5.5zM273.6 606.3l2.8 5h-5.5zM274.6 606.1l2.8 5h-5.5z"/>
<polyline fill="none" stroke="#9a9a9a" stroke-width="4.5" stroke-linejoin="round" stroke-linecap="round" points="60.7,609.2 274.6,609.2"/>
<path fill="#9a9a9a" d="M60.7 606.7l2.5 2.5 -2.5 2.5 -2.5 -2.5zM62.2 606.7l2.5 2.5 -2.5 2.5 -2.5 -2.5zM63.7 606.7l2.5 2.5 -2.5 2.5 -2.5 -2.5zM65.2 606.7l2.5 2.5 -2.5 2.5 -2.5 -2.5zM66.7 606.7l2.5 2.5 -2.5 2.5 -2.5 -2.5zM68.2 606.7l2.5 2.5 -2.5 2.5 -2.5 -2.5zM69.7 606.7l2.5 2.5 -2.5 2.5 -2.5 -2.5zM71.2 606.7l2.5 2.5 -2.5 2.5 -2.5 -2.5zM72.8 606.7l2.5 2.5 -2.5 2.5 -2.5 -2.5zM74.3 606.7l2.5 2.5 -2.5 2.5 -2.5 -2.5zM75.8 606.7l2.5 2.5 -2.5 2.5 -2.5 -2.5zM77.3 606.7l2.5 2.5 -2.5 2.5 -2.5 -2.5zM78.8 606.7l2.5 2.5 -2.5 2.5 -2.5 -2.5zM80.3 606.7l2.5 2.5 -2.5 2.5 -2.5 -2.5zM81.8 606.7l2.5 2.5 -2.5 2.5 -2.5 -2.5zM83.3 606.7l2.5 2.5 -2.5 2.5 -2.5 -2.5zM84.8 606.7l2.5 2.5 -2.5 2.5 -2.5 -2.5zM86.3 606.7l2.5 2.5 -2.5 2.5 -2.5 -2.5zM87.8 606.7l2.5 2.5 -2.5 2.5 -2.5 -2.5zM89.3 606.7l2.5 2.5 -2.5 2.5 -2.5 -2.5zM90.8 606.7l2.5 2.5 -2.5 2.5 -2.5 -2.5zM92.3 606.7l2.5 2.5 -2.5 2.5 -2.5 -2.5zM93.8 606.7l2.5 2.5 -2.5 2.5 -2.5 -2.5zM95.3 606.7l2.5 2.5 -2.5 2.5 -2.5 -2.5zM96.9 606.7l2.5 2.5 -2.5 2.5 -2.5 -2.5zM98.4 606.7l2.5 2.5 -2.5 2.5 -2.5 -2.5zM99.9 606.7l2.5 2.5 -2.5 2.5 -2.5 -2.5zM101.4 606.7l2.5 2.5 -2.5 2.5 -2.5 -2.5zM102.9 606.7l2.5 2.5 -2.5 2.5 -2.5 -2.5zM104.4 606.7l2.5 2.5 -2.5 2.5 -2.5 -2.5zM105.9 606.7l2.5 2.5 -2.5 2.5 -2.5 -2.5zM107.4 606.7l2.5 2.5 -2.5 2.5 -2.5 -2.5zM108.9 606.7l2.5 2.5 -2.5 2.5 -2.5 -2.5zM110.4 606.7l2.5 2.5 -2.5 2.5 -2.5 -2.5zM111.9 606.7l2.5 2.5 -2.5 2.5 -2.5 -2.5zM113.4 606.7l2.5 2.5 -2.5 2.5 -2.5 -2.5zM114.9 606.7l2.5 2.5 -2.5 2.5 -2.5 -2.5zM116.4 606.7l2.5 2.5 -2.5 2.5 -2.5 -2.5zM117.9 606.7l2.5 2.5 -2.5 2.5 -2.5 -2.5zM119.4 606.7l2.5 2.5 -2.5 2.5 -2.5 -2.5zM121 606.7l2.5 2.5 -2.5 2.5 -2.5 -2.5zM122.5 606.7l2.5 2.5 -2.5 2.5 -2.5 -2.5zM124 606.7l2.5 2.5 -2.5 2.5 -2.5 -2.5zM125.5 606.7l2.5 2.5 -2.5 2.5 -2.5 -2.5zM127 606.7l2.5 2.5 -2.5 2.5 -2.5 -2.5zM128.5 606.7l2.5 2.5 -2.5 2.5 -2.5 -2.5zM130 606.7l2.5 2.5 -2.5 2.5 -2.5 -2.5zM131.5 606.7l2.5 2.5 -2.5 2.5 -2.5 -2.5zM133 606.7l2.5 2.5 -2.5 2.5 -2.5 -2.5zM134.5 606.7l2.5 2.5 -2.5 2.5 -2.5 -2.5zM136 606.7l2.5 2.5 -2.5 2.5 -2.5 -2.5zM137.5 606.7l2.5 2.5 -2.5 2.5 -2.5 -2.5zM139 606.7l2.5 2.5 -2.5 2.5 -2.5 -2.5zM140.5 606.7l2.5 2.5 -2.5 2.5 -2.5 -2.5zM142 606.7l2.5 2.5 -2.5 2.5 -2.5 -2.5zM143.5 606.7l2.5 2.5 -2.5 2.5 -2.5 -2.5zM145.1 606.7l2.5 2.5 -2.5 2.5 -2.5 -2.5zM146.6 606.7l2.5 2.5 -2.5 2.5 -2.5 -2.5zM148.1 606.7l2.5 2.5 -2.5 2.5 -2.5 -2.5zM149.6 606.7l2.5 2.5 -2.5 2.5 -2.5 -2.5zM151.1 606.7l2.5 2.5 -2.5 2.5 -2.5 -2.5zM152.6 606.7l2.5 2.5 -2.5 2.5 -2.5 -2.5zM154.1 606.7l2.5 2.5 -2.5 2.5 -2.5 -2.5zM155.6 606.7l2.5 2.5 -2.5 2.5 -2.5 -2.5zM157.1 606.7l2.5 2.5 -2.5 2.5 -2.5 -2.5zM158.6 606.7l2.5 2.5 -2.5 2.5 -2.5 -2.5zM160.1 606.7l2.5 2.5 -2.5 2.5 -2.5 -2.5zM161.6 606.7l2.5 2.5 -2.5 2.5 -2.5 -2.5zM163.1 606.7l2.5 2.5 -2.5 2.5 -2.5 -2.5zM164.6 606.7l2.5 2.5 -2.5 2.5 -2.5 -2.5zM166.1 606.7l2.5 2.5 -2.5 2.5 -2.5 -2.5zM167.7 606.7l2.5 2.5 -2.5 2.5 -2.5 -2.5zM169.2 606.7l2.5 2.5 -2.5 2.5 -2.5 -2.5zM170.7 606.7l2.5 2.5 -2.5 2.5 -2.5 -2.5zM172.2 606.7l2.5 2.5 -2.5 2.5 -2.5 -2.5zM173.7 606.7l2.5 2.5 -2.5 2.5 -2.5 -2.5zM175.2 606.7l2.5 2.5 -2.5 2.5 -2.5 -2.5zM176.7 606.7l2.5 2.5 -2.5 2.5 -2.5 -2.5zM178.2 606.7l2.5 2.5 -2.5 2.5 -2.5 -2.5zM179.7 606.7l2.5 2.5 -2.5 2.5 -2.5 -2.5zM181.2 606.7l2.5 2.5 -2.5 2.5 -2.5 -2.5zM182.7 606.7l2.5 2.5 -2.5 2.5 -2.5 -2.5zM184.2 606.7l2.5 2.5 -2.5 2.5 -2.5 -2.5zM185.7 606.7l2.5 2.5 -2.5 2.5 -2.5 -2.5zM187.2 606.7l2.5 2.5 -2.5 2.5 -2.5 -2.5zM188.7 606.7l2.5 2.5 -2.5 2.5 -2.5 -2.5zM190.2 606.7l2.5 2.5 -2.5 2.5 -2.5 -2.5zM191.8 606.7l2.5 2.5 -2.5 2.5 -2.5 -2.5zM193.3 606.7l2.5 2.5 -2.5 2.5 -2.5 -2.5zM194.8 606.7l2.5 2.5 -2.5 2.5 -2.5 -2.5zM196.3 606.7l2.5 2.5 -2.5 2.5 -2.5 -2.5zM197.8 606.7l2.5 2.5 -2.5 2.5 -2.5 -2.5zM199.3 606.7l2.5 2.5 -2.5 2.5 -2.5 -2.5zM200.8 606.7l2.5 2.5 -2.5 2.5 -2.5 -2.5zM202.3 606.7l2.5 2.5 -2.5 2.5 -2.5 -2.5zM203.8 606.7l2.5 2.5 -2.5 2.5 -2.5 -2.5zM205.3 606.7l2.5 2.5 -2.5 2.5 -2.5 -2.5zM206.8 606.7l2.5 2.5 -2.5 2.5 -2.5 -2.5zM208.3 606.7l2.5 2.5 -2.5 2.5 -2.5 -2.5zM209.8 606.7l2.5 2.5 -2.5 2.5 -2.5 -2.5zM211.3 606.7l2.5 2.5 -2.5 2.5 -2.5 -2.5zM212.8 606.7l2.5 2.5 -2.5 2.5 -2.5 -2.5zM214.3 606.7l2.5 2.5 -2.5 2.5 -2.5 -2.5zM215.9 606.7l2.5 2.5 -2.5 2.5 -2.5 -2.5zM217.4 606.7l2.5 2.5 -2.5 2.5 -2.5 -2.5zM218.9 606.7l2.5 2.5 -2.5 2.5 -2.5 -2.5zM220.4 606.7l2.5 2.5 -2.5 2.5 -2.5 -2.5zM221.9 606.7l2.5 2.5 -2.5 2.5 -2.5 -2.5zM223.4 606.7l2.5 2.5 -2.5 2.5 -2.5 -2.5zM224.9 606.7l2.5 2.5 -2.5 2.5 -2.5 -2.5zM226.4 606.7l2.5 2.5 -2.5 2.5 -2.5 -2.5zM227.9 606.7l2.5 2.5 -2.5 2.5 -2.5 -2.5zM229.4 606.7l2.5 2.5 -2.5 2.5 -2.5 -2.5zM230.9 606.7l2.5 2.5 -2.5 2.5 -2.5 -2.5zM232.4 606.7l2.5 2.5 -2.5 2.5 -2.5 -2.5zM233.9 606.7l2.5 2.5 -2.5 2.5 -2.5 -2.5zM235.4 606.7l2.5 2.5 -2.5 2.5 -2.5 -2.5zM236.9 606.7l2.5 2.5 -2.5 2.5 -2.5 -2.5zM238.4 606.7l2.5 2.5 -2.5 2.5 -2.5 -2.5zM240 606.7l2.5 2.5 -2.5 2.5 -2.5 -2.5zM241.5 606.7l2.5 2.5 -2.5 2.5 -2.5 -2.5zM243 606.7l2.5 2.5 -2.5 2.5 -2.5 -2.5zM244.5 606.7l2.5 2.5 -2.5 2.5 -2.5 -2.5zM246 606.7l2.5 2.5 -2.5 2.5 -2.5 -2.5zM247.5 606.7l2.5 2.5 -2.5 2.5 -2.5 -2.5zM249 606.7l2.5 2.5 -2.5 2.5 -2.5 -2.5zM250.5 606.7l2.5 2.5 -2.5 2.5 -2.5 -2.5zM252 606.7l2.5 2.5 -2.5 2.5 -2.5 -2.5zM253.5 606.7l2.5 2.5 -2.5 2.5 -2.5 -2.5zM255 606.7l2.5 2.5 -2.5 2.5 -2.5 -2.5zM256.5 606.7l2.5 2.5 -2.5 2.5 -2.5 -2.5zM258 606.7l2.5 2.5 -2.5 2.5 -2.5 -2.5zM259.5 606.7l2.5 2.5 -2.5 2.5 -2.5 -2.5zM261 606.7l2.5 2.5 -2.5 2.5 -2.5 -2.5zM262.5 606.7l2.5 2.5 -2.5 2.5 -2.5 -2.5zM264.1 606.7l2.5 2.5 -2.5 2.5 -2.5 -2.5zM265.6 606.7l2.5 2.5 -2.5 2.5 -2.5 -2.5zM267.1 606.7l2.5 2.5 -2.5 2.5 -2.5 -2.5zM268.6 606.7l2.5 2.5 -2.5 2.5 -2.5 -2.5zM270.1 606.7l2.5 2.5 -2.5 2.5 -2.5 -2.5zM271.6 606.7l2.5 2.5 -2.5 2.5 -2.5 -2.5zM273.1 606.7l2.5 2.5 -2.5 2.5 -2.5 -2.5zM274.6 606.7l2.5 2.5 -2.5 2.5 -2.5 -2.5z"/>
<path fill="#7cf8f2" d="M58.6 551.1h4.2v4.2h-4.2zM59.5 546.8h4.2v4.2h-4.2zM60.5 545.9h4.2v4.2h-4.2zM61.4 552h4.2v4.2h-4.2zM62.3 552.2h4.2v4.2h-4.2zM63.3 556.2h4.2v4.2h-4.2zM64.2 568h4.2v4.2h-4.2zM65.1 569.5h4.2v4.2h-4.2zM66.1 564.3h4.2v4.2h-4.2zM67 559.7h4.2v4.2h-4.2zM67.9 564.6h4.2v4.2h-4.2zM68.9 570h4.2v4.2h-4.2zM69.8 575.4h4.2v4.2h-4.2zM70.7 580.1h4.2v4.2h-4.2zM71.7 575.3h4.2v4.2h-4.2zM72.6 576.4h4.2v4.2h-4.2zM73.5 584.4h4.2v4.2h-4.2zM74.5 589.9h4.2v4.2h-4.2zM75.4 588h4.2v4.2h-4.2zM76.3 582.5h4.2v4.2h-4.2zM77.3 582.5h4.2v4.2h-4.2zM78.2 588.9h4.2v4.2h-4.2zM79.1 582.4h4.2v4.2h-4.2zM80.1 590.4h4.2v4.2h-4.2zM81 596.4h4.2v4.2h-4.2zM82 594.3h4.2v4.2h-4.2zM82.9 584.7h4.2v4.2h-4.2zM83.8 588h4.2v4.2h-4.2zM84.8 597.8h4.2v4.2h-4.2zM85.7 595.4h4.2v4.2h-4.2zM86.6 594.4h4.2v4.2h-4.2zM87.6 593.8h4.2v4.2h-4.2zM88.5 601.2h4.2v4.2h-4.2zM89.4 588.5h4.2v4.2h-4.2zM90.4 594.9h4.2v4.2h-4.2zM91.3 599.5h4.2v4.2h-4.2zM92.2 603.6h4.2v4.2h-4.2zM93.2 596.3h4.2v4.2h-4.2zM94.1 591.6h4.2v4.2h-4.2zM95 595.4h4.2v4.2h-4.2zM96 594h4.2v4.2h-4.2zM96.9 594.4h4.2v4.2h-4.2zM97.8 598.1h4.2v4.2h-4.2zM98.8 607.8h4.2v4.2h-4.2zM99.7 604.8h4.2v4.2h-4.2zM100.6 603.4h4.2v4.2h-4.2zM101.6 608.5h4.2v4.2h-4.2zM102.5 614.1h4.2v4.2h-4.2zM103.4 619h4.2v4.2h-4.2zM104.4 609.8h4.2v4.2h-4.2zM105.3 615h4.2v4.2h-4.2zM106.2 622.6h4.2v4.2h-4.2zM107.2 622.1h4.2v4.2h-4.2zM108.1 618.3h4.2v4.2h-4.2zM109 630h4.2v4.2h-4.2zM110 623h4.2v4.2h-4.2zM110.9 629h4.2v4.2h-4.2zM111.8 619.2h4.2v4.2h-4.2zM112.8 621h4.2v4.2h-4.2zM113.7 619h4.2v4.2h-4.2zM114.6 627.5h4.2v4.2h-4.2zM115.6 625.9h4.2v4.2h-4.2zM116.5 628.8h4.2v4.2h-4.2zM117.4 628.6h4.2v4.2h-4.2zM118.4 619.8h4.2v4.2h-4.2zM119.3 619.8h4.2v4.2h-4.2zM120.2 619.6h4.2v4.2h-4.2zM121.2 621h4.2v4.2h-4.2zM122.1 627.4h4.2v4.2h-4.2zM123.1 625.1h4.2v4.2h-4.2zM124 621.6h4.2v4.2h-4.2zM124.9 628.9h4.2v4.2h-4.2zM125.9 621.8h4.2v4.2h-4.2zM126.8 623.9h4.2v4.2h-4.2zM127.7 631.8h4.2v4.2h-4.2zM128.7 630.9h4.2v4.2h-4.2zM129.6 626.3h4.2v4.2h-4.2zM130.5 634.3h4.2v4.2h-4.2zM131.5 633.3h4.2v4.2h-4.2zM132.4 634.4h4.2v4.2h-4.2zM133.3 636h4.2v4.2h-4.2zM134.3 624.4h4.2v4.2h-4.2zM135.2 623.3h4.2v4.2h-4.2zM136.1 626.2h4.2v4.2h-4.2zM137.1 631.2h4.2v4.2h-4.2zM138 627.9h4.2v4.2h-4.2zM138.9 629h4.2v4.2h-4.2zM139.9 632.9h4.2v4.2h-4.2zM140.8 632h4.2v4.2h-4.2zM141.7 638.1h4.2v4.2h-4.2zM142.7 636.7h4.2v4.2h-4.2zM143.6 635.4h4.2v4.2h-4.2zM144.5 635.5h4.2v4.2h-4.2zM145.5 631.2h4.2v4.2h-4.2zM146.4 637.6h4.2v4.2h-4.2zM147.3 637.8h4.2v4.2h-4.2zM148.3 628.6h4.2v4.2h-4.2zM149.2 630.1h4.2v4.2h-4.2zM150.1 628.1h4.2v4.2h-4.2zM151.1 630.6h4.2v4.2h-4.2zM152 639.4h4.2v4.2h-4.2zM152.9 635.3h4.2v4.2h-4.2zM153.9 630.3h4.2v4.2h-4.2zM154.8 630.9h4.2v4.2h-4.2zM155.7 639.7h4.2v4.2h-4.2zM156.7 636.1h4.2v4.2h-4.2zM157.6 634.7h4.2v4.2h-4.2zM158.5 643.5h4.2v4.2h-4.2zM159.5 640.3h4.2v4.2h-4.2zM160.4 633.1h4.2v4.2h-4.2zM161.3 634.3h4.2v4.2h-4.2zM162.3 637.6h4.2v4.2h-4.2zM163.2 635.7h4.2v4.2h-4.2zM164.1 636.4h4.2v4.2h-4.2zM165.1 639.1h4.2v4.2h-4.2zM166 642.9h4.2v4.2h-4.2zM167 633.2h4.2v4.2h-4.2zM167.9 632.7h4.2v4.2h-4.2zM168.8 637.7h4.2v4.2h-4.2zM169.8 632.8h4.2v4.2h-4.2zM170.7 631.9h4.2v4.2h-4.2zM171.6 633.9h4.2v4.2h-4.2zM172.6 632.2h4.2v4.2h-4.2zM173.5 629.8h4.2v4.2h-4.2zM174.4 643.2h4.2v4.2h-4.2zM175.4 629.4h4.2v4.2h-4.2zM176.3 636.4h4.2v4.2h-4.2zM177.2 631.2h4.2v4.2h-4.2zM178.2 631.4h4.2v4.2h-4.2zM179.1 640.6h4.2v4.2h-4.2zM180 633h4.2v4.2h-4.2zM181 640h4.2v4.2h-4.2zM181.9 630.1h4.2v4.2h-4.2zM182.8 635.6h4.2v4.2h-4.2zM183.8 634.7h4.2v4.2h-4.2zM184.7 635.9h4.2v4.2h-4.2zM185.6 627.6h4.2v4.2h-4.2zM186.6 629.8h4.2v4.2h-4.2zM187.5 634.5h4.2v4.2h-4.2zM188.4 627.8h4.2v4.2h-4.2zM189.4 635.9h4.2v4.2h-4.2zM190.3 626.6h4.2v4.2h-4.2zM191.2 629.4h4.2v4.2h-4.2zM192.2 626.9h4.2v4.2h-4.2zM193.1 629h4.2v4.2h-4.2zM194 623.4h4.2v4.2h-4.2zM195 627.6h4.2v4.2h-4.2zM195.9 630.9h4.2v4.2h-4.2zM196.8 628.9h4.2v4.2h-4.2zM197.8 629.1h4.2v4.2h-4.2zM198.7 633.1h4.2v4.2h-4.2zM199.6 632.7h4.2v4.2h-4.2zM200.6 625.2h4.2v4.2h-4.2zM201.5 624.8h4.2v4.2h-4.2zM202.4 622.5h4.2v4.2h-4.2zM203.4 626.5h4.2v4.2h-4.2zM204.3 629.1h4.2v4.2h-4.2zM205.2 630.6h4.2v4.2h-4.2zM206.2 625.8h4.2v4.2h-4.2zM207.1 626.5h4.2v4.2h-4.2zM208 622h4.2v4.2h-4.2zM209 624.8h4.2v4.2h-4.2zM209.9 630.1h4.2v4.2h-4.2zM210.9 631.5h4.2v4.2h-4.2zM211.8 634.8h4.2v4.2h-4.2zM212.7 623.6h4.2v4.2h-4.2zM213.7 628.5h4.2v4.2h-4.2zM214.6 628.7h4.2v4.2h-4.2zM215.5 633.4h4.2v4.2h-4.2zM216.5 626.5h4.2v4.2h-4.2zM217.4 620.2h4.2v4.2h-4.2zM218.3 629.1h4.2v4.2h-4.2zM219.3 621.9h4.2v4.2h-4.2zM220.2 621.3h4.2v4.2h-4.2zM221.1 622.4h4.2v4.2h-4.2zM222.1 622.9h4.2v4.2h-4.2zM223 627h4.2v4.2h-4.2zM223.9 619.7h4.2v4.2h-4.2zM224.9 620.1h4.2v4.2h-4.2zM225.8 613.4h4.2v4.2h-4.2zM226.7 619.1h4.2v4.2h-4.2zM227.7 623.1h4.2v4.2h-4.2zM228.6 616.6h4.2v4.2h-4.2zM229.5 622.4h4.2v4.2h-4.2zM230.5 633h4.2v4.2h-4.2zM231.4 636.1h4.2v4.2h-4.2zM232.3 651.1h4.2v4.2h-4.2zM233.3 655.8h4.2v4.2h-4.2zM234.2 646.7h4.2v4.2h-4.2zM235.1 654.2h4.2v4.2h-4.2zM236.1 650.4h4.2v4.2h-4.2zM237 660.3h4.2v4.2h-4.2zM237.9 657.7h4.2v4.2h-4.2zM238.9 662h4.2v4.2h-4.2zM239.8 654.2h4.2v4.2h-4.2zM240.7 657.8h4.2v4.2h-4.2zM241.7 661.4h4.2v4.2h-4.2zM242.6 662.1h4.2v4.2h-4.2zM243.5 665.2h4.2v4.2h-4.2zM244.5 665.8h4.2v4.2h-4.2zM245.4 659.3h4.2v4.2h-4.2zM246.3 665.5h4.2v4.2h-4.2zM247.3 668.9h4.2v4.2h-4.2zM248.2 664.8h4.2v4.2h-4.2zM249.1 663.9h4.2v4.2h-4.2zM250.1 656.1h4.2v4.2h-4.2zM251 665.2h4.2v4.2h-4.2zM252 665h4.2v4.2h-4.2zM252.9 656.7h4.2v4.2h-4.2zM253.8 660.5h4.2v4.2h-4.2zM254.8 664.5h4.2v4.2h-4.2zM255.7 665.5h4.2v4.2h-4.2zM256.6 668.2h4.2v4.2h-4.2zM257.6 669.4h4.2v4.2h-4.2zM258.5 664.7h4.2v4.2h-4.2zM259.4 662.4h4.2v4.2h-4.2zM260.4 670.4h4.2v4.2h-4.2zM261.3 665h4.2v4.2h-4.2zM262.2 669.7h4.2v4.2h-4.2zM263.2 663.7h4.2v4.2h-4.2zM264.1 667.8h4.2v4.2h-4.2zM265 663.3h4.2v4.2h-4.2zM266 661.9h4.2v4.2h-4.2zM266.9 667.8h4.2v4.2h-4.2zM267.8 668.4h4.2v4.2h-4.2zM268.8 673.2h4.2v4.2h-4.2zM269.7 671.6h4.2v4.2h-4.2zM270.6 665.8h4.2v4.2h-4.2zM271.6 663.4h4.2v4.2h-4.2zM272.5 673.6h4.2v4.2h-4.2z"/>
<polyline fill="none" stroke="#b857ee" stroke-width="3" stroke-linejoin="round" stroke-linecap="round" points="60.7,696.5 103.5,695.6 160.2,693.4 189,692.1 222,689.9 229.7,688.6 231.8,687.8 234.6,668.6 236.3,647.6 238,631.9 238.9,626.7 240.6,622.3 244.2,614.4 253.2,611.8 274.6,610.9"/>
<path fill="#b857ee" d="M58.6 696.5a2.1 2.1 0 1 0 4.2 0a2.1 2.1 0 1 0 -4.2 0zM59.6 696.1a2.1 2.1 0 1 0 4.2 0a2.1 2.1 0 1 0 -4.2 0zM60.6 696.3a2.1 2.1 0 1 0 4.2 0a2.1 2.1 0 1 0 -4.2 0zM61.7 696a2.1 2.1 0 1 0 4.2 0a2.1 2.1 0 1 0 -4.2 0zM62.7 696a2.1 2.1 0 1 0 4.2 0a2.1 2.1 0 1 0 -4.2 0zM63.7 696.2a2.1 2.1 0 1 0 4.2 0a2.1 2.1 0 1 0 -4.2 0zM64.7 696a2.1 2.1 0 1 0 4.2 0a2.1 2.1 0 1 0 -4.2 0zM65.7 696.5a2.1 2.1 0 1 0 4.2 0a2.1 2.1 0 1 0 -4.2 0zM66.7 696.2a2.1 2.1 0 1 0 4.2 0a2.1 2.1 0 1 0 -4.2 0zM67.8 695.7a2.1 2.1 0 1 0 4.2 0a2.1 2.1 0 1 0 -4.2 0zM68.8 695.2a2.1 2.1 0 1 0 4.2 0a2.1 2.1 0 1 0 -4.2 0zM69.8 696.3a2.1 2.1 0 1 0 4.2 0a2.1 2.1 0 1 0 -4.2 0zM70.8 695.6a2.1 2.1 0 1 0 4.2 0a2.1 2.1 0 1 0 -4.2 0zM71.8 695.9a2.1 2.1 0 1 0 4.2 0a2.1 2.1 0 1 0 -4.2 0zM72.9 696a2.1 2.1 0 1 0 4.2 0a2.1 2.1 0 1 0 -4.2 0zM73.9 696.4a2.1 2.1 0 1 0 4.2 0a2.1 2.1 0 1 0 -4.2 0zM74.9 696.1a2.1 2.1 0 1 0 4.2 0a2.1 2.1 0 1 0 -4.2 0zM75.9 695.9a2.1 2.1 0 1 0 4.2 0a2.1 2.1 0 1 0 -4.2 0zM76.9 696.1a2.1 2.1 0 1 0 4.2 0a2.1 2.1 0 1 0 -4.2 0zM78 696.5a2.1 2.1 0 1 0 4.2 0a2.1 2.1 0 1 0 -4.2 0zM79 696.4a2.1 2.1 0 1 0 4.2 0a2.1 2.1 0 1 0 -4.2 0zM80 696.5a2.1 2.1 0 1 0 4.2 0a2.1 2.1 0 1 0 -4.2 0zM81 696.5a2.1 2.1 0 1 0 4.2 0a2.1 2.1 0 1 0 -4.2 0zM82 696.3a2.1 2.1 0 1 0 4.2 0a2.1 2.1 0 1 0 -4.2 0zM83 696.2a2.1 2.1 0 1 0 4.2 0a2.1 2.1 0 1 0 -4.2 0zM84.1 696.3a2.1 2.1 0 1 0 4.2 0a2.1 2.1 0 1 0 -4.2 0zM85.1 694.8a2.1 2.1 0 1 0 4.2 0a2.1 2.1 0 1 0 -4.2 0zM86.1 696a2.1 2.1 0 1 0 4.2 0a2.1 2.1 0 1 0 -4.2 0zM87.1 695.8a2.1 2.1 0 1 0 4.2 0a2.1 2.1 0 1 0 -4.2 0zM88.1 695.5a2.1 2.1 0 1 0 4.2 0a2.1 2.1 0 1 0 -4.2 0zM89.2 695.9a2.1 2.1 0 1 0 4.2 0a2.1 2.1 0 1 0 -4.2 0zM90.2 695.8a2.1 2.1 0 1 0 4.2 0a2.1 2.1 0 1 0 -4.2 0zM91.2 696.1a2.1 2.1 0 1 0 4.2 0a2.1 2.1 0 1 0 -4.2 0zM92.2 695.1a2.1 2.1 0 1 0 4.2 0a2.1 2.1 0 1 0 -4.2 0zM93.2 695.7a2.1 2.1 0 1 0 4.2 0a2.1 2.1 0 1 0 -4.2 0zM94.3 696.5a2.1 2.1 0 1 0 4.2 0a2.1 2.1 0 1 0 -4.2 0zM95.3 696a2.1 2.1 0 1 0 4.2 0a2.1 2.1 0 1 0 -4.2 0zM96.3 696a2.1 2.1 0 1 0 4.2 0a2.1 2.1 0 1 0 -4.2 0zM97.3 696.1a2.1 2.1 0 1 0 4.2 0a2.1 2.1 0 1 0 -4.2 0zM98.3 695.5a2.1 2.1 0 1 0 4.2 0a2.1 2.1 0 1 0 -4.2 0zM99.3 696.4a2.1 2.1 0 1 0 4.2 0a2.1 2.1 0 1 0 -4.2 0zM100.4 696.3a2.1 2.1 0 1 0 4.2 0a2.1 2.1 0 1 0 -4.2 0zM101.4 695.1a2.1 2.1 0 1 0 4.2 0a2.1 2.1 0 1 0 -4.2 0zM102.4 696.4a2.1 2.1 0 1 0 4.2 0a2.1 2.1 0 1 0 -4.2 0zM103.4 696a2.1 2.1 0 1 0 4.2 0a2.1 2.1 0 1 0 -4.2 0zM104.4 695.4a2.1 2.1 0 1 0 4.2 0a2.1 2.1 0 1 0 -4.2 0zM105.4 695a2.1 2.1 0 1 0 4.2 0a2.1 2.1 0 1 0 -4.2 0zM106.4 695.5a2.1 2.1 0 1 0 4.2 0a2.1 2.1 0 1 0 -4.2 0zM107.5 695.5a2.1 2.1 0 1 0 4.2 0a2.1 2.1 0 1 0 -4.2 0zM108.5 695.7a2.1 2.1 0 1 0 4.2 0a2.1 2.1 0 1 0 -4.2 0zM109.5 695.6a2.1 2.1 0 1 0 4.2 0a2.1 2.1 0 1 0 -4.2 0zM110.5 695.2a2.1 2.1 0 1 0 4.2 0a2.1 2.1 0 1 0 -4.2 0zM111.5 695.8a2.1 2.1 0 1 0 4.2 0a2.1 2.1 0 1 0 -4.2 0zM112.5 694.7a2.1 2.1 0 1 0 4.2 0a2.1 2.1 0 1 0 -4.2 0zM113.5 695.3a2.1 2.1 0 1 0 4.2 0a2.1 2.1 0 1 0 -4.2 0zM114.5 694.7a2.1 2.1 0 1 0 4.2 0a2.1 2.1 0 1 0 -4.2 0zM115.6 695.2a2.1 2.1 0 1 0 4.2 0a2.1 2.1 0 1 0 -4.2 0zM116.6 695.2a2.1 2.1 0 1 0 4.2 0a2.1 2.1 0 1 0 -4.2 0zM117.6 695.2a2.1 2.1 0 1 0 4.2 0a2.1 2.1 0 1 0 -4.2 0zM118.6 695.3a2.1 2.1 0 1 0 4.2 0a2.1 2.1 0 1 0 -4.2 0zM119.6 694.4a2.1 2.1 0 1 0 4.2 0a2.1 2.1 0 1 0 -4.2 0zM120.6 694.8a2.1 2.1 0 1 0 4.2 0a2.1 2.1 0 1 0 -4.2 0zM121.6 694.6a2.1 2.1 0 1 0 4.2 0a2.1 2.1 0 1 0 -4.2 0zM122.6 695.3a2.1 2.1 0 1 0 4.2 0a2.1 2.1 0 1 0 -4.2 0zM123.6 695.8a2.1 2.1 0 1 0 4.2 0a2.1 2.1 0 1 0 -4.2 0zM124.7 694.9a2.1 2.1 0 1 0 4.2 0a2.1 2.1 0 1 0 -4.2 0zM125.7 694.9a2.1 2.1 0 1 0 4.2 0a2.1 2.1 0 1 0 -4.2 0zM126.7 694.6a2.1 2.1 0 1 0 4.2 0a2.1 2.1 0 1 0 -4.2 0zM127.7 694.8a2.1 2.1 0 1 0 4.2 0a2.1 2.1 0 1 0 -4.2 0zM128.7 695a2.1 2.1 0 1 0 4.2 0a2.1 2.1 0 1 0 -4.2 0zM129.7 694.1a2.1 2.1 0 1 0 4.2 0a2.1 2.1 0 1 0 -4.2 0zM130.7 694.4a2.1 2.1 0 1 0 4.2 0a2.1 2.1 0 1 0 -4.2 0zM131.7 694.6a2.1 2.1 0 1 0 4.2 0a2.1 2.1 0 1 0 -4.2 0zM132.8 694.4a2.1 2.1 0 1 0 4.2 0a2.1 2.1 0 1 0 -4.2 0zM133.8 694.1a2.1 2.1 0 1 0 4.2 0a2.1 2.1 0 1 0 -4.2 0zM134.8 694.2a2.1 2.1 0 1 0 4.2 0a2.1 2.1 0 1 0 -4.2 0zM135.8 694.1a2.1 2.1 0 1 0 4.2 0a2.1 2.1 0 1 0 -4.2 0zM136.8 694.5a2.1 2.1 0 1 0 4.2 0a2.1 2.1 0 1 0 -4.2 0zM137.8 694.4a2.1 2.1 0 1 0 4.2 0a2.1 2.1 0 1 0 -4.2 0zM138.8 693.7a2.1 2.1 0 1 0 4.2 0a2.1 2.1 0 1 0 -4.2 0zM139.8 695.1a2.1 2.1 0 1 0 4.2 0a2.1 2.1 0 1 0 -4.2 0zM140.9 694.4a2.1 2.1 0 1 0 4.2 0a2.1 2.1 0 1 0 -4.2 0zM141.9 693.5a2.1 2.1 0 1 0 4.2 0a2.1 2.1 0 1 0 -4.2 0zM142.9 693.9a2.1 2.1 0 1 0 4.2 0a2.1 2.1 0 1 0 -4.2 0zM143.9 693.3a2.1 2.1 0 1 0 4.2 0a2.1 2.1 0 1 0 -4.2 0zM144.9 694.1a2.1 2.1 0 1 0 4.2 0a2.1 2.1 0 1 0 -4.2 0zM145.9 693.8a2.1 2.1 0 1 0 4.2 0a2.1 2.1 0 1 0 -4.2 0zM146.9 693.4a2.1 2.1 0 1 0 4.2 0a2.1 2.1 0 1 0 -4.2 0zM147.9 694.6a2.1 2.1 0 1 0 4.2 0a2.1 2.1 0 1 0 -4.2 0zM149 694.2a2.1 2.1 0 1 0 4.2 0a2.1 2.1 0 1 0 -4.2 0zM150 693.7a2.1 2.1 0 1 0 4.2 0a2.1 2.1 0 1 0 -4.2 0zM151 694.3a2.1 2.1 0 1 0 4.2 0a2.1 2.1 0 1 0 -4.2 0zM152 693.6a2.1 2.1 0 1 0 4.2 0a2.1 2.1 0 1 0 -4.2 0zM153 692.8a2.1 2.1 0 1 0 4.2 0a2.1 2.1 0 1 0 -4.2 0zM154 694a2.1 2.1 0 1 0 4.2 0a2.1 2.1 0 1 0 -4.2 0zM155 693.7a2.1 2.1 0 1 0 4.2 0a2.1 2.1 0 1 0 -4.2 0zM156 692.7a2.1 2.1 0 1 0 4.2 0a2.1 2.1 0 1 0 -4.2 0zM157.1 693.5a2.1 2.1 0 1 0 4.2 0a2.1 2.1 0 1 0 -4.2 0zM158.1 694a2.1 2.1 0 1 0 4.2 0a2.1 2.1 0 1 0 -4.2 0zM159.1 693a2.1 2.1 0 1 0 4.2 0a2.1 2.1 0 1 0 -4.2 0zM160.1 693.3a2.1 2.1 0 1 0 4.2 0a2.1 2.1 0 1 0 -4.2 0zM161.2 693.2a2.1 2.1 0 1 0 4.2 0a2.1 2.1 0 1 0 -4.2 0zM162.2 693.3a2.1 2.1 0 1 0 4.2 0a2.1 2.1 0 1 0 -4.2 0zM163.2 694a2.1 2.1 0 1 0 4.2 0a2.1 2.1 0 1 0 -4.2 0zM164.3 693.4a2.1 2.1 0 1 0 4.2 0a2.1 2.1 0 1 0 -4.2 0zM165.3 693.8a2.1 2.1 0 1 0 4.2 0a2.1 2.1 0 1 0 -4.2 0zM166.3 692.9a2.1 2.1 0 1 0 4.2 0a2.1 2.1 0 1 0 -4.2 0zM167.3 692.7a2.1 2.1 0 1 0 4.2 0a2.1 2.1 0 1 0 -4.2 0zM168.4 692.8a2.1 2.1 0 1 0 4.2 0a2.1 2.1 0 1 0 -4.2 0zM169.4 693.5a2.1 2.1 0 1 0 4.2 0a2.1 2.1 0 1 0 -4.2 0zM170.4 692.8a2.1 2.1 0 1 0 4.2 0a2.1 2.1 0 1 0 -4.2 0zM171.5 692.2a2.1 2.1 0 1 0 4.2 0a2.1 2.1 0 1 0 -4.2 0zM172.5 692.6a2.1 2.1 0 1 0 4.2 0a2.1 2.1 0 1 0 -4.2 0zM173.5 691.7a2.1 2.1 0 1 0 4.2 0a2.1 2.1 0 1 0 -4.2 0zM174.6 693a2.1 2.1 0 1 0 4.2 0a2.1 2.1 0 1 0 -4.2 0zM175.6 691.4a2.1 2.1 0 1 0 4.2 0a2.1 2.1 0 1 0 -4.2 0zM176.6 692.7a2.1 2.1 0 1 0 4.2 0a2.1 2.1 0 1 0 -4.2 0zM177.7 692.4a2.1 2.1 0 1 0 4.2 0a2.1 2.1 0 1 0 -4.2 0zM178.7 692.6a2.1 2.1 0 1 0 4.2 0a2.1 2.1 0 1 0 -4.2 0zM179.7 691.1a2.1 2.1 0 1 0 4.2 0a2.1 2.1 0 1 0 -4.2 0zM180.8 692.8a2.1 2.1 0 1 0 4.2 0a2.1 2.1 0 1 0 -4.2 0zM181.8 692.9a2.1 2.1 0 1 0 4.2 0a2.1 2.1 0 1 0 -4.2 0zM182.8 693.2a2.1 2.1 0 1 0 4.2 0a2.1 2.1 0 1 0 -4.2 0zM183.8 692.1a2.1 2.1 0 1 0 4.2 0a2.1 2.1 0 1 0 -4.2 0zM184.9 692.9a2.1 2.1 0 1 0 4.2 0a2.1 2.1 0 1 0 -4.2 0zM185.9 691.7a2.1 2.1 0 1 0 4.2 0a2.1 2.1 0 1 0 -4.2 0zM186.9 692.3a2.1 2.1 0 1 0 4.2 0a2.1 2.1 0 1 0 -4.2 0zM187.9 692.1a2.1 2.1 0 1 0 4.2 0a2.1 2.1 0 1 0 -4.2 0zM188.9 692.5a2.1 2.1 0 1 0 4.2 0a2.1 2.1 0 1 0 -4.2 0zM189.9 692.1a2.1 2.1 0 1 0 4.2 0a2.1 2.1 0 1 0 -4.2 0zM190.9 691.8a2.1 2.1 0 1 0 4.2 0a2.1 2.1 0 1 0 -4.2 0zM191.9 692.1a2.1 2.1 0 1 0 4.2 0a2.1 2.1 0 1 0 -4.2 0zM192.9 690.9a2.1 2.1 0 1 0 4.2 0a2.1 2.1 0 1 0 -4.2 0zM193.9 691.6a2.1 2.1 0 1 0 4.2 0a2.1 2.1 0 1 0 -4.2 0zM194.9 691.9a2.1 2.1 0 1 0 4.2 0a2.1 2.1 0 1 0 -4.2 0zM195.9 691.4a2.1 2.1 0 1 0 4.2 0a2.1 2.1 0 1 0 -4.2 0zM196.9 691.5a2.1 2.1 0 1 0 4.2 0a2.1 2.1 0 1 0 -4.2 0zM197.9 691.4a2.1 2.1 0 1 0 4.2 0a2.1 2.1 0 1 0 -4.2 0zM198.9 691.9a2.1 2.1 0 1 0 4.2 0a2.1 2.1 0 1 0 -4.2 0zM199.9 691.6a2.1 2.1 0 1 0 4.2 0a2.1 2.1 0 1 0 -4.2 0zM200.9 691.1a2.1 2.1 0 1 0 4.2 0a2.1 2.1 0 1 0 -4.2 0zM201.9 689.8a2.1 2.1 0 1 0 4.2 0a2.1 2.1 0 1 0 -4.2 0zM202.9 691.4a2.1 2.1 0 1 0 4.2 0a2.1 2.1 0 1 0 -4.2 0zM203.9 691.1a2.1 2.1 0 1 0 4.2 0a2.1 2.1 0 1 0 -4.2 0zM204.9 690.8a2.1 2.1 0 1 0 4.2 0a2.1 2.1 0 1 0 -4.2 0zM205.9 691.6a2.1 2.1 0 1 0 4.2 0a2.1 2.1 0 1 0 -4.2 0zM206.9 690.5a2.1 2.1 0 1 0 4.2 0a2.1 2.1 0 1 0 -4.2 0zM207.9 691.1a2.1 2.1 0 1 0 4.2 0a2.1 2.1 0 1 0 -4.2 0zM208.9 690.3a2.1 2.1 0 1 0 4.2 0a2.1 2.1 0 1 0 -4.2 0zM209.9 690.9a2.1 2.1 0 1 0 4.2 0a2.1 2.1 0 1 0 -4.2 0zM210.9 690.3a2.1 2.1 0 1 0 4.2 0a2.1 2.1 0 1 0 -4.2 0zM211.9 689.6a2.1 2.1 0 1 0 4.2 0a2.1 2.1 0 1 0 -4.2 0zM212.9 690.2a2.1 2.1 0 1 0 4.2 0a2.1 2.1 0 1 0 -4.2 0zM213.9 690.2a2.1 2.1 0 1 0 4.2 0a2.1 2.1 0 1 0 -4.2 0zM214.9 690.2a2.1 2.1 0 1 0 4.2 0a2.1 2.1 0 1 0 -4.2 0zM215.9 689.9a2.1 2.1 0 1 0 4.2 0a2.1 2.1 0 1 0 -4.2 0zM216.9 690a2.1 2.1 0 1 0 4.2 0a2.1 2.1 0 1 0 -4.2 0zM217.9 690.2a2.1 2.1 0 1 0 4.2 0a2.1 2.1 0 1 0 -4.2 0zM218.9 689.6a2.1 2.1 0 1 0 4.2 0a2.1 2.1 0 1 0 -4.2 0zM219.9 689.3a2.1 2.1 0 1 0 4.2 0a2.1 2.1 0 1 0 -4.2 0zM221 689.3a2.1 2.1 0 1 0 4.2 0a2.1 2.1 0 1 0 -4.2 0zM222.1 689.4a2.1 2.1 0 1 0 4.2 0a2.1 2.1 0 1 0 -4.2 0zM223.2 689.3a2.1 2.1 0 1 0 4.2 0a2.1 2.1 0 1 0 -4.2 0zM224.3 688.9a2.1 2.1 0 1 0 4.2 0a2.1 2.1 0 1 0 -4.2 0zM225.4 688.4a2.1 2.1 0 1 0 4.2 0a2.1 2.1 0 1 0 -4.2 0zM226.5 688.8a2.1 2.1 0 1 0 4.2 0a2.1 2.1 0 1 0 -4.2 0zM227.6 689.1a2.1 2.1 0 1 0 4.2 0a2.1 2.1 0 1 0 -4.2 0zM228.7 688.7a2.1 2.1 0 1 0 4.2 0a2.1 2.1 0 1 0 -4.2 0zM229.7 687.2a2.1 2.1 0 1 0 4.2 0a2.1 2.1 0 1 0 -4.2 0zM229.9 686.1a2.1 2.1 0 1 0 4.2 0a2.1 2.1 0 1 0 -4.2 0zM230 686.4a2.1 2.1 0 1 0 4.2 0a2.1 2.1 0 1 0 -4.2 0zM230.2 684.8a2.1 2.1 0 1 0 4.2 0a2.1 2.1 0 1 0 -4.2 0zM230.3 683.7a2.1 2.1 0 1 0 4.2 0a2.1 2.1 0 1 0 -4.2 0zM230.5 682a2.1 2.1 0 1 0 4.2 0a2.1 2.1 0 1 0 -4.2 0zM230.6 681.8a2.1 2.1 0 1 0 4.2 0a2.1 2.1 0 1 0 -4.2 0zM230.7 681a2.1 2.1 0 1 0 4.2 0a2.1 2.1 0 1 0 -4.2 0zM230.9 680.1a2.1 2.1 0 1 0 4.2 0a2.1 2.1 0 1 0 -4.2 0zM231 678.6a2.1 2.1 0 1 0 4.2 0a2.1 2.1 0 1 0 -4.2 0zM231.2 677.3a2.1 2.1 0 1 0 4.2 0a2.1 2.1 0 1 0 -4.2 0zM231.3 676.5a2.1 2.1 0 1 0 4.2 0a2.1 2.1 0 1 0 -4.2 0zM231.5 676.2a2.1 2.1 0 1 0 4.2 0a2.1 2.1 0 1 0 -4.2 0zM231.6 675.1a2.1 2.1 0 1 0 4.2 0a2.1 2.1 0 1 0 -4.2 0zM231.8 673.1a2.1 2.1 0 1 0 4.2 0a2.1 2.1 0 1 0 -4.2 0zM231.9 672.6a2.1 2.1 0 1 0 4.2 0a2.1 2.1 0 1 0 -4.2 0zM232.1 671.7a2.1 2.1 0 1 0 4.2 0a2.1 2.1 0 1 0 -4.2 0zM232.2 670.4a2.1 2.1 0 1 0 4.2 0a2.1 2.1 0 1 0 -4.2 0zM232.4 669.3a2.1 2.1 0 1 0 4.2 0a2.1 2.1 0 1 0 -4.2 0zM232.5 667.8a2.1 2.1 0 1 0 4.2 0a2.1 2.1 0 1 0 -4.2 0zM232.6 667.6a2.1 2.1 0 1 0 4.2 0a2.1 2.1 0 1 0 -4.2 0zM232.7 666.7a2.1 2.1 0 1 0 4.2 0a2.1 2.1 0 1 0 -4.2 0zM232.7 665.6a2.1 2.1 0 1 0 4.2 0a2.1 2.1 0 1 0 -4.2 0zM232.8 664.9a2.1 2.1 0 1 0 4.2 0a2.1 2.1 0 1 0 -4.2 0zM232.9 663.7a2.1 2.1 0 1 0 4.2 0a2.1 2.1 0 1 0 -4.2 0zM233 663.2a2.1 2.1 0 1 0 4.2 0a2.1 2.1 0 1 0 -4.2 0zM233.1 662a2.1 2.1 0 1 0 4.2 0a2.1 2.1 0 1 0 -4.2 0zM233.2 660.5a2.1 2.1 0 1 0 4.2 0a2.1 2.1 0 1 0 -4.2 0zM233.2 659.8a2.1 2.1 0 1 0 4.2 0a2.1 2.1 0 1 0 -4.2 0zM233.3 658.9a2.1 2.1 0 1 0 4.2 0a2.1 2.1 0 1 0 -4.2 0zM233.4 658.3a2.1 2.1 0 1 0 4.2 0a2.1 2.1 0 1 0 -4.2 0zM233.5 657a2.1 2.1 0 1 0 4.2 0a2.1 2.1 0 1 0 -4.2 0zM233.6 655.1a2.1 2.1 0 1 0 4.2 0a2.1 2.1 0 1 0 -4.2 0zM233.6 654.5a2.1 2.1 0 1 0 4.2 0a2.1 2.1 0 1 0 -4.2 0zM233.7 653.9a2.1 2.1 0 1 0 4.2 0a2.1 2.1 0 1 0 -4.2 0zM233.8 653.2a2.1 2.1 0 1 0 4.2 0a2.1 2.1 0 1 0 -4.2 0zM233.9 650.8a2.1 2.1 0 1 0 4.2 0a2.1 2.1 0 1 0 -4.2 0zM234 650.5a2.1 2.1 0 1 0 4.2 0a2.1 2.1 0 1 0 -4.2 0zM234 648.6a2.1 2.1 0 1 0 4.2 0a2.1 2.1 0 1 0 -4.2 0zM234.1 648.6a2.1 2.1 0 1 0 4.2 0a2.1 2.1 0 1 0 -4.2 0zM234.2 647.1a2.1 2.1 0 1 0 4.2 0a2.1 2.1 0 1 0 -4.2 0zM234.3 646.4a2.1 2.1 0 1 0 4.2 0a2.1 2.1 0 1 0 -4.2 0zM234.4 646.2a2.1 2.1 0 1 0 4.2 0a2.1 2.1 0 1 0 -4.2 0zM234.6 644.2a2.1 2.1 0 1 0 4.2 0a2.1 2.1 0 1 0 -4.2 0zM234.7 643.1a2.1 2.1 0 1 0 4.2 0a2.1 2.1 0 1 0 -4.2 0zM234.8 642.6a2.1 2.1 0 1 0 4.2 0a2.1 2.1 0 1 0 -4.2 0zM234.9 642.4a2.1 2.1 0 1 0 4.2 0a2.1 2.1 0 1 0 -4.2 0zM235 640.6a2.1 2.1 0 1 0 4.2 0a2.1 2.1 0 1 0 -4.2 0zM235.1 639.3a2.1 2.1 0 1 0 4.2 0a2.1 2.1 0 1 0 -4.2 0zM235.2 638.5a2.1 2.1 0 1 0 4.2 0a2.1 2.1 0 1 0 -4.2 0zM235.4 637.3a2.1 2.1 0 1 0 4.2 0a2.1 2.1 0 1 0 -4.2 0zM235.5 636.3a2.1 2.1 0 1 0 4.2 0a2.1 2.1 0 1 0 -4.2 0zM235.6 634.7a2.1 2.1 0 1 0 4.2 0a2.1 2.1 0 1 0 -4.2 0zM235.7 634a2.1 2.1 0 1 0 4.2 0a2.1 2.1 0 1 0 -4.2 0zM235.8 632.8a2.1 2.1 0 1 0 4.2 0a2.1 2.1 0 1 0 -4.2 0zM235.9 632.3a2.1 2.1 0 1 0 4.2 0a2.1 2.1 0 1 0 -4.2 0zM236.1 630.8a2.1 2.1 0 1 0 4.2 0a2.1 2.1 0 1 0 -4.2 0zM236.3 630.4a2.1 2.1 0 1 0 4.2 0a2.1 2.1 0 1 0 -4.2 0zM236.4 629.4a2.1 2.1 0 1 0 4.2 0a2.1 2.1 0 1 0 -4.2 0zM236.6 628.4a2.1 2.1 0 1 0 4.2 0a2.1 2.1 0 1 0 -4.2 0zM236.8 626.4a2.1 2.1 0 1 0 4.2 0a2.1 2.1 0 1 0 -4.2 0zM237.2 626.1a2.1 2.1 0 1 0 4.2 0a2.1 2.1 0 1 0 -4.2 0zM237.6 624.4a2.1 2.1 0 1 0 4.2 0a2.1 2.1 0 1 0 -4.2 0zM238.1 623.3a2.1 2.1 0 1 0 4.2 0a2.1 2.1 0 1 0 -4.2 0zM238.5 622.3a2.1 2.1 0 1 0 4.2 0a2.1 2.1 0 1 0 -4.2 0zM238.9 621.7a2.1 2.1 0 1 0 4.2 0a2.1 2.1 0 1 0 -4.2 0zM239.4 620.2a2.1 2.1 0 1 0 4.2 0a2.1 2.1 0 1 0 -4.2 0zM239.9 619.2a2.1 2.1 0 1 0 4.2 0a2.1 2.1 0 1 0 -4.2 0zM240.3 618.3a2.1 2.1 0 1 0 4.2 0a2.1 2.1 0 1 0 -4.2 0zM240.8 617.2a2.1 2.1 0 1 0 4.2 0a2.1 2.1 0 1 0 -4.2 0zM241.2 616.9a2.1 2.1 0 1 0 4.2 0a2.1 2.1 0 1 0 -4.2 0zM241.7 615.1a2.1 2.1 0 1 0 4.2 0a2.1 2.1 0 1 0 -4.2 0zM242.1 614.7a2.1 2.1 0 1 0 4.2 0a2.1 2.1 0 1 0 -4.2 0zM243.1 614.5a2.1 2.1 0 1 0 4.2 0a2.1 2.1 0 1 0 -4.2 0zM244.1 613.8a2.1 2.1 0 1 0 4.2 0a2.1 2.1 0 1 0 -4.2 0zM245.1 614.3a2.1 2.1 0 1 0 4.2 0a2.1 2.1 0 1 0 -4.2 0zM246.1 613.3a2.1 2.1 0 1 0 4.2 0a2.1 2.1 0 1 0 -4.2 0zM247.1 613.9a2.1 2.1 0 1 0 4.2 0a2.1 2.1 0 1 0 -4.2 0zM248.1 613a2.1 2.1 0 1 0 4.2 0a2.1 2.1 0 1 0 -4.2 0zM249.1 612.7a2.1 2.1 0 1 0 4.2 0a2.1 2.1 0 1 0 -4.2 0zM250.1 612a2.1 2.1 0 1 0 4.2 0a2.1 2.1 0 1 0 -4.2 0zM251.1 612.5a2.1 2.1 0 1 0 4.2 0a2.1 2.1 0 1 0 -4.2 0zM252.1 612.1a2.1 2.1 0 1 0 4.2 0a2.1 2.1 0 1 0 -4.2 0zM253.1 611.2a2.1 2.1 0 1 0 4.2 0a2.1 2.1 0 1 0 -4.2 0zM254.2 612a2.1 2.1 0 1 0 4.2 0a2.1 2.1 0 1 0 -4.2 0zM255.2 611.7a2.1 2.1 0 1 0 4.2 0a2.1 2.1 0 1 0 -4.2 0zM256.2 611.7a2.1 2.1 0 1 0 4.2 0a2.1 2.1 0 1 0 -4.2 0zM257.2 611.4a2.1 2.1 0 1 0 4.2 0a2.1 2.1 0 1 0 -4.2 0zM258.2 611.6a2.1 2.1 0 1 0 4.2 0a2.1 2.1 0 1 0 -4.2 0zM259.3 611.7a2.1 2.1 0 1 0 4.2 0a2.1 2.1 0 1 0 -4.2 0zM260.3 611.7a2.1 2.1 0 1 0 4.2 0a2.1 2.1 0 1 0 -4.2 0zM261.3 610.9a2.1 2.1 0 1 0 4.2 0a2.1 2.1 0 1 0 -4.2 0zM262.3 610.9a2.1 2.1 0 1 0 4.2 0a2.1 2.1 0 1 0 -4.2 0zM263.3 611a2.1 2.1 0 1 0 4.2 0a2.1 2.1 0 1 0 -4.2 0zM264.4 611.3a2.1 2.1 0 1 0 4.2 0a2.1 2.1 0 1 0 -4.2 0zM265.4 611.1a2.1 2.1 0 1 0 4.2 0a2.1 2.1 0 1 0 -4.2 0zM266.4 611.1a2.1 2.1 0 1 0 4.2 0a2.1 2.1 0 1 0 -4.2 0zM267.4 611.3a2.1 2.1 0 1 0 4.2 0a2.1 2.1 0 1 0 -4.2 0zM268.4 611.3a2.1 2.1 0 1 0 4.2 0a2.1 2.1 0 1 0 -4.2 0zM269.4 610.8a2.1 2.1 0 1 0 4.2 0a2.1 2.1 0 1 0 -4.2 0zM270.5 611.1a2.1 2.1 0 1 0 4.2 0a2.1 2.1 0 1 0 -4.2 0zM271.5 610.9a2.1 2.1 0 1 0 4.2 0a2.1 2.1 0 1 0 -4.2 0zM272.5 610.6a2.1 2.1 0 1 0 4.2 0a2.1 2.1 0 1 0 -4.2 0z"/>
<polyline fill="none" stroke="#4cec6e" stroke-width="4" stroke-linejoin="round" stroke-linecap="round" points="60.7,696.5 91.7,691.6 128.5,686.9 160.2,685.6 189,686 220.1,686.5 226.7,684.3 229.7,674.7 231.8,666.8 233.5,656.3 235.2,642.4 237,630.2 239.7,619.7 244,614.4 252.8,611.8 274.6,610.1"/>
<path fill="#4cec6e" d="M60.7 699.2l2.8 -5h-5.5zM61.7 699.2l2.8 -5h-5.5zM62.7 698.8l2.8 -5h-5.5zM63.7 698.5l2.8 -5h-5.5zM64.7 698.9l2.8 -5h-5.5zM65.7 697.9l2.8 -5h-5.5zM66.7 697.9l2.8 -5h-5.5zM67.7 697.7l2.8 -5h-5.5zM68.7 698.4l2.8 -5h-5.5zM69.7 697.5l2.8 -5h-5.5zM70.7 697.7l2.8 -5h-5.5zM71.7 697.9l2.8 -5h-5.5zM72.7 697.2l2.8 -5h-5.5zM73.7 697.4l2.8 -5h-5.5zM74.7 697.8l2.8 -5h-5.5zM75.7 697.1l2.8 -5h-5.5zM76.7 696.8l2.8 -5h-5.5zM77.7 696.6l2.8 -5h-5.5zM78.7 696.5l2.8 -5h-5.5zM79.7 696.6l2.8 -5h-5.5zM80.7 696.2l2.8 -5h-5.5zM81.7 697l2.8 -5h-5.5zM82.7 695.4l2.8 -5h-5.5zM83.7 695.4l2.8 -5h-5.5zM84.7 695.3l2.8 -5h-5.5zM85.7 695.9l2.8 -5h-5.5zM86.7 695.3l2.8 -5h-5.5zM87.7 695.1l2.8 -5h-5.5zM88.7 694.8l2.8 -5h-5.5zM89.7 694.3l2.8 -5h-5.5zM90.7 694.9l2.8 -5h-5.5zM91.7 694.5l2.8 -5h-5.5zM92.7 693.3l2.8 -5h-5.5zM93.7 693.7l2.8 -5h-5.5zM94.7 694.8l2.8 -5h-5.5zM95.7 694.3l2.8 -5h-5.5zM96.7 693.2l2.8 -5h-5.5zM97.7 694l2.8 -5h-5.5zM98.7 692.9l2.8 -5h-5.5zM99.7 693.7l2.8 -5h-5.5zM100.7 693.4l2.8 -5h-5.5zM101.7 693.1l2.8 -5h-5.5zM102.7 693.6l2.8 -5h-5.5zM103.6 693l2.8 -5h-5.5zM104.6 692.3l2.8 -5h-5.5zM105.6 693l2.8 -5h-5.5zM106.6 691.7l2.8 -5h-5.5zM107.6 693.6l2.8 -5h-5.5zM108.6 691.6l2.8 -5h-5.5zM109.6 692.3l2.8 -5h-5.5zM110.6 692.1l2.8 -5h-5.5zM111.6 691.7l2.8 -5h-5.5zM112.6 691.8l2.8 -5h-5.5zM113.6 691.2l2.8 -5h-5.5zM114.6 692.1l2.8 -5h-5.5zM115.6 691.4l2.8 -5h-5.5zM116.6 690.9l2.8 -5h-5.5zM117.6 690.1l2.8 -5h-5.5zM118.6 691.1l2.8 -5h-5.5zM119.6 690.6l2.8 -5h-5.5zM120.6 691.6l2.8 -5h-5.5zM121.5 690.9l2.8 -5h-5.5zM122.5 689.8l2.8 -5h-5.5zM123.5 689.9l2.8 -5h-5.5zM124.5 690.5l2.8 -5h-5.5zM125.5 690l2.8 -5h-5.5zM126.5 689.8l2.8 -5h-5.5zM127.5 690.4l2.8 -5h-5.5zM128.5 689.5l2.8 -5h-5.5zM129.5 689.9l2.8 -5h-5.5zM130.5 689.6l2.8 -5h-5.5zM131.6 689.5l2.8 -5h-5.5zM132.6 689.1l2.8 -5h-5.5zM133.6 688.7l2.8 -5h-5.5zM134.6 689.4l2.8 -5h-5.5zM135.7 688.8l2.8 -5h-5.5zM136.7 688.8l2.8 -5h-5.5zM137.7 689.4l2.8 -5h-5.5zM138.7 689.1l2.8 -5h-5.5zM139.7 688.9l2.8 -5h-5.5zM140.8 688.8l2.8 -5h-5.5zM141.8 689.7l2.8 -5h-5.5zM142.8 688.7l2.8 -5h-5.5zM143.8 688l2.8 -5h-5.5zM144.8 688.2l2.8 -5h-5.5zM145.9 689.4l2.8 -5h-5.5zM146.9 688.8l2.8 -5h-5.5zM147.9 688.7l2.8 -5h-5.5zM148.9 688.5l2.8 -5h-5.5zM150 689l2.8 -5h-5.5zM151 689.1l2.8 -5h-5.5zM152 688.8l2.8 -5h-5.5zM153 688.6l2.8 -5h-5.5zM154 688l2.8 -5h-5.5zM155.1 687.7l2.8 -5h-5.5zM156.1 689.3l2.8 -5h-5.5zM157.1 688.9l2.8 -5h-5.5zM158.1 688.1l2.8 -5h-5.5zM159.1 688.9l2.8 -5h-5.5zM160.2 687.8l2.8 -5h-5.5zM161.2 688.7l2.8 -5h-5.5zM162.2 688.5l2.8 -5h-5.5zM163.3 688.2l2.8 -5h-5.5zM164.3 688l2.8 -5h-5.5zM165.3 688.9l2.8 -5h-5.5zM166.4 688.3l2.8 -5h-5.5zM167.4 687.3l2.8 -5h-5.5zM168.4 687.7l2.8 -5h-5.5zM169.4 688.9l2.8 -5h-5.5zM170.5 688.7l2.8 -5h-5.5zM171.5 687.6l2.8 -5h-5.5zM172.5 688.4l2.8 -5h-5.5zM173.6 688.6l2.8 -5h-5.5zM174.6 688.3l2.8 -5h-5.5zM175.6 687.9l2.8 -5h-5.5zM176.7 688.3l2.8 -5h-5.5zM177.7 689.5l2.8 -5h-5.5zM178.7 688.4l2.8 -5h-5.5zM179.8 688.1l2.8 -5h-5.5zM180.8 688.5l2.8 -5h-5.5zM181.8 688.4l2.8 -5h-5.5zM182.9 688.8l2.8 -5h-5.5zM183.9 688.3l2.8 -5h-5.5zM184.9 689l2.8 -5h-5.5zM185.9 689.3l2.8 -5h-5.5zM187 689.4l2.8 -5h-5.5zM188 689.5l2.8 -5h-5.5zM189 688.6l2.8 -5h-5.5zM190 689.3l2.8 -5h-5.5zM191 688.6l2.8 -5h-5.5zM192 689.2l2.8 -5h-5.5zM193 689.2l2.8 -5h-5.5zM194 689.5l2.8 -5h-5.5zM195 688.9l2.8 -5h-5.5zM196 688.6l2.8 -5h-5.5zM197 689l2.8 -5h-5.5zM198 689.1l2.8 -5h-5.5zM199 689l2.8 -5h-5.5zM200 689l2.8 -5h-5.5zM201 689l2.8 -5h-5.5zM202 688.7l2.8 -5h-5.5zM203 689.2l2.8 -5h-5.5zM204 689.8l2.8 -5h-5.5zM205 689.6l2.8 -5h-5.5zM206 689.6l2.8 -5h-5.5zM207 688.8l2.8 -5h-5.5zM208 688.6l2.8 -5h-5.5zM209.1 689.3l2.8 -5h-5.5zM210.1 689.3l2.8 -5h-5.5zM211.1 689l2.8 -5h-5.5zM212.1 688.8l2.8 -5h-5.5zM213.1 688.3l2.8 -5h-5.5zM214.1 688.3l2.8 -5h-5.5zM215.1 689.2l2.8 -5h-5.5zM216.1 689.2l2.8 -5h-5.5zM217.1 689l2.8 -5h-5.5zM218.1 689.1l2.8 -5h-5.5zM219.1 689.7l2.8 -5h-5.5zM220.1 688.2l2.8 -5h-5.5zM221.2 689.1l2.8 -5h-5.5zM222.3 688.6l2.8 -5h-5.5zM223.4 688.2l2.8 -5h-5.5zM224.5 688.3l2.8 -5h-5.5zM225.6 686.2l2.8 -5h-5.5zM226.7 687.8l2.8 -5h-5.5zM227 686l2.8 -5h-5.5zM227.3 685.2l2.8 -5h-5.5zM227.6 684.7l2.8 -5h-5.5zM227.9 684.2l2.8 -5h-5.5zM228.2 682.3l2.8 -5h-5.5zM228.5 681.2l2.8 -5h-5.5zM228.8 680.1l2.8 -5h-5.5zM229.1 679.8l2.8 -5h-5.5zM229.4 677.4l2.8 -5h-5.5zM229.7 677.8l2.8 -5h-5.5zM229.9 676.2l2.8 -5h-5.5zM230.2 674.2l2.8 -5h-5.5zM230.5 673.7l2.8 -5h-5.5zM230.8 673.7l2.8 -5h-5.5zM231 673.1l2.8 -5h-5.5zM231.3 671.8l2.8 -5h-5.5zM231.6 669.8l2.8 -5h-5.5zM231.8 669.4l2.8 -5h-5.5zM232 667.6l2.8 -5h-5.5zM232.2 668.6l2.8 -5h-5.5zM232.3 665.9l2.8 -5h-5.5zM232.5 664.4l2.8 -5h-5.5zM232.7 664.4l2.8 -5h-5.5zM232.8 663.2l2.8 -5h-5.5zM233 662.2l2.8 -5h-5.5zM233.2 661.4l2.8 -5h-5.5zM233.4 659.4l2.8 -5h-5.5zM233.5 659l2.8 -5h-5.5zM233.7 657.5l2.8 -5h-5.5zM233.8 656.7l2.8 -5h-5.5zM233.9 655.9l2.8 -5h-5.5zM234 655.3l2.8 -5h-5.5zM234.1 654l2.8 -5h-5.5zM234.3 653.2l2.8 -5h-5.5zM234.4 651.6l2.8 -5h-5.5zM234.5 651.4l2.8 -5h-5.5zM234.6 650.1l2.8 -5h-5.5zM234.8 649.3l2.8 -5h-5.5zM234.9 647.9l2.8 -5h-5.5zM235 646.9l2.8 -5h-5.5zM235.1 645.9l2.8 -5h-5.5zM235.2 645l2.8 -5h-5.5zM235.4 643.8l2.8 -5h-5.5zM235.5 642.9l2.8 -5h-5.5zM235.7 641.6l2.8 -5h-5.5zM235.8 640.9l2.8 -5h-5.5zM236 640l2.8 -5h-5.5zM236.1 638.3l2.8 -5h-5.5zM236.2 637.9l2.8 -5h-5.5zM236.4 637.9l2.8 -5h-5.5zM236.5 636.2l2.8 -5h-5.5zM236.7 634.5l2.8 -5h-5.5zM236.8 633.7l2.8 -5h-5.5zM237 633.4l2.8 -5h-5.5zM237.2 631.2l2.8 -5h-5.5zM237.5 631.4l2.8 -5h-5.5zM237.8 630.6l2.8 -5h-5.5zM238.1 629.1l2.8 -5h-5.5zM238.3 627.5l2.8 -5h-5.5zM238.6 627l2.8 -5h-5.5zM238.9 626l2.8 -5h-5.5zM239.2 624.1l2.8 -5h-5.5zM239.5 624.3l2.8 -5h-5.5zM239.7 621.8l2.8 -5h-5.5zM240.4 621.6l2.8 -5h-5.5zM241.2 621.1l2.8 -5h-5.5zM241.9 619.9l2.8 -5h-5.5zM242.6 618l2.8 -5h-5.5zM243.3 617.6l2.8 -5h-5.5zM244 617.1l2.8 -5h-5.5zM245 615.7l2.8 -5h-5.5zM246 617.8l2.8 -5h-5.5zM246.9 616.8l2.8 -5h-5.5zM247.9 616.2l2.8 -5h-5.5zM248.9 616.1l2.8 -5h-5.5zM249.9 616.2l2.8 -5h-5.5zM250.8 614.8l2.8 -5h-5.5zM251.8 615.6l2.8 -5h-5.5zM252.8 614.7l2.8 -5h-5.5zM253.8 615.8l2.8 -5h-5.5zM254.9 614.5l2.8 -5h-5.5zM255.9 614.6l2.8 -5h-5.5zM256.9 614.5l2.8 -5h-5.5zM258 614.3l2.8 -5h-5.5zM259 613.4l2.8 -5h-5.5zM260.1 614l2.8 -5h-5.5zM261.1 613.8l2.8 -5h-5.5zM262.1 613.5l2.8 -5h-5.5zM263.2 613.1l2.8 -5h-5.5zM264.2 613.2l2.8 -5h-5.5zM265.2 613.3l2.8 -5h-5.5zM266.3 612.9l2.8 -5h-5.5zM267.3 614.3l2.8 -5h-5.5zM268.4 613.1l2.8 -5h-5.5zM269.4 612.7l2.8 -5h-5.5zM270.4 613.3l2.8 -5h-5.5zM271.5 612.7l2.8 -5h-5.5zM272.5 611.4l2.8 -5h-5.5zM273.6 613.5l2.8 -5h-5.5zM274.6 612.9l2.8 -5h-5.5zM250 605.8l2.8 -5h-5.5z"/>
<polyline fill="none" stroke="#ebbd2b" stroke-width="6" stroke-linejoin="round" stroke-linecap="round" points="60.7,648.5 62.4,647.6 65,635.4 68.4,623.2 73.7,612.7 80.8,606.6 91.7,606.1 146.3,607 225.4,607.5 230.8,610.9 232.9,614.4 235,611.8 240.4,609.2 274.6,609.2"/>
<path fill="#ebbd2b" d="M58 646.1l5 -2.8v5.5zM59.7 646.2l5 -2.8v5.5zM59.9 645.9l5 -2.8v5.5zM60.1 646.6l5 -2.8v5.5zM60.3 645.7l5 -2.8v5.5zM60.5 641.7l5 -2.8v5.5zM60.7 643.7l5 -2.8v5.5zM60.9 641.9l5 -2.8v5.5zM61.2 641.3l5 -2.8v5.5zM61.4 638l5 -2.8v5.5zM61.6 639.6l5 -2.8v5.5zM61.8 636.4l5 -2.8v5.5zM62 635.7l5 -2.8v5.5zM62.2 636.3l5 -2.8v5.5zM62.5 634l5 -2.8v5.5zM62.8 632.9l5 -2.8v5.5zM63.1 631.7l5 -2.8v5.5zM63.4 631.5l5 -2.8v5.5zM63.7 629.3l5 -2.8v5.5zM63.9 628l5 -2.8v5.5zM64.2 627.9l5 -2.8v5.5zM64.5 625l5 -2.8v5.5zM64.8 626.9l5 -2.8v5.5zM65.1 624.4l5 -2.8v5.5zM65.4 624.8l5 -2.8v5.5zM65.7 623l5 -2.8v5.5zM66.1 621l5 -2.8v5.5zM66.6 621.9l5 -2.8v5.5zM67.1 619l5 -2.8v5.5zM67.6 619.2l5 -2.8v5.5zM68.1 617.9l5 -2.8v5.5zM68.6 618.7l5 -2.8v5.5zM69.1 616.8l5 -2.8v5.5zM69.5 615.5l5 -2.8v5.5zM70 613l5 -2.8v5.5zM70.5 615l5 -2.8v5.5zM71 613.6l5 -2.8v5.5zM71.8 612.3l5 -2.8v5.5zM72.6 611.4l5 -2.8v5.5zM73.4 611l5 -2.8v5.5zM74.1 610.9l5 -2.8v5.5zM74.9 607.3l5 -2.8v5.5zM75.7 609.3l5 -2.8v5.5zM76.5 608.2l5 -2.8v5.5zM77.3 608l5 -2.8v5.5zM78.1 606.1l5 -2.8v5.5zM79.1 607.8l5 -2.8v5.5zM80.2 607l5 -2.8v5.5zM81.3 605.6l5 -2.8v5.5zM82.4 604.9l5 -2.8v5.5zM83.5 605l5 -2.8v5.5zM84.6 605.3l5 -2.8v5.5zM85.7 607l5 -2.8v5.5zM86.8 604.7l5 -2.8v5.5zM87.9 606.7l5 -2.8v5.5zM89 607.3l5 -2.8v5.5zM90 604.7l5 -2.8v5.5zM91 604.4l5 -2.8v5.5zM92 607l5 -2.8v5.5zM93 607l5 -2.8v5.5zM94 606l5 -2.8v5.5zM95 605.6l5 -2.8v5.5zM96 607.9l5 -2.8v5.5zM97 604.1l5 -2.8v5.5zM98.1 607.7l5 -2.8v5.5zM99.1 606.2l5 -2.8v5.5zM100.1 605.8l5 -2.8v5.5zM101.1 606.9l5 -2.8v5.5zM102.1 605.4l5 -2.8v5.5zM103.1 608.2l5 -2.8v5.5zM104.1 605l5 -2.8v5.5zM105.1 606.3l5 -2.8v5.5zM106.1 606.3l5 -2.8v5.5zM107.1 606.8l5 -2.8v5.5zM108.2 605l5 -2.8v5.5zM109.2 607l5 -2.8v5.5zM110.2 604.8l5 -2.8v5.5zM111.2 606.2l5 -2.8v5.5zM112.2 607.3l5 -2.8v5.5zM113.2 605.1l5 -2.8v5.5zM114.2 606.6l5 -2.8v5.5zM115.2 606.5l5 -2.8v5.5zM116.2 609.5l5 -2.8v5.5zM117.2 607.4l5 -2.8v5.5zM118.3 606.4l5 -2.8v5.5zM119.3 607.1l5 -2.8v5.5zM120.3 608l5 -2.8v5.5zM121.3 604.9l5 -2.8v5.5zM122.3 607.3l5 -2.8v5.5zM123.3 606.4l5 -2.8v5.5zM124.3 608.7l5 -2.8v5.5zM125.3 605.2l5 -2.8v5.5zM126.3 606.6l5 -2.8v5.5zM127.3 606.3l5 -2.8v5.5zM128.4 604.6l5 -2.8v5.5zM129.4 606l5 -2.8v5.5zM130.4 607.1l5 -2.8v5.5zM131.4 604.4l5 -2.8v5.5zM132.4 607.4l5 -2.8v5.5zM133.4 605.8l5 -2.8v5.5zM134.4 607.3l5 -2.8v5.5zM135.4 606.2l5 -2.8v5.5zM136.4 606.3l5 -2.8v5.5zM137.4 608.1l5 -2.8v5.5zM138.5 606.8l5 -2.8v5.5zM139.5 605.9l5 -2.8v5.5zM140.5 607.9l5 -2.8v5.5zM141.5 606.2l5 -2.8v5.5zM142.5 606.9l5 -2.8v5.5zM143.5 607.4l5 -2.8v5.5zM144.5 605.5l5 -2.8v5.5zM145.5 606.3l5 -2.8v5.5zM146.5 606l5 -2.8v5.5zM147.5 605.9l5 -2.8v5.5zM148.5 607.3l5 -2.8v5.5zM149.5 607l5 -2.8v5.5zM150.5 607.1l5 -2.8v5.5zM151.5 609.8l5 -2.8v5.5zM152.5 606.7l5 -2.8v5.5zM153.5 606.9l5 -2.8v5.5zM154.5 606.2l5 -2.8v5.5zM155.5 608.2l5 -2.8v5.5zM156.5 606.6l5 -2.8v5.5zM157.5 607.5l5 -2.8v5.5zM158.5 606.7l5 -2.8v5.5zM159.5 609.1l5 -2.8v5.5zM160.5 606.5l5 -2.8v5.5zM161.5 605.3l5 -2.8v5.5zM162.5 606.2l5 -2.8v5.5zM163.5 605.1l5 -2.8v5.5zM164.5 607.4l5 -2.8v5.5zM165.5 604.8l5 -2.8v5.5zM166.6 605.8l5 -2.8v5.5zM167.6 606.9l5 -2.8v5.5zM168.6 606.4l5 -2.8v5.5zM169.6 607.9l5 -2.8v5.5zM170.6 608l5 -2.8v5.5zM171.6 607.7l5 -2.8v5.5zM172.6 605.6l5 -2.8v5.5zM173.6 606.8l5 -2.8v5.5zM174.6 607l5 -2.8v5.5zM175.6 605.8l5 -2.8v5.5zM176.6 606.5l5 -2.8v5.5zM177.6 605.2l5 -2.8v5.5zM178.6 606.8l5 -2.8v5.5zM179.6 607.4l5 -2.8v5.5zM180.6 607.2l5 -2.8v5.5zM181.6 608.6l5 -2.8v5.5zM182.6 609.1l5 -2.8v5.5zM183.6 609.3l5 -2.8v5.5zM184.6 609l5 -2.8v5.5zM185.6 607.5l5 -2.8v5.5zM186.6 608.7l5 -2.8v5.5zM187.6 606.3l5 -2.8v5.5zM188.6 607.5l5 -2.8v5.5zM189.6 605.9l5 -2.8v5.5zM190.6 607.8l5 -2.8v5.5zM191.6 608.1l5 -2.8v5.5zM192.6 607l5 -2.8v5.5zM193.6 606.7l5 -2.8v5.5zM194.6 607.9l5 -2.8v5.5zM195.6 609.6l5 -2.8v5.5zM196.6 608.2l5 -2.8v5.5zM197.6 607.1l5 -2.8v5.5zM198.6 609l5 -2.8v5.5zM199.6 607.9l5 -2.8v5.5zM200.6 608.2l5 -2.8v5.5zM201.6 609.2l5 -2.8v5.5zM202.6 606.4l5 -2.8v5.5zM203.6 608.8l5 -2.8v5.5zM204.6 607l5 -2.8v5.5zM205.6 608.8l5 -2.8v5.5zM206.6 609l5 -2.8v5.5zM207.6 606.9l5 -2.8v5.5zM208.6 605l5 -2.8v5.5zM209.6 605.9l5 -2.8v5.5zM210.6 606.4l5 -2.8v5.5zM211.6 608.2l5 -2.8v5.5zM212.6 607.6l5 -2.8v5.5zM213.6 609.2l5 -2.8v5.5zM214.6 609.2l5 -2.8v5.5zM215.6 607.8l5 -2.8v5.5zM216.6 608.1l5 -2.8v5.5zM217.6 607.9l5 -2.8v5.5zM218.6 607l5 -2.8v5.5zM219.6 607.6l5 -2.8v5.5zM220.6 607.2l5 -2.8v5.5zM221.7 609.1l5 -2.8v5.5zM222.7 606.7l5 -2.8v5.5zM223.5 606.7l5 -2.8v5.5zM224.4 609.9l5 -2.8v5.5zM225.3 610.5l5 -2.8v5.5zM226.2 609.5l5 -2.8v5.5zM227.1 609.8l5 -2.8v5.5zM228 612.2l5 -2.8v5.5zM228.5 612.5l5 -2.8v5.5zM229.1 614.6l5 -2.8v5.5zM229.6 614.7l5 -2.8v5.5zM230.1 614.1l5 -2.8v5.5zM230.9 613.2l5 -2.8v5.5zM231.6 611.4l5 -2.8v5.5zM232.3 613.3l5 -2.8v5.5zM233.3 610.7l5 -2.8v5.5zM234.4 608.4l5 -2.8v5.5zM235.5 611.5l5 -2.8v5.5zM236.6 607.9l5 -2.8v5.5zM237.6 607.5l5 -2.8v5.5zM238.6 608.2l5 -2.8v5.5zM239.6 609l5 -2.8v5.5zM240.6 608.3l5 -2.8v5.5zM241.7 608.2l5 -2.8v5.5zM242.7 608l5 -2.8v5.5zM243.7 608.5l5 -2.8v5.5zM244.7 607.6l5 -2.8v5.5zM245.7 609.8l5 -2.8v5.5zM246.7 607.6l5 -2.8v5.5zM247.7 608.6l5 -2.8v5.5zM248.7 610.3l5 -2.8v5.5zM249.7 607.6l5 -2.8v5.5zM250.7 610.7l5 -2.8v5.5zM251.7 608.6l5 -2.8v5.5zM252.7 609.4l5 -2.8v5.5zM253.7 610.2l5 -2.8v5.5zM254.7 607.5l5 -2.8v5.5zM255.7 605.6l5 -2.8v5.5zM256.8 609.5l5 -2.8v5.5zM257.8 608.5l5 -2.8v5.5zM258.8 609.8l5 -2.8v5.5zM259.8 608.3l5 -2.8v5.5zM260.8 608.7l5 -2.8v5.5zM261.8 609.2l5 -2.8v5.5zM262.8 611l5 -2.8v5.5zM263.8 608.9l5 -2.8v5.5zM264.8 611.6l5 -2.8v5.5zM265.8 611.1l5 -2.8v5.5zM266.8 606.1l5 -2.8v5.5zM267.8 608.1l5 -2.8v5.5zM268.8 610.7l5 -2.8v5.5zM269.8 609.4l5 -2.8v5.5zM270.8 609.6l5 -2.8v5.5zM271.9 608.2l5 -2.8v5.5z"/>
</g>
<path fill="#111" d="M232.4 522.4h1.8v2.5h-1.8zM232.4 530.7h1.8v2.5h-1.8zM232.4 539.1h1.8v2.5h-1.8zM232.4 547.5h1.8v2.5h-1.8zM232.4 555.9h1.8v2.5h-1.8zM232.4 564.2h1.8v2.5h-1.8zM232.4 572.6h1.8v2.5h-1.8zM232.4 581h1.8v2.5h-1.8zM232.4 589.4h1.8v2.5h-1.8zM232.4 597.8h1.8v2.5h-1.8zM232.4 606.1h1.8v2.5h-1.8zM232.4 614.5h1.8v2.5h-1.8zM232.4 622.9h1.8v2.5h-1.8zM232.4 631.3h1.8v2.5h-1.8zM232.4 639.7h1.8v2.5h-1.8zM232.4 648h1.8v2.5h-1.8zM232.4 656.4h1.8v2.5h-1.8zM232.4 664.8h1.8v2.5h-1.8zM232.4 673.2h1.8v2.5h-1.8zM232.4 681.6h1.8v2.5h-1.8zM232.4 689.9h1.8v2.5h-1.8z"/>
<rect x="226" y="525.5" width="42.5" height="12.5" fill="#fff"/>
<text transform="translate(47.7,701.1) scale(1,1.08)" font-size="14.6" text-anchor="end" fill="#555">0.0</text>
<text transform="translate(47.7,657.5) scale(1,1.08)" font-size="14.6" text-anchor="end" fill="#555">0.5</text>
<text transform="translate(47.7,613.8) scale(1,1.08)" font-size="14.6" text-anchor="end" fill="#555">1.0</text>
<text transform="translate(47.7,570.1) scale(1,1.08)" font-size="14.6" text-anchor="end" fill="#555">1.5</text>
<text transform="translate(47.7,526.5) scale(1,1.08)" font-size="14.6" text-anchor="end" fill="#555">2.0</text>
<text transform="translate(286.9,701.1) scale(1,1.08)" font-size="14.6" text-anchor="start" fill="#555">0</text>
<text transform="translate(286.9,642.9) scale(1,1.08)" font-size="14.6" text-anchor="start" fill="#555">2</text>
<text transform="translate(286.9,584.7) scale(1,1.08)" font-size="14.6" text-anchor="start" fill="#555">4</text>
<text transform="translate(286.9,526.5) scale(1,1.08)" font-size="14.6" text-anchor="start" fill="#555">6</text>
<text transform="translate(60.7,721.1) scale(1,1.08)" font-size="14.6" text-anchor="middle" fill="#555">0</text>
<text transform="translate(103.5,721.1) scale(1,1.08)" font-size="14.6" text-anchor="middle" fill="#555">200</text>
<text transform="translate(146.3,721.1) scale(1,1.08)" font-size="14.6" text-anchor="middle" fill="#555">400</text>
<text transform="translate(189,721.1) scale(1,1.08)" font-size="14.6" text-anchor="middle" fill="#555">600</text>
<text transform="translate(231.8,721.1) scale(1,1.08)" font-size="14.6" text-anchor="middle" fill="#555">800</text>
<text transform="translate(274.6,721.1) scale(1,1.08)" font-size="14.6" text-anchor="middle" fill="#555">1000</text>
<text transform="translate(167.8,749.5) scale(1,1.04)" font-size="15.6" text-anchor="middle" fill="#555">Depth (nm)</text>
<text transform="translate(161,518.7) scale(1,1.07)" font-size="14.8" text-anchor="start" fill="#555">B14A3</text>
<text transform="translate(14.1,609.2) rotate(-90) scale(1,1.12)" font-size="15.5" text-anchor="middle" fill="#555">C<tspan font-size="11" dy="4.6">norm</tspan><tspan dy="-4.6">(i)</tspan></text>
<text transform="translate(319.6,610.7) rotate(-90) scale(1,1.04)" font-size="15.8" text-anchor="middle" fill="#555">C<tspan font-size="11" dy="4.6">norm</tspan><tspan dy="-4.6">(</tspan><tspan fill="#35c6cf">H</tspan><tspan fill="#35c6cf" font-size="9" dy="-4.5">+</tspan><tspan dy="4.5">)</tspan></text>
<text transform="translate(136.9,537.1) scale(1,1.08)" font-size="12.9" text-anchor="start" fill="#555">Gel</text>
<text transform="translate(227.3,537) scale(1,1.08)" font-size="12.9" text-anchor="start" fill="#555">Pristine</text>
<text transform="translate(236.6,556.7) scale(1,1.08)" font-size="12.9" text-anchor="start" fill="#555">glass</text>
<path d="M410.5 687.8h5M410.5 679h5M410.5 670.3h5M410.5 661.6h5M410.5 652.9h11M410.5 644.1h5M410.5 635.4h5M410.5 626.7h5M410.5 617.9h5M410.5 609.2h11M410.5 600.5h5M410.5 591.7h5M410.5 583h5M410.5 574.3h5M410.5 565.5h11M410.5 556.8h5M410.5 548.1h5M410.5 539.4h5M410.5 530.6h5M624.4 687.8h-5.5M624.4 679h-5.5M624.4 670.3h-5.5M624.4 661.6h-5.5M624.4 652.9h-11M624.4 644.1h-5.5M624.4 635.4h-5.5M624.4 626.7h-5.5M624.4 617.9h-5.5M624.4 609.2h-11M624.4 600.5h-5.5M624.4 591.7h-5.5M624.4 583h-5.5M624.4 574.3h-5.5M624.4 565.5h-11M624.4 556.8h-5.5M624.4 548.1h-5.5M624.4 539.4h-5.5M624.4 530.6h-5.5M419.1 696.5v-4.5M427.6 696.5v-4.5M436.2 696.5v-4.5M444.7 696.5v-4.5M453.3 696.5v-10.5M461.8 696.5v-4.5M470.4 696.5v-4.5M478.9 696.5v-4.5M487.5 696.5v-4.5M496.1 696.5v-10.5M504.6 696.5v-4.5M513.2 696.5v-4.5M521.7 696.5v-4.5M530.3 696.5v-4.5M538.8 696.5v-10.5M547.4 696.5v-4.5M556 696.5v-4.5M564.5 696.5v-4.5M573.1 696.5v-4.5M581.6 696.5v-10.5M590.2 696.5v-4.5M598.7 696.5v-4.5M607.3 696.5v-4.5M615.8 696.5v-4.5" stroke="#111" stroke-width="1.4" fill="none"/>
<rect x="410.5" y="521.9" width="213.9" height="174.6" fill="none" stroke="#111" stroke-width="1.5"/>
<clipPath id="c6"><rect x="410" y="521.4" width="214.9" height="175.6"/></clipPath><g clip-path="url(#c6)">
<polyline fill="none" stroke="#f3b3fb" stroke-width="5" stroke-linejoin="round" stroke-linecap="round" points="410.9,635.4 412.8,645 414.4,658.1 420.8,657.2 432.1,650.2 443.3,644.1 453,651.1 461,654.6 472.1,646.7 483.5,637.1 494.6,627.5 504.4,617.9 512.3,614.4 517.9,610.9"/>
<path fill="#f3b3fb" d="M410.9 632l2.8 5h-5.5zM411.1 632.6l2.8 5h-5.5zM411.3 634.7l2.8 5h-5.5zM411.6 636.7l2.8 5h-5.5zM411.8 635.9l2.8 5h-5.5zM412 639.5l2.8 5h-5.5zM412.2 638.3l2.8 5h-5.5zM412.4 639.8l2.8 5h-5.5zM412.6 641.1l2.8 5h-5.5zM412.8 643.1l2.8 5h-5.5zM412.9 643.9l2.8 5h-5.5zM413.1 644.5l2.8 5h-5.5zM413.2 643.9l2.8 5h-5.5zM413.3 645.3l2.8 5h-5.5zM413.4 647.3l2.8 5h-5.5zM413.5 650.5l2.8 5h-5.5zM413.7 648.9l2.8 5h-5.5zM413.8 651.2l2.8 5h-5.5zM413.9 652.6l2.8 5h-5.5zM414 652l2.8 5h-5.5zM414.1 653.6l2.8 5h-5.5zM414.3 653.8l2.8 5h-5.5zM414.4 655.5l2.8 5h-5.5zM415.5 653.6l2.8 5h-5.5zM416.5 658.3l2.8 5h-5.5zM417.6 653.5l2.8 5h-5.5zM418.6 655.1l2.8 5h-5.5zM419.7 656.6l2.8 5h-5.5zM420.8 656.9l2.8 5h-5.5zM421.6 654.1l2.8 5h-5.5zM422.5 652.9l2.8 5h-5.5zM423.4 654.2l2.8 5h-5.5zM424.3 652.2l2.8 5h-5.5zM425.1 649.6l2.8 5h-5.5zM426 653.2l2.8 5h-5.5zM426.9 651.6l2.8 5h-5.5zM427.7 650.4l2.8 5h-5.5zM428.6 648.6l2.8 5h-5.5zM429.5 651.5l2.8 5h-5.5zM430.4 648.3l2.8 5h-5.5zM431.2 647.3l2.8 5h-5.5zM432.1 645.9l2.8 5h-5.5zM433 645.7l2.8 5h-5.5zM434 648.8l2.8 5h-5.5zM434.9 645.7l2.8 5h-5.5zM435.8 645.3l2.8 5h-5.5zM436.8 645.2l2.8 5h-5.5zM437.7 644.6l2.8 5h-5.5zM438.6 645.9l2.8 5h-5.5zM439.5 643.3l2.8 5h-5.5zM440.5 641.7l2.8 5h-5.5zM441.4 644.3l2.8 5h-5.5zM442.3 639.7l2.8 5h-5.5zM443.3 641.1l2.8 5h-5.5zM444.2 639l2.8 5h-5.5zM445 643.1l2.8 5h-5.5zM445.9 644l2.8 5h-5.5zM446.8 644.1l2.8 5h-5.5zM447.7 644.2l2.8 5h-5.5zM448.6 642.9l2.8 5h-5.5zM449.4 647.1l2.8 5h-5.5zM450.3 647.3l2.8 5h-5.5zM451.2 645.7l2.8 5h-5.5zM452.1 647.4l2.8 5h-5.5zM453 648l2.8 5h-5.5zM454 650.5l2.8 5h-5.5zM455 647.7l2.8 5h-5.5zM456 650.9l2.8 5h-5.5zM457 646.5l2.8 5h-5.5zM458 652.3l2.8 5h-5.5zM459 654.3l2.8 5h-5.5zM460 652l2.8 5h-5.5zM461 651.3l2.8 5h-5.5zM461.8 649.9l2.8 5h-5.5zM462.7 651.2l2.8 5h-5.5zM463.5 651.9l2.8 5h-5.5zM464.4 651l2.8 5h-5.5zM465.3 647.6l2.8 5h-5.5zM466.1 649.5l2.8 5h-5.5zM467 647.4l2.8 5h-5.5zM467.8 646.5l2.8 5h-5.5zM468.7 646.3l2.8 5h-5.5zM469.5 646.1l2.8 5h-5.5zM470.4 645.6l2.8 5h-5.5zM471.2 642.6l2.8 5h-5.5zM472.1 646.5l2.8 5h-5.5zM472.9 644.5l2.8 5h-5.5zM473.7 641.9l2.8 5h-5.5zM474.5 638.9l2.8 5h-5.5zM475.4 643.3l2.8 5h-5.5zM476.2 637.9l2.8 5h-5.5zM477 638.9l2.8 5h-5.5zM477.8 639.6l2.8 5h-5.5zM478.6 638.1l2.8 5h-5.5zM479.4 638.6l2.8 5h-5.5zM480.2 637.6l2.8 5h-5.5zM481 637.1l2.8 5h-5.5zM481.9 636.1l2.8 5h-5.5zM482.7 634.2l2.8 5h-5.5zM483.5 631.9l2.8 5h-5.5zM484.3 634.3l2.8 5h-5.5zM485.1 630.9l2.8 5h-5.5zM485.9 632.3l2.8 5h-5.5zM486.7 631.4l2.8 5h-5.5zM487.5 631.5l2.8 5h-5.5zM488.3 626.6l2.8 5h-5.5zM489.1 631.2l2.8 5h-5.5zM489.9 628.8l2.8 5h-5.5zM490.7 629.2l2.8 5h-5.5zM491.5 627.9l2.8 5h-5.5zM492.3 627.6l2.8 5h-5.5zM493.1 626.4l2.8 5h-5.5zM493.9 625l2.8 5h-5.5zM494.6 625.5l2.8 5h-5.5zM495.4 624.2l2.8 5h-5.5zM496.1 623.2l2.8 5h-5.5zM496.9 623.7l2.8 5h-5.5zM497.6 621.1l2.8 5h-5.5zM498.4 620.4l2.8 5h-5.5zM499.1 619.6l2.8 5h-5.5zM499.9 621l2.8 5h-5.5zM500.6 619l2.8 5h-5.5zM501.4 618.4l2.8 5h-5.5zM502.1 618l2.8 5h-5.5zM502.9 617.9l2.8 5h-5.5zM503.6 616.1l2.8 5h-5.5zM504.4 614.8l2.8 5h-5.5zM505.4 615l2.8 5h-5.5zM506.3 613.9l2.8 5h-5.5zM507.3 615.4l2.8 5h-5.5zM508.3 614.7l2.8 5h-5.5zM509.3 614.1l2.8 5h-5.5zM510.3 612.9l2.8 5h-5.5zM511.3 611.3l2.8 5h-5.5zM512.3 611.7l2.8 5h-5.5zM513.2 610.1l2.8 5h-5.5zM514.2 612.3l2.8 5h-5.5zM515.1 609.5l2.8 5h-5.5zM516 608.2l2.8 5h-5.5zM517 609.2l2.8 5h-5.5zM517.9 608.6l2.8 5h-5.5z"/>
<path fill="#f3b3fb" d="M508.9 593.5l2.8 5h-5.5zM510.3 591.9l2.8 5h-5.5zM511.6 590.9l2.8 5h-5.5zM513 589.2l2.8 5h-5.5zM514.4 594.8l2.8 5h-5.5zM515.8 598.5l2.8 5h-5.5zM517.1 598.9l2.8 5h-5.5zM518.5 598.2l2.8 5h-5.5zM519.9 587.6l2.8 5h-5.5zM521.3 586.5l2.8 5h-5.5zM522.6 599.1l2.8 5h-5.5zM524 604.7l2.8 5h-5.5zM525.4 596.2l2.8 5h-5.5zM526.8 598.8l2.8 5h-5.5zM528.1 589.2l2.8 5h-5.5zM529.5 586.2l2.8 5h-5.5zM530.9 593.4l2.8 5h-5.5zM532.3 606.3l2.8 5h-5.5zM533.6 595.1l2.8 5h-5.5zM535 604.8l2.8 5h-5.5zM536.4 594.6l2.8 5h-5.5zM537.8 587.5l2.8 5h-5.5zM539.1 590.8l2.8 5h-5.5zM540.5 595.8l2.8 5h-5.5zM541.9 603.2l2.8 5h-5.5zM543.3 584.2l2.8 5h-5.5zM544.6 585.5l2.8 5h-5.5zM546 594.8l2.8 5h-5.5zM547.4 605.3l2.8 5h-5.5zM548.8 590l2.8 5h-5.5zM550.1 596.6l2.8 5h-5.5zM551.5 596.6l2.8 5h-5.5zM552.9 596.9l2.8 5h-5.5zM554.3 599.3l2.8 5h-5.5zM555.6 602.5l2.8 5h-5.5zM557 589.9l2.8 5h-5.5zM558.4 593.1l2.8 5h-5.5zM559.8 595.1l2.8 5h-5.5zM561.1 587.3l2.8 5h-5.5zM562.5 593.5l2.8 5h-5.5zM563.9 601.9l2.8 5h-5.5zM565.3 599.4l2.8 5h-5.5zM566.6 592.4l2.8 5h-5.5zM568 589.9l2.8 5h-5.5zM569.4 590.8l2.8 5h-5.5zM570.8 588.2l2.8 5h-5.5zM572.1 597.8l2.8 5h-5.5zM573.5 587.9l2.8 5h-5.5zM574.9 592.5l2.8 5h-5.5zM576.3 600.7l2.8 5h-5.5zM577.6 603.9l2.8 5h-5.5zM579 591.8l2.8 5h-5.5zM580.4 586.5l2.8 5h-5.5zM581.8 584.1l2.8 5h-5.5zM583.1 587.5l2.8 5h-5.5zM584.5 587.6l2.8 5h-5.5zM585.9 593.4l2.8 5h-5.5zM587.3 602l2.8 5h-5.5zM588.6 600.9l2.8 5h-5.5zM590 587.3l2.8 5h-5.5zM591.4 601.8l2.8 5h-5.5zM592.8 596.9l2.8 5h-5.5zM594.1 595.4l2.8 5h-5.5zM595.5 608.6l2.8 5h-5.5zM596.9 606.5l2.8 5h-5.5zM598.3 604.5l2.8 5h-5.5zM599.6 590.1l2.8 5h-5.5zM601 590.5l2.8 5h-5.5zM602.4 607.7l2.8 5h-5.5zM603.8 605.7l2.8 5h-5.5zM605.1 585l2.8 5h-5.5zM606.5 604.5l2.8 5h-5.5zM607.9 588.4l2.8 5h-5.5zM609.3 593.1l2.8 5h-5.5zM610.6 585.5l2.8 5h-5.5zM612 588.3l2.8 5h-5.5zM613.4 603.3l2.8 5h-5.5zM614.8 586.3l2.8 5h-5.5zM616.1 587.1l2.8 5h-5.5zM617.5 603l2.8 5h-5.5zM618.9 580.4l2.8 5h-5.5zM620.3 595.7l2.8 5h-5.5zM621.6 591l2.8 5h-5.5zM623 588.9l2.8 5h-5.5zM624.4 587.6l2.8 5h-5.5z"/>
<path fill="#f3b3fb" d="M519.6 616.3l2.8 5h-5.5zM522.5 620.7l2.8 5h-5.5zM525.3 613.8l2.8 5h-5.5zM528.2 616.7l2.8 5h-5.5zM531.1 620.4l2.8 5h-5.5zM534 616.9l2.8 5h-5.5zM536.8 619.5l2.8 5h-5.5zM539.7 617.1l2.8 5h-5.5zM542.6 614.4l2.8 5h-5.5zM545.5 613.8l2.8 5h-5.5zM548.4 618.8l2.8 5h-5.5zM551.2 617.4l2.8 5h-5.5zM554.1 611.2l2.8 5h-5.5zM557 614.2l2.8 5h-5.5zM559.9 618.3l2.8 5h-5.5zM562.7 614.9l2.8 5h-5.5zM565.6 618.4l2.8 5h-5.5zM568.5 620.2l2.8 5h-5.5zM571.4 615.4l2.8 5h-5.5zM574.2 620.5l2.8 5h-5.5zM577.1 620.7l2.8 5h-5.5zM580 616.4l2.8 5h-5.5zM582.9 614.4l2.8 5h-5.5zM585.8 622.6l2.8 5h-5.5zM588.6 617.1l2.8 5h-5.5zM591.5 622.7l2.8 5h-5.5zM594.4 623.4l2.8 5h-5.5zM597.3 623.8l2.8 5h-5.5zM600.1 623.7l2.8 5h-5.5zM603 617.5l2.8 5h-5.5z"/>
<polyline fill="none" stroke="#9a9a9a" stroke-width="5.5" stroke-linejoin="round" stroke-linecap="round" points="410.5,609.2 624.4,609.2"/>
<path fill="#9a9a9a" d="M410.5 606.7l2.5 2.5 -2.5 2.5 -2.5 -2.5zM412 606.7l2.5 2.5 -2.5 2.5 -2.5 -2.5zM413.5 606.7l2.5 2.5 -2.5 2.5 -2.5 -2.5zM415 606.7l2.5 2.5 -2.5 2.5 -2.5 -2.5zM416.5 606.7l2.5 2.5 -2.5 2.5 -2.5 -2.5zM418 606.7l2.5 2.5 -2.5 2.5 -2.5 -2.5zM419.5 606.7l2.5 2.5 -2.5 2.5 -2.5 -2.5zM421 606.7l2.5 2.5 -2.5 2.5 -2.5 -2.5zM422.6 606.7l2.5 2.5 -2.5 2.5 -2.5 -2.5zM424.1 606.7l2.5 2.5 -2.5 2.5 -2.5 -2.5zM425.6 606.7l2.5 2.5 -2.5 2.5 -2.5 -2.5zM427.1 606.7l2.5 2.5 -2.5 2.5 -2.5 -2.5zM428.6 606.7l2.5 2.5 -2.5 2.5 -2.5 -2.5zM430.1 606.7l2.5 2.5 -2.5 2.5 -2.5 -2.5zM431.6 606.7l2.5 2.5 -2.5 2.5 -2.5 -2.5zM433.1 606.7l2.5 2.5 -2.5 2.5 -2.5 -2.5zM434.6 606.7l2.5 2.5 -2.5 2.5 -2.5 -2.5zM436.1 606.7l2.5 2.5 -2.5 2.5 -2.5 -2.5zM437.6 606.7l2.5 2.5 -2.5 2.5 -2.5 -2.5zM439.1 606.7l2.5 2.5 -2.5 2.5 -2.5 -2.5zM440.6 606.7l2.5 2.5 -2.5 2.5 -2.5 -2.5zM442.1 606.7l2.5 2.5 -2.5 2.5 -2.5 -2.5zM443.6 606.7l2.5 2.5 -2.5 2.5 -2.5 -2.5zM445.1 606.7l2.5 2.5 -2.5 2.5 -2.5 -2.5zM446.7 606.7l2.5 2.5 -2.5 2.5 -2.5 -2.5zM448.2 606.7l2.5 2.5 -2.5 2.5 -2.5 -2.5zM449.7 606.7l2.5 2.5 -2.5 2.5 -2.5 -2.5zM451.2 606.7l2.5 2.5 -2.5 2.5 -2.5 -2.5zM452.7 606.7l2.5 2.5 -2.5 2.5 -2.5 -2.5zM454.2 606.7l2.5 2.5 -2.5 2.5 -2.5 -2.5zM455.7 606.7l2.5 2.5 -2.5 2.5 -2.5 -2.5zM457.2 606.7l2.5 2.5 -2.5 2.5 -2.5 -2.5zM458.7 606.7l2.5 2.5 -2.5 2.5 -2.5 -2.5zM460.2 606.7l2.5 2.5 -2.5 2.5 -2.5 -2.5zM461.7 606.7l2.5 2.5 -2.5 2.5 -2.5 -2.5zM463.2 606.7l2.5 2.5 -2.5 2.5 -2.5 -2.5zM464.7 606.7l2.5 2.5 -2.5 2.5 -2.5 -2.5zM466.2 606.7l2.5 2.5 -2.5 2.5 -2.5 -2.5zM467.7 606.7l2.5 2.5 -2.5 2.5 -2.5 -2.5zM469.2 606.7l2.5 2.5 -2.5 2.5 -2.5 -2.5zM470.8 606.7l2.5 2.5 -2.5 2.5 -2.5 -2.5zM472.3 606.7l2.5 2.5 -2.5 2.5 -2.5 -2.5zM473.8 606.7l2.5 2.5 -2.5 2.5 -2.5 -2.5zM475.3 606.7l2.5 2.5 -2.5 2.5 -2.5 -2.5zM476.8 606.7l2.5 2.5 -2.5 2.5 -2.5 -2.5zM478.3 606.7l2.5 2.5 -2.5 2.5 -2.5 -2.5zM479.8 606.7l2.5 2.5 -2.5 2.5 -2.5 -2.5zM481.3 606.7l2.5 2.5 -2.5 2.5 -2.5 -2.5zM482.8 606.7l2.5 2.5 -2.5 2.5 -2.5 -2.5zM484.3 606.7l2.5 2.5 -2.5 2.5 -2.5 -2.5zM485.8 606.7l2.5 2.5 -2.5 2.5 -2.5 -2.5zM487.3 606.7l2.5 2.5 -2.5 2.5 -2.5 -2.5zM488.8 606.7l2.5 2.5 -2.5 2.5 -2.5 -2.5zM490.3 606.7l2.5 2.5 -2.5 2.5 -2.5 -2.5zM491.8 606.7l2.5 2.5 -2.5 2.5 -2.5 -2.5zM493.3 606.7l2.5 2.5 -2.5 2.5 -2.5 -2.5zM494.9 606.7l2.5 2.5 -2.5 2.5 -2.5 -2.5zM496.4 606.7l2.5 2.5 -2.5 2.5 -2.5 -2.5zM497.9 606.7l2.5 2.5 -2.5 2.5 -2.5 -2.5zM499.4 606.7l2.5 2.5 -2.5 2.5 -2.5 -2.5zM500.9 606.7l2.5 2.5 -2.5 2.5 -2.5 -2.5zM502.4 606.7l2.5 2.5 -2.5 2.5 -2.5 -2.5zM503.9 606.7l2.5 2.5 -2.5 2.5 -2.5 -2.5zM505.4 606.7l2.5 2.5 -2.5 2.5 -2.5 -2.5zM506.9 606.7l2.5 2.5 -2.5 2.5 -2.5 -2.5zM508.4 606.7l2.5 2.5 -2.5 2.5 -2.5 -2.5zM509.9 606.7l2.5 2.5 -2.5 2.5 -2.5 -2.5zM511.4 606.7l2.5 2.5 -2.5 2.5 -2.5 -2.5zM512.9 606.7l2.5 2.5 -2.5 2.5 -2.5 -2.5zM514.4 606.7l2.5 2.5 -2.5 2.5 -2.5 -2.5zM515.9 606.7l2.5 2.5 -2.5 2.5 -2.5 -2.5zM517.5 606.7l2.5 2.5 -2.5 2.5 -2.5 -2.5zM519 606.7l2.5 2.5 -2.5 2.5 -2.5 -2.5zM520.5 606.7l2.5 2.5 -2.5 2.5 -2.5 -2.5zM522 606.7l2.5 2.5 -2.5 2.5 -2.5 -2.5zM523.5 606.7l2.5 2.5 -2.5 2.5 -2.5 -2.5zM525 606.7l2.5 2.5 -2.5 2.5 -2.5 -2.5zM526.5 606.7l2.5 2.5 -2.5 2.5 -2.5 -2.5zM528 606.7l2.5 2.5 -2.5 2.5 -2.5 -2.5zM529.5 606.7l2.5 2.5 -2.5 2.5 -2.5 -2.5zM531 606.7l2.5 2.5 -2.5 2.5 -2.5 -2.5zM532.5 606.7l2.5 2.5 -2.5 2.5 -2.5 -2.5zM534 606.7l2.5 2.5 -2.5 2.5 -2.5 -2.5zM535.5 606.7l2.5 2.5 -2.5 2.5 -2.5 -2.5zM537 606.7l2.5 2.5 -2.5 2.5 -2.5 -2.5zM538.5 606.7l2.5 2.5 -2.5 2.5 -2.5 -2.5zM540 606.7l2.5 2.5 -2.5 2.5 -2.5 -2.5zM541.6 606.7l2.5 2.5 -2.5 2.5 -2.5 -2.5zM543.1 606.7l2.5 2.5 -2.5 2.5 -2.5 -2.5zM544.6 606.7l2.5 2.5 -2.5 2.5 -2.5 -2.5zM546.1 606.7l2.5 2.5 -2.5 2.5 -2.5 -2.5zM547.6 606.7l2.5 2.5 -2.5 2.5 -2.5 -2.5zM549.1 606.7l2.5 2.5 -2.5 2.5 -2.5 -2.5zM550.6 606.7l2.5 2.5 -2.5 2.5 -2.5 -2.5zM552.1 606.7l2.5 2.5 -2.5 2.5 -2.5 -2.5zM553.6 606.7l2.5 2.5 -2.5 2.5 -2.5 -2.5zM555.1 606.7l2.5 2.5 -2.5 2.5 -2.5 -2.5zM556.6 606.7l2.5 2.5 -2.5 2.5 -2.5 -2.5zM558.1 606.7l2.5 2.5 -2.5 2.5 -2.5 -2.5zM559.6 606.7l2.5 2.5 -2.5 2.5 -2.5 -2.5zM561.1 606.7l2.5 2.5 -2.5 2.5 -2.5 -2.5zM562.6 606.7l2.5 2.5 -2.5 2.5 -2.5 -2.5zM564.1 606.7l2.5 2.5 -2.5 2.5 -2.5 -2.5zM565.7 606.7l2.5 2.5 -2.5 2.5 -2.5 -2.5zM567.2 606.7l2.5 2.5 -2.5 2.5 -2.5 -2.5zM568.7 606.7l2.5 2.5 -2.5 2.5 -2.5 -2.5zM570.2 606.7l2.5 2.5 -2.5 2.5 -2.5 -2.5zM571.7 606.7l2.5 2.5 -2.5 2.5 -2.5 -2.5zM573.2 606.7l2.5 2.5 -2.5 2.5 -2.5 -2.5zM574.7 606.7l2.5 2.5 -2.5 2.5 -2.5 -2.5zM576.2 606.7l2.5 2.5 -2.5 2.5 -2.5 -2.5zM577.7 606.7l2.5 2.5 -2.5 2.5 -2.5 -2.5zM579.2 606.7l2.5 2.5 -2.5 2.5 -2.5 -2.5zM580.7 606.7l2.5 2.5 -2.5 2.5 -2.5 -2.5zM582.2 606.7l2.5 2.5 -2.5 2.5 -2.5 -2.5zM583.7 606.7l2.5 2.5 -2.5 2.5 -2.5 -2.5zM585.2 606.7l2.5 2.5 -2.5 2.5 -2.5 -2.5zM586.7 606.7l2.5 2.5 -2.5 2.5 -2.5 -2.5zM588.2 606.7l2.5 2.5 -2.5 2.5 -2.5 -2.5zM589.8 606.7l2.5 2.5 -2.5 2.5 -2.5 -2.5zM591.3 606.7l2.5 2.5 -2.5 2.5 -2.5 -2.5zM592.8 606.7l2.5 2.5 -2.5 2.5 -2.5 -2.5zM594.3 606.7l2.5 2.5 -2.5 2.5 -2.5 -2.5zM595.8 606.7l2.5 2.5 -2.5 2.5 -2.5 -2.5zM597.3 606.7l2.5 2.5 -2.5 2.5 -2.5 -2.5zM598.8 606.7l2.5 2.5 -2.5 2.5 -2.5 -2.5zM600.3 606.7l2.5 2.5 -2.5 2.5 -2.5 -2.5zM601.8 606.7l2.5 2.5 -2.5 2.5 -2.5 -2.5zM603.3 606.7l2.5 2.5 -2.5 2.5 -2.5 -2.5zM604.8 606.7l2.5 2.5 -2.5 2.5 -2.5 -2.5zM606.3 606.7l2.5 2.5 -2.5 2.5 -2.5 -2.5zM607.8 606.7l2.5 2.5 -2.5 2.5 -2.5 -2.5zM609.3 606.7l2.5 2.5 -2.5 2.5 -2.5 -2.5zM610.8 606.7l2.5 2.5 -2.5 2.5 -2.5 -2.5zM612.3 606.7l2.5 2.5 -2.5 2.5 -2.5 -2.5zM613.9 606.7l2.5 2.5 -2.5 2.5 -2.5 -2.5zM615.4 606.7l2.5 2.5 -2.5 2.5 -2.5 -2.5zM616.9 606.7l2.5 2.5 -2.5 2.5 -2.5 -2.5zM618.4 606.7l2.5 2.5 -2.5 2.5 -2.5 -2.5zM619.9 606.7l2.5 2.5 -2.5 2.5 -2.5 -2.5zM621.4 606.7l2.5 2.5 -2.5 2.5 -2.5 -2.5zM622.9 606.7l2.5 2.5 -2.5 2.5 -2.5 -2.5zM624.4 606.7l2.5 2.5 -2.5 2.5 -2.5 -2.5z"/>
<polyline fill="none" stroke="#7cf8f2" stroke-width="7" stroke-linejoin="round" stroke-linecap="round" points="414.4,679 424,680.3 440,677.7 452.9,675.5 464.2,679 480.2,674.7 493.1,670.3 501.1,665.9 509.2,657.2 515.3,661.6 518.3,670.3"/>
<path fill="#7cf8f2" d="M412.3 676.3h4.2v4.2h-4.2zM413.3 675.7h4.2v4.2h-4.2zM414.4 678.3h4.2v4.2h-4.2zM415.5 676.6h4.2v4.2h-4.2zM416.5 675.6h4.2v4.2h-4.2zM417.6 676.8h4.2v4.2h-4.2zM418.7 677.8h4.2v4.2h-4.2zM419.7 673h4.2v4.2h-4.2zM420.8 673.7h4.2v4.2h-4.2zM421.9 678.4h4.2v4.2h-4.2zM422.9 677.4h4.2v4.2h-4.2zM423.9 678.7h4.2v4.2h-4.2zM424.9 674.2h4.2v4.2h-4.2zM425.9 677.7h4.2v4.2h-4.2zM426.9 677.7h4.2v4.2h-4.2zM427.9 677.2h4.2v4.2h-4.2zM428.9 677.8h4.2v4.2h-4.2zM429.9 676.9h4.2v4.2h-4.2zM430.9 678.1h4.2v4.2h-4.2zM431.9 679.8h4.2v4.2h-4.2zM432.9 677.7h4.2v4.2h-4.2zM433.9 677.6h4.2v4.2h-4.2zM434.9 676.7h4.2v4.2h-4.2zM435.9 677.1h4.2v4.2h-4.2zM436.9 677.3h4.2v4.2h-4.2zM437.9 676.5h4.2v4.2h-4.2zM438.9 671.7h4.2v4.2h-4.2zM439.9 678.4h4.2v4.2h-4.2zM440.9 674.7h4.2v4.2h-4.2zM441.9 677.6h4.2v4.2h-4.2zM442.9 678.7h4.2v4.2h-4.2zM443.8 672.2h4.2v4.2h-4.2zM444.8 674.6h4.2v4.2h-4.2zM445.8 673.4h4.2v4.2h-4.2zM446.8 674.3h4.2v4.2h-4.2zM447.8 672.5h4.2v4.2h-4.2zM448.8 671.6h4.2v4.2h-4.2zM449.8 672.7h4.2v4.2h-4.2zM450.8 672.5h4.2v4.2h-4.2zM451.8 669.4h4.2v4.2h-4.2zM452.8 671.3h4.2v4.2h-4.2zM453.8 675.9h4.2v4.2h-4.2zM454.9 674.1h4.2v4.2h-4.2zM455.9 674.1h4.2v4.2h-4.2zM456.9 675.1h4.2v4.2h-4.2zM458 675.6h4.2v4.2h-4.2zM459 677.7h4.2v4.2h-4.2zM460 677.4h4.2v4.2h-4.2zM461.1 675.8h4.2v4.2h-4.2zM462.1 676.9h4.2v4.2h-4.2zM463.1 678.4h4.2v4.2h-4.2zM464.1 673.6h4.2v4.2h-4.2zM465.1 677.2h4.2v4.2h-4.2zM466.1 673.2h4.2v4.2h-4.2zM467.1 678.3h4.2v4.2h-4.2zM468.1 674.5h4.2v4.2h-4.2zM469.1 674.8h4.2v4.2h-4.2zM470.1 675.7h4.2v4.2h-4.2zM471.1 673.7h4.2v4.2h-4.2zM472.1 668.9h4.2v4.2h-4.2zM473.1 672.1h4.2v4.2h-4.2zM474.1 670.3h4.2v4.2h-4.2zM475.1 670.5h4.2v4.2h-4.2zM476.1 671.2h4.2v4.2h-4.2zM477.1 673.7h4.2v4.2h-4.2zM478.1 669.9h4.2v4.2h-4.2zM479.1 672.9h4.2v4.2h-4.2zM480.1 670.6h4.2v4.2h-4.2zM481.1 671.8h4.2v4.2h-4.2zM482.1 667.8h4.2v4.2h-4.2zM483.1 671h4.2v4.2h-4.2zM484.1 668.6h4.2v4.2h-4.2zM485 671h4.2v4.2h-4.2zM486 670.4h4.2v4.2h-4.2zM487 670.1h4.2v4.2h-4.2zM488 666.4h4.2v4.2h-4.2zM489 667.9h4.2v4.2h-4.2zM490 668.4h4.2v4.2h-4.2zM491 668.7h4.2v4.2h-4.2zM491.9 667.4h4.2v4.2h-4.2zM492.7 666.1h4.2v4.2h-4.2zM493.6 666.3h4.2v4.2h-4.2zM494.5 667.1h4.2v4.2h-4.2zM495.4 665.4h4.2v4.2h-4.2zM496.3 665.8h4.2v4.2h-4.2zM497.2 663.4h4.2v4.2h-4.2zM498.1 665.8h4.2v4.2h-4.2zM499 661.1h4.2v4.2h-4.2zM499.7 662.9h4.2v4.2h-4.2zM500.4 664.5h4.2v4.2h-4.2zM501.2 660.2h4.2v4.2h-4.2zM501.9 661.7h4.2v4.2h-4.2zM502.6 660.1h4.2v4.2h-4.2zM503.4 657.5h4.2v4.2h-4.2zM504.1 659.7h4.2v4.2h-4.2zM504.8 657.6h4.2v4.2h-4.2zM505.6 658.9h4.2v4.2h-4.2zM506.3 654.5h4.2v4.2h-4.2zM507.1 654.3h4.2v4.2h-4.2zM507.9 657.2h4.2v4.2h-4.2zM508.8 653.8h4.2v4.2h-4.2zM509.7 657.6h4.2v4.2h-4.2zM510.6 654.6h4.2v4.2h-4.2zM511.5 655.7h4.2v4.2h-4.2zM512.3 658.5h4.2v4.2h-4.2zM513.2 660.3h4.2v4.2h-4.2zM513.5 660.1h4.2v4.2h-4.2zM513.9 662.4h4.2v4.2h-4.2zM514.2 656.6h4.2v4.2h-4.2zM514.5 664h4.2v4.2h-4.2zM514.9 666.2h4.2v4.2h-4.2zM515.2 665.2h4.2v4.2h-4.2zM515.5 664.3h4.2v4.2h-4.2zM515.9 665.9h4.2v4.2h-4.2zM516.2 667.5h4.2v4.2h-4.2zM408.8 550.4h4.2v4.2h-4.2zM408.8 559.1h4.2v4.2h-4.2zM409.3 594h4.2v4.2h-4.2zM409.3 628.1h4.2v4.2h-4.2zM409.7 640.3h4.2v4.2h-4.2zM410.1 650.8h4.2v4.2h-4.2zM410.5 659.5h4.2v4.2h-4.2zM411 668.2h4.2v4.2h-4.2zM411.8 663.8h4.2v4.2h-4.2z"/>
<path fill="#7cf8f2" d="M516.1 683.1h4.5v4.5h-4.5zM516.5 670.3h4.5v4.5h-4.5zM517 675.9h4.5v4.5h-4.5zM517.4 665.7h4.5v4.5h-4.5zM517.9 683.5h4.5v4.5h-4.5zM518.4 675.3h4.5v4.5h-4.5zM518.8 668.6h4.5v4.5h-4.5zM519.3 671.4h4.5v4.5h-4.5zM519.8 673.2h4.5v4.5h-4.5zM520.2 688.6h4.5v4.5h-4.5zM520.7 688.4h4.5v4.5h-4.5zM521.2 683.8h4.5v4.5h-4.5zM521.6 674.5h4.5v4.5h-4.5zM522.1 691.8h4.5v4.5h-4.5zM522.5 674.4h4.5v4.5h-4.5zM523 689.4h4.5v4.5h-4.5zM523.5 687.4h4.5v4.5h-4.5zM523.9 685.1h4.5v4.5h-4.5zM524.4 677.5h4.5v4.5h-4.5zM524.9 672.8h4.5v4.5h-4.5zM525.3 666.4h4.5v4.5h-4.5zM525.8 686.5h4.5v4.5h-4.5zM526.2 690.5h4.5v4.5h-4.5zM526.7 669h4.5v4.5h-4.5zM527.2 676.5h4.5v4.5h-4.5zM527.6 667.3h4.5v4.5h-4.5zM528.1 673h4.5v4.5h-4.5zM528.6 689.4h4.5v4.5h-4.5zM529 682.9h4.5v4.5h-4.5zM529.5 687h4.5v4.5h-4.5zM530 680.5h4.5v4.5h-4.5zM530.4 685.1h4.5v4.5h-4.5zM530.9 669.1h4.5v4.5h-4.5zM531.3 668.1h4.5v4.5h-4.5zM531.8 687.9h4.5v4.5h-4.5zM532.3 665.3h4.5v4.5h-4.5zM532.7 666.3h4.5v4.5h-4.5zM533.2 682.5h4.5v4.5h-4.5zM533.7 668.8h4.5v4.5h-4.5zM534.1 666.8h4.5v4.5h-4.5zM534.6 672.8h4.5v4.5h-4.5zM535.1 683.2h4.5v4.5h-4.5zM535.5 675.7h4.5v4.5h-4.5zM536 671.9h4.5v4.5h-4.5zM536.4 683.9h4.5v4.5h-4.5zM536.9 680.1h4.5v4.5h-4.5zM537.4 690.9h4.5v4.5h-4.5zM537.8 689h4.5v4.5h-4.5zM538.3 671.2h4.5v4.5h-4.5zM538.8 684.8h4.5v4.5h-4.5zM539.2 673.8h4.5v4.5h-4.5zM539.7 681.4h4.5v4.5h-4.5zM540.1 673.5h4.5v4.5h-4.5zM540.6 685.4h4.5v4.5h-4.5zM541.1 691h4.5v4.5h-4.5zM541.5 674.7h4.5v4.5h-4.5zM542 686.2h4.5v4.5h-4.5zM542.5 687.7h4.5v4.5h-4.5zM542.9 680.4h4.5v4.5h-4.5zM543.4 679.5h4.5v4.5h-4.5zM543.9 668.5h4.5v4.5h-4.5zM544.3 673.9h4.5v4.5h-4.5zM544.8 681.2h4.5v4.5h-4.5zM545.2 681.1h4.5v4.5h-4.5zM545.7 676.6h4.5v4.5h-4.5zM546.2 689.8h4.5v4.5h-4.5zM546.6 685h4.5v4.5h-4.5zM547.1 676.5h4.5v4.5h-4.5zM547.6 667.1h4.5v4.5h-4.5zM548 676.6h4.5v4.5h-4.5zM548.5 687.5h4.5v4.5h-4.5zM548.9 666.3h4.5v4.5h-4.5zM549.4 671.1h4.5v4.5h-4.5zM549.9 687.2h4.5v4.5h-4.5zM550.3 683.1h4.5v4.5h-4.5zM550.8 692.4h4.5v4.5h-4.5zM551.3 672.1h4.5v4.5h-4.5zM551.7 687.3h4.5v4.5h-4.5zM552.2 670.3h4.5v4.5h-4.5zM552.7 673.3h4.5v4.5h-4.5zM553.1 671.7h4.5v4.5h-4.5zM553.6 677.6h4.5v4.5h-4.5zM554 686.6h4.5v4.5h-4.5zM554.5 692.4h4.5v4.5h-4.5zM555 676.8h4.5v4.5h-4.5zM555.4 693h4.5v4.5h-4.5zM555.9 678.9h4.5v4.5h-4.5zM556.4 671.8h4.5v4.5h-4.5zM556.8 689.5h4.5v4.5h-4.5zM557.3 681.2h4.5v4.5h-4.5zM557.8 678.3h4.5v4.5h-4.5zM558.2 689.2h4.5v4.5h-4.5zM558.7 687.7h4.5v4.5h-4.5zM559.1 676.3h4.5v4.5h-4.5zM559.6 688.5h4.5v4.5h-4.5zM560.1 689.1h4.5v4.5h-4.5zM560.5 687.2h4.5v4.5h-4.5zM561 667.2h4.5v4.5h-4.5zM561.5 668.3h4.5v4.5h-4.5zM561.9 690.3h4.5v4.5h-4.5zM562.4 677.4h4.5v4.5h-4.5zM562.8 681.9h4.5v4.5h-4.5zM563.3 692.5h4.5v4.5h-4.5zM563.8 686.4h4.5v4.5h-4.5zM564.2 675.2h4.5v4.5h-4.5zM564.7 692.8h4.5v4.5h-4.5zM565.2 666.6h4.5v4.5h-4.5zM565.6 685.4h4.5v4.5h-4.5zM566.1 683.7h4.5v4.5h-4.5zM566.6 666.9h4.5v4.5h-4.5zM567 689.5h4.5v4.5h-4.5zM567.5 689.7h4.5v4.5h-4.5zM567.9 680.2h4.5v4.5h-4.5zM568.4 684.6h4.5v4.5h-4.5zM568.9 684.5h4.5v4.5h-4.5zM569.3 677.1h4.5v4.5h-4.5zM569.8 666.8h4.5v4.5h-4.5zM570.3 681.8h4.5v4.5h-4.5zM570.7 692.2h4.5v4.5h-4.5zM571.2 683h4.5v4.5h-4.5zM571.7 669.6h4.5v4.5h-4.5zM572.1 681.3h4.5v4.5h-4.5zM572.6 691.7h4.5v4.5h-4.5zM573 686.4h4.5v4.5h-4.5zM573.5 687h4.5v4.5h-4.5zM574 683.6h4.5v4.5h-4.5zM574.4 684.5h4.5v4.5h-4.5zM574.9 674.6h4.5v4.5h-4.5zM575.4 673.3h4.5v4.5h-4.5zM575.8 692.1h4.5v4.5h-4.5zM576.3 689.3h4.5v4.5h-4.5zM576.7 670.4h4.5v4.5h-4.5zM577.2 668.9h4.5v4.5h-4.5zM577.7 671.4h4.5v4.5h-4.5zM578.1 688.4h4.5v4.5h-4.5zM578.6 674h4.5v4.5h-4.5zM579.1 691.3h4.5v4.5h-4.5zM579.5 674.5h4.5v4.5h-4.5zM580 687.2h4.5v4.5h-4.5zM580.5 669.9h4.5v4.5h-4.5zM580.9 669.8h4.5v4.5h-4.5zM581.4 680.3h4.5v4.5h-4.5zM581.8 673.1h4.5v4.5h-4.5zM582.3 667h4.5v4.5h-4.5zM582.8 668.4h4.5v4.5h-4.5zM583.2 675.3h4.5v4.5h-4.5zM583.7 676.2h4.5v4.5h-4.5zM584.2 683.4h4.5v4.5h-4.5zM584.6 674.3h4.5v4.5h-4.5zM585.1 689.4h4.5v4.5h-4.5zM585.5 680.6h4.5v4.5h-4.5zM586 691h4.5v4.5h-4.5zM586.5 690.8h4.5v4.5h-4.5zM586.9 674.7h4.5v4.5h-4.5zM587.4 681.5h4.5v4.5h-4.5zM587.9 687.6h4.5v4.5h-4.5zM588.3 666.9h4.5v4.5h-4.5zM588.8 685.3h4.5v4.5h-4.5zM589.3 678.3h4.5v4.5h-4.5zM589.7 679.7h4.5v4.5h-4.5zM590.2 688.2h4.5v4.5h-4.5zM590.6 665.6h4.5v4.5h-4.5zM591.1 672.2h4.5v4.5h-4.5zM591.6 668.5h4.5v4.5h-4.5zM592 685h4.5v4.5h-4.5zM592.5 667.9h4.5v4.5h-4.5zM593 668h4.5v4.5h-4.5zM593.4 667.1h4.5v4.5h-4.5zM593.9 688.4h4.5v4.5h-4.5zM594.4 689h4.5v4.5h-4.5zM594.8 691h4.5v4.5h-4.5zM595.3 690.9h4.5v4.5h-4.5zM595.7 673.8h4.5v4.5h-4.5zM596.2 692h4.5v4.5h-4.5zM596.7 680.4h4.5v4.5h-4.5zM597.1 683.5h4.5v4.5h-4.5zM597.6 673h4.5v4.5h-4.5zM598.1 692.1h4.5v4.5h-4.5zM598.5 673.2h4.5v4.5h-4.5zM599 666.6h4.5v4.5h-4.5zM599.4 685.1h4.5v4.5h-4.5zM599.9 682.1h4.5v4.5h-4.5zM600.4 672.7h4.5v4.5h-4.5zM600.8 684.8h4.5v4.5h-4.5zM601.3 669.7h4.5v4.5h-4.5zM601.8 665.5h4.5v4.5h-4.5zM602.2 687.2h4.5v4.5h-4.5zM602.7 680.2h4.5v4.5h-4.5zM603.2 689.3h4.5v4.5h-4.5zM603.6 677.8h4.5v4.5h-4.5zM604.1 682.4h4.5v4.5h-4.5zM604.5 666.2h4.5v4.5h-4.5zM605 673.1h4.5v4.5h-4.5zM605.5 665.7h4.5v4.5h-4.5zM605.9 670.7h4.5v4.5h-4.5zM606.4 670.3h4.5v4.5h-4.5zM606.9 682.7h4.5v4.5h-4.5zM607.3 674.8h4.5v4.5h-4.5zM607.8 690.2h4.5v4.5h-4.5zM608.3 683.7h4.5v4.5h-4.5zM608.7 667.6h4.5v4.5h-4.5zM609.2 666h4.5v4.5h-4.5zM609.6 688.5h4.5v4.5h-4.5zM610.1 679.6h4.5v4.5h-4.5zM610.6 682.1h4.5v4.5h-4.5zM611 676.1h4.5v4.5h-4.5zM611.5 676.8h4.5v4.5h-4.5zM612 686.1h4.5v4.5h-4.5zM612.4 668.8h4.5v4.5h-4.5zM612.9 680.8h4.5v4.5h-4.5zM613.3 671.7h4.5v4.5h-4.5zM613.8 673.2h4.5v4.5h-4.5zM614.3 666h4.5v4.5h-4.5zM614.7 679h4.5v4.5h-4.5zM615.2 676.9h4.5v4.5h-4.5zM615.7 671.8h4.5v4.5h-4.5zM616.1 687h4.5v4.5h-4.5zM616.6 692.1h4.5v4.5h-4.5zM617.1 670.7h4.5v4.5h-4.5zM617.5 674h4.5v4.5h-4.5zM618 672.4h4.5v4.5h-4.5zM618.4 671h4.5v4.5h-4.5zM618.9 687.8h4.5v4.5h-4.5zM619.4 668.9h4.5v4.5h-4.5zM619.8 675.5h4.5v4.5h-4.5zM620.3 667h4.5v4.5h-4.5zM620.8 677.8h4.5v4.5h-4.5zM621.2 669.2h4.5v4.5h-4.5zM621.7 691.8h4.5v4.5h-4.5zM622.1 688.8h4.5v4.5h-4.5z"/>
<polyline fill="none" stroke="#b857ee" stroke-width="2.5" stroke-linejoin="round" stroke-linecap="round" points="410.5,695.5 483.2,695.5 488.3,694.8"/>
<path fill="#b857ee" d="M408.4 695.1a2.1 2.1 0 1 0 4.2 0a2.1 2.1 0 1 0 -4.2 0zM409.9 695.4a2.1 2.1 0 1 0 4.2 0a2.1 2.1 0 1 0 -4.2 0zM411.4 695.5a2.1 2.1 0 1 0 4.2 0a2.1 2.1 0 1 0 -4.2 0zM412.9 695.6a2.1 2.1 0 1 0 4.2 0a2.1 2.1 0 1 0 -4.2 0zM414.5 695.4a2.1 2.1 0 1 0 4.2 0a2.1 2.1 0 1 0 -4.2 0zM416 695.5a2.1 2.1 0 1 0 4.2 0a2.1 2.1 0 1 0 -4.2 0zM417.5 695.5a2.1 2.1 0 1 0 4.2 0a2.1 2.1 0 1 0 -4.2 0zM419 695.4a2.1 2.1 0 1 0 4.2 0a2.1 2.1 0 1 0 -4.2 0zM420.5 695.4a2.1 2.1 0 1 0 4.2 0a2.1 2.1 0 1 0 -4.2 0zM422 695.4a2.1 2.1 0 1 0 4.2 0a2.1 2.1 0 1 0 -4.2 0zM423.6 695.7a2.1 2.1 0 1 0 4.2 0a2.1 2.1 0 1 0 -4.2 0zM425.1 695.4a2.1 2.1 0 1 0 4.2 0a2.1 2.1 0 1 0 -4.2 0zM426.6 695.7a2.1 2.1 0 1 0 4.2 0a2.1 2.1 0 1 0 -4.2 0zM428.1 695.4a2.1 2.1 0 1 0 4.2 0a2.1 2.1 0 1 0 -4.2 0zM429.6 695.7a2.1 2.1 0 1 0 4.2 0a2.1 2.1 0 1 0 -4.2 0zM431.1 695.5a2.1 2.1 0 1 0 4.2 0a2.1 2.1 0 1 0 -4.2 0zM432.6 695.1a2.1 2.1 0 1 0 4.2 0a2.1 2.1 0 1 0 -4.2 0zM434.2 695.4a2.1 2.1 0 1 0 4.2 0a2.1 2.1 0 1 0 -4.2 0zM435.7 695.2a2.1 2.1 0 1 0 4.2 0a2.1 2.1 0 1 0 -4.2 0zM437.2 695.6a2.1 2.1 0 1 0 4.2 0a2.1 2.1 0 1 0 -4.2 0zM438.7 695.4a2.1 2.1 0 1 0 4.2 0a2.1 2.1 0 1 0 -4.2 0zM440.2 695.6a2.1 2.1 0 1 0 4.2 0a2.1 2.1 0 1 0 -4.2 0zM441.7 695.3a2.1 2.1 0 1 0 4.2 0a2.1 2.1 0 1 0 -4.2 0zM443.2 695.3a2.1 2.1 0 1 0 4.2 0a2.1 2.1 0 1 0 -4.2 0zM444.8 695.2a2.1 2.1 0 1 0 4.2 0a2.1 2.1 0 1 0 -4.2 0zM446.3 695.3a2.1 2.1 0 1 0 4.2 0a2.1 2.1 0 1 0 -4.2 0zM447.8 695.7a2.1 2.1 0 1 0 4.2 0a2.1 2.1 0 1 0 -4.2 0zM449.3 695.2a2.1 2.1 0 1 0 4.2 0a2.1 2.1 0 1 0 -4.2 0zM450.8 695.3a2.1 2.1 0 1 0 4.2 0a2.1 2.1 0 1 0 -4.2 0zM452.3 695.3a2.1 2.1 0 1 0 4.2 0a2.1 2.1 0 1 0 -4.2 0zM453.9 695.3a2.1 2.1 0 1 0 4.2 0a2.1 2.1 0 1 0 -4.2 0zM455.4 695.7a2.1 2.1 0 1 0 4.2 0a2.1 2.1 0 1 0 -4.2 0zM456.9 695.7a2.1 2.1 0 1 0 4.2 0a2.1 2.1 0 1 0 -4.2 0zM458.4 695.6a2.1 2.1 0 1 0 4.2 0a2.1 2.1 0 1 0 -4.2 0zM459.9 695.4a2.1 2.1 0 1 0 4.2 0a2.1 2.1 0 1 0 -4.2 0zM461.4 695.3a2.1 2.1 0 1 0 4.2 0a2.1 2.1 0 1 0 -4.2 0zM462.9 695.5a2.1 2.1 0 1 0 4.2 0a2.1 2.1 0 1 0 -4.2 0zM464.5 695.5a2.1 2.1 0 1 0 4.2 0a2.1 2.1 0 1 0 -4.2 0zM466 695.7a2.1 2.1 0 1 0 4.2 0a2.1 2.1 0 1 0 -4.2 0zM467.5 695.7a2.1 2.1 0 1 0 4.2 0a2.1 2.1 0 1 0 -4.2 0zM469 695.7a2.1 2.1 0 1 0 4.2 0a2.1 2.1 0 1 0 -4.2 0zM470.5 695.1a2.1 2.1 0 1 0 4.2 0a2.1 2.1 0 1 0 -4.2 0zM472 694.8a2.1 2.1 0 1 0 4.2 0a2.1 2.1 0 1 0 -4.2 0zM473.6 695.6a2.1 2.1 0 1 0 4.2 0a2.1 2.1 0 1 0 -4.2 0zM475.1 695.5a2.1 2.1 0 1 0 4.2 0a2.1 2.1 0 1 0 -4.2 0zM476.6 695.4a2.1 2.1 0 1 0 4.2 0a2.1 2.1 0 1 0 -4.2 0zM478.1 695.5a2.1 2.1 0 1 0 4.2 0a2.1 2.1 0 1 0 -4.2 0zM479.6 695.6a2.1 2.1 0 1 0 4.2 0a2.1 2.1 0 1 0 -4.2 0zM481.1 695.9a2.1 2.1 0 1 0 4.2 0a2.1 2.1 0 1 0 -4.2 0zM482.8 695.2a2.1 2.1 0 1 0 4.2 0a2.1 2.1 0 1 0 -4.2 0zM484.5 695.5a2.1 2.1 0 1 0 4.2 0a2.1 2.1 0 1 0 -4.2 0zM486.2 695.2a2.1 2.1 0 1 0 4.2 0a2.1 2.1 0 1 0 -4.2 0z"/>
<polyline fill="none" stroke="#b857ee" stroke-width="4" stroke-linejoin="round" stroke-linecap="round" points="488.3,694.8 501.1,683.4 510.7,670.3 514.9,667.7 524.7,651.1 534.6,635.4 544.4,623.2 556,615.3 573.1,609.2 590.2,607.5 603,610.9 615.8,612.7 624.4,612.7"/>
<path fill="#b857ee" d="M486.2 691.5a2.1 2.1 0 1 0 4.2 0a2.1 2.1 0 1 0 -4.2 0zM486.9 696.3a2.1 2.1 0 1 0 4.2 0a2.1 2.1 0 1 0 -4.2 0zM487.7 692.2a2.1 2.1 0 1 0 4.2 0a2.1 2.1 0 1 0 -4.2 0zM488.4 692.4a2.1 2.1 0 1 0 4.2 0a2.1 2.1 0 1 0 -4.2 0zM489.2 693.5a2.1 2.1 0 1 0 4.2 0a2.1 2.1 0 1 0 -4.2 0zM489.9 694a2.1 2.1 0 1 0 4.2 0a2.1 2.1 0 1 0 -4.2 0zM490.7 693.5a2.1 2.1 0 1 0 4.2 0a2.1 2.1 0 1 0 -4.2 0zM491.4 692.8a2.1 2.1 0 1 0 4.2 0a2.1 2.1 0 1 0 -4.2 0zM492.2 688.3a2.1 2.1 0 1 0 4.2 0a2.1 2.1 0 1 0 -4.2 0zM492.9 688.4a2.1 2.1 0 1 0 4.2 0a2.1 2.1 0 1 0 -4.2 0zM493.7 689.9a2.1 2.1 0 1 0 4.2 0a2.1 2.1 0 1 0 -4.2 0zM494.5 688a2.1 2.1 0 1 0 4.2 0a2.1 2.1 0 1 0 -4.2 0zM495.2 683.7a2.1 2.1 0 1 0 4.2 0a2.1 2.1 0 1 0 -4.2 0zM496 685.5a2.1 2.1 0 1 0 4.2 0a2.1 2.1 0 1 0 -4.2 0zM496.7 684.5a2.1 2.1 0 1 0 4.2 0a2.1 2.1 0 1 0 -4.2 0zM497.5 686.3a2.1 2.1 0 1 0 4.2 0a2.1 2.1 0 1 0 -4.2 0zM498.2 682.7a2.1 2.1 0 1 0 4.2 0a2.1 2.1 0 1 0 -4.2 0zM499 684.5a2.1 2.1 0 1 0 4.2 0a2.1 2.1 0 1 0 -4.2 0zM499.6 680.2a2.1 2.1 0 1 0 4.2 0a2.1 2.1 0 1 0 -4.2 0zM500.2 681.2a2.1 2.1 0 1 0 4.2 0a2.1 2.1 0 1 0 -4.2 0zM500.8 681.7a2.1 2.1 0 1 0 4.2 0a2.1 2.1 0 1 0 -4.2 0zM501.4 681.1a2.1 2.1 0 1 0 4.2 0a2.1 2.1 0 1 0 -4.2 0zM502 680.4a2.1 2.1 0 1 0 4.2 0a2.1 2.1 0 1 0 -4.2 0zM502.6 676.7a2.1 2.1 0 1 0 4.2 0a2.1 2.1 0 1 0 -4.2 0zM503.2 674.7a2.1 2.1 0 1 0 4.2 0a2.1 2.1 0 1 0 -4.2 0zM503.8 677.4a2.1 2.1 0 1 0 4.2 0a2.1 2.1 0 1 0 -4.2 0zM504.4 676.5a2.1 2.1 0 1 0 4.2 0a2.1 2.1 0 1 0 -4.2 0zM505 671a2.1 2.1 0 1 0 4.2 0a2.1 2.1 0 1 0 -4.2 0zM505.6 675.8a2.1 2.1 0 1 0 4.2 0a2.1 2.1 0 1 0 -4.2 0zM506.2 679.1a2.1 2.1 0 1 0 4.2 0a2.1 2.1 0 1 0 -4.2 0zM506.8 673.5a2.1 2.1 0 1 0 4.2 0a2.1 2.1 0 1 0 -4.2 0zM507.4 671a2.1 2.1 0 1 0 4.2 0a2.1 2.1 0 1 0 -4.2 0zM508 669.2a2.1 2.1 0 1 0 4.2 0a2.1 2.1 0 1 0 -4.2 0zM508.6 671.1a2.1 2.1 0 1 0 4.2 0a2.1 2.1 0 1 0 -4.2 0zM509.7 666.7a2.1 2.1 0 1 0 4.2 0a2.1 2.1 0 1 0 -4.2 0zM510.7 667a2.1 2.1 0 1 0 4.2 0a2.1 2.1 0 1 0 -4.2 0zM511.7 666.1a2.1 2.1 0 1 0 4.2 0a2.1 2.1 0 1 0 -4.2 0zM512.8 667.1a2.1 2.1 0 1 0 4.2 0a2.1 2.1 0 1 0 -4.2 0zM513.3 668.9a2.1 2.1 0 1 0 4.2 0a2.1 2.1 0 1 0 -4.2 0zM513.8 667.4a2.1 2.1 0 1 0 4.2 0a2.1 2.1 0 1 0 -4.2 0zM514.3 666.1a2.1 2.1 0 1 0 4.2 0a2.1 2.1 0 1 0 -4.2 0zM514.9 663.5a2.1 2.1 0 1 0 4.2 0a2.1 2.1 0 1 0 -4.2 0zM515.4 660.5a2.1 2.1 0 1 0 4.2 0a2.1 2.1 0 1 0 -4.2 0zM515.9 662.1a2.1 2.1 0 1 0 4.2 0a2.1 2.1 0 1 0 -4.2 0zM516.4 661.3a2.1 2.1 0 1 0 4.2 0a2.1 2.1 0 1 0 -4.2 0zM516.9 659.9a2.1 2.1 0 1 0 4.2 0a2.1 2.1 0 1 0 -4.2 0zM517.4 661.5a2.1 2.1 0 1 0 4.2 0a2.1 2.1 0 1 0 -4.2 0zM518 660a2.1 2.1 0 1 0 4.2 0a2.1 2.1 0 1 0 -4.2 0zM518.5 659.8a2.1 2.1 0 1 0 4.2 0a2.1 2.1 0 1 0 -4.2 0zM519 658.1a2.1 2.1 0 1 0 4.2 0a2.1 2.1 0 1 0 -4.2 0zM519.5 656.3a2.1 2.1 0 1 0 4.2 0a2.1 2.1 0 1 0 -4.2 0zM520 655a2.1 2.1 0 1 0 4.2 0a2.1 2.1 0 1 0 -4.2 0zM520.6 655.2a2.1 2.1 0 1 0 4.2 0a2.1 2.1 0 1 0 -4.2 0zM521.1 655.8a2.1 2.1 0 1 0 4.2 0a2.1 2.1 0 1 0 -4.2 0zM521.6 654.5a2.1 2.1 0 1 0 4.2 0a2.1 2.1 0 1 0 -4.2 0zM522.1 649.6a2.1 2.1 0 1 0 4.2 0a2.1 2.1 0 1 0 -4.2 0zM522.6 653a2.1 2.1 0 1 0 4.2 0a2.1 2.1 0 1 0 -4.2 0zM523.2 648.4a2.1 2.1 0 1 0 4.2 0a2.1 2.1 0 1 0 -4.2 0zM523.7 649.3a2.1 2.1 0 1 0 4.2 0a2.1 2.1 0 1 0 -4.2 0zM524.3 646.1a2.1 2.1 0 1 0 4.2 0a2.1 2.1 0 1 0 -4.2 0zM524.8 649.9a2.1 2.1 0 1 0 4.2 0a2.1 2.1 0 1 0 -4.2 0zM525.4 644.9a2.1 2.1 0 1 0 4.2 0a2.1 2.1 0 1 0 -4.2 0zM525.9 645.5a2.1 2.1 0 1 0 4.2 0a2.1 2.1 0 1 0 -4.2 0zM526.4 649.6a2.1 2.1 0 1 0 4.2 0a2.1 2.1 0 1 0 -4.2 0zM527 644.4a2.1 2.1 0 1 0 4.2 0a2.1 2.1 0 1 0 -4.2 0zM527.5 642.8a2.1 2.1 0 1 0 4.2 0a2.1 2.1 0 1 0 -4.2 0zM528.1 642.9a2.1 2.1 0 1 0 4.2 0a2.1 2.1 0 1 0 -4.2 0zM528.6 636.5a2.1 2.1 0 1 0 4.2 0a2.1 2.1 0 1 0 -4.2 0zM529.2 640.8a2.1 2.1 0 1 0 4.2 0a2.1 2.1 0 1 0 -4.2 0zM529.7 638a2.1 2.1 0 1 0 4.2 0a2.1 2.1 0 1 0 -4.2 0zM530.3 640.5a2.1 2.1 0 1 0 4.2 0a2.1 2.1 0 1 0 -4.2 0zM530.8 638a2.1 2.1 0 1 0 4.2 0a2.1 2.1 0 1 0 -4.2 0zM531.4 637.4a2.1 2.1 0 1 0 4.2 0a2.1 2.1 0 1 0 -4.2 0zM531.9 633.7a2.1 2.1 0 1 0 4.2 0a2.1 2.1 0 1 0 -4.2 0zM532.5 636.3a2.1 2.1 0 1 0 4.2 0a2.1 2.1 0 1 0 -4.2 0zM533.1 635.8a2.1 2.1 0 1 0 4.2 0a2.1 2.1 0 1 0 -4.2 0zM533.8 629.8a2.1 2.1 0 1 0 4.2 0a2.1 2.1 0 1 0 -4.2 0zM534.4 629.6a2.1 2.1 0 1 0 4.2 0a2.1 2.1 0 1 0 -4.2 0zM535.1 633.3a2.1 2.1 0 1 0 4.2 0a2.1 2.1 0 1 0 -4.2 0zM535.7 628.6a2.1 2.1 0 1 0 4.2 0a2.1 2.1 0 1 0 -4.2 0zM536.4 626.1a2.1 2.1 0 1 0 4.2 0a2.1 2.1 0 1 0 -4.2 0zM537.1 629a2.1 2.1 0 1 0 4.2 0a2.1 2.1 0 1 0 -4.2 0zM537.7 624.5a2.1 2.1 0 1 0 4.2 0a2.1 2.1 0 1 0 -4.2 0zM538.4 626.3a2.1 2.1 0 1 0 4.2 0a2.1 2.1 0 1 0 -4.2 0zM539 627.8a2.1 2.1 0 1 0 4.2 0a2.1 2.1 0 1 0 -4.2 0zM539.7 625.9a2.1 2.1 0 1 0 4.2 0a2.1 2.1 0 1 0 -4.2 0zM540.3 626.2a2.1 2.1 0 1 0 4.2 0a2.1 2.1 0 1 0 -4.2 0zM541 625a2.1 2.1 0 1 0 4.2 0a2.1 2.1 0 1 0 -4.2 0zM541.6 622.5a2.1 2.1 0 1 0 4.2 0a2.1 2.1 0 1 0 -4.2 0zM542.3 622.6a2.1 2.1 0 1 0 4.2 0a2.1 2.1 0 1 0 -4.2 0zM543.2 624.5a2.1 2.1 0 1 0 4.2 0a2.1 2.1 0 1 0 -4.2 0zM544.1 620a2.1 2.1 0 1 0 4.2 0a2.1 2.1 0 1 0 -4.2 0zM545 618a2.1 2.1 0 1 0 4.2 0a2.1 2.1 0 1 0 -4.2 0zM545.9 620.3a2.1 2.1 0 1 0 4.2 0a2.1 2.1 0 1 0 -4.2 0zM546.7 620.2a2.1 2.1 0 1 0 4.2 0a2.1 2.1 0 1 0 -4.2 0zM547.6 620.8a2.1 2.1 0 1 0 4.2 0a2.1 2.1 0 1 0 -4.2 0zM548.5 619a2.1 2.1 0 1 0 4.2 0a2.1 2.1 0 1 0 -4.2 0zM549.4 622.7a2.1 2.1 0 1 0 4.2 0a2.1 2.1 0 1 0 -4.2 0zM550.3 618.6a2.1 2.1 0 1 0 4.2 0a2.1 2.1 0 1 0 -4.2 0zM551.2 624.5a2.1 2.1 0 1 0 4.2 0a2.1 2.1 0 1 0 -4.2 0zM552.1 614.2a2.1 2.1 0 1 0 4.2 0a2.1 2.1 0 1 0 -4.2 0zM553 619.2a2.1 2.1 0 1 0 4.2 0a2.1 2.1 0 1 0 -4.2 0zM553.9 618.9a2.1 2.1 0 1 0 4.2 0a2.1 2.1 0 1 0 -4.2 0zM554.8 613.8a2.1 2.1 0 1 0 4.2 0a2.1 2.1 0 1 0 -4.2 0zM555.8 615.1a2.1 2.1 0 1 0 4.2 0a2.1 2.1 0 1 0 -4.2 0zM556.7 615.3a2.1 2.1 0 1 0 4.2 0a2.1 2.1 0 1 0 -4.2 0zM557.7 612.3a2.1 2.1 0 1 0 4.2 0a2.1 2.1 0 1 0 -4.2 0zM558.6 613.1a2.1 2.1 0 1 0 4.2 0a2.1 2.1 0 1 0 -4.2 0zM559.6 614a2.1 2.1 0 1 0 4.2 0a2.1 2.1 0 1 0 -4.2 0zM560.5 611.4a2.1 2.1 0 1 0 4.2 0a2.1 2.1 0 1 0 -4.2 0zM561.5 608.3a2.1 2.1 0 1 0 4.2 0a2.1 2.1 0 1 0 -4.2 0zM562.4 612.2a2.1 2.1 0 1 0 4.2 0a2.1 2.1 0 1 0 -4.2 0zM563.4 615.9a2.1 2.1 0 1 0 4.2 0a2.1 2.1 0 1 0 -4.2 0zM564.3 611.6a2.1 2.1 0 1 0 4.2 0a2.1 2.1 0 1 0 -4.2 0zM565.3 611.8a2.1 2.1 0 1 0 4.2 0a2.1 2.1 0 1 0 -4.2 0zM566.2 612.8a2.1 2.1 0 1 0 4.2 0a2.1 2.1 0 1 0 -4.2 0zM567.2 611.3a2.1 2.1 0 1 0 4.2 0a2.1 2.1 0 1 0 -4.2 0zM568.1 610a2.1 2.1 0 1 0 4.2 0a2.1 2.1 0 1 0 -4.2 0zM569.1 610.3a2.1 2.1 0 1 0 4.2 0a2.1 2.1 0 1 0 -4.2 0zM570 607.4a2.1 2.1 0 1 0 4.2 0a2.1 2.1 0 1 0 -4.2 0zM571 609a2.1 2.1 0 1 0 4.2 0a2.1 2.1 0 1 0 -4.2 0zM572 607.5a2.1 2.1 0 1 0 4.2 0a2.1 2.1 0 1 0 -4.2 0zM573 608.3a2.1 2.1 0 1 0 4.2 0a2.1 2.1 0 1 0 -4.2 0zM574 608.5a2.1 2.1 0 1 0 4.2 0a2.1 2.1 0 1 0 -4.2 0zM575 607.4a2.1 2.1 0 1 0 4.2 0a2.1 2.1 0 1 0 -4.2 0zM576 607.4a2.1 2.1 0 1 0 4.2 0a2.1 2.1 0 1 0 -4.2 0zM577 610.2a2.1 2.1 0 1 0 4.2 0a2.1 2.1 0 1 0 -4.2 0zM578 607.3a2.1 2.1 0 1 0 4.2 0a2.1 2.1 0 1 0 -4.2 0zM579 603.7a2.1 2.1 0 1 0 4.2 0a2.1 2.1 0 1 0 -4.2 0zM580 609.3a2.1 2.1 0 1 0 4.2 0a2.1 2.1 0 1 0 -4.2 0zM581 608.8a2.1 2.1 0 1 0 4.2 0a2.1 2.1 0 1 0 -4.2 0zM582 610.8a2.1 2.1 0 1 0 4.2 0a2.1 2.1 0 1 0 -4.2 0zM583 607.6a2.1 2.1 0 1 0 4.2 0a2.1 2.1 0 1 0 -4.2 0zM584 606.8a2.1 2.1 0 1 0 4.2 0a2.1 2.1 0 1 0 -4.2 0zM585.1 609.6a2.1 2.1 0 1 0 4.2 0a2.1 2.1 0 1 0 -4.2 0zM586.1 607.8a2.1 2.1 0 1 0 4.2 0a2.1 2.1 0 1 0 -4.2 0zM587.1 606.7a2.1 2.1 0 1 0 4.2 0a2.1 2.1 0 1 0 -4.2 0zM588.1 608.1a2.1 2.1 0 1 0 4.2 0a2.1 2.1 0 1 0 -4.2 0zM589.1 604.7a2.1 2.1 0 1 0 4.2 0a2.1 2.1 0 1 0 -4.2 0zM590.1 607.3a2.1 2.1 0 1 0 4.2 0a2.1 2.1 0 1 0 -4.2 0zM591 609.6a2.1 2.1 0 1 0 4.2 0a2.1 2.1 0 1 0 -4.2 0zM592 608.6a2.1 2.1 0 1 0 4.2 0a2.1 2.1 0 1 0 -4.2 0zM593 610.8a2.1 2.1 0 1 0 4.2 0a2.1 2.1 0 1 0 -4.2 0zM594 604.5a2.1 2.1 0 1 0 4.2 0a2.1 2.1 0 1 0 -4.2 0zM595 608.4a2.1 2.1 0 1 0 4.2 0a2.1 2.1 0 1 0 -4.2 0zM596 611.7a2.1 2.1 0 1 0 4.2 0a2.1 2.1 0 1 0 -4.2 0zM597 613.5a2.1 2.1 0 1 0 4.2 0a2.1 2.1 0 1 0 -4.2 0zM597.9 610.3a2.1 2.1 0 1 0 4.2 0a2.1 2.1 0 1 0 -4.2 0zM598.9 608.3a2.1 2.1 0 1 0 4.2 0a2.1 2.1 0 1 0 -4.2 0zM599.9 610.4a2.1 2.1 0 1 0 4.2 0a2.1 2.1 0 1 0 -4.2 0zM600.9 615.4a2.1 2.1 0 1 0 4.2 0a2.1 2.1 0 1 0 -4.2 0zM602 617.1a2.1 2.1 0 1 0 4.2 0a2.1 2.1 0 1 0 -4.2 0zM603 608.8a2.1 2.1 0 1 0 4.2 0a2.1 2.1 0 1 0 -4.2 0zM604.1 611.7a2.1 2.1 0 1 0 4.2 0a2.1 2.1 0 1 0 -4.2 0zM605.2 613.5a2.1 2.1 0 1 0 4.2 0a2.1 2.1 0 1 0 -4.2 0zM606.3 612.5a2.1 2.1 0 1 0 4.2 0a2.1 2.1 0 1 0 -4.2 0zM607.3 612.1a2.1 2.1 0 1 0 4.2 0a2.1 2.1 0 1 0 -4.2 0zM608.4 610.6a2.1 2.1 0 1 0 4.2 0a2.1 2.1 0 1 0 -4.2 0zM609.5 607.4a2.1 2.1 0 1 0 4.2 0a2.1 2.1 0 1 0 -4.2 0zM610.5 606a2.1 2.1 0 1 0 4.2 0a2.1 2.1 0 1 0 -4.2 0zM611.6 612.2a2.1 2.1 0 1 0 4.2 0a2.1 2.1 0 1 0 -4.2 0zM612.7 615.5a2.1 2.1 0 1 0 4.2 0a2.1 2.1 0 1 0 -4.2 0zM613.7 611.4a2.1 2.1 0 1 0 4.2 0a2.1 2.1 0 1 0 -4.2 0zM614.8 611.9a2.1 2.1 0 1 0 4.2 0a2.1 2.1 0 1 0 -4.2 0zM615.9 611.5a2.1 2.1 0 1 0 4.2 0a2.1 2.1 0 1 0 -4.2 0zM617 607.8a2.1 2.1 0 1 0 4.2 0a2.1 2.1 0 1 0 -4.2 0zM618 610.6a2.1 2.1 0 1 0 4.2 0a2.1 2.1 0 1 0 -4.2 0zM619.1 610.4a2.1 2.1 0 1 0 4.2 0a2.1 2.1 0 1 0 -4.2 0zM620.2 611.3a2.1 2.1 0 1 0 4.2 0a2.1 2.1 0 1 0 -4.2 0zM621.2 613.4a2.1 2.1 0 1 0 4.2 0a2.1 2.1 0 1 0 -4.2 0zM622.3 616.7a2.1 2.1 0 1 0 4.2 0a2.1 2.1 0 1 0 -4.2 0z"/>
<polyline fill="none" stroke="#4cec6e" stroke-width="3" stroke-linejoin="round" stroke-linecap="round" points="410.5,696.5 494.6,696.5"/>
<path fill="#4cec6e" d="M410.5 699.1l2.8 -5h-5.5zM412 699.2l2.8 -5h-5.5zM413.5 698.9l2.8 -5h-5.5zM415 699.2l2.8 -5h-5.5zM416.5 699.2l2.8 -5h-5.5zM418 698.9l2.8 -5h-5.5zM419.5 699.2l2.8 -5h-5.5zM421 698.9l2.8 -5h-5.5zM422.5 699.2l2.8 -5h-5.5zM424 699.2l2.8 -5h-5.5zM425.5 699.2l2.8 -5h-5.5zM427 699.2l2.8 -5h-5.5zM428.5 699l2.8 -5h-5.5zM430 699.2l2.8 -5h-5.5zM431.5 699l2.8 -5h-5.5zM433 699.2l2.8 -5h-5.5zM434.5 699l2.8 -5h-5.5zM436 699.2l2.8 -5h-5.5zM437.5 699.2l2.8 -5h-5.5zM439.1 699.2l2.8 -5h-5.5zM440.6 699.2l2.8 -5h-5.5zM442.1 699.2l2.8 -5h-5.5zM443.6 699.2l2.8 -5h-5.5zM445.1 699.2l2.8 -5h-5.5zM446.6 698.8l2.8 -5h-5.5zM448.1 699.2l2.8 -5h-5.5zM449.6 699.2l2.8 -5h-5.5zM451.1 699.2l2.8 -5h-5.5zM452.6 698.8l2.8 -5h-5.5zM454.1 699.2l2.8 -5h-5.5zM455.6 699.2l2.8 -5h-5.5zM457.1 699l2.8 -5h-5.5zM458.6 699.2l2.8 -5h-5.5zM460.1 699.1l2.8 -5h-5.5zM461.6 699.1l2.8 -5h-5.5zM463.1 699.2l2.8 -5h-5.5zM464.6 699.2l2.8 -5h-5.5zM466.1 699.2l2.8 -5h-5.5zM467.6 699.2l2.8 -5h-5.5zM469.1 699.2l2.8 -5h-5.5zM470.6 699.2l2.8 -5h-5.5zM472.1 699.2l2.8 -5h-5.5zM473.6 699.2l2.8 -5h-5.5zM475.1 699.1l2.8 -5h-5.5zM476.6 699.1l2.8 -5h-5.5zM478.1 699.2l2.8 -5h-5.5zM479.6 699.2l2.8 -5h-5.5zM481.1 699.2l2.8 -5h-5.5zM482.6 699l2.8 -5h-5.5zM484.1 699l2.8 -5h-5.5zM485.6 699.1l2.8 -5h-5.5zM487.1 699.2l2.8 -5h-5.5zM488.6 699.2l2.8 -5h-5.5zM490.1 699.2l2.8 -5h-5.5zM491.6 699l2.8 -5h-5.5zM493.1 698.9l2.8 -5h-5.5zM494.6 699.2l2.8 -5h-5.5z"/>
<polyline fill="none" stroke="#4cec6e" stroke-width="4" stroke-linejoin="round" stroke-linecap="round" points="494.6,696.5 504.4,690 512.3,677.3 514.9,674.7 517.9,667.7 524.7,659.8 534.6,642.4 544.4,628.4 556,617.9 564.1,617.9 573.9,610.9 583.8,604.8 593.6,610.9 603,621.4 612.8,631 624.4,635.4"/>
<path fill="#4cec6e" d="M494.6 698.7l2.8 -5h-5.5zM495.5 699.2l2.8 -5h-5.5zM496.4 697.6l2.8 -5h-5.5zM497.3 692.3l2.8 -5h-5.5zM498.2 692.1l2.8 -5h-5.5zM499.1 699.2l2.8 -5h-5.5zM499.9 695.3l2.8 -5h-5.5zM500.8 692.8l2.8 -5h-5.5zM501.7 696.2l2.8 -5h-5.5zM502.6 698l2.8 -5h-5.5zM503.5 692.7l2.8 -5h-5.5zM504.4 691.1l2.8 -5h-5.5zM504.9 691.8l2.8 -5h-5.5zM505.5 692.8l2.8 -5h-5.5zM506.1 695.4l2.8 -5h-5.5zM506.6 686.9l2.8 -5h-5.5zM507.2 688.2l2.8 -5h-5.5zM507.8 683.3l2.8 -5h-5.5zM508.3 682l2.8 -5h-5.5zM508.9 680.5l2.8 -5h-5.5zM509.5 683.9l2.8 -5h-5.5zM510 686.5l2.8 -5h-5.5zM510.6 687.1l2.8 -5h-5.5zM511.2 685.4l2.8 -5h-5.5zM511.7 680l2.8 -5h-5.5zM512.3 679.4l2.8 -5h-5.5zM513.2 677l2.8 -5h-5.5zM514 675.8l2.8 -5h-5.5zM514.9 674.6l2.8 -5h-5.5zM515.3 680.6l2.8 -5h-5.5zM515.7 672.2l2.8 -5h-5.5zM516.2 671.1l2.8 -5h-5.5zM516.6 668.9l2.8 -5h-5.5zM517 674.4l2.8 -5h-5.5zM517.4 674l2.8 -5h-5.5zM517.9 668.4l2.8 -5h-5.5zM518.6 664l2.8 -5h-5.5zM519.2 668.5l2.8 -5h-5.5zM519.9 670.4l2.8 -5h-5.5zM520.6 671.3l2.8 -5h-5.5zM521.3 666.4l2.8 -5h-5.5zM522 667.6l2.8 -5h-5.5zM522.7 666.8l2.8 -5h-5.5zM523.4 663.3l2.8 -5h-5.5zM524 668.5l2.8 -5h-5.5zM524.7 661.4l2.8 -5h-5.5zM525.2 664.9l2.8 -5h-5.5zM525.7 661l2.8 -5h-5.5zM526.2 658.2l2.8 -5h-5.5zM526.7 657.2l2.8 -5h-5.5zM527.2 658l2.8 -5h-5.5zM527.7 657.9l2.8 -5h-5.5zM528.2 656.6l2.8 -5h-5.5zM528.7 654.2l2.8 -5h-5.5zM529.2 653.2l2.8 -5h-5.5zM529.6 652.4l2.8 -5h-5.5zM530.1 657.1l2.8 -5h-5.5zM530.6 654.1l2.8 -5h-5.5zM531.1 653.7l2.8 -5h-5.5zM531.6 652.8l2.8 -5h-5.5zM532.1 645.8l2.8 -5h-5.5zM532.6 641l2.8 -5h-5.5zM533.1 643.3l2.8 -5h-5.5zM533.6 644l2.8 -5h-5.5zM534.1 649.9l2.8 -5h-5.5zM534.6 649.2l2.8 -5h-5.5zM535.1 644.4l2.8 -5h-5.5zM535.7 639.5l2.8 -5h-5.5zM536.3 644.6l2.8 -5h-5.5zM536.9 643.7l2.8 -5h-5.5zM537.5 641.7l2.8 -5h-5.5zM538 641.1l2.8 -5h-5.5zM538.6 638.1l2.8 -5h-5.5zM539.2 639.2l2.8 -5h-5.5zM539.8 640.1l2.8 -5h-5.5zM540.3 632.6l2.8 -5h-5.5zM540.9 635.8l2.8 -5h-5.5zM541.5 636.3l2.8 -5h-5.5zM542.1 634.1l2.8 -5h-5.5zM542.7 633.2l2.8 -5h-5.5zM543.2 633.6l2.8 -5h-5.5zM543.8 628.5l2.8 -5h-5.5zM544.4 631.9l2.8 -5h-5.5zM545.2 632.9l2.8 -5h-5.5zM545.9 625.8l2.8 -5h-5.5zM546.7 629.8l2.8 -5h-5.5zM547.5 628.2l2.8 -5h-5.5zM548.3 624.7l2.8 -5h-5.5zM549 623.5l2.8 -5h-5.5zM549.8 627l2.8 -5h-5.5zM550.6 625.1l2.8 -5h-5.5zM551.3 627.8l2.8 -5h-5.5zM552.1 626.5l2.8 -5h-5.5zM552.9 625.1l2.8 -5h-5.5zM553.6 629.4l2.8 -5h-5.5zM554.4 622.9l2.8 -5h-5.5zM555.2 617.7l2.8 -5h-5.5zM556 624.8l2.8 -5h-5.5zM557 619.8l2.8 -5h-5.5zM558 616.8l2.8 -5h-5.5zM559 617.5l2.8 -5h-5.5zM560 618.6l2.8 -5h-5.5zM561 625.8l2.8 -5h-5.5zM562 623.6l2.8 -5h-5.5zM563.1 617.7l2.8 -5h-5.5zM564.1 622.3l2.8 -5h-5.5zM564.9 621.5l2.8 -5h-5.5zM565.7 610.5l2.8 -5h-5.5zM566.5 613l2.8 -5h-5.5zM567.4 616.3l2.8 -5h-5.5zM568.2 621.2l2.8 -5h-5.5zM569 616.9l2.8 -5h-5.5zM569.8 618.4l2.8 -5h-5.5zM570.6 623.2l2.8 -5h-5.5zM571.5 619.7l2.8 -5h-5.5zM572.3 619.5l2.8 -5h-5.5zM573.1 612.8l2.8 -5h-5.5zM573.9 615l2.8 -5h-5.5zM574.8 615.6l2.8 -5h-5.5zM575.7 609.5l2.8 -5h-5.5zM576.6 612.2l2.8 -5h-5.5zM577.5 609.3l2.8 -5h-5.5zM578.4 610.1l2.8 -5h-5.5zM579.3 610.2l2.8 -5h-5.5zM580.2 609.2l2.8 -5h-5.5zM581.1 613.9l2.8 -5h-5.5zM582 607.9l2.8 -5h-5.5zM582.9 611.5l2.8 -5h-5.5zM583.8 601.6l2.8 -5h-5.5zM584.7 606.5l2.8 -5h-5.5zM585.5 610l2.8 -5h-5.5zM586.4 605.5l2.8 -5h-5.5zM587.3 610.4l2.8 -5h-5.5zM588.2 611.6l2.8 -5h-5.5zM589.1 606.2l2.8 -5h-5.5zM590 611.6l2.8 -5h-5.5zM590.9 610.4l2.8 -5h-5.5zM591.8 613l2.8 -5h-5.5zM592.7 613.2l2.8 -5h-5.5zM593.6 614.2l2.8 -5h-5.5zM594.3 611.1l2.8 -5h-5.5zM594.9 614.9l2.8 -5h-5.5zM595.6 619.9l2.8 -5h-5.5zM596.3 615.9l2.8 -5h-5.5zM597 611.2l2.8 -5h-5.5zM597.6 614.2l2.8 -5h-5.5zM598.3 622.6l2.8 -5h-5.5zM599 617.8l2.8 -5h-5.5zM599.6 620.5l2.8 -5h-5.5zM600.3 621.7l2.8 -5h-5.5zM601 622.4l2.8 -5h-5.5zM601.7 629.3l2.8 -5h-5.5zM602.3 623.4l2.8 -5h-5.5zM603 623.2l2.8 -5h-5.5zM603.8 623.5l2.8 -5h-5.5zM604.5 625.3l2.8 -5h-5.5zM605.3 625.1l2.8 -5h-5.5zM606 627.3l2.8 -5h-5.5zM606.8 626.8l2.8 -5h-5.5zM607.6 631.5l2.8 -5h-5.5zM608.3 632.3l2.8 -5h-5.5zM609.1 630.1l2.8 -5h-5.5zM609.8 637.6l2.8 -5h-5.5zM610.6 628.5l2.8 -5h-5.5zM611.3 634.2l2.8 -5h-5.5zM612.1 634l2.8 -5h-5.5zM612.8 635.2l2.8 -5h-5.5zM613.8 634.3l2.8 -5h-5.5zM614.8 630.5l2.8 -5h-5.5zM615.7 629.2l2.8 -5h-5.5zM616.7 639.9l2.8 -5h-5.5zM617.7 637.8l2.8 -5h-5.5zM618.6 636.4l2.8 -5h-5.5zM619.6 634.2l2.8 -5h-5.5zM620.5 637.4l2.8 -5h-5.5zM621.5 638.7l2.8 -5h-5.5zM622.5 638.1l2.8 -5h-5.5zM623.4 637l2.8 -5h-5.5zM624.4 637l2.8 -5h-5.5z"/>
<polyline fill="none" stroke="#ebbd2b" stroke-width="3.5" stroke-linejoin="round" stroke-linecap="round" points="410.5,670.3 411.4,672.1 413.1,681.7 416,686 432.1,686.5 445,686 456.2,689.5 472.1,686 488.3,680.8 501.1,673.8 510.7,663.3 514.9,657.2 517.9,652"/>
<path fill="#ebbd2b" d="M407.8 670.3l5 -2.8v5.5zM408.6 671.9l5 -2.8v5.5zM408.8 673.9l5 -2.8v5.5zM409 672.8l5 -2.8v5.5zM409.2 674.9l5 -2.8v5.5zM409.4 676.3l5 -2.8v5.5zM409.6 677.3l5 -2.8v5.5zM409.7 678.2l5 -2.8v5.5zM409.9 680.5l5 -2.8v5.5zM410.1 680.5l5 -2.8v5.5zM410.3 682.7l5 -2.8v5.5zM410.9 682.8l5 -2.8v5.5zM411.5 683l5 -2.8v5.5zM412.1 685l5 -2.8v5.5zM412.7 685.4l5 -2.8v5.5zM413.3 685.1l5 -2.8v5.5zM414.3 685.8l5 -2.8v5.5zM415.3 686.9l5 -2.8v5.5zM416.3 685.7l5 -2.8v5.5zM417.3 685.9l5 -2.8v5.5zM418.3 686.8l5 -2.8v5.5zM419.3 686.5l5 -2.8v5.5zM420.3 684.9l5 -2.8v5.5zM421.3 686.1l5 -2.8v5.5zM422.3 687.2l5 -2.8v5.5zM423.3 685.7l5 -2.8v5.5zM424.3 685.7l5 -2.8v5.5zM425.3 687.2l5 -2.8v5.5zM426.3 685.4l5 -2.8v5.5zM427.3 686.1l5 -2.8v5.5zM428.3 687.6l5 -2.8v5.5zM429.4 685.1l5 -2.8v5.5zM430.4 687l5 -2.8v5.5zM431.5 686.7l5 -2.8v5.5zM432.6 686.7l5 -2.8v5.5zM433.6 686.8l5 -2.8v5.5zM434.7 685.8l5 -2.8v5.5zM435.8 685.8l5 -2.8v5.5zM436.9 686.6l5 -2.8v5.5zM437.9 686.2l5 -2.8v5.5zM439 686l5 -2.8v5.5zM440.1 684.9l5 -2.8v5.5zM441.2 686.1l5 -2.8v5.5zM442.2 687l5 -2.8v5.5zM443.2 686.9l5 -2.8v5.5zM444.3 686.8l5 -2.8v5.5zM445.3 687.5l5 -2.8v5.5zM446.3 688.4l5 -2.8v5.5zM447.3 686.9l5 -2.8v5.5zM448.3 687.2l5 -2.8v5.5zM449.4 688.6l5 -2.8v5.5zM450.4 688.5l5 -2.8v5.5zM451.4 689.1l5 -2.8v5.5zM452.4 689.9l5 -2.8v5.5zM453.4 689.7l5 -2.8v5.5zM454.4 689.1l5 -2.8v5.5zM455.4 689.7l5 -2.8v5.5zM456.4 687.9l5 -2.8v5.5zM457.4 688.9l5 -2.8v5.5zM458.4 688.2l5 -2.8v5.5zM459.4 687.9l5 -2.8v5.5zM460.4 687.5l5 -2.8v5.5zM461.4 688.6l5 -2.8v5.5zM462.4 687.6l5 -2.8v5.5zM463.4 688.4l5 -2.8v5.5zM464.4 687.7l5 -2.8v5.5zM465.4 687.1l5 -2.8v5.5zM466.4 686.6l5 -2.8v5.5zM467.4 686.4l5 -2.8v5.5zM468.4 685.4l5 -2.8v5.5zM469.4 686.2l5 -2.8v5.5zM470.4 686.4l5 -2.8v5.5zM471.4 685.7l5 -2.8v5.5zM472.4 686.4l5 -2.8v5.5zM473.4 684.8l5 -2.8v5.5zM474.4 684.2l5 -2.8v5.5zM475.4 682.9l5 -2.8v5.5zM476.4 683.8l5 -2.8v5.5zM477.4 683.3l5 -2.8v5.5zM478.4 682.6l5 -2.8v5.5zM479.5 682.4l5 -2.8v5.5zM480.5 682.3l5 -2.8v5.5zM481.5 682.1l5 -2.8v5.5zM482.5 682l5 -2.8v5.5zM483.5 681.2l5 -2.8v5.5zM484.5 681.7l5 -2.8v5.5zM485.5 681.3l5 -2.8v5.5zM486.4 680.7l5 -2.8v5.5zM487.4 680.4l5 -2.8v5.5zM488.3 679.3l5 -2.8v5.5zM489.2 677.5l5 -2.8v5.5zM490.1 678.9l5 -2.8v5.5zM491 677.6l5 -2.8v5.5zM491.9 677.2l5 -2.8v5.5zM492.8 676.5l5 -2.8v5.5zM493.7 676.7l5 -2.8v5.5zM494.7 675.6l5 -2.8v5.5zM495.6 676l5 -2.8v5.5zM496.5 673.9l5 -2.8v5.5zM497.4 674.3l5 -2.8v5.5zM498.3 673.3l5 -2.8v5.5zM499 673.1l5 -2.8v5.5zM499.7 672.9l5 -2.8v5.5zM500.4 671.1l5 -2.8v5.5zM501.1 671.3l5 -2.8v5.5zM501.8 671.1l5 -2.8v5.5zM502.5 668.9l5 -2.8v5.5zM503.1 668.9l5 -2.8v5.5zM503.8 667.3l5 -2.8v5.5zM504.5 667.3l5 -2.8v5.5zM505.2 667l5 -2.8v5.5zM505.9 665.7l5 -2.8v5.5zM506.6 665.7l5 -2.8v5.5zM507.3 663.7l5 -2.8v5.5zM508 663.4l5 -2.8v5.5zM508.6 661l5 -2.8v5.5zM509.2 662l5 -2.8v5.5zM509.8 660.1l5 -2.8v5.5zM510.4 661l5 -2.8v5.5zM510.9 659.2l5 -2.8v5.5zM511.5 657.3l5 -2.8v5.5zM512.1 656.3l5 -2.8v5.5zM512.6 655.8l5 -2.8v5.5zM513.1 655l5 -2.8v5.5zM513.6 653.6l5 -2.8v5.5zM514.1 653.1l5 -2.8v5.5zM514.6 651.8l5 -2.8v5.5zM515.1 652.6l5 -2.8v5.5z"/>
<polyline fill="none" stroke="#ebbd2b" stroke-width="6" stroke-linejoin="round" stroke-linecap="round" points="517.9,652 524.7,642.4 534.6,628.4 544.4,615.3 556,610.9 564.1,610.9 573.9,604 583.8,604.8 593.6,609.2 603,617.9 612.8,624.9 624.4,626.7"/>
<path fill="#ebbd2b" d="M515.1 647.8l5 -2.8v5.5zM515.6 643.2l5 -2.8v5.5zM516.1 652.1l5 -2.8v5.5zM516.6 649.1l5 -2.8v5.5zM517.1 646.9l5 -2.8v5.5zM517.6 650l5 -2.8v5.5zM518.1 653.1l5 -2.8v5.5zM518.6 645.9l5 -2.8v5.5zM519 646.2l5 -2.8v5.5zM519.5 638.9l5 -2.8v5.5zM520 649.5l5 -2.8v5.5zM520.5 650.2l5 -2.8v5.5zM521 639.9l5 -2.8v5.5zM521.5 645.2l5 -2.8v5.5zM522 634.6l5 -2.8v5.5zM522.4 646l5 -2.8v5.5zM522.9 638.9l5 -2.8v5.5zM523.4 638.2l5 -2.8v5.5zM523.8 640.7l5 -2.8v5.5zM524.3 643.2l5 -2.8v5.5zM524.8 644.9l5 -2.8v5.5zM525.3 634.4l5 -2.8v5.5zM525.7 632.1l5 -2.8v5.5zM526.2 645.6l5 -2.8v5.5zM526.7 652.1l5 -2.8v5.5zM527.1 644.2l5 -2.8v5.5zM527.6 632l5 -2.8v5.5zM528.1 629.8l5 -2.8v5.5zM528.5 636.4l5 -2.8v5.5zM529 633.2l5 -2.8v5.5zM529.5 624.7l5 -2.8v5.5zM529.9 632.9l5 -2.8v5.5zM530.4 628.2l5 -2.8v5.5zM530.9 632.1l5 -2.8v5.5zM531.3 630.5l5 -2.8v5.5zM531.8 631.9l5 -2.8v5.5zM532.3 628.7l5 -2.8v5.5zM532.8 623.7l5 -2.8v5.5zM533.3 630.7l5 -2.8v5.5zM533.8 624.9l5 -2.8v5.5zM534.3 617l5 -2.8v5.5zM534.8 623l5 -2.8v5.5zM535.3 620.5l5 -2.8v5.5zM535.7 615l5 -2.8v5.5zM536.2 618.6l5 -2.8v5.5zM536.7 612.8l5 -2.8v5.5zM537.2 619.5l5 -2.8v5.5zM537.7 614.5l5 -2.8v5.5zM538.2 619.8l5 -2.8v5.5zM538.7 625l5 -2.8v5.5zM539.2 614.2l5 -2.8v5.5zM539.7 615.6l5 -2.8v5.5zM540.2 617.3l5 -2.8v5.5zM540.7 619.5l5 -2.8v5.5zM541.2 620.1l5 -2.8v5.5zM541.7 620.2l5 -2.8v5.5zM542.4 613.7l5 -2.8v5.5zM543.2 624.8l5 -2.8v5.5zM544 617.5l5 -2.8v5.5zM544.7 616l5 -2.8v5.5zM545.5 617.7l5 -2.8v5.5zM546.3 602.2l5 -2.8v5.5zM547 612.4l5 -2.8v5.5zM547.8 618.8l5 -2.8v5.5zM548.6 614.5l5 -2.8v5.5zM549.4 611.7l5 -2.8v5.5zM550.1 615.7l5 -2.8v5.5zM550.9 613.6l5 -2.8v5.5zM551.7 606l5 -2.8v5.5zM552.4 610.6l5 -2.8v5.5zM553.2 612.1l5 -2.8v5.5zM554 602.7l5 -2.8v5.5zM554.8 610.4l5 -2.8v5.5zM555.6 612.3l5 -2.8v5.5zM556.5 607.6l5 -2.8v5.5zM557.3 612.7l5 -2.8v5.5zM558.1 609.3l5 -2.8v5.5zM558.9 618l5 -2.8v5.5zM559.7 615.3l5 -2.8v5.5zM560.5 607.4l5 -2.8v5.5zM561.3 612l5 -2.8v5.5zM562 612l5 -2.8v5.5zM562.6 602.9l5 -2.8v5.5zM563.3 609.6l5 -2.8v5.5zM564 602.5l5 -2.8v5.5zM564.6 603.2l5 -2.8v5.5zM565.3 605.9l5 -2.8v5.5zM565.9 604.9l5 -2.8v5.5zM566.6 601.5l5 -2.8v5.5zM567.2 599.8l5 -2.8v5.5zM567.9 593.5l5 -2.8v5.5zM568.5 603.1l5 -2.8v5.5zM569.2 600.8l5 -2.8v5.5zM569.9 601.5l5 -2.8v5.5zM570.5 606.3l5 -2.8v5.5zM571.2 605.9l5 -2.8v5.5zM572 601.7l5 -2.8v5.5zM572.8 608.2l5 -2.8v5.5zM573.6 599.8l5 -2.8v5.5zM574.4 601l5 -2.8v5.5zM575.3 602.1l5 -2.8v5.5zM576.1 611.3l5 -2.8v5.5zM576.9 610.3l5 -2.8v5.5zM577.7 603.1l5 -2.8v5.5zM578.5 603.9l5 -2.8v5.5zM579.4 607l5 -2.8v5.5zM580.2 600.2l5 -2.8v5.5zM581 610.7l5 -2.8v5.5zM581.8 603.8l5 -2.8v5.5zM582.5 603.2l5 -2.8v5.5zM583.3 603.5l5 -2.8v5.5zM584 603.3l5 -2.8v5.5zM584.8 601.4l5 -2.8v5.5zM585.6 603l5 -2.8v5.5zM586.3 601.8l5 -2.8v5.5zM587.1 605.1l5 -2.8v5.5zM587.8 605.5l5 -2.8v5.5zM588.6 601.4l5 -2.8v5.5zM589.3 596.4l5 -2.8v5.5zM590.1 606.9l5 -2.8v5.5zM590.8 600.7l5 -2.8v5.5zM591.4 610.8l5 -2.8v5.5zM592 611.9l5 -2.8v5.5zM592.6 612.2l5 -2.8v5.5zM593.2 615.7l5 -2.8v5.5zM593.8 617.8l5 -2.8v5.5zM594.4 607.3l5 -2.8v5.5zM595 612.3l5 -2.8v5.5zM595.6 616.6l5 -2.8v5.5zM596.1 611.1l5 -2.8v5.5zM596.7 615.2l5 -2.8v5.5zM597.3 611.3l5 -2.8v5.5zM597.9 614.5l5 -2.8v5.5zM598.5 614.2l5 -2.8v5.5zM599.1 611.7l5 -2.8v5.5zM599.7 613.4l5 -2.8v5.5zM600.3 620.9l5 -2.8v5.5zM600.9 611.1l5 -2.8v5.5zM601.6 618.8l5 -2.8v5.5zM602.2 624.6l5 -2.8v5.5zM602.9 626.1l5 -2.8v5.5zM603.5 630.1l5 -2.8v5.5zM604.2 623l5 -2.8v5.5zM604.9 627.6l5 -2.8v5.5zM605.5 619.9l5 -2.8v5.5zM606.2 624.1l5 -2.8v5.5zM606.8 628.5l5 -2.8v5.5zM607.5 619.6l5 -2.8v5.5zM608.1 620.1l5 -2.8v5.5zM608.8 629.4l5 -2.8v5.5zM609.4 625.1l5 -2.8v5.5zM610.1 629.7l5 -2.8v5.5zM610.9 626l5 -2.8v5.5zM611.7 617.4l5 -2.8v5.5zM612.6 623.9l5 -2.8v5.5zM613.4 634.5l5 -2.8v5.5zM614.2 633.9l5 -2.8v5.5zM615 619.5l5 -2.8v5.5zM615.9 627.3l5 -2.8v5.5zM616.7 626.1l5 -2.8v5.5zM617.5 630.5l5 -2.8v5.5zM618.3 628.4l5 -2.8v5.5zM619.2 624l5 -2.8v5.5zM620 629l5 -2.8v5.5zM620.8 629.8l5 -2.8v5.5zM621.6 624.4l5 -2.8v5.5z"/>
</g>
<path fill="#111" d="M519.1 522.4h1.8v2.5h-1.8zM519.1 530.8h1.8v2.5h-1.8zM519.1 589.5h1.8v2.5h-1.8zM519.1 597.9h1.8v2.5h-1.8zM519.1 606.2h1.8v2.5h-1.8zM519.1 614.6h1.8v2.5h-1.8zM519.1 623h1.8v2.5h-1.8zM519.1 631.4h1.8v2.5h-1.8zM519.1 639.8h1.8v2.5h-1.8zM519.1 648.1h1.8v2.5h-1.8zM519.1 656.5h1.8v2.5h-1.8zM519.1 664.9h1.8v2.5h-1.8zM519.1 673.3h1.8v2.5h-1.8zM519.1 681.7h1.8v2.5h-1.8zM519.1 690h1.8v2.5h-1.8z"/>
<text transform="translate(397.5,701.1) scale(1,1.08)" font-size="14.6" text-anchor="end" fill="#555">0.0</text>
<text transform="translate(397.5,657.5) scale(1,1.08)" font-size="14.6" text-anchor="end" fill="#555">0.5</text>
<text transform="translate(397.5,613.8) scale(1,1.08)" font-size="14.6" text-anchor="end" fill="#555">1.0</text>
<text transform="translate(397.5,570.1) scale(1,1.08)" font-size="14.6" text-anchor="end" fill="#555">1.5</text>
<text transform="translate(397.5,526.5) scale(1,1.08)" font-size="14.6" text-anchor="end" fill="#555">2.0</text>
<text transform="translate(636.7,701.1) scale(1,1.08)" font-size="14.6" text-anchor="start" fill="#555">0</text>
<text transform="translate(636.7,657.5) scale(1,1.08)" font-size="14.6" text-anchor="start" fill="#555">5</text>
<text transform="translate(636.7,613.8) scale(1,1.08)" font-size="14.6" text-anchor="start" fill="#555">10</text>
<text transform="translate(636.7,570.1) scale(1,1.08)" font-size="14.6" text-anchor="start" fill="#555">15</text>
<text transform="translate(636.7,526.5) scale(1,1.08)" font-size="14.6" text-anchor="start" fill="#555">20</text>
<text transform="translate(410.5,721.1) scale(1,1.08)" font-size="14.6" text-anchor="middle" fill="#555">0</text>
<text transform="translate(453.3,721.1) scale(1,1.08)" font-size="14.6" text-anchor="middle" fill="#555">100</text>
<text transform="translate(496.1,721.1) scale(1,1.08)" font-size="14.6" text-anchor="middle" fill="#555">200</text>
<text transform="translate(538.8,721.1) scale(1,1.08)" font-size="14.6" text-anchor="middle" fill="#555">300</text>
<text transform="translate(581.6,721.1) scale(1,1.08)" font-size="14.6" text-anchor="middle" fill="#555">400</text>
<text transform="translate(624.4,721.1) scale(1,1.08)" font-size="14.6" text-anchor="middle" fill="#555">500</text>
<text transform="translate(517.6,749.5) scale(1,1.04)" font-size="15.6" text-anchor="middle" fill="#555">Depth (nm)</text>
<text transform="translate(516.6,518.7) scale(1,1.07)" font-size="14.8" text-anchor="start" fill="#555">B10A1</text>
<text transform="translate(363.9,609.2) rotate(-90) scale(1,1.12)" font-size="15.5" text-anchor="middle" fill="#555">C<tspan font-size="11" dy="4.6">norm</tspan><tspan dy="-4.6">(i)</tspan></text>
<text transform="translate(678.4,610.7) rotate(-90) scale(1,1.04)" font-size="15.8" text-anchor="middle" fill="#555">C<tspan font-size="11" dy="4.6">norm</tspan><tspan dy="-4.6">(</tspan><tspan fill="#35c6cf">H</tspan><tspan fill="#35c6cf" font-size="9" dy="-4.5">+</tspan><tspan dy="4.5">)</tspan></text>
<text transform="translate(457,536.6) scale(1,1.08)" font-size="12.9" text-anchor="start" fill="#555">Gel</text>
<text transform="translate(537.4,536.6) scale(1,1.08)" font-size="12.9" text-anchor="start" fill="#555">Pristine glass</text>
<path fill="#7cf8f2" d="M436 549.7h4.2v4.2h-4.2z"/>
<path fill="#b857ee" d="M498.5 551.8a2.1 2.1 0 1 0 4.2 0a2.1 2.1 0 1 0 -4.2 0z"/>
<path fill="#f3b3fb" d="M558.4 549l2.8 5h-5.5z"/>
<path fill="#4cec6e" d="M438.1 576.1l2.8 -5h-5.5z"/>
<path fill="#9a9a9a" d="M501.1 570.6l2.5 2.5 -2.5 2.5 -2.5 -2.5z"/>
<path fill="#ebbd2b" d="M555.6 572.6l5 -2.8v5.5z"/>
<text transform="translate(460.6,556.7) scale(1,1.08)" font-size="13.2" fill="#555">H<tspan font-size="9" dy="-4">+</tspan></text>
<text transform="translate(519.4,556.7) scale(1,1.08)" font-size="13.2" fill="#555">B<tspan font-size="9" dy="-4">+</tspan></text>
<text transform="translate(580.8,556.7) scale(1,1.08)" font-size="13.2" fill="#555">Ca<tspan font-size="9" dy="-4">2+</tspan></text>
<text transform="translate(457,578.3) scale(1,1.08)" font-size="13.2" fill="#555">Na<tspan font-size="9" dy="-4">+</tspan></text>
<text transform="translate(519.4,577.5) scale(1,1.08)" font-size="13.2" fill="#555">Al<tspan font-size="9" dy="-4">+</tspan></text>
<text transform="translate(577.6,577.5) scale(1,1.08)" font-size="13.2" fill="#555">Si<tspan font-size="9" dy="-4">+</tspan></text>
</svg></body></html>
